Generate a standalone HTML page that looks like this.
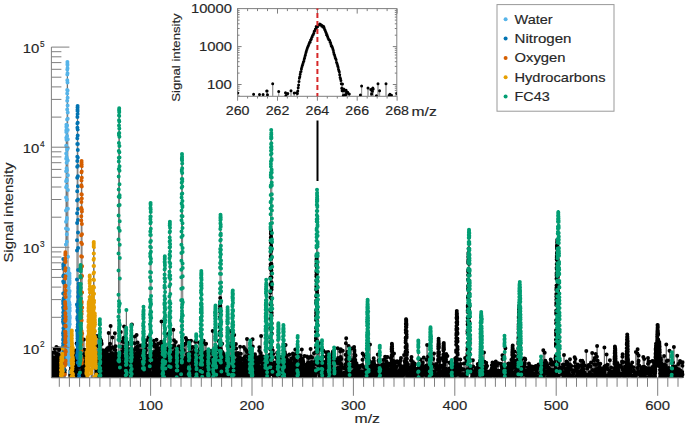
<!DOCTYPE html>
<html><head><meta charset="utf-8"><style>
html,body{margin:0;padding:0;background:#fff}
body{width:685px;height:429px;overflow:hidden}
svg{display:block}
text{font-family:"Liberation Sans",sans-serif;font-size:12.6px;fill:#262626;stroke:#262626;stroke-width:0.15px}
</style></head><body>
<svg width="685" height="429" viewBox="0 0 685 429">
<clipPath id="cm"><rect x="51.4" y="0" width="633.3" height="377.8"/></clipPath>
<g clip-path="url(#cm)">
<path d="M51.2 400 51.3 400 51.3 369.9 51.4 400 51.4 374.9 51.4 376.8 51.5 400 51.5 400 51.5 373.1 51.5 400 51.6 400 51.6 367.1 51.6 376.3 51.7 368.6 51.7 400 51.8 400 51.8 362.2 51.8 400 51.8 400 51.9 357.7 51.9 355.3 51.9 360.6 52 400 52 400 52 376.7 52.1 369.2 52.1 352.6 52.1 359.9 52.2 400 52.2 357.3 52.2 371.9 52.2 367.4 52.3 365.6 52.3 400 52.3 377.2 52.4 374 52.4 353.1 52.4 400 52.5 400 52.5 374.5 52.5 400 52.5 360.5 52.6 400 52.6 372.5 52.6 400 52.7 367.7 52.7 370.7 52.7 400 52.8 371 52.8 374 52.8 363.1 52.9 374.5 52.9 374 52.9 363.5 52.9 363.7 53 371.8 53 373.3 53 400 53.1 374.2 53.1 372.5 53.1 364.4 53.2 400 53.2 369.5 53.2 365.7 53.2 400 53.3 377 53.3 400 53.3 400 53.4 374 53.4 400 53.4 374.7 53.5 364.6 53.5 368.1 53.5 400 53.6 400 53.6 374 53.6 400 53.6 374.7 53.7 359.1 53.7 400 53.7 400 53.8 376.2 53.8 400 53.8 368.2 53.9 374.5 53.9 375.5 53.9 400 53.9 376.4 54 400 54 400 54 368.2 54.1 400 54.1 359.5 54.1 400 54.2 400 54.3 372.7 54.3 400 54.3 373.1 54.3 400 54.4 400 54.4 372.8 54.5 365.3 54.5 400 54.5 400 54.6 349 54.6 400 54.6 361.1 54.6 352.5 54.7 400 54.7 370.6 54.7 365.2 54.8 361.4 54.8 366.8 54.8 363.9 54.9 357.7 54.9 400 55 400 55 375.3 55 372.3 55.1 365.2 55.1 374.1 55.1 400 55.2 364.9 55.2 371.8 55.2 400 55.3 374.3 55.3 376.2 55.3 400 55.3 400 55.4 377.5 55.4 400 55.4 368.4 55.5 373.8 55.5 400 55.5 358.1 55.6 377.2 55.6 400 55.6 400 55.7 368.6 55.7 400 55.7 362.8 55.7 400 55.8 377.5 55.8 374.8 55.8 364.4 55.9 400 55.9 362.9 55.9 400 56 400 56 376.5 56 376 56.1 400 56.1 400 56.1 369.4 56.2 371.4 56.2 369.8 56.2 374.6 56.3 400 56.3 370.4 56.3 375.8 56.4 354.4 56.4 347 56.4 369.9 56.4 400 56.5 368.9 56.5 377.3 56.5 400 56.6 367.1 56.6 366.1 56.6 400 56.7 400 56.7 368.3 56.7 358.1 56.8 368.7 56.8 369.2 56.8 367.2 56.9 375.9 56.9 400 56.9 357.6 57 375.4 57 400 57 353.6 57.1 347.7 57.1 371.3 57.1 400 57.2 400 57.2 369.2 57.3 369.3 57.3 400 57.4 400 57.4 374.4 57.5 400 57.5 372.4 57.5 372.1 57.6 400 57.6 400 57.7 376.6 57.7 367.4 57.7 372.6 57.8 400 57.8 400 57.8 376.1 57.8 400 57.9 364.4 57.9 372.5 57.9 366.7 58 358.2 58 371.3 58 371.4 58.1 400 58.1 373.5 58.1 400 58.1 400 58.2 360.5 58.2 358.6 58.2 400 58.3 368.4 58.3 358.4 58.3 373.6 58.4 400 58.4 400 58.4 367.4 58.5 369 58.5 360.8 58.5 362.1 58.5 400 58.6 400 58.6 374.5 58.6 367.6 58.7 354.8 58.7 400 58.8 400 58.8 370.5 58.8 400 58.9 370.8 58.9 400 58.9 376.1 59 348.5 59 400 59 400 59.1 358.3 59.1 350.1 59.1 400 59.2 376 59.2 374.6 59.2 368.1 59.2 400 59.3 356.1 59.3 371.7 59.3 371.7 59.4 400 59.4 367.7 59.4 400 59.5 400 59.5 368.4 59.5 366.3 59.5 400 59.6 374.9 59.6 400 59.6 369.6 59.7 400 59.7 373 59.7 400 59.8 400 59.8 375.6 59.8 400 59.8 400 59.9 365.5 59.9 376.3 59.9 372.3 60 372.3 60 400 60 348.5 60.1 400 60.2 400 60.2 362.7 60.2 400 60.3 363.7 60.3 400 60.4 400 60.4 370.8 60.5 400 60.5 368.8 60.5 376.2 60.5 367.6 60.6 400 60.6 400 60.6 371.4 60.7 358.7 60.7 374.8 60.7 371.2 60.8 363 60.8 400 60.8 376.4 60.9 369.3 60.9 370 60.9 400 60.9 375.6 61 370 61 362.7 61 400 61.1 366.2 61.1 400 61.1 373.5 61.2 370.8 61.2 367 61.2 364.3 61.2 363.1 61.3 360.6 61.3 358.1 61.3 358.8 61.4 360.1 61.4 360.5 61.4 357.1 61.5 370.5 61.5 368.5 61.5 375 61.6 375.2 61.6 371 61.6 367.6 61.6 400 61.7 377 61.7 372.5 61.7 400 61.8 400 61.8 373.7 61.9 400 61.9 400 61.9 372.6 61.9 400 62 372.3 62 400 62 370.3 62.1 400 62.1 400 62.2 373.1 62.2 370.1 62.2 360.2 62.3 358.2 62.3 356 62.3 353.8 62.3 357.3 62.4 357.3 62.4 357.2 62.4 360.3 62.5 366.5 62.5 356.7 62.5 374.1 62.6 368.3 62.6 400 62.6 371.7 62.6 400 62.7 348.4 62.7 400 62.7 400 62.8 370.9 62.8 400 62.8 400 62.9 369 62.9 353.5 62.9 355.1 63 358.2 63 346.1 63 333.3 63 321.7 63.1 316.1 63.1 307.6 63.1 300.9 63.2 293.6 63.2 281.4 63.2 276.3 63.3 266.1 63.3 264.8 63.3 264.3 63.3 258.9 63.4 264.3 63.4 266.7 63.4 268.7 63.5 275.6 63.5 282.4 63.5 293.6 63.6 298.4 63.6 307.6 63.6 316.8 63.7 323.9 63.7 336.3 63.7 345.8 63.7 358.5 63.8 370.2 63.8 400 63.8 365.8 63.9 400 63.9 400 63.9 369.5 64 400 64 348.2 64 400 64.1 400 64.2 361.4 64.2 400 64.2 364.6 64.3 362.7 64.3 373.9 64.3 400 64.4 400 64.4 358.9 64.4 343.2 64.5 364.2 64.5 400 64.6 400 64.7 372.5 64.7 362 64.7 357.2 64.7 400 64.8 400 64.8 370.2 64.8 374.4 64.9 362.4 64.9 400 64.9 365.6 65 354.5 65 342.3 65 331.4 65.1 320.4 65.1 308.1 65.1 302 65.1 293.9 65.2 287.1 65.2 278.6 65.2 270.6 65.3 262 65.3 258.6 65.3 255 65.4 253.5 65.4 252.2 65.4 252.3 65.4 260 65.5 262 65.5 268.2 65.5 276.3 65.6 285.7 65.6 290.8 65.6 297 65.7 308.6 65.7 316.7 65.7 326.6 65.8 336.3 65.8 351.8 65.8 331.9 65.8 302.1 65.9 274.6 65.9 261.2 65.9 244.4 66 228.6 66 221.7 66 210.6 66.1 197.4 66.1 187.3 66.1 181.2 66.1 171.2 66.2 158.8 66.2 153.5 66.2 145.7 66.3 137.7 66.3 132 66.3 130.2 66.4 127.1 66.4 124.7 66.4 126.7 66.5 130.8 66.5 132 66.5 139.7 66.5 146.8 66.6 157.1 66.6 162.7 66.6 168.3 66.7 179.5 66.7 185.9 66.7 199.9 66.8 208.8 66.8 219.3 66.8 234.2 66.8 241.8 66.9 218 66.9 199.6 66.9 180.6 67 170.2 67 158.4 67 149.7 67.1 136 67.1 125.5 67.1 119.6 67.2 109.5 67.2 100.8 67.2 93.5 67.2 89.9 67.3 80.2 67.3 74.6 67.3 69.6 67.4 64.2 67.4 63.9 67.4 62 67.5 64.9 67.5 68.3 67.5 73.2 67.5 82.6 67.6 90.5 67.6 97.8 67.6 105.6 67.7 112.6 67.7 118.8 67.7 129.9 67.8 139.2 67.8 148.3 67.8 160.6 67.9 175.2 67.9 190 67.9 208.7 67.9 229.2 68 256.7 68 285.1 68 307.3 68.1 320.4 68.1 317.3 68.1 312.5 68.2 302.9 68.2 299.9 68.2 292.5 68.2 286 68.3 279.1 68.3 276.5 68.3 271.6 68.4 272.5 68.4 268.6 68.4 269.9 68.5 272.2 68.5 271.9 68.5 275 68.6 279.8 68.6 283.2 68.6 287.8 68.6 300.1 68.7 304 68.7 308.8 68.7 315 68.8 320.8 68.8 327.1 68.8 328.3 68.9 340.5 68.9 336.9 68.9 357 68.9 357.3 69 349.8 69 340.8 69 330.4 69.1 327.1 69.1 319.2 69.1 314.8 69.2 308.1 69.2 302.4 69.2 297.1 69.3 292.9 69.3 284 69.3 281.5 69.3 278.1 69.4 277.3 69.4 274.2 69.4 273.8 69.5 273.6 69.5 276 69.5 278.6 69.6 281 69.6 282.9 69.6 291 69.6 296.3 69.7 304.7 69.7 308 69.7 315.9 69.8 317.4 69.8 324.3 69.8 332 69.9 340.6 69.9 349.4 69.9 355.4 70 365.2 70 372.2 70 371.9 70 400 70.1 375 70.1 347.8 70.1 400 70.2 400 70.3 363.5 70.3 400 70.3 373.9 70.3 400 70.4 374 70.4 376.6 70.4 370.9 70.5 400 70.6 400 70.6 375.5 70.6 400 70.7 365.7 70.7 400 70.7 361.1 70.7 400 70.8 355 70.8 400 70.8 374.2 70.9 363.5 70.9 373.8 70.9 400 71 400 71 374.8 71 364.9 71 400 71.1 367.6 71.1 400 71.1 364.4 71.2 376.8 71.2 376.3 71.2 372.8 71.3 374.6 71.3 363.6 71.3 400 71.4 400 71.4 372.6 71.4 400 71.4 376.7 71.5 370.4 71.5 360.9 71.5 354.2 71.6 352.2 71.6 348.6 71.6 339.4 71.7 335.8 71.7 333.8 71.7 336.2 71.7 331.8 71.8 331.3 71.8 330.6 71.8 331.7 71.9 335.3 71.9 338.6 71.9 343 72 351 72 355.9 72 360 72.1 366.4 72.1 368 72.1 400 72.1 345.2 72.2 400 72.2 366.8 72.2 400 72.3 400 72.3 374.4 72.3 360.5 72.4 350.9 72.4 400 72.4 365.3 72.4 369.4 72.5 373.2 72.5 374.6 72.5 400 72.6 373.5 72.6 367.6 72.6 362.5 72.7 356.7 72.7 353.5 72.7 351.9 72.8 349.9 72.8 347.7 72.8 348.6 72.8 349.3 72.9 353 72.9 358.1 72.9 362.4 73 359.9 73 374.3 73 377 73.1 362.5 73.1 359.8 73.1 364.2 73.1 400 73.2 400 73.3 376.9 73.3 400 73.3 355 73.4 370.7 73.4 400 73.4 374.1 73.5 400 73.5 400 73.6 376.1 73.6 371 73.6 400 73.7 369 73.7 368.9 73.7 368.5 73.8 400 73.8 351.2 73.8 364.7 73.8 400 73.9 371.1 73.9 400 74 400 74 369.4 74 375.9 74.1 373.5 74.1 369.1 74.1 375.1 74.2 359.9 74.2 400 74.3 400 74.3 366.3 74.3 400 74.4 370.4 74.4 376.4 74.4 400 74.5 359.6 74.5 362.9 74.5 356.3 74.5 400 74.6 376.9 74.6 369.2 74.6 400 74.7 376.8 74.7 400 74.7 373.6 74.8 400 74.8 356.6 74.8 400 74.9 400 74.9 374.6 74.9 400 75 364.2 75 365.8 75 369.8 75.1 368.4 75.1 400 75.2 400 75.2 368.9 75.2 366.5 75.3 376.9 75.3 355 75.3 375.6 75.4 400 75.4 375.4 75.4 373.5 75.5 372.5 75.5 400 75.5 400 75.6 376.6 75.6 350.5 75.6 369.7 75.7 376.7 75.7 400 75.8 400 75.8 366 75.8 363.5 75.9 400 75.9 400 75.9 375.8 76 375.7 76 400 76 400 76.1 364.5 76.1 375.5 76.1 375.8 76.2 359.7 76.2 400 76.2 400 76.3 353 76.3 376.8 76.3 400 76.4 400 76.4 376.2 76.4 373.9 76.5 400 76.5 400 76.5 366.8 76.6 375.8 76.6 400 76.6 343.5 76.6 400 76.7 400 76.7 367 76.7 372 76.8 363.5 76.8 369 76.8 369.7 76.9 370.8 76.9 355.5 76.9 330.4 76.9 304.5 77 279.4 77 250.4 77 240.3 77.1 223 77.1 213.3 77.1 200.4 77.2 191.2 77.2 177.8 77.2 166.7 77.3 161.1 77.3 156.8 77.3 144 77.3 138.3 77.4 127.7 77.4 123.6 77.4 116.9 77.5 111 77.5 109.2 77.5 107.4 77.6 106 77.6 107.8 77.6 111.1 77.6 113.9 77.7 122.7 77.7 129.5 77.7 135.6 77.8 144 77.8 150 77.8 157.6 77.9 166.1 77.9 176.3 77.9 186.3 78 199.6 78 209 78 220.1 78 232.4 78.1 248 78.1 269.9 78.1 296.7 78.2 323.5 78.2 337.5 78.2 332 78.3 325.5 78.3 320.1 78.3 312.7 78.3 306.9 78.4 301.4 78.4 296.5 78.4 292.2 78.5 291.3 78.5 288.4 78.5 287.3 78.6 283.7 78.6 286.6 78.6 288.5 78.7 292.1 78.7 293.7 78.7 298.6 78.7 301.2 78.8 310.7 78.8 311.9 78.8 320.4 78.9 322.1 78.9 330 78.9 333.5 79 342.6 79 349.9 79 355.3 79 365.2 79.1 374.5 79.1 376.6 79.1 400 79.3 400 79.3 356.1 79.4 400 79.4 371.5 79.4 371.2 79.4 377.4 79.5 373.3 79.5 367 79.5 400 79.6 400 79.6 373.9 79.7 400 79.7 400 79.7 362.3 79.7 365 79.8 358.3 79.8 374.8 79.8 353.8 79.9 400 79.9 361.6 79.9 400 80 400 80 372.4 80 363.7 80.1 358.2 80.1 347.7 80.1 340.9 80.1 333 80.2 324.9 80.2 318.2 80.2 312.7 80.3 306 80.3 302 80.3 292.3 80.4 290.2 80.4 284.5 80.4 277.3 80.4 276.1 80.5 269.2 80.5 267.2 80.5 267.9 80.6 265 80.6 265.5 80.6 265.5 80.7 269.2 80.7 270.2 80.7 271.3 80.8 277.6 80.8 284.1 80.8 287.8 80.8 294 80.9 298.6 80.9 304.8 80.9 313.7 81 317.8 81 323.6 81 328.2 81.1 309 81.1 293 81.1 277.7 81.1 268.4 81.2 256.3 81.2 242.7 81.2 235.3 81.3 220.6 81.3 216.3 81.3 208.1 81.4 201.9 81.4 194.2 81.4 185.3 81.5 180.4 81.5 172.2 81.5 165.8 81.5 163.1 81.6 162.2 81.6 161 81.6 162.3 81.7 164.6 81.7 166.2 81.7 171.4 81.8 177.8 81.8 186.4 81.8 194.5 81.8 198.4 81.9 209.7 81.9 211.6 81.9 224.1 82 234.2 82 243.9 82 256.8 82.1 266.2 82.1 276 82.1 292.4 82.2 307.4 82.2 333.5 82.2 359.9 82.2 375.8 82.3 400 82.3 370 82.3 358.7 82.4 400 82.4 362.8 82.4 366.7 82.5 370 82.5 400 82.6 400 82.6 369.4 82.6 369.4 82.7 365.3 82.7 370.8 82.7 400 82.8 369.2 82.8 375.6 82.8 400 82.9 400 82.9 373 82.9 400 82.9 364.1 83 400 83 375.8 83 400 83.1 367 83.1 373 83.1 400 83.2 400 83.2 375.2 83.3 370.8 83.3 370.6 83.3 373.8 83.4 400 83.4 372.4 83.4 365.3 83.5 375.2 83.5 364.9 83.5 400 83.6 369.3 83.6 400 83.6 400 83.6 357.8 83.7 400 83.7 400 83.7 361.9 83.8 400 83.8 400 83.9 361.6 83.9 400 83.9 400 83.9 339.5 84 365.6 84 400 84 400 84.1 374.5 84.1 400 84.1 354 84.2 400 84.2 372 84.2 368.4 84.3 359 84.3 366.7 84.3 400 84.3 371.1 84.4 363 84.4 400 84.4 361.2 84.5 349.7 84.5 400 84.5 360.6 84.6 400 84.6 400 84.6 367.9 84.6 400 84.7 400 84.7 363.7 84.8 375.3 84.8 357.8 84.8 370.1 84.9 358.8 84.9 400 84.9 400 85 374.9 85 400 85 400 85 355.7 85.1 376.1 85.1 400 85.1 367.5 85.2 400 85.2 400 85.2 363.3 85.3 400 85.3 364.8 85.3 400 85.5 400 85.5 377.3 85.5 400 85.6 374.5 85.6 376.8 85.6 372.5 85.7 400 85.7 400 85.7 368.4 85.7 400 85.8 361.8 85.8 360.4 85.8 400 85.9 400 85.9 373.4 86 367.6 86 400 86 363.5 86 400 86.1 400 86.1 374.6 86.1 400 86.2 370.2 86.2 400 86.2 400 86.3 373 86.3 400 86.4 400 86.4 368.4 86.4 400 86.4 400 86.5 374.1 86.5 371 86.5 363.4 86.6 359.4 86.6 357.7 86.6 352.3 86.7 354.3 86.7 354.4 86.7 353.2 86.7 353.6 86.8 359.7 86.8 361.2 86.8 369.1 86.9 368 86.9 400 86.9 400 87 359.1 87 370.5 87 361.4 87.1 364.3 87.1 365.3 87.1 370.5 87.1 371.1 87.2 400 87.2 377.5 87.2 400 87.3 359.5 87.3 367.3 87.3 400 87.4 364.7 87.4 400 87.4 376.6 87.4 372.1 87.5 363.7 87.5 358.4 87.5 350.1 87.6 345.9 87.6 344.1 87.6 340 87.7 338.9 87.7 336.9 87.7 337.8 87.8 339.5 87.8 341.6 87.8 341.4 87.8 348.4 87.9 355.9 87.9 365.2 87.9 371.1 88 375 88 400 88 368.6 88.1 400 88.2 400 88.2 367.6 88.3 365.6 88.3 357.9 88.3 351.5 88.4 348 88.4 341.2 88.4 336 88.5 331.1 88.5 326.2 88.5 319.8 88.5 316.2 88.6 308.1 88.6 308.6 88.6 307.2 88.7 303.7 88.7 302 88.7 304.4 88.8 305.8 88.8 304.2 88.8 308.3 88.8 311.5 88.9 317.1 88.9 326 88.9 327.9 89 333.9 89 336.5 89 343.3 89.1 348.4 89.1 355.6 89.1 358.6 89.2 365.8 89.2 359.2 89.2 351.1 89.2 344.9 89.3 337.2 89.3 329.9 89.3 324.7 89.4 321.3 89.4 318.2 89.4 311.4 89.5 306.2 89.5 299.9 89.5 297 89.5 289.2 89.6 281.7 89.6 280.6 89.6 283.3 89.7 276.3 89.7 277 89.7 275.6 89.8 276.4 89.8 281.8 89.8 279.9 89.8 281.4 89.9 286.3 89.9 292.4 89.9 297.6 90 302.4 90 309 90 314.3 90.1 319.7 90.1 326.4 90.1 331.1 90.2 334.5 90.2 342.5 90.2 351.9 90.2 360.7 90.3 363 90.3 359.9 90.3 352.8 90.4 347.3 90.4 343 90.4 335.6 90.5 331.1 90.5 326.5 90.5 318.7 90.5 317.3 90.6 309.4 90.6 309.6 90.6 305.9 90.7 303.4 90.7 301.4 90.7 301 90.8 302.8 90.8 301.9 90.8 301.7 90.9 307.3 90.9 312.5 90.9 312.5 90.9 319.7 91 326.4 91 332.8 91 335.5 91.1 343.4 91.1 348 91.1 352.5 91.2 358.1 91.2 365.8 91.2 373.3 91.2 400 91.3 400 91.4 372.7 91.4 369.6 91.4 364.4 91.5 356.2 91.5 352 91.5 331.8 91.6 339.9 91.6 337.3 91.6 331.4 91.6 329.7 91.7 329.3 91.7 326.9 91.7 324.9 91.8 324.2 91.8 330.5 91.8 330.8 91.9 331 91.9 334.4 91.9 338 91.9 346.2 92 350 92 353.7 92 358.4 92.1 366.3 92.1 351.6 92.1 364.5 92.2 357.1 92.2 400 92.2 349.5 92.3 368.3 92.3 360.9 92.3 350.4 92.3 345.9 92.4 343 92.4 334.2 92.4 329.2 92.5 322.4 92.5 318.9 92.5 312.6 92.6 307 92.6 304 92.6 298.8 92.6 297 92.7 291.1 92.7 292.8 92.7 287.1 92.8 287.6 92.8 289.6 92.8 294.8 92.9 295.9 92.9 298.1 92.9 300.7 93 305.1 93 312.8 93 317.5 93 322.5 93.1 330.3 93.1 333.2 93.1 337.6 93.2 344 93.2 350.1 93.2 356.2 93.3 361.8 93.3 354 93.3 340.7 93.3 327.6 93.4 320.2 93.4 309.9 93.4 301.5 93.5 293.2 93.5 286.5 93.5 279.4 93.6 273.4 93.6 266.1 93.6 259.8 93.7 253.4 93.7 246.8 93.7 245.1 93.7 242.4 93.8 241.9 93.8 243.5 93.8 245 93.9 247.3 93.9 253.4 93.9 258.7 94 266.1 94 272.5 94 280 94 287.6 94.1 293.8 94.1 300.8 94.1 307.3 94.2 321.9 94.2 332.1 94.2 338.8 94.3 352.8 94.3 361.6 94.3 377 94.4 348.9 94.4 366.5 94.4 354.8 94.4 356.2 94.5 353.4 94.5 347.8 94.5 338.2 94.6 337.7 94.6 330.6 94.6 326 94.7 321.3 94.7 322 94.7 317.7 94.7 317.6 94.8 315.1 94.8 313.5 94.8 316.5 94.9 315.8 94.9 319.9 94.9 324.5 95 324.5 95 331.3 95 337.7 95.1 339.8 95.1 348 95.1 351.3 95.1 359.4 95.2 361.6 95.2 361.6 95.2 358.7 95.3 400 95.3 400 95.4 353.4 95.4 400 95.4 354.4 95.4 400 95.6 400 95.6 377.5 95.6 339 95.7 361.6 95.7 360.9 95.7 355.2 95.8 357 95.8 354 95.8 352.6 95.8 355.9 95.9 358.6 95.9 359 95.9 363.5 96 367 96 366.1 96 365.2 96.1 368.1 96.1 375.1 96.1 400 96.2 400 96.2 374.4 96.2 400 96.3 367.2 96.3 400 96.3 400 96.4 374 96.4 400 96.5 400 96.6 369.8 96.6 400 96.6 400 96.7 371.8 96.7 400 96.7 376.8 96.8 372.8 96.8 374.4 96.8 400 96.8 366.1 96.9 358.7 96.9 345.9 96.9 360 97 400 97 371.1 97 377.1 97.1 400 97.1 336.1 97.1 377.5 97.2 400 97.2 400 97.2 353.5 97.3 400 97.3 372 97.3 373.9 97.4 361.1 97.4 400 97.4 400 97.5 359.7 97.5 374.6 97.5 400 97.6 400 97.6 361.2 97.6 400 97.7 400 97.7 361.8 97.7 375.9 97.8 376.5 97.8 370.6 97.8 369.8 97.9 367.4 97.9 400 97.9 374.3 97.9 400 98 400 98 374.8 98 400 98.1 363.4 98.1 400 98.3 400 98.3 367.7 98.4 400 98.4 400 98.5 376.1 98.5 400 98.5 365.1 98.6 400 98.6 362.2 98.6 367.6 98.6 400 98.7 336.6 98.7 375.4 98.7 336.4 98.8 400 98.8 376.4 98.8 370.9 98.9 400 98.9 400 99 373.1 99 400 99.1 400 99.1 361.7 99.2 358.8 99.2 400 99.2 400 99.3 369.1 99.3 373.2 99.3 400 99.3 354.2 99.4 400 99.4 371.3 99.4 375.7 99.5 369.9 99.5 367.3 99.5 364 99.6 356.7 99.6 351.4 99.6 343.9 99.6 340.7 99.7 336.3 99.7 329.3 99.7 324.5 99.8 324.3 99.8 321.1 99.8 323.6 99.9 319.3 99.9 323.2 99.9 323.1 100 324.5 100 328.8 100 331.8 100 337 100.1 341.9 100.1 344.6 100.1 348.7 100.2 356 100.2 361.9 100.2 368 100.3 361.9 100.3 375.1 100.3 400 100.4 400 100.4 375.7 100.5 371.1 100.5 339.6 100.5 366.6 100.6 367.5 100.6 400 100.6 400 100.7 362.7 100.7 364.4 100.7 400 100.7 400 100.8 372.2 100.8 400 100.9 400 101 365.7 101 400 101 363.2 101 400 101.1 371.1 101.1 357.4 101.1 400 101.2 340.8 101.2 400 101.4 400 101.4 367.5 101.5 367.4 101.5 343.1 101.5 362 101.6 360.5 101.6 400 101.6 368.1 101.7 367.5 101.7 400 101.7 344.1 101.7 359.4 101.8 400 101.8 400 101.8 376.5 101.9 370.8 101.9 372.8 101.9 400 102 400 102 377.3 102 400 102.1 350.8 102.1 400 102.1 365.1 102.1 374.6 102.2 368.8 102.2 356.9 102.2 400 102.3 400 102.4 371.1 102.4 350.6 102.4 400 102.4 400 102.5 358 102.5 400 102.6 400 102.6 360.5 102.6 400 102.7 365.5 102.7 376.8 102.7 370.7 102.8 365.1 102.8 362 102.8 400 102.9 400 102.9 368.4 102.9 350.2 103 400 103 400 103 361.4 103.1 372.7 103.1 400 103.2 400 103.2 361.8 103.2 357.5 103.3 400 103.3 400 103.4 372.6 103.4 370.1 103.4 354.2 103.5 400 103.5 400 103.5 372.2 103.5 400 103.6 374.9 103.6 365.8 103.6 400 103.7 374.3 103.7 368.3 103.7 365.6 103.8 369.4 103.8 400 103.8 352.8 103.8 400 103.9 352.7 103.9 373.7 103.9 400 104 372.3 104 367 104 400 104.1 400 104.2 371.4 104.2 400 104.2 400 104.3 376.3 104.3 368.1 104.3 400 104.4 400 104.4 362.3 104.5 400 104.5 400 104.6 363.4 104.6 400 104.7 400 104.7 363.2 104.7 400 104.8 374 104.8 400 104.8 400 104.8 375.1 104.9 400 104.9 400 104.9 367.1 105 400 105 352.6 105 365.7 105.1 355.7 105.1 400 105.1 368.2 105.2 400 105.2 373.7 105.2 400 105.2 365.3 105.3 400 105.3 400 105.4 355.5 105.4 358.1 105.4 400 105.6 400 105.6 356.1 105.6 377.5 105.7 400 105.7 376.9 105.7 361 105.8 400 105.8 360.5 105.8 364.9 105.9 376.3 105.9 400 106 400 106 351.5 106.1 372.2 106.1 400 106.1 400 106.2 366.9 106.2 372.4 106.2 400 106.4 400 106.4 353 106.4 349.6 106.5 400 106.5 354 106.5 400 106.6 373 106.6 400 106.6 400 106.6 371.4 106.7 400 106.7 400 106.8 368.7 106.8 371.7 106.8 400 106.9 400 106.9 350.9 107 400 107 400 107.1 377.2 107.1 400 107.1 369.7 107.2 400 107.2 400 107.3 369.4 107.3 348.3 107.3 360.7 107.3 400 107.4 377.4 107.4 349.6 107.4 370.8 107.5 400 107.6 400 107.6 367.4 107.7 371.8 107.7 400 107.7 372.6 107.8 400 107.8 363.6 107.8 400 107.9 365 107.9 376.7 107.9 359.2 108 400 108 400 108 373 108.1 369.5 108.1 400 108.2 400 108.3 365.6 108.3 400 108.3 367.7 108.3 400 108.4 374.5 108.4 400 108.5 400 108.5 377.1 108.5 400 108.7 400 108.7 333.1 108.7 370 108.8 400 108.8 354.7 108.8 375.9 108.9 357.5 108.9 347.3 108.9 365.1 109 371.8 109 400 109 372.9 109 375.5 109.1 400 109.2 400 109.2 359.7 109.3 356 109.3 400 109.3 362.2 109.4 400 109.4 365.7 109.4 372.5 109.4 400 109.5 362.2 109.5 400 109.5 400 109.6 376.1 109.6 400 109.6 374.9 109.7 371.6 109.7 349.6 109.7 400 109.7 371.5 109.8 400 109.8 347.3 109.8 370.4 109.9 373.2 109.9 400 109.9 400 110 374.6 110 400 110 400 110.1 350 110.1 368.6 110.1 400 110.1 343.8 110.2 400 110.2 400 110.2 358.3 110.3 376 110.3 359.1 110.3 354.4 110.4 374.5 110.4 374 110.4 400 110.4 376.9 110.5 366.4 110.5 363.7 110.5 400 110.6 359.8 110.6 400 110.6 325.9 110.7 400 110.7 365.6 110.7 367.3 110.8 400 110.8 400 110.8 369.1 110.8 376.6 110.9 367 110.9 400 110.9 360.5 111 361.7 111 400 111.1 400 111.1 358.6 111.1 367 111.1 368.2 111.2 362.6 111.2 400 111.2 366.7 111.3 355.2 111.3 400 111.4 400 111.4 376.8 111.4 362.1 111.5 400 111.6 400 111.6 368 111.6 400 111.7 356.5 111.7 400 111.7 353 111.8 372.7 111.8 353.2 111.8 376.1 111.8 358.6 111.9 400 111.9 358.3 111.9 373.8 112 400 112.2 400 112.2 359.5 112.2 361.8 112.2 400 112.3 368.9 112.3 400 112.3 364.2 112.4 358.6 112.4 400 112.4 400 112.5 337.6 112.5 347.3 112.5 400 112.5 400 112.6 365.9 112.6 400 112.8 400 112.9 347.8 112.9 363.3 112.9 400 112.9 359.1 113 400 113 400 113.1 376.3 113.1 365.6 113.1 400 113.2 376.1 113.2 400 113.2 374.9 113.2 361.2 113.3 373.2 113.3 374.1 113.3 377.2 113.4 369.3 113.4 400 113.4 400 113.5 356.8 113.5 357.7 113.5 372.4 113.6 400 113.6 373.2 113.6 400 113.6 365.2 113.7 372.5 113.7 376.5 113.7 400 113.8 359.9 113.8 400 113.8 400 113.9 359.7 113.9 376.4 113.9 400 113.9 400 114 354.1 114 372 114 371.5 114.1 400 114.3 400 114.3 358.5 114.4 376.3 114.4 400 114.4 377.3 114.5 400 114.5 400 114.6 375.5 114.6 400 114.6 400 114.6 349.7 114.7 400 114.7 400 114.7 373.5 114.8 369.9 114.8 368.6 114.8 400 114.9 400 114.9 333.3 114.9 369.6 115 400 115 373.6 115 359.5 115 400 115.1 400 115.2 373.2 115.2 364.7 115.2 400 115.3 400 115.3 374 115.3 400 115.3 365.4 115.4 360.6 115.4 374.9 115.4 349.9 115.5 369.6 115.5 346.2 115.5 400 115.6 362.8 115.6 400 115.7 400 115.7 370.4 115.7 400 115.7 366.8 115.8 400 115.8 400 115.8 368.9 115.9 376.2 115.9 400 115.9 370.1 116 400 116 365 116 368.6 116 400 116.1 400 116.1 375.7 116.2 371.6 116.2 400 116.2 357.3 116.3 353.4 116.3 400 116.6 400 116.6 359.5 116.6 375 116.7 400 116.7 369.6 116.7 400 116.7 357.9 116.8 371.5 116.8 366.6 116.8 373.1 116.9 367.7 116.9 369.8 116.9 400 117 356.7 117 372.4 117 400 117.1 400 117.1 376.3 117.1 363 117.1 400 117.2 361.7 117.2 373.3 117.2 400 117.3 400 117.3 374.5 117.3 400 117.4 400 117.4 364.6 117.4 376.4 117.4 374.4 117.5 400 117.5 371.8 117.5 363.7 117.6 366.5 117.6 400 117.6 400 117.7 376.6 117.7 400 117.7 400 117.8 372.5 117.8 400 117.8 365.9 117.8 400 117.9 374.2 117.9 371.2 117.9 400 118 400 118.1 369.1 118.1 366 118.1 367.1 118.1 400 118.2 400 118.2 373.9 118.2 369.3 118.3 400 118.3 375.7 118.3 400 118.4 360.6 118.4 339.8 118.4 316.8 118.5 294.7 118.5 270.4 118.5 253.4 118.5 239.5 118.6 228 118.6 215.6 118.6 205.4 118.7 196.7 118.7 189.6 118.7 176.6 118.8 169.1 118.8 161.6 118.8 157.8 118.8 151.1 118.9 143.1 118.9 135.1 118.9 133.5 119 125.4 119 120.2 119 115.6 119.1 110.5 119.1 109.2 119.1 110.3 119.2 108.3 119.2 111.3 119.2 112.2 119.2 116.1 119.3 121.4 119.3 128.6 119.3 133 119.4 136.7 119.4 146 119.4 152.2 119.5 157.6 119.5 166.3 119.5 170.8 119.5 184.3 119.6 195.2 119.6 197.3 119.6 205 119.7 221.3 119.7 230.7 119.7 244.8 119.8 258 119.8 278.4 119.8 303.4 119.8 324.9 119.9 346.4 119.9 367.4 119.9 375.2 120 374 120 359.2 120 400 120.1 400 120.1 369.5 120.1 400 120.2 400 120.2 357.8 120.2 400 120.3 400 120.3 372.5 120.3 400 120.4 375.2 120.4 400 120.4 365.3 120.5 400 120.5 368.1 120.5 400 120.5 400 120.6 357.9 120.6 357.9 120.6 400 120.7 365 120.7 369.7 120.7 364.4 120.8 400 120.8 364.9 120.8 331.9 120.9 400 120.9 400 121 362.9 121 363.4 121 400 121.1 400 121.1 368.1 121.1 400 121.2 356.6 121.2 400 121.3 400 121.3 366.4 121.3 400 121.4 362.4 121.4 400 121.5 400 121.5 373.4 121.6 400 121.6 353.2 121.6 365 121.6 376.7 121.7 400 121.7 400 121.8 371 121.8 372.9 121.8 400 121.9 356.6 121.9 400 121.9 346.8 121.9 365 122 400 122 369.2 122 374.9 122.1 375.1 122.1 400 122.1 376.1 122.2 357.3 122.2 371.4 122.2 351.5 122.3 374.8 122.3 400 122.3 400 122.3 355.5 122.4 341.6 122.4 400 122.4 377.3 122.5 400 122.5 400 122.5 375.7 122.6 357.3 122.6 400 122.8 400 122.8 372.3 122.8 377.5 122.9 377.1 122.9 400 123 400 123 361.2 123 400 123 371.7 123.1 364 123.1 400 123.1 369.7 123.2 369.5 123.2 400 123.3 400 123.3 371.9 123.3 400 123.3 400 123.4 364.7 123.4 400 123.4 400 123.5 338.3 123.5 375 123.5 400 123.6 364.4 123.6 400 123.6 348.8 123.7 400 123.7 400 123.7 372.1 123.7 400 123.8 341.9 123.8 400 123.8 337.8 123.9 400 124 400 124 362 124 400 124 400 124.1 357.8 124.1 326.6 124.1 372.5 124.2 400 124.2 365.6 124.2 370.9 124.3 371.3 124.3 400 124.3 365.9 124.4 400 124.4 400 124.4 347 124.4 400 124.5 366.9 124.5 400 124.5 364.9 124.6 372.5 124.6 400 124.6 365.8 124.7 367.1 124.7 400 124.7 376 124.7 367.4 124.8 400 124.8 400 124.8 377.2 124.9 371.3 124.9 400 124.9 376.2 125 400 125.1 400 125.1 351.2 125.1 377.4 125.1 400 125.2 400 125.2 376.6 125.2 400 125.3 400 125.3 351.3 125.4 357.8 125.4 365.6 125.4 375.7 125.4 362.7 125.5 400 125.5 359.4 125.5 361.5 125.6 400 125.6 363.8 125.6 400 125.7 400 125.7 375.2 125.8 400 125.8 346.9 125.8 352 125.8 370.8 125.9 365.1 125.9 361.6 125.9 356.5 126 354.6 126 349.6 126 340.9 126.1 340.2 126.1 338.4 126.1 339.5 126.1 332.1 126.2 330.2 126.2 328.3 126.2 327.7 126.3 329.7 126.3 333.4 126.3 333.5 126.4 310 126.4 338.6 126.4 341.4 126.5 348 126.5 344 126.5 356 126.5 361.4 126.6 349.6 126.6 364.6 126.6 374.6 126.7 400 126.7 372.6 126.7 350.8 126.8 358.6 126.8 360.4 126.8 355.9 126.8 400 126.9 357.9 126.9 344.5 126.9 400 127 400 127.1 375.8 127.1 375.7 127.1 357.1 127.2 400 127.3 400 127.3 373.7 127.4 372 127.4 355.7 127.4 400 127.5 400 127.6 342.8 127.6 400 127.6 344.9 127.7 400 127.7 354.4 127.7 400 127.8 400 127.8 350.2 127.8 400 127.9 400 127.9 368 127.9 400 127.9 374.1 128 400 128 400 128.1 348.9 128.1 400 128.1 400 128.2 373.7 128.2 350.4 128.2 359.6 128.2 353.4 128.3 376.7 128.3 400 128.3 400 128.4 366.7 128.4 400 128.5 400 128.5 354.3 128.6 400 128.6 356.6 128.6 362.8 128.6 400 128.7 400 128.7 372 128.8 400 128.9 400 128.9 366 128.9 377.4 128.9 400 129 373.3 129 353.9 129 360.9 129.1 349.5 129.1 400 129.1 365.4 129.2 400 129.2 370.8 129.2 400 129.3 400 129.3 365.7 129.3 400 129.4 400 129.5 362.6 129.5 400 129.5 375.5 129.6 368.6 129.6 400 129.6 376.2 129.6 375.1 129.7 400 129.8 400 129.8 374.6 129.8 373.6 129.9 400 129.9 363.7 129.9 359.8 130 400 130 377.4 130 400 130 400 130.1 377 130.1 375.8 130.1 400 130.2 374 130.2 400 130.2 400 130.3 351.7 130.3 400 130.3 400 130.3 372.5 130.4 372.3 130.4 400 130.4 400 130.5 349.1 130.5 361.9 130.5 400 130.6 370.5 130.6 400 130.6 364.8 130.7 374.4 130.7 361.2 130.7 400 130.7 400 130.8 357.8 130.8 343.7 130.8 376.3 130.9 370.2 130.9 372.6 130.9 365.7 131 361.8 131 353.9 131 353.6 131 350 131.1 344 131.1 338 131.1 335.6 131.2 331.2 131.2 331.2 131.2 330.4 131.3 327.5 131.3 324.9 131.3 326.2 131.4 326.3 131.4 330.2 131.4 332.9 131.4 332.9 131.5 335.4 131.5 341 131.5 344.5 131.6 351.3 131.6 356.9 131.6 357.2 131.7 354.5 131.7 368.9 131.7 373.9 131.7 400 131.8 400 131.9 357.2 131.9 400 131.9 324.6 132 400 132 374.7 132 400 132.1 371.9 132.1 400 132.2 400 132.2 342.8 132.2 400 132.3 369.3 132.3 372.1 132.3 400 132.5 400 132.5 372.8 132.6 400 132.6 373.7 132.6 400 132.8 400 132.8 362.8 132.9 400 132.9 400 133 351.6 133 367.2 133 400 133.1 400 133.1 376.7 133.1 400 133.2 400 133.2 373.2 133.2 376.6 133.3 400 133.3 400 133.4 358.6 133.4 400 133.4 357.2 133.5 400 133.5 400 133.5 363.1 133.5 400 133.6 400 133.6 367.8 133.7 400 133.7 400 133.8 359.9 133.8 366.7 133.8 400 133.8 375.3 133.9 372.2 133.9 364.9 133.9 400 134 400 134.1 362.3 134.1 400 134.2 400 134.2 356.7 134.2 364.9 134.3 400 134.3 360.4 134.3 400 134.5 400 134.5 343.3 134.6 369.2 134.6 400 134.7 400 134.7 354.2 134.7 355.9 134.8 400 134.8 400 134.8 336.6 134.8 400 134.9 348.9 134.9 375.8 134.9 400 135 357 135 400 135 400 135.1 355.1 135.1 400 135.1 363.4 135.2 373.2 135.2 360 135.2 400 135.3 400 135.3 377.3 135.3 360.1 135.4 400 135.4 400 135.5 376.8 135.5 400 135.5 400 135.6 374.5 135.6 400 135.6 367.4 135.7 361 135.7 400 135.7 400 135.8 367.8 135.8 367.3 135.8 367.3 135.9 400 135.9 400 135.9 361.5 135.9 400 136 400 136 366.4 136 400 136.1 374.8 136.1 365.9 136.1 400 136.2 347.3 136.2 365.4 136.2 400 136.2 374.7 136.3 356.5 136.3 400 136.3 376.1 136.4 347.9 136.4 400 136.5 400 136.5 374.2 136.5 400 136.6 400 136.6 376.3 136.6 400 136.6 335 136.7 400 136.7 368.9 136.7 376.8 136.8 359.4 136.8 400 136.8 349.7 136.9 400 136.9 358.4 136.9 369.7 136.9 352.4 137 400 137 369.2 137 400 137.1 376.6 137.1 400 137.1 400 137.2 370.7 137.2 400 137.2 356.3 137.3 366.6 137.3 371.6 137.3 400 137.3 400 137.4 368.5 137.4 362.1 137.4 400 137.5 370.2 137.5 349.4 137.5 346.6 137.6 342.5 137.6 350.8 137.6 400 137.6 348.1 137.7 361.6 137.7 400 137.7 350.9 137.8 375.3 137.8 400 137.8 367 137.9 400 137.9 368.1 137.9 352.1 138 376.8 138 366.7 138 400 138 376.2 138.1 373.2 138.1 400 138.1 400 138.2 359.2 138.2 400 138.2 400 138.3 372.7 138.3 372.2 138.3 400 138.3 361.9 138.4 360 138.4 353.8 138.4 400 138.5 400 138.6 353.3 138.6 400 138.7 400 138.8 363.8 138.8 359.7 138.8 363.9 138.9 400 138.9 400 139 373.7 139 369.6 139 357 139 374.1 139.1 365.8 139.1 372.2 139.1 400 139.2 400 139.2 370.7 139.2 360.5 139.3 368.3 139.3 400 139.3 400 139.4 350.3 139.4 400 139.4 374.9 139.4 371.4 139.5 400 139.5 400 139.6 376.1 139.6 376.8 139.6 400 139.7 400 139.7 368 139.8 400 139.8 371.9 139.8 400 139.9 400 140 369.3 140 368.1 140 400 140.1 400 140.1 345.4 140.1 369.2 140.1 400 140.2 400 140.2 368.4 140.3 400 140.4 400 140.5 371.2 140.5 400 140.6 400 140.6 365.5 140.6 369.6 140.7 400 140.7 400 140.7 366.3 140.8 400 140.8 372.9 140.8 400 140.8 361 140.9 377.1 140.9 400 140.9 370.8 141 364.3 141 370.8 141 368.1 141.1 375 141.1 377.4 141.1 400 141.1 370.4 141.2 400 141.2 400 141.3 375.7 141.3 400 141.3 374.4 141.4 363.4 141.4 400 141.4 400 141.5 374.2 141.5 352.9 141.5 400 141.5 400 141.6 354.8 141.6 374.4 141.6 376 141.7 350.5 141.7 400 141.7 400 141.8 365.2 141.8 400 141.8 400 141.9 376.4 141.9 400 141.9 351.2 142 400 142 361 142 345.6 142.1 400 142.2 400 142.2 376 142.2 400 142.2 400 142.3 371.4 142.3 400 142.3 400 142.4 361.8 142.4 366.9 142.4 373.9 142.5 361.7 142.5 356.6 142.5 373.4 142.5 400 142.6 400 142.6 370.4 142.7 369.3 142.7 400 142.7 369.1 142.8 400 142.8 360.4 142.8 400 142.9 400 142.9 353.5 142.9 358.4 142.9 368.3 143 361.6 143 362.3 143 355.4 143.1 325.8 143.1 344.7 143.1 339.8 143.2 337.6 143.2 333.5 143.2 325.6 143.2 323.7 143.3 315 143.3 316.8 143.3 314.5 143.4 311.4 143.4 312.3 143.4 312.1 143.5 306.7 143.5 310.3 143.5 311.5 143.6 310 143.6 310.5 143.6 314 143.6 317.6 143.7 322.1 143.7 326.7 143.7 331.5 143.8 333.7 143.8 339.5 143.8 341.6 143.9 344.8 143.9 350.4 143.9 357.8 143.9 362.3 144 368.1 144 369.4 144 358.9 144.1 400 144.1 400 144.1 370.7 144.2 400 144.2 400 144.2 369.4 144.3 400 144.3 363 144.3 400 144.3 377 144.4 372.5 144.4 400 144.4 400 144.5 375.3 144.5 400 144.5 400 144.6 365.1 144.6 364.8 144.6 400 144.6 362.5 144.7 373 144.7 400 144.8 400 144.9 371.2 144.9 400 144.9 400 145 355.6 145 400 145 374.3 145 400 145.2 400 145.2 357.2 145.2 343.2 145.3 356.3 145.3 400 145.3 365.9 145.3 352 145.4 370.6 145.4 400 145.4 364 145.5 400 145.6 400 145.6 344.7 145.7 370.1 145.7 365.2 145.7 355.6 145.7 348.9 145.8 376.4 145.8 400 145.8 358.5 145.9 400 145.9 400 145.9 355.4 146 366 146 374.5 146 350.3 146 400 146.1 361.3 146.1 365.6 146.1 400 146.2 375 146.2 400 146.3 400 146.3 360.9 146.3 363.8 146.4 400 146.4 373.3 146.4 400 146.4 340.2 146.5 374.8 146.5 365.4 146.5 400 146.6 400 146.6 365.1 146.7 400 146.7 400 146.7 345.5 146.7 400 146.8 400 146.8 371 146.8 377.4 146.9 400 146.9 372.3 146.9 375.1 147 400 147 400 147 359.6 147.1 374.8 147.1 400 147.1 400 147.1 370.1 147.2 400 147.2 370.9 147.2 400 147.3 373.6 147.3 400 147.3 375.3 147.4 400 147.4 371.3 147.4 374.2 147.4 377 147.5 356.7 147.5 358.8 147.5 362.3 147.6 400 147.6 376.2 147.6 400 147.8 400 147.8 376.1 147.8 400 147.9 377.1 147.9 400 147.9 375.9 148 400 148 363.4 148 400 148.1 368.2 148.1 400 148.1 400 148.1 361.7 148.2 400 148.2 363 148.2 369.3 148.3 365.9 148.3 371.5 148.3 400 148.4 337.3 148.4 375.1 148.4 366.3 148.5 400 148.6 400 148.7 368.1 148.7 400 148.8 400 148.8 375.6 148.9 373.8 148.9 400 148.9 400 149 368.9 149 376.1 149 355.4 149.1 400 149.1 365.8 149.1 400 149.2 400 149.2 376.6 149.2 400 149.2 371.6 149.3 400 149.3 376.5 149.3 375.1 149.4 376.5 149.4 374.9 149.4 372.9 149.5 371.2 149.5 377.5 149.5 357.9 149.5 372.9 149.6 400 149.6 400 149.6 364.7 149.7 400 149.7 400 149.7 372.2 149.8 365.7 149.8 400 149.8 366.2 149.8 366.2 149.9 347.8 149.9 335.3 149.9 324.2 150 314.6 150 307.2 150 299.4 150.1 288.3 150.1 277.3 150.1 272.1 150.2 263.6 150.2 256.5 150.2 253.6 150.2 246.7 150.3 242.1 150.3 235.1 150.3 231.4 150.4 223.2 150.4 219.2 150.4 216.4 150.5 207.7 150.5 208.6 150.5 208.5 150.5 203.3 150.6 203 150.6 204.7 150.6 208.7 150.7 209.5 150.7 212 150.7 216.4 150.8 222.2 150.8 228.8 150.8 235 150.9 241.1 150.9 247.4 150.9 251.7 150.9 258.8 151 262.1 151 272.5 151 281.1 151.1 288.3 151.1 296 151.1 304 151.2 312.1 151.2 318 151.2 332.8 151.2 343.9 151.3 359.9 151.3 400 151.3 377.4 151.4 400 151.4 400 151.4 373.5 151.5 400 151.5 366.2 151.5 344.9 151.6 377.1 151.6 400 151.6 367 151.6 400 151.7 400 151.7 365.4 151.7 400 151.8 351.9 151.8 364.5 151.8 400 151.9 400 151.9 368 151.9 359.5 152 400 152 363.7 152 400 152.1 367.3 152.1 375.5 152.1 400 152.2 366.2 152.2 356.7 152.2 354.1 152.3 400 152.3 354.5 152.3 400 152.4 400 152.5 353.6 152.5 400 152.5 400 152.6 367.2 152.6 364.8 152.6 368.1 152.6 368.3 152.7 400 152.7 400 152.7 376.6 152.8 400 152.8 400 152.8 372.8 152.9 363.5 152.9 400 153.1 400 153.1 376.1 153.1 369.3 153.2 362.9 153.2 400 153.2 359.6 153.3 367.8 153.3 400 153.3 400 153.4 360.9 153.4 368.6 153.4 360.1 153.5 400 153.5 375.6 153.5 400 153.6 400 153.6 371.8 153.6 400 153.7 376.7 153.7 400 153.8 400 153.8 368.1 153.9 340.7 153.9 400 154 400 154 372.8 154 400 154.1 363.4 154.1 400 154.1 374.3 154.2 373.5 154.2 370.1 154.2 368.6 154.3 400 154.3 377.1 154.3 368.3 154.4 400 154.4 400 154.4 364.9 154.4 346.2 154.5 369.1 154.5 358.3 154.5 358.7 154.6 343.9 154.6 400 154.6 372.9 154.7 400 154.7 400 154.7 366.1 154.7 400 154.8 363.9 154.8 351.8 154.8 369.4 154.9 400 154.9 353.9 154.9 363.4 155 400 155 400 155.1 361.7 155.1 372.6 155.1 400 155.1 368.4 155.2 356 155.2 400 155.2 357.3 155.3 400 155.3 367.4 155.3 400 155.4 400 155.4 352.3 155.5 400 155.5 400 155.5 361.4 155.6 400 155.6 365.9 155.6 345.2 155.7 400 155.8 400 155.9 375.6 155.9 364.4 155.9 371.5 156 362.4 156 371.4 156 400 156.1 400 156.1 372.5 156.1 400 156.2 365 156.2 400 156.2 369 156.3 367.3 156.3 400 156.3 376.2 156.4 400 156.4 400 156.4 350.9 156.5 364.6 156.5 339.7 156.5 400 156.5 348.7 156.6 375.1 156.6 400 156.6 368.9 156.7 400 156.8 400 156.8 375.4 156.8 400 156.9 354.3 156.9 375.4 156.9 362.4 157 376.7 157 345.6 157 362.7 157.1 400 157.1 367.8 157.1 363.3 157.2 375.2 157.2 368.3 157.2 400 157.2 373.3 157.3 400 157.3 372.9 157.3 400 157.4 400 157.4 359.7 157.4 400 157.5 376 157.5 369.4 157.5 361.2 157.5 400 157.6 373.9 157.6 400 157.6 352.5 157.7 400 157.7 363.3 157.7 400 157.8 400 157.8 373.1 157.9 376 157.9 400 157.9 400 157.9 373.8 158 400 158 400 158.1 367.1 158.1 362.7 158.1 348.8 158.2 367.2 158.2 374.7 158.2 400 158.2 368.5 158.3 400 158.3 351.2 158.3 349.3 158.4 361.5 158.4 364.6 158.4 400 158.5 400 158.5 365.8 158.6 343.4 158.6 400 158.6 400 158.6 350.9 158.7 400 158.7 361.4 158.7 400 158.8 400 158.9 365.2 158.9 400 158.9 371.4 158.9 371.6 159 356.5 159 354.4 159 356.5 159.1 371.2 159.1 400 159.1 400 159.2 361.8 159.2 400 159.2 400 159.3 360.4 159.3 400 159.3 400 159.3 376.6 159.4 374.9 159.4 400 159.4 349.6 159.5 376.3 159.5 376.3 159.5 363.2 159.6 400 159.7 400 159.7 361.2 159.7 400 159.8 400 159.8 375.9 159.8 376.1 159.9 348.3 159.9 400 159.9 360.1 160 400 160 368.3 160 376.7 160 367.7 160.1 358 160.1 374.1 160.1 400 160.2 400 160.2 374.6 160.2 400 160.3 373.6 160.3 366 160.3 355.3 160.3 400 160.4 362.1 160.4 400 160.4 377.2 160.5 400 160.5 367.8 160.5 400 160.6 400 160.6 354.7 160.6 400 160.7 400 160.7 366.8 160.7 400 160.7 364.4 160.8 365.2 160.8 400 160.9 400 161 374.2 161 400 161.1 400 161.1 375.7 161.2 400 161.2 341.8 161.2 361.3 161.3 400 161.3 358.6 161.3 400 161.4 360 161.4 353.5 161.4 400 161.4 400 161.5 349.1 161.5 400 161.5 321.4 161.6 400 161.6 346.1 161.6 366.5 161.7 343.7 161.7 400 161.7 400 161.8 374.2 161.8 400 161.8 400 161.9 359.2 161.9 363.7 161.9 400 162 400 162 368.9 162.1 400 162.1 358.7 162.1 366.6 162.1 400 162.2 370.8 162.2 376.9 162.2 358.6 162.3 361.4 162.3 367.3 162.3 400 162.4 368.7 162.4 400 162.5 400 162.5 374 162.5 365 162.6 361.7 162.6 354.2 162.6 348.6 162.7 350.1 162.7 345.9 162.7 346.8 162.8 347 162.8 348.3 162.8 348.3 162.8 348.6 162.9 352.6 162.9 360.2 162.9 367.2 163 372.2 163 365.5 163 354.7 163.1 376.4 163.1 400 163.1 369 163.1 400 163.2 373.5 163.2 400 163.3 400 163.3 343.9 163.4 372 163.4 372.7 163.4 373.7 163.5 357.7 163.5 400 163.5 368.8 163.5 368.5 163.6 400 163.6 400 163.7 377 163.7 369.6 163.7 400 163.8 371.5 163.8 400 163.8 360.9 163.8 367.3 163.9 400 164 400 164 364.8 164.1 377.5 164.1 368.7 164.1 377.1 164.2 359.6 164.2 355.1 164.2 348.5 164.2 341.2 164.3 333.6 164.3 324.7 164.3 318.7 164.4 312.3 164.4 304.6 164.4 303.3 164.5 296 164.5 287.8 164.5 285.7 164.5 278.3 164.6 274.6 164.6 269.4 164.6 262.1 164.7 261.6 164.7 261.5 164.7 258.9 164.8 256.3 164.8 256.9 164.8 259 164.8 262.5 164.9 264.1 164.9 265.6 164.9 268.5 165 278.5 165 281.8 165 287.8 165.1 291.9 165.1 298.8 165.1 303.2 165.2 309.2 165.2 315.2 165.2 320.1 165.2 328.2 165.3 336.5 165.3 344.5 165.3 352.3 165.4 361.7 165.4 368.5 165.4 360.8 165.5 400 165.5 400 165.5 360.7 165.6 372 165.6 356.4 165.6 373.7 165.7 374 165.7 358.9 165.7 372.8 165.8 375.6 165.8 400 165.9 400 165.9 368.8 165.9 358.8 165.9 400 166 367.7 166 363.6 166 400 166.1 365.8 166.1 355.7 166.1 400 166.2 400 166.2 351.8 166.2 400 166.3 400 166.3 364.4 166.3 363 166.4 400 166.4 360.3 166.4 400 166.5 400 166.5 354.8 166.5 400 166.6 364.7 166.6 400 166.6 368.1 166.6 365.9 166.7 350.6 166.7 400 166.7 348.5 166.8 400 166.9 400 166.9 364.1 166.9 400 166.9 400 167 377.4 167 365.4 167 354.2 167.1 375 167.1 351.9 167.1 362.7 167.2 400 167.2 353.7 167.2 400 167.3 375.3 167.3 400 167.3 400 167.3 372.2 167.4 400 167.4 357.6 167.4 373.8 167.5 400 167.5 348.6 167.5 400 167.6 354 167.6 369.6 167.6 400 167.7 400 167.7 373.5 167.7 400 167.8 334 167.8 400 167.8 369.9 167.9 400 167.9 400 167.9 375.9 168 368.6 168 375.8 168 400 168.1 400 168.1 375.2 168.2 400 168.2 372.6 168.2 374.4 168.3 367.7 168.3 400 168.3 371 168.3 400 168.4 400 168.4 359.5 168.5 400 168.5 400 168.5 369.4 168.6 400 168.6 400 168.7 372.3 168.7 375.5 168.7 400 168.8 400 168.8 362.7 168.9 400 169 400 169 376.4 169.1 354.2 169.1 366.2 169.1 353.7 169.2 343.8 169.2 335.2 169.2 326.2 169.3 316.9 169.3 307.7 169.3 302.3 169.4 296.5 169.4 286.2 169.4 277.4 169.4 275.2 169.5 271.8 169.5 262.1 169.5 258.2 169.6 254.6 169.6 247.5 169.6 241.5 169.7 237.5 169.7 232.2 169.7 231.9 169.7 225.4 169.8 225.2 169.8 224 169.8 223.7 169.9 221.7 169.9 223.1 169.9 224.7 170 227.8 170 231.5 170 240.5 170.1 244.1 170.1 247.1 170.1 251.6 170.1 256.3 170.2 263.6 170.2 266.8 170.2 275.5 170.3 279.1 170.3 284.2 170.3 294.1 170.4 303.5 170.4 310.9 170.4 317.4 170.4 325.2 170.5 333.6 170.5 345.9 170.5 357.6 170.6 367 170.6 375.5 170.6 364.8 170.7 400 170.8 400 170.9 368.5 170.9 370.8 170.9 400 171 400 171.1 370.3 171.1 372.2 171.1 400 171.1 400 171.2 370.1 171.2 377.1 171.2 371.6 171.3 363.8 171.3 377.1 171.3 376.3 171.4 376.9 171.4 346.1 171.4 366.7 171.5 377.3 171.5 367.3 171.5 400 171.6 400 171.6 376.3 171.6 352.9 171.7 365 171.7 400 171.7 366.2 171.8 400 171.8 400 171.9 361.9 171.9 377.2 171.9 360.5 172 400 172 400 172 370.4 172.1 347.4 172.1 400 172.1 367.5 172.2 372.2 172.2 352.7 172.2 400 172.2 374.6 172.3 400 172.3 362 172.3 368 172.4 368.1 172.4 364.9 172.4 400 172.5 367.2 172.5 365.8 172.5 400 172.5 400 172.6 357.5 172.6 400 172.6 400 172.7 362.2 172.7 377.5 172.7 368.5 172.8 400 172.8 376.6 172.8 400 172.9 352.6 172.9 367.9 172.9 373.3 172.9 400 173 400 173 358.2 173 400 173.1 374.2 173.1 400 173.1 364.4 173.2 400 173.2 375.9 173.2 400 173.2 355.5 173.3 400 173.3 329.7 173.3 400 173.4 400 173.4 356.5 173.5 365.5 173.5 400 173.5 367.1 173.6 360 173.6 376.9 173.6 400 173.6 400 173.7 363.6 173.7 374 173.7 361.6 173.8 369.8 173.8 372.3 173.8 360.7 173.9 356.4 173.9 400 173.9 373.8 173.9 400 174 340.2 174 353.9 174 400 174.1 376 174.1 373.4 174.1 400 174.2 369.2 174.2 345.6 174.2 400 174.3 372.8 174.3 400 174.3 362.5 174.3 400 174.4 354.2 174.4 361.9 174.4 400 174.5 400 174.5 370.4 174.5 400 174.6 366.5 174.6 354.1 174.6 366.2 174.6 400 174.7 400 174.8 370.9 174.8 355.1 174.8 357.8 174.9 400 175.1 400 175.1 369.3 175.1 400 175.2 366.2 175.2 400 175.2 373 175.3 400 175.3 365.3 175.3 400 175.3 400 175.4 352.6 175.4 400 175.5 400 175.5 350.2 175.5 372.1 175.6 367.5 175.6 400 175.7 400 175.7 371.2 175.7 353.7 175.8 400 175.8 400 175.8 341.9 175.9 367.9 175.9 376.5 175.9 400 176 364 176 400 176 400 176 377.5 176.1 400 176.1 355.8 176.1 400 176.2 374.6 176.2 400 176.3 400 176.3 372.2 176.4 400 176.4 348.4 176.4 400 176.7 400 176.7 377.3 176.7 370.4 176.8 362.5 176.8 358.1 176.8 355.9 176.9 354.1 176.9 351.9 176.9 348.8 177 351.3 177 353.9 177 353.7 177.1 357.5 177.1 361.1 177.1 365.9 177.1 358.6 177.2 400 177.2 365.7 177.2 400 177.3 400 177.3 366.4 177.4 400 177.4 370.6 177.4 400 177.5 400 177.6 370.7 177.6 355.9 177.6 400 177.8 400 177.8 363 177.8 400 177.8 370.3 177.9 400 177.9 400 177.9 366.5 178 400 178 368.4 178 375.3 178.1 400 178.1 400 178.1 357.4 178.1 400 178.2 369.3 178.2 358.1 178.2 365.3 178.3 365.6 178.3 374.6 178.3 374.1 178.4 357.6 178.4 366.7 178.4 400 178.5 376.6 178.5 400 178.5 400 178.5 374.7 178.6 373.2 178.6 360.4 178.6 400 178.7 400 178.7 355.5 178.7 361.9 178.8 400 178.8 400 178.9 346.2 178.9 400 178.9 376.6 179 400 179 365 179 400 179.1 347.8 179.1 372.9 179.1 400 179.2 400 179.2 357.2 179.2 367.4 179.2 373.5 179.3 400 179.3 400 179.3 373 179.4 368.1 179.4 348.5 179.4 400 179.5 375.9 179.5 376.2 179.5 400 179.6 400 179.6 373.5 179.6 357.7 179.7 400 179.7 400 179.8 366.1 179.8 400 180 400 180 375.3 180.1 368.6 180.1 369.9 180.1 400 180.2 400 180.2 377.3 180.3 369.3 180.3 358.4 180.3 400 180.4 400 180.5 366.4 180.5 400 180.5 400 180.6 370.5 180.6 376.3 180.6 400 180.7 400 180.7 361 180.7 372.4 180.8 365.8 180.8 365.9 180.8 349.8 180.9 400 180.9 400 180.9 375.1 181 366 181 400 181 400 181.1 354.2 181.1 400 181.1 374.2 181.2 349.3 181.2 332.4 181.2 320.4 181.2 300.3 181.3 288.8 181.3 277.2 181.3 269.7 181.4 260.8 181.4 252.9 181.4 244.8 181.5 237.1 181.5 231.6 181.5 220.2 181.6 216 181.6 210.7 181.6 203.4 181.6 197.4 181.7 193.9 181.7 187.8 181.7 182.8 181.8 178.9 181.8 171.3 181.8 169.9 181.9 159.7 181.9 160.1 181.9 158.7 181.9 158 182 154.2 182 153.9 182 157.6 182.1 156.3 182.1 159.1 182.1 160.6 182.2 163.4 182.2 168.2 182.2 173.1 182.3 179.1 182.3 181.3 182.3 186.6 182.3 193.6 182.4 201.1 182.4 205.8 182.4 207.1 182.5 216.3 182.5 223.3 182.5 227.9 182.6 235.6 182.6 247.9 182.6 252.1 182.6 263.6 182.7 268 182.7 276.3 182.7 287.9 182.8 302.3 182.8 315.6 182.8 334.5 182.9 352.4 182.9 371.1 182.9 367.8 183 365.4 183 400 183.1 400 183.1 364.5 183.2 365.5 183.2 400 183.2 400 183.3 373.8 183.3 400 183.3 374.6 183.3 400 183.4 400 183.4 361.8 183.4 400 183.5 400 183.6 373.5 183.6 400 183.6 400 183.7 368.9 183.7 400 183.7 371.9 183.7 370.5 183.8 367.2 183.8 345.1 183.8 400 183.9 350.3 183.9 400 184 400 184.1 375.8 184.1 400 184.1 373.5 184.2 400 184.2 400 184.2 369.1 184.3 400 184.3 400 184.4 376.5 184.4 400 184.4 400 184.5 360.5 184.5 400 184.5 371.9 184.6 400 184.7 400 184.7 371.9 184.7 400 184.7 371 184.8 373.3 184.8 374.9 184.8 361.4 184.9 400 184.9 400 184.9 362.1 185 400 185.1 400 185.1 343.9 185.1 400 185.2 344 185.2 358.8 185.2 400 185.3 377.2 185.3 375.8 185.3 400 185.4 373.1 185.4 400 185.4 363.8 185.4 377.2 185.5 400 185.5 400 185.5 376.4 185.6 400 185.6 343.6 185.6 358.1 185.7 400 185.7 370.7 185.7 374.1 185.8 374.2 185.8 338 185.8 369.1 185.8 359.3 185.9 376.8 185.9 370.5 185.9 400 186 361.2 186 371.7 186 357.7 186.1 359.5 186.1 369 186.1 400 186.3 400 186.4 339.7 186.4 400 186.5 400 186.5 374.5 186.5 400 186.6 364.9 186.6 400 186.7 400 186.7 374.8 186.7 400 186.8 372.6 186.8 370.5 186.8 366.8 186.8 400 186.9 354.3 186.9 400 186.9 363 187 365.4 187 374.8 187 369.6 187.1 400 187.1 400 187.2 376.7 187.2 400 187.2 377.2 187.2 368.9 187.3 400 187.3 373.1 187.3 366.5 187.4 400 187.4 375.7 187.4 400 187.5 400 187.5 368.2 187.5 400 187.5 372.3 187.6 371.1 187.6 372.9 187.6 374.7 187.7 370.6 187.7 374.1 187.7 400 187.8 400 187.8 364.7 187.9 400 187.9 400 187.9 362.3 188 369.5 188 365.6 188 355 188.1 400 188.2 400 188.2 353.5 188.2 371.2 188.3 400 188.3 368.2 188.3 377 188.4 400 188.5 400 188.5 341.1 188.6 375.3 188.6 400 188.6 376.4 188.6 400 188.7 374.2 188.7 354.2 188.7 400 188.8 368.5 188.8 400 188.8 355.9 188.9 400 188.9 360.6 188.9 367.2 188.9 356.9 189 354 189 346.5 189 347 189.1 344.6 189.1 342.5 189.1 346.1 189.2 347.2 189.2 345.5 189.2 349.2 189.3 354.2 189.3 358.3 189.3 368.9 189.3 373 189.4 400 189.4 400 189.5 369.1 189.5 374.8 189.5 400 189.6 400 189.6 377.1 189.6 377.1 189.7 375.3 189.7 369.6 189.7 400 189.8 372.3 189.8 400 189.8 361 189.9 400 190 400 190 375.9 190 371.8 190.1 370.5 190.1 400 190.2 400 190.2 377.1 190.3 400 190.3 400 190.4 373.2 190.4 400 190.5 400 190.5 370 190.5 400 190.6 400 190.6 353.3 190.7 400 190.7 348.4 190.7 375.3 190.7 400 190.8 400 190.8 374.5 190.8 400 190.9 400 190.9 369.6 190.9 347.6 191 400 191 400 191 340.7 191 400 191.1 400 191.1 354.5 191.1 371.6 191.2 368.2 191.2 400 191.2 400 191.3 352.6 191.3 400 191.3 400 191.4 374.1 191.4 359.4 191.4 368.7 191.4 374.7 191.5 363.1 191.5 372.6 191.5 400 191.9 400 191.9 359.7 191.9 376.9 192 375 192 400 192.1 400 192.1 355.3 192.1 372 192.1 400 192.4 400 192.4 377.3 192.4 400 192.6 400 192.6 365 192.6 347.1 192.7 375.7 192.7 400 192.7 371.8 192.8 400 192.8 400 192.8 374.8 192.8 400 192.9 400 192.9 369.1 193 400 193 372.8 193 400 193.1 356.5 193.1 361 193.1 352.2 193.1 400 193.3 400 193.4 377.2 193.4 400 193.4 400 193.5 372.4 193.5 363.9 193.5 376.8 193.5 400 193.6 355.8 193.6 400 193.6 371 193.7 356.9 193.7 361.1 193.7 400 193.8 400 193.8 374.1 193.8 400 193.8 400 193.9 374 193.9 373.9 193.9 371.6 194 400 194 400 194 372.6 194.1 354.7 194.1 375.1 194.1 400 194.2 376.4 194.2 400 194.3 400 194.3 370.6 194.3 400 194.4 362.3 194.4 400 194.4 375.4 194.5 367.9 194.5 400 194.5 400 194.5 366.1 194.6 400 194.6 350.5 194.6 363.3 194.7 400 194.8 400 194.8 351.3 194.8 400 194.8 347 194.9 362.9 194.9 376.3 194.9 400 195 400 195 370.9 195.1 400 195.1 400 195.2 346.7 195.2 341.8 195.2 359.4 195.2 360.2 195.3 400 195.3 375.6 195.3 400 195.4 354.2 195.4 400 195.4 373.3 195.5 400 195.5 400 195.5 371.5 195.5 400 195.6 368 195.6 400 195.6 400 195.7 375.9 195.7 400 195.9 400 195.9 354.9 195.9 377.3 195.9 361.8 196 364.7 196 359.8 196 349.7 196.1 346 196.1 339.7 196.1 335.9 196.2 337.1 196.2 335.7 196.2 334.3 196.2 339.4 196.3 336.1 196.3 336.4 196.3 346.5 196.4 350.9 196.4 357.6 196.4 362.6 196.5 369.3 196.5 374.3 196.5 400 196.6 368.2 196.6 400 196.7 400 196.7 376.7 196.7 400 196.8 353.6 196.8 375.8 196.8 358.3 196.9 370.9 196.9 376.1 196.9 400 196.9 369.1 197 400 197 367.1 197 400 197.3 400 197.3 366.3 197.4 400 197.4 371.6 197.4 400 197.5 400 197.5 366.6 197.6 367.2 197.6 400 197.6 400 197.6 375.2 197.7 366.2 197.7 375.2 197.7 376 197.8 366.3 197.8 366.2 197.8 360.8 197.9 357.3 197.9 371.8 197.9 375.4 198 364 198 400 198.1 400 198.1 372.4 198.1 361.6 198.2 377.1 198.2 400 198.3 400 198.4 368 198.4 400 198.4 400 198.5 371.7 198.5 376.3 198.5 366.7 198.6 400 198.6 400 198.7 366.2 198.7 373.3 198.7 370.1 198.7 374.9 198.8 357.4 198.8 400 198.8 375.6 198.9 400 198.9 364 198.9 400 199 400 199 342.6 199 400 199 368.8 199.1 400 199.1 376.1 199.1 400 199.2 372.5 199.2 375.1 199.2 363.3 199.3 400 199.3 375.3 199.3 374.5 199.4 373.3 199.4 366 199.4 366.2 199.4 375.5 199.5 400 199.5 400 199.5 374.7 199.6 400 199.6 400 199.6 358.3 199.7 349.3 199.7 400 199.7 400 199.8 374.4 199.8 400 199.8 376.6 199.9 377.1 199.9 400 199.9 356.9 200 400 200 400 200.1 373.6 200.1 376.1 200.1 372.3 200.1 351.8 200.2 400 200.2 400 200.2 371.7 200.3 352.8 200.3 400 200.3 400 200.4 375 200.4 400 200.4 367.5 200.4 370.9 200.5 364.4 200.5 357.8 200.5 352.9 200.6 348.8 200.6 344.1 200.6 336.1 200.7 331.4 200.7 328.4 200.7 323.9 200.8 319.2 200.8 317.4 200.8 312.6 200.8 309 200.9 305 200.9 303.5 200.9 297.9 201 292.5 201 290.4 201 286.1 201.1 283 201.1 277.9 201.1 277.9 201.1 277.7 201.2 275.2 201.2 274.6 201.2 273.3 201.3 272.8 201.3 271.1 201.3 277.2 201.4 275.1 201.4 278 201.4 273.8 201.5 279.5 201.5 279.9 201.5 283.7 201.5 285.7 201.6 288.3 201.6 294.6 201.6 299.6 201.7 303.9 201.7 307.1 201.7 311 201.8 313.1 201.8 316.3 201.8 320.4 201.8 324.9 201.9 329.6 201.9 334.2 201.9 340 202 344.9 202 348.9 202 355.6 202.1 360.5 202.1 364.8 202.1 372 202.2 376.8 202.2 400 202.4 400 202.5 366.3 202.5 365 202.5 371.6 202.5 375.1 202.6 400 202.8 400 202.9 370.5 202.9 400 202.9 365.1 202.9 400 203.1 400 203.1 366.3 203.1 400 203.2 362.6 203.2 400 203.3 400 203.3 364 203.3 400 203.5 400 203.6 373.8 203.6 375.1 203.6 400 203.6 340.7 203.7 400 203.7 366.2 203.7 400 203.8 400 203.8 353.5 203.9 400 203.9 400 203.9 343.2 204 354 204 400 204.2 400 204.2 377.5 204.3 356.6 204.3 370.4 204.3 360.1 204.3 373 204.4 359.2 204.4 400 204.5 400 204.5 377.1 204.5 400 204.6 400 204.6 376 204.6 400 204.7 400 204.7 368.5 204.8 400 204.8 400 204.8 364.2 204.9 372.4 204.9 400 204.9 372.1 205 400 205 372.8 205 400 205 359.5 205.1 363 205.1 400 205.1 352.5 205.2 400 205.2 400 205.2 353.6 205.3 370.1 205.3 400 205.3 363.4 205.3 400 205.4 371.4 205.4 400 205.4 343.9 205.5 363.4 205.5 374.7 205.5 400 205.6 400 205.6 357.8 205.7 366.8 205.7 400 205.8 400 205.8 352.8 205.8 400 205.9 365.4 205.9 360.7 205.9 400 206 365.2 206 400 206 400 206 374.6 206.1 400 206.1 400 206.1 343.7 206.2 367.3 206.2 374.7 206.2 372.5 206.3 375.9 206.3 377.4 206.3 400 206.4 400 206.4 372.7 206.4 400 206.5 400 206.5 366.9 206.6 400 206.6 400 206.6 351.8 206.7 400 206.8 400 206.9 359.2 206.9 366.7 206.9 400 207 400 207 364.4 207.1 400 207.2 400 207.2 370.9 207.2 367.7 207.3 358.9 207.3 400 207.4 400 207.4 363.4 207.5 375.8 207.5 400 207.5 377.1 207.6 367.3 207.6 400 207.6 400 207.7 356.3 207.7 372.2 207.7 400 207.8 400 207.8 363.6 207.8 400 207.9 400 207.9 361.9 207.9 400 208 400 208 375.1 208 400 208.1 362.5 208.1 373.6 208.1 361.1 208.1 400 208.2 375.7 208.2 367.2 208.2 364.2 208.3 357.4 208.3 356.9 208.3 351.5 208.4 350.3 208.4 349.9 208.4 352.8 208.5 354.7 208.5 349.3 208.5 358 208.5 368.2 208.6 374.9 208.6 400 208.6 369.7 208.7 400 208.7 374.4 208.7 375.4 208.8 363.5 208.8 351.3 208.8 369.5 208.8 400 209 400 209.1 365.6 209.1 400 209.2 400 209.2 367.7 209.2 400 209.3 377.2 209.3 400 209.4 400 209.4 372 209.4 400 209.5 373.9 209.5 400 209.5 400 209.6 364.9 209.6 400 209.6 365.2 209.7 400 209.7 400 209.7 376.4 209.8 400 209.8 400 209.8 351 209.8 371.9 209.9 371 209.9 400 209.9 373.8 210 376.8 210 400 210 371.6 210.1 400 210.1 400 210.1 368.9 210.2 400 210.2 376.6 210.2 400 210.2 400 210.3 359.1 210.3 376.6 210.3 400 210.4 400 210.4 370 210.5 360 210.5 400 210.5 400 210.5 359.9 210.6 376.8 210.6 400 210.7 400 210.8 369.5 210.8 361.5 210.8 365.4 210.9 371.3 210.9 363.5 210.9 400 210.9 361 211 353.1 211 400 211.1 400 211.1 372 211.1 400 211.3 400 211.3 350.9 211.4 400 211.4 400 211.4 353.4 211.5 370.4 211.5 377.5 211.5 369.8 211.6 368.9 211.6 400 211.7 400 211.7 373 211.7 400 211.8 375.5 211.8 368.7 211.8 400 211.9 400 212 371.6 212 400 212.2 400 212.2 357.9 212.3 372.7 212.3 368.6 212.3 400 212.4 400 212.4 370.5 212.4 373 212.5 376.4 212.5 400 212.5 400 212.6 373.8 212.6 367.8 212.6 400 212.7 400 212.7 368.6 212.7 331.1 212.8 400 212.8 400 212.8 362 212.9 400 213 400 213 365.8 213.1 400 213.1 400 213.1 369.5 213.2 400 213.2 400 213.2 376.8 213.3 371.8 213.3 364.9 213.3 359.8 213.3 353.2 213.4 351.7 213.4 350 213.4 350.4 213.5 351.1 213.5 349.1 213.5 352.3 213.6 354.6 213.6 361.8 213.6 364.3 213.7 373.3 213.7 400 214 400 214.1 369.6 214.1 400 214.3 400 214.4 370.2 214.4 376.6 214.4 400 214.6 400 214.7 376.3 214.7 400 214.7 400 214.8 370.4 214.8 369 214.8 365 214.9 360.2 214.9 357.5 214.9 352.6 215 350.4 215 347.1 215 347.1 215.1 338.6 215.1 336.6 215.1 332.6 215.1 327.8 215.2 324.4 215.2 321.2 215.2 318.1 215.3 313.2 215.3 313.5 215.3 309 215.4 309.2 215.4 309.7 215.4 307.8 215.4 306.8 215.5 307 215.5 305.6 215.5 308 215.6 309 215.6 308.4 215.6 310.5 215.7 312.2 215.7 314 215.7 316.4 215.8 319.1 215.8 325.4 215.8 327.8 215.8 334.2 215.9 337.1 215.9 339.6 215.9 346 216 348.9 216 349.8 216 353.5 216.1 357.1 216.1 360.3 216.1 365.9 216.1 367.5 216.2 374.8 216.2 400 216.2 350.2 216.3 360.1 216.3 400 216.3 400 216.4 358 216.4 358.6 216.4 346.7 216.5 400 216.5 400 216.5 355.8 216.5 400 216.7 400 216.7 360.1 216.7 400 216.8 400 216.8 377.4 216.8 400 216.9 400 216.9 370.3 216.9 400 217 400 217 359.1 217 400 217.1 400 217.1 373 217.1 400 217.2 376.5 217.2 365.6 217.2 355 217.2 366.8 217.3 400 217.3 376 217.3 400 217.4 400 217.4 365.5 217.5 370.5 217.5 400 217.5 400 217.6 369.9 217.6 367.4 217.6 400 217.7 400 217.7 363.5 217.7 400 217.8 376.8 217.8 400 217.9 400 217.9 368.9 217.9 400 218 400 218 360.4 218.1 400 218.2 400 218.2 366.9 218.2 400 218.2 400 218.3 372.1 218.3 358.5 218.3 355.4 218.4 400 218.5 400 218.5 366.4 218.6 366.7 218.6 400 218.6 367.9 218.6 400 218.7 400 218.7 340.9 218.8 374.3 218.8 400 218.9 400 218.9 375.4 219 400 219 370.9 219 400 219.1 400 219.1 367.9 219.1 400 219.2 400 219.2 357.4 219.2 400 219.3 350.9 219.3 400 219.3 374.8 219.3 400 219.4 400 219.5 360.1 219.5 400 219.5 400 219.6 375.8 219.6 400 219.6 400 219.7 373 219.7 360.5 219.7 350.7 219.8 341.9 219.8 333.5 219.8 324.4 219.9 318.8 219.9 311 219.9 303.2 220 293.1 220 288.7 220 283 220 273.7 220.1 267.8 220.1 267.6 220.1 262.9 220.2 257 220.2 252.3 220.2 248.9 220.3 240.4 220.3 240.6 220.3 234.9 220.3 228.9 220.4 223.2 220.4 220.2 220.4 217.9 220.5 214.8 220.5 217.1 220.5 214.8 220.6 215.9 220.6 216 220.6 218.3 220.7 217.6 220.7 219.5 220.7 224.8 220.7 226.8 220.8 233.7 220.8 235.3 220.8 239.8 220.9 245.7 220.9 249.8 220.9 254.3 221 260.4 221 263.9 221 268.4 221 274.1 221.1 282.5 221.1 287 221.1 291.3 221.2 301 221.2 311.1 221.2 314.7 221.3 321.7 221.3 329.2 221.3 335.8 221.4 344.1 221.4 357.3 221.4 371.6 221.4 400 221.5 375.2 221.5 375.9 221.5 400 221.7 400 221.7 362 221.8 400 221.8 368.5 221.8 400 221.9 357.2 221.9 400 221.9 400 222 364.5 222 400 222 400 222.1 373.5 222.1 400 222.2 400 222.2 343.7 222.2 368.2 222.3 400 222.3 362.9 222.3 400 222.4 351.9 222.4 400 222.6 400 222.6 374.5 222.6 400 222.7 400 222.7 375.4 222.7 365.9 222.8 400 222.8 400 222.8 355.4 222.9 400 222.9 374.2 222.9 400 223 400 223 352.9 223 400 223.1 400 223.1 377.3 223.1 400 223.2 400 223.2 360.8 223.2 400 223.3 376.2 223.3 375.7 223.3 400 223.4 400 223.4 374.6 223.4 371.7 223.5 400 223.5 400 223.5 371.6 223.5 400 223.6 366 223.6 400 223.6 357.9 223.7 400 223.7 400 223.7 354.8 223.8 400 223.8 400 223.8 360.2 223.9 400 224 400 224 375.9 224.1 400 224.2 400 224.2 364.9 224.2 376.7 224.2 375 224.3 400 224.4 400 224.4 376 224.4 370.6 224.5 400 224.5 369.1 224.5 356.3 224.5 364.3 224.6 373.3 224.6 400 224.7 400 224.7 370.1 224.8 400 224.9 400 224.9 368.2 224.9 371.6 225 375.2 225 400 225.1 400 225.1 369.7 225.1 370.4 225.2 400 225.2 400 225.2 372 225.3 377.3 225.3 400 225.3 400 225.4 373.8 225.4 400 225.4 357.4 225.5 368.1 225.5 400 225.6 400 225.6 372.3 225.7 372.2 225.7 400 225.7 400 225.8 376.3 225.8 371.5 225.8 400 226 400 226 369.1 226.1 400 226.1 400 226.1 370.4 226.2 400 226.2 373.8 226.2 400 226.3 400 226.3 363.5 226.3 400 226.6 400 226.6 372.5 226.6 400 226.6 400 226.7 362 226.7 400 226.7 360.8 226.8 400 226.9 400 226.9 377.1 226.9 368.8 227 370.9 227 368.3 227 360.5 227.1 358.5 227.1 356.1 227.1 353.3 227.2 345.9 227.2 345.9 227.2 340.9 227.3 337.6 227.3 335.3 227.3 332.7 227.3 327.8 227.4 323.6 227.4 319.6 227.4 316.5 227.5 314.8 227.5 315.8 227.5 311.2 227.6 308.9 227.6 312.3 227.6 307.3 227.6 309.6 227.7 311.5 227.7 310 227.7 313.5 227.8 314.3 227.8 314.5 227.8 314.4 227.9 319.1 227.9 317.5 227.9 322.1 228 328.3 228 332.5 228 331.9 228 336.4 228.1 343.7 228.1 343.1 228.1 349.4 228.2 352.4 228.2 355.2 228.2 358.7 228.3 363 228.3 366.4 228.3 365.6 228.3 374.3 228.4 400 228.4 366.2 228.4 400 228.5 373.8 228.5 400 228.6 400 228.6 362.3 228.7 400 228.8 400 228.9 356.9 228.9 400 229 400 229 361.1 229 400 229.1 400 229.2 366.9 229.2 400 229.2 367.3 229.3 400 229.3 400 229.4 374.5 229.4 400 229.4 400 229.4 372.8 229.5 400 229.5 400 229.5 374 229.6 400 229.6 400 229.7 377.1 229.7 400 229.7 374.8 229.7 400 229.8 343.8 229.8 400 230 400 230 361.6 230 346 230.1 372.5 230.1 357.3 230.1 400 230.3 400 230.3 376.6 230.3 400 230.4 400 230.4 331 230.4 400 230.6 400 230.7 362.4 230.7 400 230.8 400 230.8 361.4 230.9 400 230.9 375 230.9 400 231 400 231 374 231.1 359.7 231.1 400 231.1 369.8 231.1 400 231.4 400 231.4 371.7 231.4 400 231.5 363.9 231.5 400 231.5 356.9 231.5 400 231.6 366.5 231.6 400 231.7 400 231.7 360.8 231.7 400 231.8 400 231.8 374.8 231.8 400 231.8 362.4 231.9 377.1 231.9 374.8 231.9 358 232 363.7 232 356.1 232 351.1 232.1 350.2 232.1 344.7 232.1 343.2 232.2 339.2 232.2 335.6 232.2 330.1 232.2 326.7 232.3 323.5 232.3 323.4 232.3 318 232.4 313.6 232.4 310.1 232.4 306.3 232.5 304.7 232.5 297.9 232.5 296.4 232.5 296.7 232.6 293.8 232.6 293.9 232.6 292.5 232.7 291.2 232.7 291.3 232.7 290.8 232.8 290.5 232.8 293.6 232.8 295 232.9 294.8 232.9 293.5 232.9 297.8 232.9 298.6 233 302.8 233 309.9 233 310.6 233.1 311 233.1 315.7 233.1 322 233.2 324.9 233.2 324.9 233.2 330.4 233.2 333 233.3 338.4 233.3 339.9 233.3 343.3 233.4 347.4 233.4 348.1 233.4 357.9 233.5 361.4 233.5 366.3 233.5 370.4 233.6 375.1 233.6 334.4 233.6 400 233.7 400 233.7 364.5 233.8 400 233.8 400 233.8 344.7 233.9 400 234 400 234 368.5 234 372.5 234.1 400 234.1 400 234.1 364.1 234.2 335 234.2 400 234.2 372.3 234.3 400 234.3 369.1 234.3 400 234.4 400 234.5 361.4 234.5 400 234.5 347.9 234.6 373.4 234.6 400 234.6 400 234.7 371.5 234.7 400 234.8 400 234.9 365.3 234.9 400 234.9 361.9 235 400 235.2 400 235.2 365.8 235.2 400 235.3 373.3 235.3 400 235.3 400 235.3 368.7 235.4 370.8 235.4 400 235.7 400 235.8 360.9 235.8 376.5 235.8 400 235.9 344 235.9 400 235.9 400 236 354.6 236 400 236 353.6 236 400 236.2 400 236.2 348.5 236.3 375.1 236.3 400 236.3 361.8 236.4 400 236.4 374.7 236.4 400 236.5 400 236.5 353.2 236.6 400 236.7 400 236.8 363.9 236.8 400 237.2 400 237.2 361.8 237.3 400 237.3 400 237.4 362.1 237.4 400 237.4 400 237.4 359.4 237.5 372.6 237.5 400 237.7 400 237.8 371.3 237.8 373.7 237.8 400 237.9 400 238 353 238 367.7 238 372.9 238.1 400 238.1 400 238.1 356.5 238.1 362.9 238.2 400 238.2 366.3 238.2 375.7 238.3 400 238.3 366.4 238.3 400 238.5 400 238.5 370 238.5 377.3 238.5 400 238.6 400 238.6 366.8 238.6 363.5 238.7 400 238.7 358.2 238.7 400 238.9 400 238.9 375.2 238.9 400 239 400 239 371 239.1 400 239.1 400 239.2 376.5 239.2 374 239.2 360.7 239.2 362.6 239.3 369.2 239.3 400 239.3 400 239.4 375.3 239.4 366.7 239.4 357.6 239.5 372.7 239.5 375.8 239.5 400 239.5 364.5 239.6 400 239.6 400 239.7 362.8 239.7 375.2 239.7 400 239.9 400 239.9 374 239.9 400 239.9 400 240 375.7 240 400 240.1 400 240.1 373.6 240.1 346.8 240.2 373.6 240.2 371.7 240.2 361.6 240.2 400 240.3 400 240.3 372 240.3 400 240.4 357.9 240.4 375 240.4 370.2 240.5 400 240.5 373.3 240.5 376 240.5 400 240.6 374.7 240.6 400 240.6 373 240.7 400 240.7 400 240.7 366.7 240.8 362.7 240.8 400 240.9 400 240.9 353.7 240.9 400 241.2 400 241.2 364.9 241.2 400 241.2 370.3 241.3 400 241.4 400 241.5 369.1 241.5 400 241.6 400 241.7 376.3 241.7 400 241.9 400 241.9 374.4 241.9 375.7 242 400 242 400 242 376.8 242.1 367.6 242.1 400 242.1 358.9 242.2 400 242.2 400 242.2 370.5 242.3 366.9 242.3 400 242.3 373.6 242.3 374.2 242.4 400 242.5 400 242.5 365.8 242.5 364.1 242.6 400 242.6 400 242.6 371.7 242.6 400 242.7 362.9 242.7 369.8 242.7 400 242.8 400 242.8 375.8 242.8 366.8 242.9 372.4 242.9 363.8 242.9 400 243.2 400 243.2 363.7 243.3 400 243.3 372 243.3 375.5 243.3 400 243.4 400 243.4 374.2 243.5 400 243.5 372.9 243.5 400 243.7 400 243.7 376.9 243.7 400 243.7 400 243.8 347.1 243.8 400 243.9 400 243.9 368.8 244 400 244.1 400 244.1 375.9 244.1 362.2 244.2 368.1 244.2 375.4 244.2 400 244.3 376.8 244.3 358.6 244.3 400 244.4 372.9 244.4 400 244.4 370.4 244.4 357.2 244.5 400 244.5 400 244.5 357.7 244.6 370.7 244.6 400 244.7 400 244.7 360.1 244.7 372.6 244.7 370 244.8 369.5 244.8 400 245 400 245 364.7 245 349 245.1 371.5 245.1 400 245.2 400 245.3 367.5 245.3 360.9 245.3 400 245.4 371.8 245.4 400 245.4 400 245.4 372.3 245.5 400 245.6 400 245.6 361.6 245.6 400 245.7 400 245.7 356.2 245.8 400 245.8 363.2 245.8 400 245.9 400 245.9 371.9 245.9 400 246.1 400 246.1 350.3 246.1 400 246.2 400 246.2 365.8 246.2 400 246.3 377.3 246.3 376.1 246.3 370.2 246.4 400 246.4 361.2 246.4 368.4 246.5 400 246.5 400 246.5 370.1 246.6 400 246.6 364.7 246.6 400 246.8 400 246.9 374.9 246.9 400 246.9 400 247 339.1 247 400 247 352.1 247.1 370 247.1 356.4 247.1 400 247.2 400 247.2 370.9 247.2 400 247.3 400 247.3 372.2 247.4 400 247.8 400 247.8 376.4 247.8 369.1 247.9 400 247.9 365.1 247.9 369.5 247.9 400 248 400 248.1 376.5 248.1 400 248.2 400 248.2 370.5 248.2 400 248.3 370.6 248.3 366.7 248.3 400 248.4 359.5 248.4 374.8 248.4 361.1 248.5 400 248.5 400 248.5 355.7 248.6 400 248.6 400 248.6 374.8 248.6 371.6 248.7 400 248.7 362.8 248.7 400 248.8 365.4 248.8 371 248.8 400 248.9 400 248.9 369.5 248.9 372.1 248.9 400 249 363.5 249 374.2 249 400 249.1 376.3 249.1 366.4 249.1 400 249.2 363.4 249.2 400 249.2 400 249.3 368.8 249.3 358.7 249.3 400 249.3 400 249.4 354.9 249.4 367.8 249.4 400 249.5 400 249.6 359.8 249.6 400 249.7 400 249.7 368.9 249.8 364 249.8 356.5 249.8 348.6 249.9 347.7 249.9 344.8 249.9 343 250 342.8 250 342.7 250 345.2 250 343.8 250.1 347.1 250.1 352.2 250.1 358.3 250.2 366.9 250.2 372.4 250.2 369.4 250.3 358.8 250.3 340.4 250.3 400 250.5 400 250.6 350.5 250.6 400 250.6 369.3 250.7 352.5 250.7 400 250.7 363.2 250.7 400 250.8 400 250.9 363.7 250.9 374.9 250.9 400 251 400 251 367.6 251 400 251 400 251.1 369.4 251.1 400 251.3 400 251.4 369.1 251.4 400 251.4 364.7 251.4 400 251.6 400 251.6 357.2 251.6 400 251.7 400 251.7 375.5 251.7 400 251.7 377.5 251.8 375.9 251.8 367.6 251.8 361.6 251.9 356.9 251.9 352.4 251.9 351.7 252 350 252 349.5 252 351.4 252.1 348.5 252.1 354.8 252.1 355.3 252.1 360.1 252.2 369.2 252.2 373 252.2 373.8 252.3 400 252.3 400 252.3 370.5 252.4 375.6 252.4 374.8 252.4 400 252.4 360.1 252.5 363.8 252.5 400 252.5 369.2 252.6 339.3 252.6 371.3 252.6 357.3 252.7 400 252.7 375.1 252.7 400 252.8 346.6 252.8 357.2 252.8 367.7 252.8 400 252.9 400 252.9 363 252.9 360.9 253 366.7 253 400 253.1 400 253.2 376.8 253.2 400 253.3 400 253.3 360 253.3 372.5 253.4 400 253.6 400 253.6 359.5 253.7 400 253.8 400 253.8 376.6 253.9 400 253.9 400 253.9 357.6 254 363.6 254 400 254 366.4 254.1 400 254.2 400 254.2 359.8 254.2 400 254.2 400 254.3 372.5 254.3 400 254.3 400 254.4 365.7 254.4 400 254.4 362.1 254.5 400 254.5 400 254.5 360 254.5 400 254.6 400 254.6 370.9 254.6 364.7 254.7 400 254.7 400 254.8 370.7 254.8 400 254.8 367.8 254.9 400 254.9 355.5 254.9 372.6 254.9 400 255 400 255 354.3 255 377.4 255.1 400 255.1 400 255.1 375 255.2 400 255.2 400 255.3 376.5 255.3 400 255.3 400 255.4 365.3 255.4 400 255.4 400 255.5 372.7 255.5 400 255.6 400 255.6 374.6 255.6 400 255.7 374.6 255.7 362.1 255.7 400 255.8 376.7 255.8 374.5 255.8 400 255.9 400 255.9 365.8 255.9 400 255.9 373.2 256 400 256 400 256.1 364.8 256.1 400 256.3 400 256.3 372.8 256.3 400 256.4 361.8 256.4 400 256.5 400 256.5 369 256.6 400 256.6 400 256.6 359.3 256.7 400 256.8 400 256.8 357.3 256.9 400 256.9 400 256.9 364.8 256.9 400 257 400 257.1 369.6 257.1 400 257.1 400 257.2 375 257.2 400 257.2 363.7 257.3 400 257.4 400 257.4 368 257.5 362.7 257.5 400 257.6 400 257.6 369.7 257.7 400 257.8 400 257.8 365.3 257.8 377.5 257.9 374.6 257.9 400 258.2 400 258.2 377.5 258.3 400 258.3 362.7 258.3 400 258.4 400 258.5 371.4 258.5 400 258.5 400 258.6 372 258.6 371.8 258.6 374.3 258.7 400 258.7 400 258.7 363.2 258.8 400 258.8 375.1 258.8 400 259 400 259 363.1 259 400 259 400 259.1 366.5 259.1 400 259.1 400 259.2 350.8 259.2 400 259.3 400 259.3 347.2 259.3 358.9 259.4 368.8 259.4 400 259.4 357.1 259.4 400 259.5 371.5 259.5 400 259.7 400 259.7 359.7 259.7 400 259.9 400 260 369.6 260 400 260.2 400 260.2 372.7 260.2 400 260.3 400 260.3 371.8 260.4 400 260.4 400 260.4 372.9 260.5 400 260.6 400 260.6 361.5 260.6 400 260.7 400 260.7 372.5 260.7 370.8 260.8 400 260.8 400 260.8 353 260.9 361.9 260.9 400 261 400 261 355.6 261.1 400 261.1 370.7 261.1 336 261.1 400 261.2 400 261.2 367.9 261.2 400 261.3 372.3 261.3 367.9 261.3 400 261.4 372.7 261.4 375.4 261.4 400 261.5 377 261.5 400 261.5 374.5 261.5 400 261.6 376.4 261.6 400 261.7 400 261.8 366.7 261.8 400 261.8 400 261.8 373.7 261.9 400 262 400 262 369.2 262.1 400 262.2 400 262.2 372.3 262.2 400 262.3 400 262.3 374.7 262.4 358.5 262.4 400 262.4 370.5 262.5 366.9 262.5 367.4 262.5 400 262.7 400 262.7 364.4 262.7 400 262.9 400 262.9 369.4 262.9 400 263 400 263.1 363.5 263.1 373.4 263.1 400 263.2 400 263.2 356.6 263.2 400 263.3 400 263.3 373.1 263.3 400 263.4 400 263.4 359.2 263.5 400 263.6 400 263.7 364.6 263.7 400 263.7 368.1 263.8 400 263.9 400 263.9 374.8 263.9 400 263.9 371.2 264 400 264 375.7 264 375.6 264.1 400 264.1 368.7 264.1 363.9 264.2 400 264.2 375 264.2 400 264.3 400 264.3 370.8 264.3 400 264.4 364.2 264.4 400 264.5 400 264.5 367.3 264.5 400 264.6 366.2 264.6 400 264.6 400 264.6 372.2 264.7 400 264.7 371.1 264.7 400 264.8 372.1 264.8 366.3 264.8 358.1 264.9 400 265 400 265 374.3 265 400 265.1 370.3 265.1 400 265.1 400 265.2 368.9 265.2 400 265.2 400 265.3 367.9 265.3 367.8 265.3 364.9 265.3 360.8 265.4 357 265.4 350 265.4 344.1 265.5 342.4 265.5 338 265.5 335.1 265.6 330.9 265.6 328.9 265.6 326.3 265.7 321.3 265.7 318 265.7 316.3 265.7 309.5 265.8 310.2 265.8 305.7 265.8 304.2 265.9 302.7 265.9 300.2 265.9 293.3 266 291.7 266 289.8 266 289.6 266 288.2 266.1 286.6 266.1 284.4 266.1 286.4 266.2 279.8 266.2 283.9 266.2 286.5 266.3 285.6 266.3 283.1 266.3 287 266.4 286.5 266.4 288.9 266.4 290.6 266.4 295.6 266.5 296.2 266.5 300.4 266.5 300.1 266.6 305.9 266.6 307.7 266.6 309.8 266.7 312.9 266.7 319.4 266.7 322.7 266.7 326 266.8 327.4 266.8 330.5 266.8 335 266.9 339.1 266.9 340.9 266.9 342.6 267 347.9 267 356.5 267 356.9 267.1 362.2 267.1 368.5 267.1 372.2 267.1 375.9 267.2 400 267.3 400 267.3 364.5 267.3 400 267.4 400 267.4 364.4 267.5 400 267.6 400 267.6 371.9 267.6 376.7 267.7 365.3 267.7 371.5 267.7 400 267.9 400 267.9 364.7 268 359.7 268 400 268 362.7 268.1 400 268.1 375.9 268.1 400 268.1 372.8 268.2 371.7 268.2 400 268.5 400 268.5 371.8 268.5 400 268.5 400 268.6 361.1 268.6 400 268.6 359.9 268.7 376 268.7 377.3 268.7 370.1 268.8 400 269.1 400 269.1 372.9 269.1 400 269.4 400 269.4 364.6 269.5 371.4 269.5 374.8 269.5 400 269.5 370.7 269.6 400 269.6 400 269.7 368.6 269.7 400 269.7 374.7 269.8 400 269.8 354.8 269.8 358.6 269.9 400 269.9 371.6 269.9 400 269.9 362.7 270 400 270.1 400 270.1 367.2 270.2 348.6 270.2 337.1 270.2 324.7 270.2 309.6 270.3 291.3 270.3 278.8 270.3 268.2 270.4 259.6 270.4 251.5 270.4 248 270.5 240.5 270.5 228.9 270.5 226.9 270.5 223.7 270.6 214.3 270.6 208.5 270.6 202.2 270.7 201.8 270.7 195.1 270.7 186.8 270.8 185.2 270.8 176.9 270.8 175.1 270.9 172.7 270.9 166.5 270.9 163.9 270.9 161.5 271 154.8 271 150.8 271 147.6 271.1 144 271.1 136.9 271.1 138.6 271.2 136.8 271.2 136.5 271.2 134.5 271.2 129.9 271.3 133 271.3 134.4 271.3 137.1 271.4 138.2 271.4 137.2 271.4 143.3 271.5 146.7 271.5 149.2 271.5 153.6 271.6 158.9 271.6 160.1 271.6 169.9 271.6 169.4 271.7 172.5 271.7 177.6 271.7 182.6 271.8 185.1 271.8 185.5 271.8 194.2 271.9 199 271.9 206.1 271.9 210.5 271.9 218.6 272 223 272 232.9 272 239.6 272.1 242 272.1 248.8 272.1 257.1 272.2 266.8 272.2 273.4 272.2 284.3 272.3 298.2 272.3 308.7 272.3 328.3 272.3 341.6 272.4 357.4 272.4 371.8 272.4 372.3 272.5 373.4 272.5 374 272.5 400 272.6 370.4 272.6 400 272.6 400 272.6 370.7 272.7 400 272.7 400 272.7 374.3 272.8 350.4 272.8 400 273.1 400 273.1 364.8 273.2 400 273.2 353.9 273.2 400 273.5 400 273.5 374.3 273.5 400 273.7 400 273.7 373.6 273.7 400 273.8 375.8 273.8 369.3 273.8 376.6 273.9 400 273.9 370.7 273.9 368.3 274 400 274.1 400 274.1 375.7 274.2 400 274.2 377.4 274.2 400 274.3 400 274.3 375.2 274.4 400 274.4 400 274.4 368.2 274.5 362.4 274.5 400 274.8 400 274.9 370.6 274.9 400 274.9 377.1 275 400 275.1 400 275.1 369.9 275.1 366.9 275.1 400 275.3 400 275.3 363.8 275.3 400 275.4 400 275.5 365.9 275.5 400 275.9 400 275.9 364.5 275.9 400 276 357.4 276 400 276 365 276.1 400 276.2 400 276.2 370.8 276.2 368.5 276.3 400 276.3 400 276.3 372.8 276.4 365.9 276.4 376.1 276.4 371.9 276.5 400 276.5 400 276.6 369.6 276.6 400 276.8 400 276.8 363.3 276.8 400 276.9 400 276.9 371.2 277 368.8 277 400 277.1 400 277.1 352.9 277.1 400 277.2 400 277.2 374.4 277.2 400 277.3 400 277.3 375.6 277.3 352.6 277.4 400 277.5 400 277.6 361.1 277.6 369 277.6 370.7 277.7 365.7 277.7 374.7 277.7 369.1 277.8 366.5 277.8 361.8 277.8 362 277.9 361.1 277.9 356.6 277.9 352.5 277.9 347.3 278 345.1 278 339.9 278 340.1 278.1 335.1 278.1 334.9 278.1 332.1 278.2 329.2 278.2 326.8 278.2 324.9 278.2 324.9 278.3 324.7 278.3 323.8 278.3 324.1 278.4 325.5 278.4 324.5 278.4 323.2 278.5 325.5 278.5 326.4 278.5 326.9 278.6 328.6 278.6 329.7 278.6 333 278.6 336.4 278.7 337.5 278.7 339 278.7 346.7 278.8 347.4 278.8 350.7 278.8 353.6 278.9 356.8 278.9 360.6 278.9 362.3 278.9 367 279 372.1 279 363.1 279 374.2 279.1 371 279.1 400 279.3 400 279.3 366.4 279.4 400 279.6 400 279.6 374.9 279.7 400 279.7 400 279.8 371.5 279.8 400 279.9 400 279.9 368.6 279.9 400 280 400 280 373.4 280.1 400 280.5 400 280.5 357.1 280.5 400 280.7 400 280.7 373 280.7 369.7 280.8 400 280.8 371.9 280.8 400 280.9 400 281 372.8 281 400 281 400 281 366.5 281.1 400 281.3 400 281.3 374.1 281.3 400 281.4 400 281.4 368.8 281.4 400 281.5 400 281.5 368.1 281.5 400 281.6 400 281.6 363.4 281.7 400 281.7 400 281.7 371.3 281.7 400 281.9 400 281.9 374.1 281.9 400 282 400 282 360.5 282 400 282.4 400 282.4 356.4 282.4 400 282.5 400 282.5 372.5 282.5 400 282.7 400 282.8 376.8 282.8 376.6 282.8 372.8 282.8 369.3 282.9 367.5 282.9 361.9 282.9 360.4 283 355.3 283 357.3 283 353.6 283.1 347.2 283.1 344 283.1 339.4 283.1 339.7 283.2 336 283.2 331.6 283.2 328.9 283.3 332.8 283.3 330.8 283.3 329.4 283.4 327.4 283.4 325.2 283.4 325 283.5 328.2 283.5 325.8 283.5 329.8 283.5 329.4 283.6 332.6 283.6 328.7 283.6 331.4 283.7 331.6 283.7 335.5 283.7 340.8 283.8 339.9 283.8 345.1 283.8 350.6 283.8 354.2 283.9 353 283.9 359.8 283.9 362.1 284 362 284 366.3 284 367.2 284.1 374.6 284.1 376.4 284.1 374.8 284.2 400 284.2 355.6 284.2 400 284.2 375.4 284.3 400 284.3 400 284.3 355.6 284.4 400 284.5 400 284.5 362.9 284.5 370.5 284.5 400 284.6 362.7 284.6 400 284.6 400 284.7 353.9 284.7 400 284.7 371.2 284.8 400 284.9 400 284.9 352.3 284.9 366.6 284.9 400 285.2 400 285.2 354.8 285.2 354.2 285.3 400 285.3 400 285.4 375.3 285.4 371.3 285.4 376 285.5 400 285.6 400 285.6 345.1 285.7 359.4 285.7 359.5 285.7 371 285.8 400 285.8 370.4 285.8 400 285.9 400 286 356.1 286 400 286 367.2 286.1 400 286.1 400 286.2 356.7 286.2 400 286.2 400 286.2 374.1 286.3 375.8 286.3 400 286.3 376.6 286.4 400 286.5 400 286.5 374.3 286.5 400 286.6 400 286.6 367.7 286.6 400 286.7 400 286.8 372.9 286.8 400 286.9 400 287 355.8 287 400 287 369.4 287.1 400 287.1 400 287.1 359.3 287.2 400 287.3 400 287.3 369.6 287.3 400 287.3 361.4 287.4 400 287.6 400 287.6 373.5 287.6 400 287.8 400 287.8 367.3 287.8 364.1 287.9 371.1 287.9 400 288 400 288 364.8 288 400 288.1 363.8 288.1 400 288.1 361.8 288.2 400 288.2 400 288.3 374.5 288.3 373.1 288.3 400 288.4 400 288.4 367.9 288.4 400 288.5 374.5 288.5 375.9 288.5 400 288.6 400 288.7 370.2 288.7 400 289 400 289.1 364.8 289.1 400 289.2 400 289.3 354.6 289.3 400 289.3 377.2 289.4 400 289.6 400 289.6 374.9 289.7 400 289.7 376.7 289.7 400 289.7 400 289.8 377.2 289.8 400 289.8 400 289.9 362.7 289.9 400 290.1 400 290.2 371.3 290.2 374.5 290.2 374.2 290.3 360.4 290.3 362.8 290.3 400 290.4 400 290.5 373.5 290.5 400 290.5 400 290.6 366.6 290.6 372.2 290.6 400 290.7 371.5 290.7 370 290.7 400 290.8 400 290.8 363.5 290.8 400 290.9 400 290.9 373.6 291 400 291.1 400 291.1 364.5 291.1 371.5 291.1 370.9 291.2 373.9 291.2 400 291.3 400 291.3 376.4 291.3 400 291.6 400 291.6 358.2 291.7 359.1 291.7 400 291.8 400 291.8 375.5 291.8 400 291.8 400 291.9 367.3 291.9 400 291.9 400 292 375.5 292 400 292 400 292.1 374.4 292.1 400 292.2 400 292.2 374.7 292.2 400 292.3 400 292.3 367.1 292.4 363.2 292.4 400 292.4 368.1 292.5 400 292.6 400 292.6 377.1 292.6 371.4 292.7 400 292.7 370.4 292.7 400 292.8 400 292.8 376.5 292.9 400 292.9 400 292.9 353.4 293 400 293 400 293 374.9 293.1 400 293.1 375.5 293.1 374.9 293.2 355.4 293.2 400 293.2 400 293.2 375.1 293.3 400 293.3 400 293.3 358.9 293.4 400 293.4 376.3 293.4 400 293.5 400 293.5 375.5 293.6 400 293.6 400 293.6 366.8 293.7 400 293.7 374.4 293.7 375.5 293.8 400 293.8 364.9 293.8 400 294 400 294 358.3 294 400 294.1 400 294.1 373.8 294.2 400 294.2 400 294.2 370.9 294.3 400 294.3 400 294.3 367.6 294.4 400 294.4 400 294.4 371.3 294.5 370.5 294.5 400 294.6 400 294.6 361.9 294.7 373 294.7 400 295.3 400 295.3 349.4 295.3 400 295.4 400 295.4 370.9 295.5 400 295.7 400 295.7 366.5 295.8 372.6 295.8 400 295.9 400 296 360.4 296 400 296 400 296 373.6 296.1 400 296.1 400 296.1 365 296.2 400 296.2 373.3 296.2 400 296.3 400 296.3 370.4 296.3 400 296.4 353.7 296.4 362.7 296.4 400 296.6 400 296.6 374.9 296.7 400 296.7 400 296.7 367.8 296.8 400 296.8 370.5 296.8 400 296.9 400 296.9 365.9 296.9 400 297 400 297 377.2 297 400 297.1 400 297.1 376.1 297.1 400 297.3 400 297.3 370.2 297.4 375.8 297.4 371.3 297.4 365 297.4 357.3 297.5 352.5 297.5 347.7 297.5 344.2 297.6 345.1 297.6 337.6 297.6 337.8 297.7 336.1 297.7 341.5 297.7 346.5 297.8 347.3 297.8 350.7 297.8 356.4 297.8 364.2 297.9 372.2 297.9 372.8 297.9 400 298 374.8 298 400 298.1 400 298.2 376.4 298.2 368 298.2 363.7 298.3 400 298.3 400 298.4 377.3 298.4 400 298.5 400 298.5 364.9 298.6 400 298.7 400 298.7 365.9 298.7 400 298.8 400 298.8 368 298.8 400 299.1 400 299.1 377.1 299.2 400 299.2 400 299.3 373.7 299.3 400 299.5 400 299.6 371.5 299.6 400 299.6 371.6 299.7 375.7 299.7 400 299.7 400 299.8 355.3 299.8 400 299.9 400 299.9 374.7 299.9 369.1 300 360.5 300 400 300.1 400 300.1 359.6 300.1 400 300.3 400 300.3 376.3 300.4 400 300.5 400 300.5 355.5 300.5 400 300.9 400 300.9 363.4 300.9 400 301 400 301.1 374.9 301.1 367.4 301.1 400 301.4 400 301.4 372 301.4 368.2 301.5 372.2 301.5 400 301.6 400 301.6 361 301.6 400 301.6 362 301.7 400 301.8 400 301.8 349.5 301.9 400 301.9 370.3 301.9 400 301.9 374.1 302 400 302 400 302.1 373 302.1 400 302.1 400 302.2 358.7 302.2 400 302.2 365.3 302.3 370.1 302.3 400 302.4 400 302.4 362.5 302.4 400 302.6 400 302.6 377.1 302.7 400 302.9 400 302.9 360.8 302.9 362.1 303 373.1 303 371.3 303 400 303.3 400 303.3 361.8 303.3 370.5 303.4 400 303.4 369.7 303.4 400 303.5 400 303.5 365.5 303.5 400 304 400 304 364.7 304.1 400 304.4 400 304.4 375.3 304.4 365 304.5 400 304.5 400 304.5 356.1 304.6 400 304.6 374.7 304.6 400 304.7 400 304.7 374.9 304.8 400 304.8 373 304.8 400 305 400 305.1 371 305.1 400 305.2 400 305.2 369.1 305.2 400 305.3 376.6 305.3 400 305.3 400 305.4 368.7 305.4 400 305.6 400 305.6 377.4 305.6 400 305.7 371.2 305.7 400 305.8 400 305.8 376.2 305.8 400 305.9 376.5 305.9 400 306.2 400 306.2 374.8 306.2 400 306.3 368.4 306.3 400 306.5 400 306.5 375.8 306.6 373.1 306.6 364.4 306.6 400 306.7 376.7 306.7 400 306.7 370.9 306.8 400 307 400 307 356.6 307.1 400 307.1 400 307.1 364.1 307.2 375.8 307.2 400 307.4 400 307.4 357.1 307.4 400 307.5 363.2 307.5 400 307.6 400 307.6 374.3 307.7 400 307.8 400 307.9 374.8 307.9 373.2 307.9 400 308.3 400 308.3 377.4 308.3 400 308.4 400 308.4 377.3 308.4 362.3 308.5 400 308.5 366 308.5 363 308.6 400 308.7 400 308.7 358 308.7 375 308.8 400 308.9 400 308.9 368.9 309 400 309.1 400 309.2 374.9 309.2 400 309.3 400 309.3 371.1 309.3 363.8 309.4 400 309.4 400 309.4 364.3 309.5 400 309.6 400 309.6 372.2 309.6 400 309.9 400 310 376.6 310 400 310 400 310.1 367.9 310.1 400 310.3 400 310.3 357.1 310.3 400 310.6 400 310.6 349.1 310.7 400 310.7 400 310.7 364.6 310.8 400 310.8 373.4 310.8 400 310.9 400 310.9 364.6 310.9 400 311 400 311 356.4 311 400 311 400 311.1 369.5 311.1 373.7 311.1 400 311.2 400 311.2 375.9 311.2 400 311.4 400 311.5 376.8 311.5 400 311.7 400 311.8 369.6 311.8 400 311.8 362 311.9 376.6 311.9 372.3 311.9 400 312.1 400 312.1 357.4 312.2 400 312.3 400 312.3 371.2 312.3 400 312.5 400 312.5 364.4 312.6 400 312.6 373.5 312.6 369.6 312.7 400 312.7 374.2 312.7 368 312.8 400 313 400 313 366.2 313 400 313.1 376 313.1 400 313.1 368.6 313.1 400 313.3 400 313.3 369 313.3 400 313.5 400 313.5 374.5 313.5 400 313.7 400 313.7 372.4 313.8 373.3 313.8 400 313.8 375.3 313.8 370.6 313.9 400 314 400 314 353.3 314.1 400 314.3 400 314.3 371.1 314.4 400 314.8 400 314.8 376.8 314.8 400 314.9 377 314.9 400 314.9 400 315 369 315 400 315 370.1 315.1 400 315.3 400 315.3 361.3 315.3 400 315.4 374.9 315.4 400 315.5 400 315.5 363.6 315.5 400 315.6 400 315.6 377.4 315.7 400 315.7 374.6 315.7 400 315.9 400 315.9 370.6 316 358.8 316 344.9 316 335.4 316.1 327.3 316.1 318.4 316.1 309.6 316.2 304.3 316.2 301.7 316.2 295.2 316.2 289.1 316.3 284 316.3 280.1 316.3 270.5 316.4 265.5 316.4 261.5 316.4 256.3 316.5 254.3 316.5 247.4 316.5 245.8 316.6 240.7 316.6 237.3 316.6 234.2 316.6 229.9 316.7 228.4 316.7 221.5 316.7 219.2 316.8 215.1 316.8 211.1 316.8 205.1 316.9 204.3 316.9 199.7 316.9 201.8 316.9 200 317 197.8 317 193.9 317 189.8 317.1 192.8 317.1 195.6 317.1 198.4 317.2 198.6 317.2 196.7 317.2 201.3 317.3 200.1 317.3 205.5 317.3 207.1 317.3 211 317.4 216.5 317.4 218.9 317.4 221.9 317.5 226.3 317.5 225 317.5 232 317.6 235.7 317.6 243.9 317.6 242.1 317.6 246.4 317.7 253.4 317.7 256 317.7 261.9 317.8 267.6 317.8 271.7 317.8 277.3 317.9 281.2 317.9 287.3 317.9 295.6 318 299.5 318 307 318 312.1 318 317.3 318.1 325.6 318.1 335.3 318.1 345.9 318.2 358.5 318.2 369 318.2 400 318.3 400 318.3 364.1 318.4 400 318.5 400 318.5 372.5 318.5 400 318.6 400 318.6 364.1 318.7 400 318.8 400 318.8 365.3 318.8 400 319 400 319 362.7 319 400 319.1 368.9 319.1 400 319.4 400 319.4 343.5 319.4 362 319.4 373 319.5 349.4 319.5 400 319.5 372.4 319.6 400 319.6 400 319.6 370.3 319.7 400 319.7 400 319.7 375.9 319.8 369.1 319.8 400 320.1 400 320.1 363.5 320.1 400 320.2 400 320.3 371.4 320.3 400 320.5 400 320.5 373.9 320.5 400 320.8 400 320.8 365.9 320.8 367.3 320.9 400 321 400 321 368.4 321.1 400 321.2 400 321.2 369.8 321.3 400 321.3 370.2 321.3 400 321.4 374.5 321.4 400 321.4 365.8 321.5 400 321.7 400 321.7 368.7 321.7 372.8 321.8 369 321.8 359.4 321.8 357.1 321.8 350.5 321.9 347.3 321.9 344.2 321.9 344.1 322 340.2 322 341.5 322 346.7 322.1 347.7 322.1 348.5 322.1 357 322.2 363 322.2 369.8 322.2 375.5 322.2 353.3 322.3 400 322.3 369.3 322.3 400 322.5 400 322.5 366.3 322.6 356.7 322.6 400 322.6 370.8 322.7 364.8 322.7 400 322.7 375.4 322.8 400 322.8 400 322.9 372.6 322.9 400 323.2 400 323.2 350.6 323.3 400 323.3 375 323.3 400 323.4 369.3 323.4 400 323.6 400 323.7 377.1 323.7 400 323.8 400 323.8 363.7 323.8 400 323.9 400 323.9 373.9 323.9 400 324.1 400 324.1 371 324.1 400 324.2 400 324.2 366.7 324.3 400 324.3 400 324.3 362.1 324.4 364.1 324.4 400 324.6 400 324.6 372.8 324.6 400 324.6 375.3 324.7 400 324.8 400 324.8 377.3 324.8 400 324.9 400 324.9 375.8 325 400 325 372.6 325 400 325.1 400 325.2 362.7 325.2 372.2 325.2 400 325.3 400 325.4 367.4 325.4 400 325.4 366.5 325.5 400 325.5 400 325.5 372.6 325.6 367.3 325.6 400 325.6 366.5 325.7 375.3 325.7 400 325.8 400 325.9 352.2 325.9 400 325.9 400 326 374.8 326 400 326 400 326 356.8 326.1 368.9 326.1 400 326.1 400 326.2 363.6 326.2 400 326.5 400 326.6 353 326.6 400 326.6 400 326.7 359.4 326.7 375.1 326.7 400 327.2 400 327.2 376 327.3 400 327.3 400 327.3 376.7 327.4 400 327.5 400 327.5 373.7 327.5 400 327.6 400 327.7 375.3 327.7 400 327.9 400 327.9 354.1 328 375.1 328 400 328.1 400 328.1 373.8 328.1 400 328.2 400 328.2 352 328.3 400 328.3 400 328.4 358 328.4 400 328.4 367.3 328.5 400 328.5 400 328.5 361 328.5 400 328.6 400 328.7 370.3 328.7 400 328.8 400 328.9 377.3 328.9 371.9 328.9 363.4 329 360.9 329 356.5 329 357.4 329.1 354.3 329.1 356.4 329.1 359.2 329.2 359.8 329.2 362.6 329.2 367 329.2 364.5 329.3 400 329.3 369 329.3 400 329.4 400 329.4 374.2 329.4 400 329.5 400 329.5 369.9 329.6 400 329.7 400 329.7 376.5 329.8 400 329.9 400 329.9 374.2 329.9 400 330 400 330.1 372.5 330.1 400 330.1 359.2 330.2 400 330.2 400 330.2 375.3 330.3 400 330.3 362.4 330.3 369.8 330.4 400 330.4 400 330.5 374.8 330.5 400 331 400 331 367.4 331 400 331.1 400 331.2 367.7 331.2 366.1 331.2 400 331.3 400 331.3 372.9 331.3 376.4 331.4 400 331.4 400 331.4 368.9 331.5 357 331.5 400 331.6 400 331.6 371.7 331.7 400 331.9 400 331.9 373 331.9 400 332 371.1 332 373.6 332 359.4 332.1 400 332.1 355.1 332.1 400 332.2 400 332.2 369.6 332.3 400 332.3 400 332.3 376.5 332.4 400 332.5 400 332.5 354.9 332.5 400 332.6 400 332.7 352.2 332.7 400 332.8 400 332.8 377.5 332.9 351.5 332.9 371.2 332.9 369.9 333 400 333 370.2 333 400 333.3 400 333.3 358.5 333.4 400 333.6 400 333.6 374.6 333.7 400 333.9 400 334 350.3 334 363.1 334 358.8 334 356.1 334.1 352 334.1 350.6 334.1 347.5 334.2 349.7 334.2 353.5 334.2 354.6 334.3 356.6 334.3 364.3 334.3 368.2 334.4 373.5 334.4 400 334.4 400 334.5 371 334.5 372.1 334.5 400 334.7 400 334.7 377 334.7 400 334.7 400 334.8 361.9 334.8 400 335.3 400 335.3 359.9 335.3 400 335.4 400 335.4 373.6 335.5 400 335.5 400 335.5 369.6 335.6 400 335.9 400 335.9 377 335.9 400 336 400 336.1 368.8 336.1 400 336.1 400 336.2 375.9 336.2 372.4 336.2 369.1 336.3 400 336.4 400 336.4 362.7 336.4 400 336.5 400 336.6 369.6 336.6 400 336.8 400 336.8 374.5 336.9 372.4 336.9 400 337 400 337.1 370.7 337.1 400 337.1 400 337.2 368.4 337.2 400 337.2 400 337.2 372.9 337.3 400 337.4 400 337.4 376.7 337.5 400 337.6 400 337.6 363.2 337.7 400 337.7 400 337.7 348.2 337.8 400 337.8 400 337.9 375 337.9 400 337.9 400 337.9 368.5 338 400 338 363.3 338 375.2 338.1 400 338.1 400 338.1 358 338.2 400 338.5 400 338.5 360.1 338.6 376.8 338.6 400 338.6 400 338.7 367.5 338.7 400 338.7 400 338.8 371.9 338.8 400 338.9 400 338.9 371.8 338.9 400 339 400 339.1 371.2 339.1 400 339.3 400 339.3 373.2 339.3 400 339.6 400 339.6 377 339.6 400 339.8 400 339.9 374.3 339.9 400 339.9 374.7 340 400 340 400 340 362.6 340.1 400 340.2 400 340.2 351.4 340.2 400 340.3 376.5 340.3 400 340.4 400 340.4 367.8 340.4 400 340.5 400 340.5 363.5 340.6 370.1 340.6 400 340.6 400 340.7 357.1 340.7 400 340.7 400 340.7 349.2 340.8 400 340.8 400 340.8 372.7 340.9 400 341 400 341 364.5 341 365.8 341 363.8 341.1 400 341.1 400 341.1 377.2 341.2 400 341.2 368.2 341.2 376.9 341.3 368.3 341.3 400 341.3 400 341.4 364.5 341.4 365.6 341.4 359.1 341.4 400 342 400 342 374.1 342 400 342.4 400 342.4 376.7 342.4 374 342.4 400 342.5 400 342.5 373.4 342.5 400 342.6 400 342.7 373.6 342.7 400 342.8 400 342.8 350.8 342.8 400 342.9 400 342.9 367.6 343 400 343.5 400 343.5 376.4 343.5 400 343.6 400 343.6 372.9 343.6 373.9 343.7 400 344.1 400 344.2 377 344.2 400 344.4 400 344.4 368.3 344.5 368.2 344.5 400 344.5 400 344.6 367.7 344.6 367 344.6 400 344.7 400 344.7 377.2 344.7 400 344.8 400 344.8 376.3 344.8 400 344.9 400 344.9 372.8 345 400 345.1 400 345.2 375.4 345.2 376.9 345.2 400 345.4 400 345.4 364.3 345.5 400 345.5 400 345.6 354.8 345.6 400 345.8 400 345.9 343.2 345.9 400 345.9 368.3 345.9 400 346 400 346.1 364.4 346.1 400 346.1 359.8 346.2 338.2 346.2 400 346.3 400 346.3 375.3 346.4 400 346.5 400 346.5 374.2 346.6 400 346.6 361.1 346.6 377.5 346.6 368.7 346.7 400 346.7 400 346.7 369.8 346.8 362.1 346.8 400 346.8 375 346.9 400 346.9 363.6 346.9 369.7 346.9 375.8 347 400 347.5 400 347.5 356.9 347.6 400 347.6 400 347.6 351.7 347.7 400 347.7 400 347.7 370.9 347.8 357.5 347.8 400 348 400 348 377.4 348 400 348.2 400 348.2 373.3 348.3 400 348.5 400 348.6 367.8 348.6 346 348.6 352 348.7 374.3 348.7 353.4 348.7 400 348.7 375.4 348.8 400 348.8 400 348.8 367.9 348.9 400 349.1 400 349.2 368.5 349.2 364.1 349.2 359 349.3 352.6 349.3 353.2 349.3 351.5 349.4 348.4 349.4 350.9 349.4 353.2 349.4 357 349.5 359.1 349.5 365 349.5 370.5 349.6 374.9 349.6 400 349.7 400 349.8 368.6 349.8 400 350.3 400 350.3 376.9 350.3 400 350.4 400 350.4 373.2 350.4 400 350.5 374.5 350.5 400 350.5 400 350.6 374.5 350.6 400 350.9 400 350.9 366.4 350.9 400 351.1 400 351.1 374 351.1 400 351.1 372.2 351.2 373.4 351.2 400 351.4 400 351.4 373 351.4 348.5 351.5 400 351.7 400 351.7 360.5 351.7 400 351.8 400 351.9 372.5 351.9 400 352 400 352 366.6 352 400 352.2 400 352.2 364.9 352.2 400 352.3 400 352.4 359.9 352.4 373.1 352.4 400 352.5 400 352.6 377 352.6 400 352.6 374.3 352.7 400 352.8 400 352.8 371.7 352.9 400 353.2 400 353.2 372.2 353.3 400 353.3 400 353.3 374.4 353.4 400 353.4 371.5 353.4 400 353.5 400 353.5 364 353.5 359.8 353.6 363.1 353.6 400 353.7 400 353.7 363.2 353.7 400 353.9 400 354 375.5 354 370.8 354 372.6 354.1 366.3 354.1 365.5 354.1 346.9 354.2 361.7 354.2 357.8 354.2 357.3 354.3 359.7 354.3 356.5 354.3 354 354.3 354.7 354.4 350.4 354.4 351.2 354.4 350.1 354.5 353.6 354.5 353.7 354.5 354.5 354.6 354.3 354.6 359 354.6 359 354.6 356.8 354.7 358.9 354.7 361.8 354.7 361.2 354.8 364.1 354.8 370.4 354.8 369.8 354.9 373.5 354.9 375.4 354.9 370.5 355 400 355 400 355 376.6 355.1 400 355.1 400 355.1 361.7 355.2 371.9 355.2 400 355.2 371.5 355.3 373.4 355.3 372.6 355.3 360.1 355.3 400 355.5 400 355.5 355.4 355.6 366.3 355.6 400 355.7 400 355.8 368.1 355.8 400 356.1 400 356.1 368.5 356.2 400 356.3 400 356.3 373.9 356.4 370.7 356.4 400 356.5 400 356.5 363.2 356.6 375.1 356.6 373.8 356.6 375.9 356.7 400 356.8 400 356.8 377.2 356.8 400 356.9 377.3 356.9 400 357.2 400 357.2 371.8 357.2 375.4 357.3 400 357.4 400 357.5 374.5 357.5 400 357.5 368.2 357.6 377.5 357.6 375 357.6 375 357.7 400 358.1 400 358.1 370.2 358.1 400 358.1 400 358.2 376.4 358.2 400 358.5 400 358.5 376.1 358.5 400 358.8 400 358.8 366.1 358.8 400 359.2 400 359.2 374.6 359.2 368.2 359.2 372.2 359.3 400 359.4 400 359.4 366.3 359.4 400 359.5 374.7 359.5 400 359.6 400 359.6 367.6 359.7 400 359.7 400 359.8 377 359.8 400 359.9 400 359.9 371.4 359.9 400 360.3 400 360.3 374.9 360.3 377 360.4 400 360.6 400 360.6 374.4 360.6 400 360.9 400 360.9 374.8 360.9 375 360.9 400 361.1 400 361.1 377.2 361.2 400 361.2 377.2 361.2 400 361.2 400 361.3 375.4 361.3 400 361.3 400 361.4 365.4 361.4 400 361.4 400 361.5 371.6 361.5 400 361.8 400 361.9 375.2 361.9 400 362 400 362.1 376.4 362.1 400 362.2 400 362.2 372.5 362.3 377.1 362.3 400 362.4 400 362.4 364.9 362.4 365 362.5 400 362.5 400 362.5 359.7 362.6 400 362.6 353.4 362.6 400 363.1 400 363.2 372.2 363.2 400 363.4 400 363.5 354.8 363.5 400 363.7 400 363.7 367.1 363.7 373.2 363.7 400 363.8 400 363.9 377.4 363.9 400 364 400 364 373.3 364.1 400 364.2 400 364.2 377.3 364.2 400 364.4 400 364.4 371.3 364.4 400 364.7 400 364.7 373.9 364.8 400 364.9 400 364.9 376 365 371.9 365 376.5 365 400 365.1 400 365.2 372.8 365.2 367.4 365.2 374.8 365.3 400 365.3 400 365.3 372.4 365.4 400 365.4 368.9 365.4 400 365.4 400 365.5 373.6 365.5 400 365.6 400 365.7 371.7 365.7 357 365.7 400 365.8 373.6 365.8 400 365.8 400 365.8 370.9 365.9 400 366.5 400 366.5 373.1 366.5 400 366.6 400 366.6 375.7 366.6 372.2 366.7 366.2 366.7 366.9 366.7 360.5 366.8 356.8 366.8 356.9 366.8 353.5 366.8 348.6 366.9 349.7 366.9 345.8 366.9 343.3 367 340.3 367 337 367 334.9 367.1 335.6 367.1 332.8 367.1 325.6 367.2 321.5 367.2 323.3 367.2 319.6 367.2 317.5 367.3 314.4 367.3 312.2 367.3 307.8 367.4 309.2 367.4 306.6 367.4 307.5 367.5 304.6 367.5 304.2 367.5 305.1 367.5 302.1 367.6 303.5 367.6 301.5 367.6 299.7 367.7 300.3 367.7 304.5 367.7 306.9 367.8 304.8 367.8 304.7 367.8 307.2 367.9 307 367.9 311.5 367.9 308.6 367.9 315.4 368 317.2 368 318.4 368 323.2 368.1 320.8 368.1 327.6 368.1 332 368.2 334.7 368.2 333.3 368.2 338.4 368.2 338.2 368.3 341.5 368.3 345 368.3 348.3 368.4 348.8 368.4 355 368.4 354.8 368.5 357.9 368.5 361.2 368.5 363.2 368.6 369.7 368.6 371.5 368.6 365.7 368.6 400 368.7 377.1 368.7 400 368.7 375.7 368.8 400 368.9 400 368.9 369.8 369 400 369.4 400 369.5 369 369.5 400 369.5 400 369.6 367.9 369.6 361.2 369.6 400 369.9 400 370 344.5 370 400 370 400 370 375.1 370.1 400 370.1 400 370.1 376.8 370.2 400 370.3 400 370.3 362.9 370.4 366.4 370.4 400 370.6 400 370.6 370.6 370.7 400 370.7 400 370.7 373.8 370.8 400 370.9 400 370.9 370 371 400 371.3 400 371.3 370.7 371.3 400 371.4 369 371.4 400 371.6 400 371.6 364.9 371.7 400 371.7 400 371.7 373.3 371.8 400 372.1 400 372.1 375.4 372.1 363.2 372.2 400 372.4 400 372.4 369 372.4 400 372.4 400 372.5 370.6 372.5 400 372.5 365.4 372.6 400 372.8 400 372.8 362.1 372.8 400 373.1 400 373.2 371.8 373.2 400 373.2 400 373.3 363.3 373.3 370.1 373.3 400 373.4 369.5 373.4 400 373.7 400 373.7 358.3 373.7 400 373.8 400 373.8 362.8 373.8 400 373.9 400 373.9 361.1 374 400 374 400 374.1 363.3 374.1 400 374.1 373.8 374.2 400 374.2 400 374.3 373.3 374.3 400 374.4 400 374.4 371.4 374.4 369.4 374.5 400 374.6 400 374.6 376.8 374.6 400 374.7 400 374.7 368.5 374.8 400 374.9 400 374.9 377.4 374.9 400 375 400 375 372.6 375.1 374.1 375.1 400 375.3 400 375.3 367.5 375.4 400 375.5 400 375.6 365.4 375.6 400 375.9 400 376 370.4 376 400 376 400 376.1 370.9 376.1 400 376.5 400 376.6 372.7 376.6 372.2 376.6 400 376.9 400 376.9 371 376.9 400 376.9 373.3 377 400 377.1 400 377.2 366 377.2 400 377.3 400 377.3 377.5 377.3 400 377.4 372.6 377.4 400 377.5 400 377.5 367.8 377.6 374.8 377.6 400 377.7 400 377.8 377.3 377.8 354.6 377.8 400 377.9 372.6 377.9 400 378 400 378 369.3 378 400 378.1 400 378.1 365.5 378.1 400 378.2 400 378.3 376.1 378.3 400 378.4 400 378.5 360.8 378.5 400 378.5 400 378.6 373.9 378.6 400 378.6 360.8 378.7 371.3 378.7 400 378.7 376.8 378.7 400 378.8 400 378.9 375.4 378.9 375.7 378.9 400 379 373.4 379 400 379 400 379 377.4 379.1 400 379.3 400 379.4 371.1 379.4 400 379.5 400 379.5 371.7 379.5 377.2 379.6 371.2 379.6 367.9 379.6 360.9 379.7 355.1 379.7 351.6 379.7 347.9 379.7 345.9 379.8 345.7 379.8 347.1 379.8 348.1 379.9 352.6 379.9 355.2 379.9 359.1 380 361.8 380 371.1 380 375.6 380.1 400 380.2 400 380.2 369.4 380.2 400 380.3 400 380.3 367.7 380.4 373.1 380.4 400 380.6 400 380.6 375.7 380.6 400 380.7 400 380.8 375.8 380.8 400 381 400 381.1 372.8 381.1 400 381.1 400 381.1 368.4 381.2 400 381.2 400 381.2 375.9 381.3 400 381.3 400 381.4 371.8 381.4 400 381.9 400 382 376.6 382 400 382 364.8 382.1 369.3 382.1 400 382.1 370.3 382.2 400 382.3 400 382.4 369.2 382.4 400 382.5 400 382.6 368.2 382.6 375 382.6 400 382.7 400 382.7 376.7 382.8 372.3 382.8 400 383 400 383 377.5 383 400 383.2 400 383.2 373.9 383.3 359.9 383.3 400 383.3 364.1 383.4 400 383.5 400 383.6 374.6 383.6 376 383.6 400 383.6 400 383.7 367.4 383.7 400 383.9 400 383.9 375.3 384 400 384 371.1 384 400 384.1 400 384.1 370.3 384.2 400 384.3 400 384.3 371.7 384.4 400 384.4 400 384.4 372.5 384.5 400 384.5 400 384.5 372.9 384.6 400 385 400 385 359.1 385 400 385.1 400 385.1 356.8 385.2 400 385.2 370.8 385.2 400 385.4 400 385.4 366.3 385.4 400 385.6 400 385.6 374.1 385.6 400 385.9 400 385.9 376.3 385.9 400 386.1 400 386.2 372.2 386.2 400 386.2 400 386.3 374.7 386.3 369.1 386.3 376.1 386.4 400 386.4 400 386.5 364.4 386.5 400 386.6 400 386.6 361.7 386.6 400 386.7 400 386.7 376 386.8 400 387 400 387 375.5 387.1 400 387.1 400 387.1 377.4 387.1 400 387.3 400 387.3 372.1 387.3 400 387.4 400 387.4 357 387.4 400 387.5 400 387.5 374.1 387.6 400 387.6 400 387.6 366 387.7 374.5 387.7 368.7 387.7 400 387.8 400 387.8 364 387.9 400 387.9 370.8 387.9 400 388.3 400 388.3 363.6 388.4 372.7 388.4 400 388.5 400 388.6 365.7 388.6 400 388.7 400 388.7 373.9 388.7 400 388.9 400 389 373.4 389 400 389 377.3 389.1 400 389.1 400 389.1 371.2 389.2 364.7 389.2 400 389.2 400 389.3 370.7 389.3 400 389.4 400 389.5 375.4 389.5 400 389.8 400 389.8 377.1 389.9 400 389.9 400 389.9 364.5 389.9 400 390.1 400 390.1 377.4 390.1 400 390.3 400 390.4 374.5 390.4 400 390.4 400 390.5 369.2 390.5 400 390.6 400 390.7 358 390.7 400 391.1 400 391.1 368.4 391.1 400 391.2 365.9 391.2 400 391.2 400 391.3 368.9 391.3 400 391.3 400 391.4 374.3 391.4 371.7 391.4 368 391.5 365.6 391.5 364.3 391.5 362.9 391.6 361.1 391.6 357.1 391.6 355.5 391.6 349.2 391.7 351.2 391.7 346.9 391.7 348.4 391.8 347.1 391.8 348.2 391.8 349 391.9 347.2 391.9 347.5 391.9 344.3 391.9 343.8 392 345.9 392 344.5 392 343.9 392.1 346 392.1 349 392.1 346.5 392.2 351 392.2 348.8 392.2 354.3 392.3 354.6 392.3 353.2 392.3 355.8 392.3 360.9 392.4 362.5 392.4 364.1 392.4 368.4 392.5 369.9 392.5 372.3 392.5 371.3 392.6 377.2 392.6 400 392.6 400 392.6 374.3 392.7 400 392.8 400 392.8 376.6 392.8 400 393 400 393 369.9 393 400 393 360.4 393.1 400 393.1 400 393.2 371.6 393.2 400 393.2 400 393.3 370.2 393.3 374.3 393.3 400 393.3 369.4 393.4 400 393.6 400 393.6 365.9 393.6 400 393.7 400 393.7 373.1 393.7 400 393.8 376.3 393.8 400 393.9 400 393.9 363.6 394 400 394 353.4 394 400 394 372.8 394.1 400 394.4 400 394.4 364.3 394.4 400 394.5 400 394.5 371.5 394.5 400 394.9 400 394.9 368.5 394.9 365.1 395 400 395 400 395 368.4 395.1 400 395.1 400 395.2 366.5 395.2 369.2 395.2 400 395.6 400 395.6 374.2 395.6 400 395.7 370.7 395.7 376.9 395.7 400 395.8 400 395.9 370.1 395.9 400 395.9 400 396 361.5 396 400 396.1 400 396.2 367.6 396.2 400 396.5 400 396.5 366.8 396.6 400 396.8 400 396.8 374.5 396.9 400 397.1 400 397.1 376.6 397.1 400 397.2 400 397.2 361.3 397.2 400 397.3 400 397.3 374 397.4 400 397.7 400 397.7 362.3 397.8 400 398.1 400 398.2 377.1 398.2 400 398.2 371.2 398.2 400 398.6 400 398.6 373.8 398.6 400 398.8 400 398.8 376.6 398.9 371.9 398.9 400 398.9 400 399 362.6 399 400 399.1 400 399.1 364.8 399.1 400 399.3 400 399.3 370.8 399.3 400 399.4 400 399.4 363.9 399.5 400 399.6 400 399.6 361.9 399.6 400 399.6 400 399.7 362.6 399.7 400 399.7 400 399.8 377.2 399.8 370.1 399.8 400 400 400 400 375.9 400.1 400 400.1 376.6 400.1 400 400.3 400 400.4 374.2 400.4 400 400.6 400 400.6 374.2 400.6 400 400.7 400 400.7 360.2 400.7 400 400.8 400 400.8 368 400.8 400 400.9 374.1 400.9 400 400.9 400 401 370.2 401 400 401 358 401 400 401.2 400 401.2 370.3 401.3 400 401.3 375.4 401.3 373.1 401.4 400 401.4 400 401.4 366.3 401.4 400 401.6 400 401.6 368.2 401.7 400 401.9 400 401.9 376.3 402 400 402 400 402 375.6 402.1 400 402.7 400 402.8 368.3 402.8 400 402.9 400 402.9 370.6 402.9 400 403 400 403 375.7 403.1 370.9 403.1 400 403.3 400 403.4 371.4 403.4 400 403.4 368.5 403.5 369.2 403.5 400 403.6 400 403.6 371.7 403.6 400 403.7 366.2 403.7 373.8 403.7 368.4 403.8 400 404 400 404.1 355 404.1 400 404.2 400 404.3 369 404.3 400 404.6 400 404.7 370.8 404.7 361.5 404.7 400 404.8 400 404.9 372.8 404.9 400 405.1 400 405.1 368.9 405.1 400 405.2 366 405.2 400 405.2 363.7 405.2 371.8 405.3 371.8 405.3 367.9 405.3 368.7 405.4 363.6 405.4 359.4 405.4 360.6 405.5 359.1 405.5 352.5 405.5 351.9 405.6 351.5 405.6 346.7 405.6 347.8 405.6 342.4 405.7 340.7 405.7 338.4 405.7 337.5 405.8 332.5 405.8 330.3 405.8 329.7 405.9 326.7 405.9 324.2 405.9 323.6 405.9 324 406 323.8 406 319.3 406 320.9 406.1 320.6 406.1 322.7 406.1 319.2 406.2 321.6 406.2 319.8 406.2 322.3 406.2 320.4 406.3 321.1 406.3 323.5 406.3 324.1 406.4 324.8 406.4 323.6 406.4 327.2 406.5 325.1 406.5 331.1 406.5 331.8 406.6 336.4 406.6 334.4 406.6 337.7 406.6 344.2 406.7 345.6 406.7 346.4 406.7 347.1 406.8 349.4 406.8 355 406.8 354.4 406.9 358.7 406.9 362.6 406.9 363.1 406.9 367.7 407 370.5 407 371.3 407 373.1 407.1 375.5 407.1 376.3 407.1 400 407.2 400 407.2 352.3 407.3 400 407.7 400 407.8 374.7 407.8 400 407.9 400 407.9 373.8 408 400 408 400 408 374.9 408 364.2 408.1 400 408.5 400 408.5 367.6 408.6 400 408.6 374.3 408.6 400 408.7 400 408.7 376.3 408.7 400 408.8 400 408.8 367 408.9 400 408.9 377.5 408.9 400 409.3 400 409.3 369.8 409.3 400 409.5 400 409.6 376.2 409.6 400 409.8 400 409.9 376.4 409.9 400 410.2 400 410.2 373.6 410.2 400 410.3 367.3 410.3 400 410.3 376.1 410.4 400 410.9 400 411 360.6 411 400 411.4 400 411.4 360 411.5 370.2 411.5 357 411.5 400 411.9 400 411.9 373.9 411.9 400 412 400 412 367.4 412 400 412.1 364.3 412.1 400 412.4 400 412.4 369.4 412.5 368.5 412.5 400 412.6 400 412.7 373.9 412.7 400 412.8 400 412.8 368.8 412.9 400 412.9 400 413 362.1 413 372.3 413 400 413.1 376.3 413.1 400 413.1 400 413.2 372.5 413.2 400 413.6 400 413.7 372.1 413.7 400 413.8 400 413.9 377 413.9 376.3 413.9 400 414.2 400 414.2 369.6 414.3 400 414.3 400 414.4 375.5 414.4 367.2 414.4 400 414.7 400 414.7 363.5 414.7 400 414.8 400 414.8 370.7 414.8 400 415 400 415 364.2 415.1 400 415.2 400 415.2 376.1 415.3 400 415.5 400 415.6 377.5 415.6 400 415.6 374.2 415.7 400 415.8 400 415.9 372.6 415.9 369.8 415.9 400 416.1 400 416.1 369.8 416.2 373 416.2 376.4 416.2 400 416.3 400 416.3 372.7 416.3 400 416.7 400 416.7 373 416.7 400 416.9 400 416.9 371.5 417 400 417.6 400 417.6 368.8 417.6 400 418.1 400 418.1 371.9 418.1 364.8 418.1 358.7 418.2 350.7 418.2 347 418.2 344.9 418.3 341.5 418.3 340.6 418.3 341.6 418.4 343.1 418.4 346.7 418.4 347.2 418.5 352.3 418.5 358 418.5 365.1 418.5 371.5 418.6 377.2 418.6 400 418.8 400 418.8 363.4 418.8 400 418.9 400 418.9 366.9 419 400 419.1 400 419.1 369.1 419.1 400 419.3 400 419.3 370.8 419.4 400 420.4 400 420.4 373.8 420.4 400 420.5 400 420.6 359.4 420.6 400 420.8 400 420.8 375.9 420.8 375.1 420.9 400 421 400 421.1 370.4 421.1 400 421.3 400 421.3 366.9 421.3 375.9 421.4 400 421.4 400 421.5 369.7 421.5 400 421.8 400 421.8 376.9 421.8 371.5 421.9 400 421.9 366 421.9 400 422.1 400 422.2 365.4 422.2 400 422.6 400 422.7 362.4 422.7 400 423.1 400 423.1 369.7 423.1 400 423.2 400 423.2 366.1 423.3 366.3 423.3 400 423.3 400 423.4 374.4 423.4 400 423.4 400 423.5 370.9 423.5 400 423.5 374.6 423.6 400 423.8 400 423.8 357.5 423.9 400 424.1 400 424.1 373.7 424.1 400 424.9 400 424.9 374.7 424.9 400 425 369.2 425 400 425.7 400 425.8 371.2 425.8 400 426.1 400 426.1 367.5 426.2 375.8 426.2 371.2 426.2 400 426.4 400 426.5 365.6 426.5 400 426.5 400 426.5 359.7 426.6 400 426.9 400 426.9 375.5 426.9 400 427 368.1 427 400 427.1 400 427.1 345.1 427.1 371.8 427.2 400 427.3 400 427.3 372.5 427.4 400 427.4 400 427.5 365.5 427.5 400 427.6 400 427.6 370.1 427.7 400 428.1 400 428.1 356.6 428.2 376.9 428.2 400 428.3 400 428.4 359.1 428.4 400 428.5 400 428.5 376.9 428.5 400 428.6 375.9 428.6 400 428.7 400 428.8 368.6 428.8 400 429.4 400 429.4 370.8 429.4 400 429.5 400 429.5 368.7 429.5 400 429.6 400 429.6 376.9 429.7 376.2 429.7 371.5 429.7 369.5 429.8 364.5 429.8 363 429.8 360.9 429.9 359.5 429.9 359.2 429.9 353.8 430 354.7 430 349.8 430 346.6 430 347.9 430.1 345 430.1 343.6 430.1 339.9 430.2 337.8 430.2 336.6 430.2 332.8 430.3 331.7 430.3 332.4 430.3 334.4 430.3 329 430.4 332.2 430.4 329.4 430.4 330.1 430.5 328 430.5 330.3 430.5 327.3 430.6 330.3 430.6 328.4 430.6 333.2 430.7 331.2 430.7 331.9 430.7 334.8 430.7 337.5 430.8 334.7 430.8 337.2 430.8 338.9 430.9 340.2 430.9 345.5 430.9 345.9 431 348.2 431 350.8 431 356.1 431 352.5 431.1 358.6 431.1 360.2 431.1 360.3 431.2 366.2 431.2 367 431.2 369 431.3 372.4 431.3 374.2 431.3 363.8 431.4 375.2 431.4 400 431.6 400 431.6 368.1 431.7 400 432.4 400 432.4 366.3 432.5 400 432.7 400 432.8 372.3 432.8 400 432.8 374.8 432.8 400 432.9 400 432.9 376.1 432.9 374.2 433 400 433 376.4 433 365.7 433.1 400 433.1 400 433.1 365 433.2 400 433.2 400 433.2 359.1 433.3 400 433.9 400 433.9 373.6 433.9 400 434 400 434 353.5 434 400 434.3 400 434.3 371.8 434.4 400 434.7 400 434.8 377.1 434.8 400 435.1 400 435.1 375.2 435.2 400 435.2 400 435.2 373.8 435.3 376.7 435.3 400 435.4 400 435.4 374.5 435.4 400 435.8 400 435.8 375.6 435.8 400 436 400 436 368.4 436 400 436.1 400 436.1 369.7 436.2 366.5 436.2 363.9 436.2 400 436.7 400 436.7 377 436.8 400 436.8 400 436.9 374.1 436.9 400 437.2 400 437.3 377.1 437.3 400 437.3 400 437.4 376.6 437.4 400 437.8 400 437.9 368.8 437.9 376.7 437.9 374.1 438 374.4 438 370 438 368.8 438 365.9 438.1 360 438.1 360.6 438.1 359.4 438.2 356 438.2 355.8 438.2 353.4 438.3 352.3 438.3 348.8 438.3 346.7 438.3 346.5 438.4 348 438.4 345.1 438.4 343.9 438.5 345.6 438.5 344.3 438.5 343.9 438.6 340.4 438.6 342.1 438.6 338.7 438.7 342.7 438.7 343 438.7 343.2 438.7 341.2 438.8 343.6 438.8 344.9 438.8 346.4 438.9 344.3 438.9 346.6 438.9 347.7 439 351.9 439 354.6 439 352.4 439 357.3 439.1 361.1 439.1 361.8 439.1 367.2 439.2 368.3 439.2 370 439.2 371.7 439.3 372.7 439.3 376.4 439.3 400 439.8 400 439.8 375.4 439.9 400 439.9 400 439.9 374.3 440 400 440 400 440.1 365.3 440.1 373.1 440.1 400 440.2 400 440.2 375.3 440.3 400 440.4 400 440.4 358.4 440.5 400 440.5 400 440.6 374.4 440.6 400 441.2 400 441.2 366 441.2 400 441.5 400 441.5 366.4 441.6 400 442.5 400 442.5 371.9 442.5 371.6 442.6 372.8 442.6 400 442.6 400 442.7 366.8 442.7 371.1 442.7 375.5 442.8 400 442.9 400 442.9 374.2 443 400 443 400 443 371.9 443.1 370.8 443.1 369.7 443.1 368.6 443.2 365.6 443.2 359.8 443.2 360.7 443.2 358.5 443.3 356.9 443.3 356.4 443.3 354.5 443.4 350.5 443.4 347.9 443.4 349.1 443.5 347.4 443.5 347.3 443.5 346 443.6 345.2 443.6 345.2 443.6 346.7 443.6 343.5 443.7 343.6 443.7 344.3 443.7 345.4 443.8 343.4 443.8 343 443.8 349.4 443.9 346.9 443.9 345.1 443.9 349.8 443.9 347.9 444 349.3 444 353.7 444 355.6 444.1 358.8 444.1 356 444.1 361 444.2 359.7 444.2 363.7 444.2 363.8 444.3 369.9 444.3 370.9 444.3 376.3 444.3 377.3 444.4 365.1 444.4 400 444.7 400 444.8 371.7 444.8 373.6 444.8 400 445 400 445 369.4 445 400 445.1 400 445.1 357.9 445.1 400 445.3 400 445.3 369 445.4 400 445.4 368.6 445.4 400 445.5 357.3 445.5 400 445.7 400 445.7 374.4 445.7 400 445.9 400 445.9 359.5 446 361.6 446 400 446.1 400 446.2 354 446.2 400 446.3 400 446.4 377 446.4 400 446.8 400 446.8 371.8 446.9 400 447 400 447 375.5 447.1 400 447.4 400 447.4 355.9 447.4 400 447.4 400 447.5 377.4 447.5 400 447.8 400 447.9 377.4 447.9 400 447.9 372.8 448 400 448.1 400 448.1 376.1 448.1 400 448.6 400 448.7 375.8 448.7 400 448.9 400 448.9 369 449 400 449.1 400 449.1 368.4 449.1 400 449.5 400 449.6 362.5 449.6 400 449.6 400 449.7 363 449.7 400 449.8 400 449.8 376 449.9 400 449.9 400 449.9 374.5 450 400 450.3 400 450.4 370.1 450.4 376.3 450.4 400 450.5 400 450.5 375.6 450.6 400 450.6 400 450.7 375.4 450.7 371 450.7 400 450.8 373.7 450.8 400 450.9 400 450.9 372.5 450.9 400 451 375.8 451 400 451.2 400 451.3 364.1 451.3 371.7 451.3 400 451.6 400 451.6 373.8 451.7 365.8 451.7 363.7 451.7 363 451.8 361 451.8 359.9 451.8 363.8 451.9 365.5 451.9 367.4 451.9 372.6 451.9 375.4 452 400 452.1 400 452.1 377.3 452.2 364.6 452.2 400 452.4 400 452.5 363.9 452.5 372.6 452.5 400 452.6 400 452.6 366.3 452.6 400 452.9 400 452.9 372.6 452.9 400 453.1 400 453.1 367.8 453.1 370.2 453.2 376.3 453.2 400 453.5 400 453.6 374.3 453.6 400 453.8 400 453.8 366.7 453.8 400 454.3 400 454.3 377.4 454.3 400 454.4 400 454.4 372.9 454.4 400 454.5 400 454.5 369.7 454.6 400 454.8 400 454.9 363.9 454.9 400 454.9 400 455 371.9 455 400 455 376.3 455.1 400 455.2 400 455.2 358.5 455.3 400 455.4 400 455.4 368.3 455.4 400 455.4 400 455.5 361 455.5 400 455.6 400 455.6 367.6 455.7 400 455.8 400 455.8 373.1 455.8 368 455.8 370.8 455.9 370.1 455.9 364.7 455.9 363.3 456 362.5 456 359.3 456 357.8 456.1 358.3 456.1 352 456.1 350.2 456.1 350.2 456.2 344.6 456.2 344.7 456.2 341.5 456.3 338.3 456.3 335.1 456.3 335.1 456.4 333.3 456.4 328.7 456.4 329.9 456.5 326.1 456.5 322.6 456.5 322.4 456.5 317.8 456.6 317.8 456.6 318.4 456.6 318.3 456.7 318.6 456.7 314.8 456.7 317 456.8 312.8 456.8 315 456.8 313.8 456.8 311 456.9 313.3 456.9 315.4 456.9 313.6 457 316.2 457 313.9 457 319.8 457.1 316.6 457.1 317.7 457.1 318.3 457.2 318.1 457.2 321.6 457.2 322.8 457.2 324.4 457.3 328.6 457.3 329.2 457.3 332.4 457.4 333.3 457.4 334.1 457.4 338.6 457.5 340.9 457.5 341.7 457.5 347 457.5 346.7 457.6 349.2 457.6 349.4 457.6 352.9 457.7 354.8 457.7 359 457.7 359.7 457.8 364.1 457.8 364.7 457.8 364.6 457.9 367.2 457.9 370.7 457.9 371.3 457.9 374.8 458 400 458.1 400 458.1 371.2 458.2 400 458.3 400 458.3 365.5 458.4 368.9 458.4 400 458.5 400 458.6 373.2 458.6 400 458.7 400 458.7 374.1 458.7 400 459.2 400 459.2 367.7 459.3 400 459.3 400 459.4 372.1 459.4 367.2 459.4 400 459.7 400 459.8 371.8 459.8 400 459.9 400 459.9 369.1 459.9 400 460 400 460.1 366.9 460.1 400 460.3 400 460.3 359.5 460.3 400 460.3 400 460.4 375.2 460.4 400 460.6 400 460.6 374.3 460.6 367.8 460.7 400 460.7 400 460.8 364.1 460.8 400 461 400 461.1 370 461.1 400 461.3 400 461.4 377.5 461.4 400 461.9 400 461.9 376.5 462 400 462.4 400 462.4 377.5 462.5 400 462.6 400 462.6 369.4 462.6 400 462.8 400 462.8 374.1 462.9 400 463.5 400 463.5 369.2 463.5 400 464 400 464 363.6 464.1 400 464.5 400 464.5 375.3 464.5 400 465.1 400 465.1 358.1 465.1 400 465.3 400 465.3 376.9 465.3 400 465.6 400 465.6 375.1 465.7 400 465.8 400 465.9 374.8 465.9 400 466.1 400 466.2 372.1 466.2 400 466.3 400 466.3 376.5 466.3 372.1 466.4 400 466.4 400 466.4 362.9 466.5 400 466.6 400 466.7 360.5 466.7 376.2 466.7 400 466.8 400 466.9 360 466.9 400 467 400 467.1 363.6 467.1 357.9 467.1 400 467.2 361.7 467.2 400 467.3 400 467.3 355.3 467.4 400 467.6 400 467.6 374.1 467.7 371.3 467.7 364.1 467.7 358 467.8 353.1 467.8 346.2 467.8 344.1 467.9 338.3 467.9 334.4 467.9 330.5 468 327.3 468 320.3 468 316.2 468 311.7 468.1 309.2 468.1 302.8 468.1 299.9 468.2 296 468.2 289.5 468.2 290.6 468.3 285.8 468.3 281.3 468.3 280.1 468.3 279.2 468.4 275.2 468.4 269.6 468.4 270.5 468.5 268.6 468.5 263 468.5 260.8 468.6 257.2 468.6 254.5 468.6 253.2 468.7 249.6 468.7 248.6 468.7 243.9 468.7 242 468.8 237.3 468.8 237.9 468.8 234.9 468.9 232.6 468.9 234.7 468.9 232 469 233.5 469 231.1 469 229.7 469 232 469.1 233.1 469.1 230.2 469.1 233.8 469.2 232.4 469.2 237.8 469.2 235.4 469.3 235.9 469.3 233.2 469.3 242.1 469.4 244 469.4 248.7 469.4 250.2 469.4 254.2 469.5 255.1 469.5 258.2 469.5 260.4 469.6 263.7 469.6 269.5 469.6 271.3 469.7 270.4 469.7 275.6 469.7 275.3 469.7 280.9 469.8 282.9 469.8 285.8 469.8 288.9 469.9 294.1 469.9 296.2 469.9 304 470 305.8 470 312.2 470 313.8 470.1 316.4 470.1 323.8 470.1 327.3 470.1 330.4 470.2 334.9 470.2 339.1 470.2 342.9 470.3 348.7 470.3 354.6 470.3 361 470.4 365.9 470.4 371.6 470.4 400 471 400 471 369.6 471.1 400 472 400 472 367 472.1 400 472.1 400 472.1 373.2 472.2 400 472.3 400 472.3 376.6 472.4 400 472.9 400 472.9 360.2 473 400 473.1 400 473.2 366.6 473.2 400 473.8 400 473.8 371.3 473.9 400 474.2 400 474.3 372.9 474.3 400 474.8 400 474.8 376.2 474.8 400 475.3 400 475.3 375.1 475.3 370.9 475.4 400 475.8 400 475.8 375.2 475.8 400 475.9 368.9 475.9 374.1 475.9 372.8 476 400 476.1 400 476.1 368.4 476.2 400 476.3 400 476.3 373.4 476.3 400 476.9 400 477 367.6 477 400 477.7 400 477.7 369.8 477.7 400 477.8 363.9 477.8 400 477.8 400 477.8 366.7 477.9 400 478.1 400 478.1 366.6 478.1 368.5 478.1 400 478.2 369.7 478.2 400 479.1 400 479.1 365.8 479.1 367.4 479.2 368.1 479.2 374.4 479.2 400 479.2 375.6 479.3 368 479.3 400 479.4 400 479.5 375.6 479.5 400 479.5 376 479.5 400 479.9 400 479.9 360.9 480 400 480 400 480 373.1 480.1 375.1 480.1 372.9 480.1 370.8 480.2 370.4 480.2 365.3 480.2 363.4 480.2 360.9 480.3 359.8 480.3 355.7 480.3 357.5 480.4 353.9 480.4 351.9 480.4 349.6 480.5 348.9 480.5 346.7 480.5 344 480.6 341.7 480.6 338.9 480.6 335.9 480.6 336.5 480.7 331.4 480.7 332.7 480.7 329.1 480.8 326.8 480.8 325.5 480.8 322.6 480.9 320.5 480.9 320.5 480.9 320.6 480.9 317.8 481 315.7 481 316.4 481 317.8 481.1 314.7 481.1 314.3 481.1 314.7 481.2 312.1 481.2 312 481.2 313.5 481.2 313.6 481.3 316.2 481.3 315.3 481.3 315.6 481.4 318.4 481.4 318.1 481.4 315.2 481.5 316.6 481.5 318.8 481.5 321.4 481.6 320.3 481.6 322.6 481.6 326.4 481.6 326.4 481.7 328.6 481.7 331.3 481.7 332.9 481.8 338.3 481.8 338.1 481.8 340.5 481.9 342.8 481.9 342.9 481.9 346.5 481.9 348.1 482 351.6 482 352.5 482 353.4 482.1 359.3 482.1 359.7 482.1 361.4 482.2 359 482.2 363.3 482.2 367.1 482.3 367.3 482.3 370.3 482.3 374.5 482.3 373.5 482.4 400 482.5 400 482.5 377.3 482.6 400 482.6 400 482.6 368.3 482.6 377.3 482.7 400 482.7 371 482.7 400 483 400 483 368.8 483.1 400 483.3 400 483.3 367.8 483.3 372.9 483.3 400 483.9 400 483.9 367.7 484 400 484 400 484 352.4 484.1 400 484.3 400 484.3 370 484.3 400 484.6 400 484.6 367.1 484.6 361.7 484.7 400 485 400 485 376.2 485 400 485.1 375.5 485.1 400 485.3 400 485.3 374.3 485.4 400 485.7 400 485.8 373.7 485.8 400 485.8 370.9 485.8 400 486.2 400 486.2 362.7 486.3 400 486.3 367.2 486.3 400 486.4 400 486.4 365.3 486.4 400 486.5 375.3 486.5 376.8 486.5 400 486.7 400 486.7 373.1 486.7 374.5 486.8 400 486.9 400 486.9 371.5 486.9 400 487.1 400 487.1 365.9 487.1 400 487.2 400 487.2 373.4 487.2 400 487.3 400 487.3 372.4 487.4 400 487.8 400 487.8 372.3 487.9 400 487.9 400 488 372.8 488 400 488.4 400 488.5 372 488.5 374.1 488.5 400 488.6 400 488.6 372.2 488.7 400 488.8 400 488.8 372.2 488.9 400 488.9 371.8 488.9 400 489.3 400 489.3 371.5 489.3 400 489.4 400 489.4 371.4 489.5 400 489.5 400 489.5 377.4 489.6 400 489.6 400 489.6 377.2 489.6 400 490 400 490 377.3 490 400 490.2 400 490.2 374.2 490.3 400 490.3 400 490.4 376.2 490.4 400 490.5 400 490.5 376 490.5 400 490.6 400 490.7 374.2 490.7 400 490.7 374.5 490.7 400 491.2 400 491.2 372.1 491.2 400 491.6 400 491.6 369 491.6 400 491.7 371.7 491.7 400 491.7 400 491.7 368.5 491.8 400 491.8 365.2 491.8 400 492 400 492.1 373.8 492.1 400 492.2 400 492.2 371.4 492.2 400 492.4 400 492.4 374.3 492.5 400 492.5 362.4 492.5 400 492.6 400 492.6 372.6 492.6 400 492.7 400 492.8 372.3 492.8 400 492.9 400 493 371.8 493 400 493.3 400 493.4 371.9 493.4 400 493.6 400 493.6 364.1 493.6 367.3 493.7 372.8 493.7 400 493.8 400 493.8 375.6 493.8 400 493.9 400 494 373.7 494 400 494.2 400 494.2 371.5 494.2 400 494.6 400 494.7 375.6 494.7 400 494.8 400 494.8 364.1 494.8 400 494.9 400 495 367.6 495 400 495.1 400 495.1 374.6 495.2 400 495.2 368.8 495.2 375.7 495.2 400 495.5 400 495.6 377.4 495.6 400 495.8 400 495.8 361.4 495.8 400 496.4 400 496.4 377 496.5 400 496.6 400 496.6 371.2 496.6 400 496.6 400 496.7 376 496.7 400 496.8 400 496.8 372.6 496.8 374.5 496.9 400 497.1 400 497.1 365.6 497.2 400 497.2 400 497.3 373.3 497.3 400 497.7 400 497.7 370.9 497.8 400 498 400 498 373.5 498 400 498.2 400 498.2 363.3 498.2 400 498.7 400 498.8 370.8 498.8 400 499.4 400 499.4 375.1 499.4 400 499.4 400 499.5 373.5 499.5 400 499.9 400 499.9 374.3 500 400 500.1 400 500.1 373.4 500.1 400 500.3 400 500.3 376.6 500.4 400 500.5 400 500.5 373 500.6 400 500.7 400 500.7 363.8 500.7 373.1 500.8 400 501.2 400 501.2 365.7 501.2 400 501.3 400 501.3 376.9 501.4 400 501.4 370.4 501.4 400 501.8 400 501.8 370.6 501.8 400 501.8 400 501.9 377.3 501.9 400 501.9 400 502 368.1 502 400 502.2 400 502.2 372.9 502.2 400 502.3 400 502.4 355.2 502.4 400 502.4 400 502.5 359.1 502.5 400 502.5 400 502.5 373.6 502.6 400 502.7 400 502.7 374.8 502.7 400 503.1 400 503.2 372.9 503.2 364.8 503.2 400 503.7 400 503.7 375.2 503.7 400 503.8 400 503.8 376.1 503.8 375.8 503.9 400 504.1 400 504.2 371.1 504.2 400 504.3 400 504.3 372.3 504.3 364.5 504.3 358.9 504.4 357.1 504.4 346 504.4 344.1 504.5 339.6 504.5 339.8 504.5 335.8 504.6 338.8 504.6 342.2 504.6 345.4 504.6 346.1 504.7 352.1 504.7 358.4 504.7 365.9 504.8 370.5 504.8 376.3 504.8 400 504.9 400 504.9 372.8 505 400 505.2 400 505.2 376.5 505.3 400 505.3 400 505.4 348.2 505.4 400 505.6 400 505.7 369.3 505.7 400 505.8 400 505.9 372.2 505.9 400 506 400 506 375.6 506 370.7 506.1 400 506.5 400 506.5 367.8 506.5 400 506.6 400 506.6 374.1 506.6 400 506.8 400 506.8 370.5 506.9 400 507.5 400 507.5 372.3 507.5 400 508.1 400 508.1 363.8 508.1 400 508.4 400 508.4 369.3 508.4 400 508.6 400 508.7 376.7 508.7 400 508.8 400 508.8 369.1 508.9 365.9 508.9 400 509.2 400 509.2 363.4 509.2 400 509.3 400 509.3 375.1 509.3 400 509.4 400 509.4 374.6 509.4 400 509.5 376.9 509.5 400 509.5 400 509.5 365.5 509.6 400 509.6 400 509.6 376.5 509.7 400 509.9 400 510 364.9 510 400 510 400 510.1 377.5 510.1 400 510.2 400 510.2 366.5 510.3 400 510.5 400 510.6 366.7 510.6 400 510.9 400 510.9 371.8 510.9 400 511 400 511 368.5 511 400 511.2 400 511.3 371.2 511.3 400 511.4 400 511.4 373.4 511.4 359.8 511.5 400 511.6 400 511.6 373.1 511.6 400 511.9 400 512 375.5 512 374.2 512 372.5 512.1 371.9 512.1 367 512.1 367 512.2 361.7 512.2 361.3 512.2 358.8 512.3 355.2 512.3 353.9 512.3 352.3 512.3 355.1 512.4 351.4 512.4 354.1 512.4 354.5 512.5 349.6 512.5 350.4 512.5 351.7 512.6 348.1 512.6 350.7 512.6 349.3 512.6 346.9 512.7 345.6 512.7 348.5 512.7 349.2 512.8 348.8 512.8 351.3 512.8 353.6 512.9 351.9 512.9 353.2 512.9 353 513 356.9 513 356.9 513 357.4 513 360 513.1 359.5 513.1 363.6 513.1 364.7 513.2 367.4 513.2 367.9 513.2 374.4 513.3 373.1 513.3 377 513.3 376.2 513.3 400 513.5 400 513.6 376.9 513.6 400 514.2 400 514.2 373.6 514.3 400 514.6 400 514.6 351.5 514.7 400 514.7 356.1 514.7 400 514.7 375.3 514.8 376.7 514.8 400 514.8 400 514.9 376.8 514.9 400 515.2 400 515.2 364.4 515.2 371.5 515.3 400 515.3 400 515.3 377.5 515.4 376.5 515.4 400 515.5 400 515.5 371.7 515.6 400 515.7 400 515.7 372.1 515.8 400 515.8 360.8 515.8 400 515.9 400 515.9 368.2 515.9 400 516.1 400 516.1 365.5 516.1 400 516.2 400 516.3 375 516.3 400 516.3 375.8 516.4 400 516.4 369.6 516.4 365.7 516.5 400 516.5 360.7 516.5 400 516.6 400 516.6 375.5 516.6 400 516.8 400 516.8 362.7 516.8 400 517.4 400 517.5 373.5 517.5 400 517.9 400 517.9 370.9 517.9 400 517.9 400 518 373.5 518 400 518.1 400 518.2 377.5 518.2 400 518.2 400 518.3 374.3 518.3 355.5 518.3 366.4 518.4 364.4 518.4 362.4 518.4 356.5 518.5 356.6 518.5 350.4 518.5 348 518.6 347.2 518.6 343.3 518.6 339.7 518.6 342.9 518.7 334.9 518.7 335.3 518.7 332.4 518.8 332.1 518.8 329.3 518.8 325.6 518.9 328.7 518.9 324.7 518.9 321.9 518.9 319.7 519 319.2 519 313.4 519 315 519.1 311.1 519.1 307.9 519.1 306.4 519.2 304.6 519.2 302.3 519.2 302.5 519.3 299.9 519.3 296.9 519.3 293.7 519.3 291.4 519.4 291.1 519.4 290 519.4 288.6 519.5 290 519.5 287.3 519.5 285.3 519.6 287.2 519.6 286.8 519.6 284.6 519.6 284 519.7 284.5 519.7 284.2 519.7 284.1 519.8 282.1 519.8 285.1 519.8 286 519.9 284.4 519.9 287.7 519.9 288 520 287.5 520 287.8 520 290 520 287.2 520.1 290.9 520.1 292.1 520.1 292.9 520.2 295.4 520.2 295.7 520.2 299.3 520.3 298.2 520.3 301.5 520.3 307.5 520.3 307 520.4 308.4 520.4 315.2 520.4 311.2 520.5 314.5 520.5 317.5 520.5 319.6 520.6 322.7 520.6 325.3 520.6 324.5 520.7 331.3 520.7 327.4 520.7 333.6 520.7 331.8 520.8 336.3 520.8 338.8 520.8 340.6 520.9 342.6 520.9 343.3 520.9 347.7 521 349.9 521 354 521 353.4 521 357.3 521.1 362.8 521.1 363.3 521.1 364.3 521.2 369.1 521.2 374.6 521.2 374.7 521.3 400 521.3 400 521.3 359.6 521.4 400 521.5 400 521.6 374.6 521.6 400 521.6 372.6 521.7 375.5 521.7 400 522.2 400 522.2 369.9 522.3 400 522.5 400 522.5 363.2 522.5 400 522.7 400 522.8 368.5 522.8 367.4 522.8 400 523.2 400 523.2 374.4 523.2 400 523.3 400 523.3 370.4 523.3 400 524.1 400 524.1 358.5 524.1 400 524.2 400 524.2 365.5 524.2 400 524.5 400 524.5 366.3 524.5 400 524.7 400 524.8 364.5 524.8 400 524.8 370.9 524.9 363.1 524.9 400 525.1 400 525.1 358.8 525.1 400 525.3 400 525.3 359.5 525.4 400 525.6 400 525.6 370.3 525.6 400 526 400 526 371.5 526.1 400 526.1 375.6 526.1 400 526.3 400 526.3 374.7 526.4 400 526.6 400 526.6 376.4 526.6 400 527 400 527 372.6 527 400 528 400 528 367.5 528 400 528.3 400 528.3 372.9 528.3 400 528.5 400 528.5 374.8 528.5 376.6 528.6 400 528.6 400 528.7 370.4 528.7 400 528.9 400 528.9 363.5 528.9 363.7 529 400 529.1 400 529.1 364.7 529.2 400 529.2 400 529.2 376.2 529.3 400 529.4 400 529.4 373.7 529.4 400 529.7 400 529.7 373.2 529.8 400 529.8 371.6 529.8 400 529.9 400 530 366.1 530 400 530.6 400 530.6 367.8 530.6 400 531 400 531 370 531 400 531.1 400 531.1 371.6 531.1 400 531.2 400 531.2 373.7 531.2 400 531.4 400 531.4 377.3 531.5 400 531.5 400 531.5 366.4 531.5 400 531.6 400 531.6 366.5 531.6 400 531.7 400 531.7 374.4 531.8 400 532.4 400 532.5 373.2 532.5 400 532.6 400 532.6 368.2 532.7 400 532.7 376.7 532.7 400 533 400 533 366.8 533.1 373.9 533.1 400 533.3 400 533.3 369.3 533.4 400 533.5 400 533.6 369.5 533.6 400 533.6 400 533.6 368.6 533.7 400 533.7 376 533.7 400 534.6 400 534.6 375.9 534.6 400 535.2 400 535.2 368.6 535.2 400 535.3 373.3 535.3 400 535.6 400 535.6 377.4 535.7 400 535.7 400 535.7 366 535.7 400 536.1 400 536.1 368.2 536.1 400 536.2 375 536.2 369 536.2 400 536.4 400 536.5 369.9 536.5 366.7 536.5 372.6 536.6 400 536.8 400 536.8 370 536.8 400 536.9 377 536.9 400 537.3 400 537.3 376.2 537.3 400 537.9 400 537.9 377.2 537.9 400 538.1 400 538.2 367.9 538.2 400 538.5 400 538.5 364.4 538.5 400 538.6 400 538.6 377.1 538.7 400 538.9 400 538.9 366 538.9 400 539.2 400 539.2 365.9 539.3 400 539.7 400 539.7 376.2 539.8 400 539.9 400 539.9 372.9 539.9 400 540 400 540.1 366.2 540.1 400 540.5 400 540.5 372.8 540.5 400 540.7 400 540.7 376.3 540.8 400 540.9 400 540.9 369.7 540.9 368.6 540.9 361.9 541 362.3 541 360.6 541 356.4 541.1 359.9 541.1 361.1 541.1 363.3 541.2 367.4 541.2 372.2 541.2 377.5 541.2 400 541.3 400 541.3 364.1 541.3 400 541.5 400 541.6 369.4 541.6 400 541.9 400 542 374.1 542 400 542.5 400 542.5 375.8 542.6 400 542.7 400 542.7 375.8 542.7 400 543.1 400 543.1 376.4 543.1 400 543.2 400 543.3 371.5 543.3 400 543.3 350.3 543.3 373.3 543.4 400 543.5 400 543.5 365.1 543.5 400 543.6 375.5 543.6 400 543.6 363.6 543.7 400 543.7 400 543.7 368.4 543.7 400 544 400 544 377.5 544 400 544.6 400 544.6 372.3 544.7 352.8 544.7 400 544.9 400 544.9 367.5 545 373.9 545 400 545.1 400 545.1 367.3 545.2 363.7 545.2 400 545.4 400 545.4 360.7 545.4 400 545.8 400 545.8 364.8 545.8 372.4 545.8 400 546.1 400 546.1 371.4 546.1 400 546.6 400 546.7 371.1 546.7 400 546.7 400 546.8 363.1 546.8 400 547.3 400 547.4 372.3 547.4 400 547.5 400 547.6 377.4 547.6 400 547.7 400 547.7 365.3 547.8 400 548 400 548 373.9 548.1 400 548.3 400 548.3 375 548.3 400 548.4 400 548.4 369 548.4 400 548.6 400 548.6 371.2 548.6 400 548.9 400 548.9 367.8 549 400 549.7 400 549.8 375.8 549.8 400 550 400 550 371.6 550.1 400 550.4 400 550.4 369.6 550.5 376.8 550.5 400 550.6 400 550.7 371.4 550.7 400 550.7 400 550.7 359.4 550.8 369.8 550.8 400 550.8 363.3 550.9 400 551 400 551 360.5 551 400 551.6 400 551.7 373.2 551.7 400 551.7 376 551.7 364.4 551.8 400 552.3 400 552.4 364.6 552.4 400 552.7 400 552.7 373.8 552.8 400 552.8 377.4 552.8 364 552.8 400 552.9 400 552.9 370.1 552.9 373.9 553 376.7 553 400 553.3 400 553.4 376.4 553.4 400 553.8 400 553.8 370.5 553.8 400 554.1 400 554.1 362.2 554.2 400 554.2 373.1 554.2 400 554.7 400 554.7 372 554.8 400 555 400 555 373.6 555 400 555.3 400 555.3 375 555.4 400 555.4 372.6 555.4 358 555.5 400 555.5 371.5 555.5 400 555.6 400 555.6 377.5 555.6 366.4 555.6 376.1 555.7 400 555.8 400 555.9 369.4 555.9 400 556 400 556 369.6 556 400 556.1 400 556.1 375.6 556.2 377.1 556.2 400 556.4 400 556.4 372.7 556.5 376.8 556.5 400 556.5 373.9 556.6 400 556.6 400 556.6 371 556.7 364.5 556.7 358.4 556.7 353.9 556.8 347.1 556.8 341.2 556.8 337.7 556.9 331.6 556.9 328 556.9 324.8 556.9 321.1 557 318.3 557 315.5 557 311 557.1 305.9 557.1 300.6 557.1 300.7 557.2 296.3 557.2 291.1 557.2 290.1 557.3 281.8 557.3 280.4 557.3 275.9 557.3 273.5 557.4 270.8 557.4 267.9 557.4 266.4 557.5 263.2 557.5 263.2 557.5 258.3 557.6 255.6 557.6 254.3 557.6 252.2 557.6 249.1 557.7 248.4 557.7 242.5 557.7 238.9 557.8 239.8 557.8 233.7 557.8 233.3 557.9 231.6 557.9 228.6 557.9 226.7 558 221.3 558 219.1 558 221.8 558 221.6 558.1 215.7 558.1 215.3 558.1 215.9 558.2 216.1 558.2 212.2 558.2 213.2 558.3 212.3 558.3 212.9 558.3 214.8 558.3 216 558.4 216.5 558.4 216.2 558.4 217.1 558.5 218.5 558.5 218.6 558.5 220.3 558.6 221 558.6 221.9 558.6 225.8 558.7 228 558.7 227 558.7 233.1 558.7 236.9 558.8 236.4 558.8 239.8 558.8 243 558.9 247.9 558.9 248.3 558.9 251.3 559 253.5 559 253.2 559 255.8 559 255.8 559.1 261.9 559.1 263.9 559.1 268 559.2 269.7 559.2 273.6 559.2 274.2 559.3 280.9 559.3 282.8 559.3 286.9 559.4 287.5 559.4 293.4 559.4 297.2 559.4 300.5 559.5 303.7 559.5 308.1 559.5 312.7 559.6 315.8 559.6 319.2 559.6 325.5 559.7 329.7 559.7 332.1 559.7 337.3 559.7 341.3 559.8 346 559.8 348.4 559.8 358.7 559.9 360.4 559.9 371.4 559.9 400 560 400 560 367.2 560.1 400 561.5 400 561.5 368.1 561.5 400 561.6 370.9 561.6 400 562 400 562.1 374 562.1 400 562.6 400 562.7 367.9 562.7 400 562.8 400 562.9 364.4 562.9 374.7 562.9 400 562.9 372.2 563 400 563.1 400 563.1 372 563.1 400 563.8 400 563.8 376.8 563.9 400 563.9 400 564 355 564 400 564.3 400 564.3 372.9 564.4 400 564.5 400 564.5 376.4 564.6 400 564.6 374.6 564.6 400 564.7 400 564.7 364.7 564.8 400 565.2 400 565.2 368.5 565.2 400 565.7 400 565.7 376.3 565.7 400 565.8 400 565.8 376.2 565.8 400 566 400 566.1 371.3 566.1 400 566.3 400 566.3 363.7 566.4 400 566.5 400 566.5 361.4 566.5 400 566.7 400 566.7 374 566.7 400 566.8 400 566.9 368.5 566.9 400 567 400 567 377.3 567.1 400 567.1 362.7 567.1 400 567.3 400 567.3 362.5 567.3 400 567.4 400 567.4 374.3 567.4 400 567.8 400 567.8 365 567.8 400 567.9 400 568 372.6 568 400 568.2 400 568.3 367.6 568.3 400 568.3 369.8 568.4 400 568.5 400 568.5 372.4 568.5 400 568.6 400 568.6 376.7 568.6 400 568.7 373.4 568.7 400 568.9 400 568.9 370.2 569 400 569 373.6 569 370.6 569.1 400 569.1 376.9 569.1 400 569.2 376.4 569.2 400 569.3 400 569.3 375.7 569.3 400 569.9 400 570 359.2 570 364.4 570 400 570.5 400 570.6 367.8 570.6 400 571.2 400 571.2 369.5 571.3 400 571.4 400 571.4 366.1 571.5 400 571.7 400 571.7 377.1 571.7 400 571.8 375.7 571.8 400 572.7 400 572.8 376.2 572.8 400 572.9 400 572.9 372.6 573 400 573.5 400 573.5 371 573.5 400 573.6 370.3 573.6 400 573.7 400 573.7 373.3 573.8 400 574.6 400 574.6 357.3 574.7 400 574.8 400 574.8 362.2 574.9 400 574.9 400 574.9 370.6 575 400 575 366.3 575 400 575.1 400 575.1 369.9 575.2 400 575.4 400 575.4 359.1 575.4 400 576.2 400 576.2 376.3 576.2 400 576.3 400 576.3 370.9 576.3 400 576.4 369.6 576.4 400 576.9 400 576.9 366.2 576.9 400 577 370 577 400 577.1 400 577.1 371 577.2 400 577.5 400 577.5 375 577.5 400 577.7 400 577.7 372.8 577.8 400 577.8 372.9 577.8 400 577.9 400 577.9 364.6 577.9 376.2 578 400 578.2 400 578.2 372.7 578.2 400 578.2 367.7 578.3 400 578.4 400 578.4 374.4 578.5 375.3 578.5 400 579.3 400 579.3 374 579.3 400 579.3 400 579.4 375.6 579.4 400 579.5 400 579.5 372.8 579.5 400 580.3 400 580.3 372.2 580.3 400 580.4 400 580.4 375.5 580.4 400 580.5 400 580.6 360.8 580.6 400 580.7 400 580.7 376.7 580.7 371 580.7 400 580.8 400 580.9 365.7 580.9 400 581 400 581 375.5 581 400 581.2 400 581.3 365.5 581.3 400 581.5 400 581.5 365.2 581.5 400 581.7 400 581.7 371.1 581.8 400 581.9 400 581.9 376.3 581.9 400 582.1 400 582.1 376.1 582.1 400 582.1 369.2 582.2 400 582.3 400 582.3 360.7 582.4 400 582.7 400 582.7 371.2 582.7 400 582.8 371.6 582.8 365.1 582.8 367.6 582.8 400 582.9 400 582.9 373.8 582.9 400 583.1 400 583.2 362.2 583.2 400 583.2 369.5 583.3 400 583.3 400 583.4 377 583.4 400 583.4 400 583.5 369.6 583.5 400 583.5 400 583.6 376.4 583.6 400 583.9 400 584 375.3 584 400 584.6 400 584.7 365.5 584.7 372.7 584.7 400 584.8 365.6 584.8 400 584.9 400 585 377.4 585 400 585.7 400 585.7 377.2 585.7 400 586.3 400 586.3 351 586.4 375 586.4 400 586.5 400 586.6 374.8 586.6 400 587.2 400 587.2 375.9 587.3 400 587.3 400 587.3 368.5 587.3 400 587.9 400 587.9 374.8 587.9 400 588 400 588 375.6 588.1 400 588.1 400 588.1 375.5 588.2 400 588.2 375 588.2 400 588.3 400 588.3 375.4 588.4 400 588.4 366.5 588.4 400 588.7 400 588.7 364.9 588.7 400 589.2 400 589.2 376.8 589.3 400 589.4 400 589.5 374.9 589.5 400 589.8 400 589.8 372.2 589.9 400 590.4 400 590.4 366.5 590.5 400 591 400 591 362.6 591 400 591.3 400 591.3 376.1 591.3 400 591.7 400 591.8 377 591.8 400 592.1 400 592.1 374.2 592.2 400 592.2 400 592.2 353.1 592.2 400 592.3 374.6 592.3 400 592.5 400 592.5 370.1 592.6 400 593.9 400 593.9 377.4 593.9 400 593.9 400 594 360.4 594 400 594.2 400 594.2 364.6 594.2 400 594.3 400 594.4 371.1 594.4 400 594.5 400 594.5 376.5 594.5 400 594.7 400 594.7 358 594.7 400 594.8 400 594.8 370.1 594.8 400 595.4 400 595.4 377.3 595.5 400 595.6 400 595.6 364.4 595.6 400 595.7 354.1 595.7 400 595.8 400 595.8 375.4 595.8 400 595.9 400 595.9 373.4 595.9 400 596 364.9 596 400 596.1 400 596.1 368.9 596.1 400 596.8 400 596.9 356.8 596.9 400 596.9 374.7 597 400 597.1 400 597.1 346 597.1 400 597.4 400 597.4 370 597.4 374.6 597.5 400 597.5 371.1 597.5 400 597.6 400 597.7 360.8 597.7 400 597.9 400 597.9 368.8 597.9 400 598.6 400 598.6 364 598.6 400 599.1 400 599.2 367.5 599.2 400 599.2 400 599.3 376.8 599.3 400 599.4 400 599.4 377.4 599.5 400 599.7 400 599.7 369.9 599.7 367.1 599.8 400 599.8 400 599.9 373.6 599.9 400 599.9 371.9 599.9 400 600.2 400 600.2 368.2 600.3 400 600.3 363.8 600.3 400 600.9 400 600.9 370.1 601 400 601.4 400 601.4 375 601.5 371.8 601.5 400 601.6 400 601.6 370.8 601.6 400 601.7 400 601.7 374.9 601.7 400 602 400 602.1 371.3 602.1 400 602.4 400 602.5 371.4 602.5 400 602.6 400 602.7 376.1 602.7 400 602.9 400 603 368.3 603 400 603.6 400 603.7 376.2 603.7 400 603.7 377.4 603.7 375.2 603.8 400 603.9 400 603.9 373.7 603.9 400 604.2 400 604.2 367.8 604.2 400 604.3 400 604.3 371.9 604.3 400 604.4 366.6 604.4 400 604.4 347.6 604.4 400 604.5 400 604.5 373.7 604.6 368.7 604.6 400 605.4 400 605.4 377 605.5 400 606 400 606.1 375.4 606.1 400 606.1 365.4 606.1 375.7 606.2 400 606.6 400 606.6 354.5 606.7 400 606.8 400 606.8 376.7 606.9 400 607 400 607 368 607 400 607.1 400 607.1 367.2 607.2 400 607.2 400 607.2 368.9 607.3 400 607.4 400 607.5 364.8 607.5 400 607.6 400 607.6 375.8 607.6 400 608.4 400 608.4 377.1 608.5 400 609.1 400 609.1 373.3 609.1 400 609.6 400 609.6 370.3 609.7 400 609.8 400 609.9 360.3 609.9 400 610.3 400 610.3 376.9 610.4 400 611 400 611.1 367.5 611.1 400 611.2 400 611.2 372.3 611.2 400 611.4 400 611.4 372.8 611.5 400 611.7 400 611.7 372 611.7 400 612 400 612 376.5 612 400 612.1 400 612.1 372.9 612.1 400 612.2 400 612.2 375.6 612.2 400 612.6 400 612.6 372.1 612.6 400 612.9 400 613 376.8 613 400 613 371.3 613.1 400 613.6 400 613.6 376.7 613.6 400 613.7 400 613.7 370.7 613.7 400 613.8 400 613.8 376 613.8 400 614.1 400 614.2 377.2 614.2 400 614.3 400 614.3 376.2 614.3 374.6 614.4 373.2 614.4 370.2 614.4 370 614.5 368 614.5 364.1 614.5 363.4 614.5 361.7 614.6 359.2 614.6 356.9 614.6 358.2 614.7 356.4 614.7 353.4 614.7 356.3 614.8 353.7 614.8 352.4 614.8 350.9 614.9 353.5 614.9 352.3 614.9 350.4 614.9 346.6 615 347.4 615 348.3 615 348.7 615.1 348.4 615.1 347.3 615.1 350.8 615.2 350 615.2 348.7 615.2 351.2 615.2 351.7 615.3 350.4 615.3 349 615.3 352.3 615.4 355.5 615.4 355.1 615.4 353 615.5 356.4 615.5 357 615.5 356.2 615.6 358.8 615.6 360.6 615.6 363.9 615.6 365 615.7 366.8 615.7 368.3 615.7 370.6 615.8 371.9 615.8 372.6 615.8 374.6 615.9 377.5 615.9 368.9 615.9 400 616 400 616 369.2 616.1 400 616.2 400 616.2 372.3 616.2 400 616.3 400 616.3 367.5 616.3 400 616.4 373.2 616.4 400 617.3 400 617.3 369.6 617.3 400 617.4 400 617.4 363 617.4 400 617.6 400 617.7 364.6 617.7 400 617.8 400 617.8 370.4 617.9 400 617.9 400 617.9 376.5 618 365.1 618 400 618.2 400 618.2 369.9 618.3 400 618.3 400 618.4 372.9 618.4 400 618.4 374.3 618.5 400 618.7 400 618.7 372.6 618.7 400 618.9 400 619 366.7 619 376.9 619 400 619.8 400 619.8 366.7 619.9 400 620.4 400 620.5 365.5 620.5 400 620.6 400 620.6 374.4 620.7 400 620.7 400 620.8 375.1 620.8 400 621.3 400 621.3 367 621.4 400 621.7 400 621.7 373.7 621.8 400 622 400 622 361.6 622 400 622.1 362.4 622.1 400 622.4 400 622.4 356.8 622.5 375.4 622.5 400 622.5 400 622.6 354.3 622.6 400 622.8 400 622.8 369.8 622.9 400 623.3 400 623.4 362 623.4 400 623.5 400 623.6 371.9 623.6 400 623.7 400 623.7 375.1 623.8 400 624.1 400 624.1 373.6 624.1 400 624.2 400 624.2 376.2 624.3 400 624.3 400 624.3 372.9 624.3 400 624.7 400 624.7 376.2 624.7 400 624.8 400 624.8 375.2 624.9 400 624.9 400 624.9 366.9 625 372.9 625 400 625.2 400 625.2 366.6 625.2 400 625.3 400 625.3 375 625.3 400 625.8 400 625.8 374.7 625.8 400 626.2 400 626.2 377.4 626.2 400 626.3 376.1 626.3 377.1 626.3 373.5 626.4 373 626.4 369.9 626.4 368.5 626.4 364.7 626.5 364.7 626.5 362.3 626.5 359 626.6 356.4 626.6 357.2 626.6 355.2 626.7 353.5 626.7 353.4 626.7 351.2 626.7 348.2 626.8 344.7 626.8 344.5 626.8 343.9 626.9 343.6 626.9 343.3 626.9 342.5 627 339.7 627 344.1 627 339.4 627.1 339.9 627.1 339.2 627.1 340.3 627.1 337.1 627.2 337.7 627.2 334.6 627.2 336.6 627.3 334.8 627.3 338.3 627.3 336.6 627.4 338.7 627.4 338.4 627.4 337.1 627.4 340.9 627.5 340.6 627.5 340.2 627.5 343.7 627.6 343.6 627.6 344 627.6 341.1 627.7 341.4 627.7 346.4 627.7 346 627.8 351.5 627.8 349.2 627.8 354.7 627.8 355.4 627.9 355.4 627.9 358.2 627.9 361.3 628 361.9 628 361.7 628 366 628.1 365.9 628.1 359.9 628.1 368.9 628.1 367.9 628.2 374.6 628.2 363.2 628.2 375.9 628.3 400 628.5 400 628.5 371.8 628.6 400 629.1 400 629.2 370.6 629.2 400 629.7 400 629.8 374.7 629.8 400 630 400 630.1 371.7 630.1 400 630.2 400 630.2 369.7 630.2 400 630.6 400 630.6 372.6 630.6 400 630.7 400 630.7 367.1 630.8 400 630.8 400 630.9 365 630.9 400 631.1 400 631.1 375.4 631.1 400 632.1 400 632.2 362.6 632.2 400 632.5 400 632.6 376.3 632.6 400 633 400 633 376.2 633 400 633.3 400 633.3 375.8 633.4 400 633.4 400 633.4 367.3 633.5 400 633.7 400 633.8 370.5 633.8 400 633.9 400 633.9 376 634 400 634 400 634 371.7 634 400 634.7 400 634.7 372.2 634.8 400 634.8 373.1 634.8 400 634.9 400 635 377 635 400 635.1 400 635.2 372.6 635.2 400 635.5 400 635.6 376.3 635.6 400 635.9 400 635.9 352.1 635.9 400 636.8 400 636.8 372.3 636.8 400 637.3 400 637.3 368.1 637.4 400 637.4 400 637.4 353.6 637.5 400 637.6 400 637.6 349.3 637.7 400 638.2 400 638.2 374.1 638.2 371.5 638.2 400 638.3 400 638.3 364 638.3 371.2 638.4 400 638.5 400 638.5 361.5 638.6 400 638.6 400 638.6 355.5 638.6 360.7 638.7 400 638.8 400 638.9 371.6 638.9 400 639.1 400 639.2 365.4 639.2 400 639.3 400 639.4 372.9 639.4 400 640.6 400 640.6 375 640.6 400 640.8 400 640.8 377 640.8 400 641.2 400 641.2 368.8 641.3 368.6 641.3 374.1 641.3 400 641.4 372.5 641.4 400 641.4 400 641.4 375.6 641.5 400 641.9 400 641.9 375.1 642 400 642.6 400 642.6 366.9 642.6 400 642.7 400 642.7 375 642.8 400 642.9 400 642.9 367.8 643 400 643.2 400 643.2 371.8 643.2 400 643.3 400 643.3 357.1 643.3 400 643.6 400 643.6 370.6 643.6 400 643.7 400 643.7 375.2 643.7 400 643.9 400 643.9 367 643.9 400 644.1 400 644.2 366.7 644.2 400 644.2 358.9 644.2 400 644.5 400 644.5 375.1 644.5 400 644.6 400 644.6 370.1 644.6 400 644.7 376.7 644.7 400 644.8 400 644.8 371.3 644.9 400 644.9 372.8 644.9 400 645.1 400 645.2 371 645.2 400 645.2 373.5 645.2 400 645.5 400 645.5 377.3 645.5 400 645.6 400 645.6 369.7 645.6 367.8 645.7 368 645.7 400 645.9 400 645.9 368.2 645.9 400 646.7 400 646.7 377.2 646.7 400 646.9 400 646.9 371.8 646.9 400 647.9 400 648 358.1 648 400 648 400 648 363.8 648.1 400 648.2 400 648.2 373.2 648.2 370.6 648.3 400 648.5 400 648.5 361.2 648.5 400 648.7 400 648.7 377.1 648.7 400 648.8 400 648.8 372.6 648.8 368.3 648.9 400 649.2 400 649.3 374.6 649.3 400 649.5 400 649.5 371.1 649.5 400 649.7 400 649.7 361.8 649.8 400 650.5 400 650.5 370.9 650.6 400 650.6 375 650.6 400 650.7 400 650.7 369 650.8 369.7 650.8 400 650.9 400 651 375.7 651 400 651.4 400 651.4 372.9 651.4 400 651.5 400 651.5 372.9 651.5 400 652.1 400 652.2 372.9 652.2 400 652.3 400 652.3 367 652.3 400 652.4 400 652.4 360.9 652.5 400 652.9 400 652.9 369 652.9 400 653 400 653 372 653.1 400 653.7 400 653.8 377.2 653.8 400 653.9 400 653.9 372.3 653.9 372.9 653.9 371.8 654 369.3 654 369.8 654 367.1 654.1 366.6 654.1 367.8 654.1 367.7 654.2 369.4 654.2 363.6 654.2 365 654.3 364.8 654.3 365.5 654.3 365.2 654.3 362.2 654.4 363.6 654.4 361.1 654.4 361.4 654.5 363 654.5 362.8 654.5 363.2 654.6 364.4 654.6 362.9 654.6 365 654.6 367.6 654.7 363.4 654.7 368.5 654.7 366.8 654.8 366.3 654.8 367.3 654.8 370.3 654.9 371.5 654.9 375.9 654.9 374.4 655 375.9 655 376.5 655 369.9 655 400 655.2 400 655.2 373.2 655.3 371.8 655.3 369.4 655.3 370.9 655.3 366.7 655.4 369.5 655.4 366.1 655.4 360.9 655.5 362.2 655.5 357.6 655.5 357.3 655.6 356.2 655.6 354.1 655.6 353.3 655.7 353.5 655.7 354 655.7 348.7 655.7 349.7 655.8 349.6 655.8 350.5 655.8 349.8 655.9 351.3 655.9 349.1 655.9 347.5 656 346.6 656 343.7 656 345.4 656 346.5 656.1 347 656.1 346.7 656.1 349.3 656.2 347.3 656.2 348.1 656.2 348.5 656.3 349.8 656.3 349.6 656.3 348.5 656.4 352.7 656.4 350.6 656.4 352.4 656.4 352.8 656.5 353.9 656.5 354.1 656.5 356.9 656.6 358.7 656.6 359.4 656.6 363.2 656.7 363.7 656.7 363.8 656.7 364.1 656.7 363.2 656.8 362.3 656.8 361.2 656.8 358.1 656.9 354.7 656.9 355.7 656.9 353.2 657 347 657 348.7 657 347.6 657.1 346.2 657.1 341.1 657.1 343.4 657.1 341.1 657.2 336.2 657.2 339.1 657.2 337 657.3 334.3 657.3 334.7 657.3 336.4 657.4 333.6 657.4 334.6 657.4 331.3 657.4 332.6 657.5 331.8 657.5 325 657.5 330.2 657.6 329.3 657.6 328.4 657.6 327.7 657.7 327.6 657.7 326.5 657.7 324.9 657.8 326.3 657.8 330.5 657.8 327.5 657.8 332.1 657.9 331.3 657.9 331 657.9 333.7 658 334.6 658 334.3 658 334.8 658.1 333.9 658.1 333.3 658.1 334.7 658.1 334.5 658.2 339.5 658.2 340 658.2 342.2 658.3 341.9 658.3 345.5 658.3 346.5 658.4 347.8 658.4 350.3 658.4 350 658.5 355.5 658.5 354.8 658.5 356.9 658.5 357.6 658.6 361.1 658.6 364.3 658.6 365.9 658.7 360.6 658.7 360.4 658.7 359.5 658.8 359.1 658.8 354.5 658.8 353.2 658.8 351.1 658.9 352.1 658.9 349.7 658.9 350.9 659 348.6 659 349.2 659 348 659.1 347 659.1 346 659.1 345.5 659.2 346.6 659.2 342.1 659.2 345.3 659.2 343.3 659.3 342.9 659.3 341.9 659.3 345 659.4 343.9 659.4 346 659.4 346 659.5 345.9 659.5 346.1 659.5 347.8 659.5 346.8 659.6 346.4 659.6 350.6 659.6 350.9 659.7 352.5 659.7 349.7 659.7 352 659.8 352.3 659.8 355.7 659.8 355.2 659.9 356.3 659.9 360.3 659.9 361 659.9 365.4 660 362.4 660 366.1 660 369.7 660.1 373.2 660.1 370.4 660.1 373.8 660.2 374 660.2 376.3 660.2 400 660.2 377.4 660.3 400 660.3 375.7 660.3 376.6 660.4 372.7 660.4 372.3 660.4 369.1 660.5 370.9 660.5 367 660.5 371.2 660.6 367.3 660.6 368 660.6 365.9 660.6 367.8 660.7 366.1 660.7 364.3 660.7 360.6 660.8 361.1 660.8 361.8 660.8 361.6 660.9 358.4 660.9 362.9 660.9 359.8 660.9 363.4 661 360.4 661 362.2 661 359.4 661.1 365.5 661.1 362.6 661.1 365.5 661.2 365.7 661.2 366.2 661.2 364.2 661.3 363 661.3 366.6 661.3 367.5 661.3 367.1 661.4 370.9 661.4 372.6 661.4 373.6 661.5 372.8 661.5 374.1 661.5 375.9 661.6 375.1 661.6 400 661.6 369.5 661.6 400 661.9 400 662 374.3 662 400 662.2 400 662.2 376.2 662.3 400 662.7 400 662.7 371 662.7 370.9 662.8 365.5 662.8 400 663.1 400 663.1 377.4 663.1 400 663.2 400 663.3 370.3 663.3 400 663.5 400 663.5 365.2 663.6 400 663.6 400 663.6 373 663.7 400 663.7 400 663.7 369.8 663.7 400 664 400 664.1 367.7 664.1 356.1 664.1 400 664.2 400 664.2 376.4 664.3 400 664.4 400 664.4 369.2 664.5 400 664.7 400 664.8 364.6 664.8 400 665.1 400 665.1 376 665.1 400 665.2 400 665.3 374.2 665.3 400 665.3 400 665.4 376.8 665.4 400 665.5 400 665.5 367.6 665.6 400 665.8 400 665.8 370.7 665.8 400 665.8 365.5 665.9 400 666 400 666.1 373.6 666.1 400 666.2 400 666.3 344.5 666.3 400 666.5 400 666.5 375.9 666.6 400 666.6 400 666.7 360.9 666.7 400 666.9 400 667 374.8 667 400 667.1 400 667.1 374.9 667.1 400 667.2 400 667.2 373.8 667.2 400 667.4 400 667.4 371.7 667.5 400 667.6 400 667.7 370 667.7 400 667.8 400 667.8 376.6 667.9 360.6 667.9 400 668.3 400 668.4 371.3 668.4 400 668.5 400 668.5 372.6 668.5 400 668.6 400 668.6 367.9 668.6 400 668.8 400 668.8 370.9 668.9 400 669.2 400 669.3 369.5 669.3 371.3 669.3 400 669.4 400 669.5 350.7 669.5 400 669.8 400 669.8 375.9 669.8 400 670.1 400 670.2 377.3 670.2 400 670.3 400 670.3 369.6 670.3 400 670.4 400 670.4 376.1 670.4 400 670.5 400 670.5 374.9 670.6 400 670.8 400 670.8 372.5 670.9 400 671 400 671 376.3 671 400 671.4 400 671.4 372.7 671.4 400 671.4 400 671.5 376.7 671.5 400 671.7 400 671.7 374.7 671.7 368.2 671.7 363.3 671.8 357.3 671.8 357.2 671.8 355.8 671.9 352.3 671.9 355 671.9 356.5 672 360 672 361 672 368.5 672.1 368.5 672.1 400 672.4 400 672.5 376.4 672.5 400 672.8 400 672.8 366.6 672.8 369.4 672.8 400 673 400 673 362.5 673 400 673.5 400 673.5 372.9 673.5 400 673.6 400 673.6 370.1 673.6 400 673.8 400 673.9 347.1 673.9 400 674.2 400 674.2 372.2 674.2 400 674.5 400 674.5 367.2 674.5 400 674.6 400 674.7 377.2 674.7 400 674.8 400 674.8 373.8 674.8 400 675.3 400 675.3 374.7 675.4 400 675.5 400 675.6 368 675.6 400 675.6 370.2 675.6 400 675.7 400 675.7 366.6 675.8 400 675.8 400 675.8 369.8 675.9 400 675.9 400 675.9 372.9 676 400 676.1 400 676.1 371.8 676.1 400 676.2 371.1 676.2 400 676.3 400 676.4 368.6 676.4 400 676.5 400 676.5 375.7 676.6 400 676.8 400 676.8 371.9 676.9 400 677.2 400 677.2 355.8 677.2 400 677.3 372.5 677.3 400 677.7 400 677.7 376.4 677.8 400 678 400 678 373.2 678.1 400 678.3 400 678.3 373 678.3 400 678.4 400 678.4 363.9 678.5 400 678.5 369.3 678.5 400 678.8 400 678.8 372.8 678.9 400 679.6 400 679.6 371.1 679.6 374.1 679.7 400 679.7 371.1 679.7 400 679.9 400 679.9 362.4 680 360.9 680 373.4 680 400 680.2 400 680.2 370.3 680.3 400 680.4 400 680.4 374.1 680.4 400 680.5 400 680.6 370.8 680.6 400 680.7 400 680.7 377.4 680.8 400 680.8 400 680.8 371.4 680.8 400 680.9 400 681 376 681 400 681.7 400 681.7 377 681.8 400 681.9 400 681.9 373.8 681.9 400 682.2 400 682.2 371.9 682.2 400 682.4 400 682.5 365.8 682.5 400 682.5 400 682.6 374.4 682.6 400 682.7 400 682.7 362.3 682.7 400 683 400" stroke="#707070" stroke-width="1" fill="none" stroke-linejoin="bevel"/>
<path d="M51.3 369.9h0M51.4 374.9h0M51.4 376.8h0M51.5 373.1h0M51.6 367.1h0M51.6 376.3h0M51.7 368.6h0M51.8 362.2h0M51.9 357.7h0M51.9 355.3h0M51.9 360.6h0M52 376.7h0M52.1 369.2h0M52.1 352.6h0M52.1 359.9h0M52.2 357.3h0M52.2 371.9h0M52.2 367.4h0M52.3 365.6h0M52.3 377.2h0M52.4 374h0M52.4 353.1h0M52.5 374.5h0M52.5 360.5h0M52.6 372.5h0M52.7 367.7h0M52.7 370.7h0M52.8 371h0M52.8 374h0M52.8 363.1h0M52.9 374.5h0M52.9 374h0M52.9 363.5h0M52.9 363.7h0M53 371.8h0M53 373.3h0M53.1 374.2h0M53.1 372.5h0M53.1 364.4h0M53.2 369.5h0M53.2 365.7h0M53.3 377h0M53.4 374h0M53.4 374.7h0M53.5 364.6h0M53.5 368.1h0M53.6 374h0M53.6 374.7h0M53.7 359.1h0M53.8 376.2h0M53.8 368.2h0M53.9 374.5h0M53.9 375.5h0M53.9 376.4h0M54 368.2h0M54.1 359.5h0M54.3 372.7h0M54.3 373.1h0M54.4 372.8h0M54.5 365.3h0M54.6 349h0M54.6 361.1h0M54.6 352.5h0M54.7 370.6h0M54.7 365.2h0M54.8 361.4h0M54.8 366.8h0M54.8 363.9h0M54.9 357.7h0M55 375.3h0M55 372.3h0M55.1 365.2h0M55.1 374.1h0M55.2 364.9h0M55.2 371.8h0M55.3 374.3h0M55.3 376.2h0M55.4 377.5h0M55.4 368.4h0M55.5 373.8h0M55.5 358.1h0M55.6 377.2h0M55.7 368.6h0M55.7 362.8h0M55.8 377.5h0M55.8 374.8h0M55.8 364.4h0M55.9 362.9h0M56 376.5h0M56 376h0M56.1 369.4h0M56.2 371.4h0M56.2 369.8h0M56.2 374.6h0M56.3 370.4h0M56.3 375.8h0M56.4 354.4h0M56.4 347h0M56.4 369.9h0M56.5 368.9h0M56.5 377.3h0M56.6 367.1h0M56.6 366.1h0M56.7 368.3h0M56.7 358.1h0M56.8 368.7h0M56.8 369.2h0M56.8 367.2h0M56.9 375.9h0M56.9 357.6h0M57 375.4h0M57 353.6h0M57.1 347.7h0M57.1 371.3h0M57.2 369.2h0M57.3 369.3h0M57.4 374.4h0M57.5 372.4h0M57.5 372.1h0M57.7 376.6h0M57.7 367.4h0M57.7 372.6h0M57.8 376.1h0M57.9 364.4h0M57.9 372.5h0M57.9 366.7h0M58 358.2h0M58 371.3h0M58 371.4h0M58.1 373.5h0M58.2 360.5h0M58.2 358.6h0M58.3 368.4h0M58.3 358.4h0M58.3 373.6h0M58.4 367.4h0M58.5 369h0M58.5 360.8h0M58.5 362.1h0M58.6 374.5h0M58.6 367.6h0M58.7 354.8h0M58.8 370.5h0M58.9 370.8h0M58.9 376.1h0M59 348.5h0M59.1 358.3h0M59.1 350.1h0M59.2 376h0M59.2 374.6h0M59.2 368.1h0M59.3 356.1h0M59.3 371.7h0M59.3 371.7h0M59.4 367.7h0M59.5 368.4h0M59.5 366.3h0M59.6 374.9h0M59.6 369.6h0M59.7 373h0M59.8 375.6h0M59.9 365.5h0M59.9 376.3h0M59.9 372.3h0M60 372.3h0M60 348.5h0M60.2 362.7h0M60.3 363.7h0M60.4 370.8h0M60.5 368.8h0M60.5 376.2h0M60.5 367.6h0M60.6 371.4h0M60.7 358.7h0M60.7 374.8h0M60.7 371.2h0M60.8 363h0M60.8 376.4h0M60.9 369.3h0M64 348.2h0M64.2 361.4h0M64.2 364.6h0M64.3 362.7h0M64.3 373.9h0M64.4 358.9h0M64.4 343.2h0M64.5 364.2h0M64.7 372.5h0M64.7 362h0M64.7 357.2h0M64.8 370.2h0M70.1 375h0M70.1 347.8h0M70.3 363.5h0M70.3 373.9h0M70.4 374h0M70.4 376.6h0M70.4 370.9h0M70.6 375.5h0M70.7 365.7h0M70.7 361.1h0M70.8 355h0M70.8 374.2h0M70.9 363.5h0M70.9 373.8h0M71 374.8h0M71 364.9h0M71.1 367.6h0M71.1 364.4h0M71.2 376.8h0M71.2 376.3h0M71.2 372.8h0M71.3 374.6h0M71.3 363.6h0M72.3 374.4h0M72.3 360.5h0M73.3 355h0M73.4 370.7h0M73.4 374.1h0M73.6 376.1h0M73.6 371h0M73.7 369h0M73.7 368.9h0M73.7 368.5h0M73.8 351.2h0M73.8 364.7h0M73.9 371.1h0M74 369.4h0M74 375.9h0M74.1 373.5h0M74.1 369.1h0M74.1 375.1h0M74.2 359.9h0M74.3 366.3h0M74.4 370.4h0M74.4 376.4h0M74.5 359.6h0M74.5 362.9h0M74.5 356.3h0M74.6 376.9h0M74.6 369.2h0M74.7 376.8h0M74.7 373.6h0M74.8 356.6h0M74.9 374.6h0M75 364.2h0M75 365.8h0M75 369.8h0M75.1 368.4h0M75.2 368.9h0M75.2 366.5h0M75.3 376.9h0M75.3 355h0M75.3 375.6h0M75.4 375.4h0M75.4 373.5h0M75.5 372.5h0M75.6 376.6h0M75.6 350.5h0M75.6 369.7h0M75.7 376.7h0M75.8 366h0M75.8 363.5h0M75.9 375.8h0M76 375.7h0M76.1 364.5h0M76.1 375.5h0M76.1 375.8h0M76.2 359.7h0M76.3 353h0M76.3 376.8h0M76.4 376.2h0M76.4 373.9h0M76.5 366.8h0M76.6 375.8h0M76.6 343.5h0M76.7 367h0M76.7 372h0M76.8 363.5h0M76.8 369h0M76.8 369.7h0M76.9 370.8h0M79.3 356.1h0M79.4 371.5h0M79.4 371.2h0M79.4 377.4h0M79.5 373.3h0M79.5 367h0M79.6 373.9h0M79.7 362.3h0M79.7 365h0M79.8 358.3h0M79.8 374.8h0M79.8 353.8h0M79.9 361.6h0M82.2 375.8h0M82.3 370h0M82.3 358.7h0M82.4 362.8h0M82.4 366.7h0M82.5 370h0M82.6 369.4h0M82.6 369.4h0M82.7 365.3h0M82.7 370.8h0M82.8 369.2h0M82.8 375.6h0M82.9 373h0M82.9 364.1h0M83 375.8h0M83.1 367h0M83.1 373h0M83.2 375.2h0M83.3 370.8h0M83.3 370.6h0M83.3 373.8h0M83.4 372.4h0M83.4 365.3h0M83.5 375.2h0M83.5 364.9h0M83.6 369.3h0M83.6 357.8h0M83.7 361.9h0M83.9 361.6h0M83.9 339.5h0M84 365.6h0M84.1 374.5h0M84.1 354h0M84.2 372h0M84.2 368.4h0M84.3 359h0M84.3 366.7h0M84.3 371.1h0M84.4 363h0M84.4 361.2h0M84.5 349.7h0M84.5 360.6h0M84.6 367.9h0M84.7 363.7h0M84.8 375.3h0M84.8 357.8h0M84.8 370.1h0M84.9 358.8h0M85 374.9h0M85 355.7h0M85.1 376.1h0M85.1 367.5h0M85.2 363.3h0M85.3 364.8h0M85.5 377.3h0M85.6 374.5h0M85.6 376.8h0M85.6 372.5h0M85.7 368.4h0M85.8 361.8h0M85.8 360.4h0M85.9 373.4h0M86 367.6h0M86 363.5h0M86.1 374.6h0M86.2 370.2h0M87.2 377.5h0M96.4 374h0M96.6 369.8h0M96.7 371.8h0M96.7 376.8h0M96.8 372.8h0M96.8 374.4h0M96.8 366.1h0M96.9 358.7h0M96.9 345.9h0M96.9 360h0M97 371.1h0M97 377.1h0M97.1 336.1h0M97.1 377.5h0M97.2 353.5h0M97.3 372h0M97.3 373.9h0M97.4 361.1h0M97.5 359.7h0M97.5 374.6h0M97.6 361.2h0M97.7 361.8h0M97.7 375.9h0M97.8 376.5h0M97.8 370.6h0M97.8 369.8h0M97.9 367.4h0M97.9 374.3h0M98 374.8h0M98.1 363.4h0M98.3 367.7h0M98.5 376.1h0M98.5 365.1h0M98.6 362.2h0M98.6 367.6h0M98.7 336.6h0M98.7 375.4h0M98.7 336.4h0M98.8 376.4h0M98.8 370.9h0M99 373.1h0M99.1 361.7h0M99.2 358.8h0M99.3 369.1h0M99.3 373.2h0M100.5 339.6h0M100.5 366.6h0M100.6 367.5h0M100.7 362.7h0M100.7 364.4h0M100.8 372.2h0M101 365.7h0M101 363.2h0M101.1 371.1h0M101.1 357.4h0M101.2 340.8h0M101.4 367.5h0M101.5 367.4h0M101.5 343.1h0M101.5 362h0M101.6 360.5h0M101.6 368.1h0M101.7 367.5h0M101.7 344.1h0M101.7 359.4h0M101.8 376.5h0M101.9 370.8h0M101.9 372.8h0M102 377.3h0M102.1 350.8h0M102.1 365.1h0M102.1 374.6h0M102.2 368.8h0M102.2 356.9h0M102.4 371.1h0M102.4 350.6h0M102.5 358h0M102.6 360.5h0M102.7 365.5h0M102.7 376.8h0M102.7 370.7h0M102.8 365.1h0M102.8 362h0M102.9 368.4h0M102.9 350.2h0M103 361.4h0M103.1 372.7h0M103.2 361.8h0M103.2 357.5h0M103.4 372.6h0M103.4 370.1h0M103.4 354.2h0M103.5 372.2h0M103.6 374.9h0M103.6 365.8h0M103.7 374.3h0M103.7 368.3h0M103.7 365.6h0M103.8 369.4h0M103.8 352.8h0M103.9 352.7h0M103.9 373.7h0M104 372.3h0M104 367h0M104.2 371.4h0M104.3 376.3h0M104.3 368.1h0M104.4 362.3h0M104.6 363.4h0M104.7 363.2h0M104.8 374h0M104.8 375.1h0M104.9 367.1h0M105 352.6h0M105 365.7h0M105.1 355.7h0M105.1 368.2h0M105.2 373.7h0M105.2 365.3h0M105.4 355.5h0M105.4 358.1h0M105.6 356.1h0M105.6 377.5h0M105.7 376.9h0M105.7 361h0M105.8 360.5h0M105.8 364.9h0M105.9 376.3h0M106 351.5h0M106.1 372.2h0M106.2 366.9h0M106.2 372.4h0M106.4 353h0M106.4 349.6h0M106.5 354h0M106.6 373h0M106.6 371.4h0M106.8 368.7h0M106.8 371.7h0M106.9 350.9h0M107.1 377.2h0M107.1 369.7h0M107.3 369.4h0M107.3 348.3h0M107.3 360.7h0M107.4 377.4h0M107.4 349.6h0M107.4 370.8h0M107.6 367.4h0M107.7 371.8h0M107.7 372.6h0M107.8 363.6h0M107.9 365h0M107.9 376.7h0M107.9 359.2h0M108 373h0M108.1 369.5h0M108.3 365.6h0M108.3 367.7h0M108.4 374.5h0M108.5 377.1h0M108.7 333.1h0M108.7 370h0M108.8 354.7h0M108.8 375.9h0M108.9 357.5h0M108.9 347.3h0M108.9 365.1h0M109 371.8h0M109 372.9h0M109 375.5h0M109.2 359.7h0M109.3 356h0M109.3 362.2h0M109.4 365.7h0M109.4 372.5h0M109.5 362.2h0M109.6 376.1h0M109.6 374.9h0M109.7 371.6h0M109.7 349.6h0M109.7 371.5h0M109.8 347.3h0M109.8 370.4h0M109.9 373.2h0M110 374.6h0M110.1 350h0M110.1 368.6h0M110.1 343.8h0M110.2 358.3h0M110.3 376h0M110.3 359.1h0M110.3 354.4h0M110.4 374.5h0M110.4 374h0M110.4 376.9h0M110.5 366.4h0M110.5 363.7h0M110.6 359.8h0M110.6 325.9h0M110.7 365.6h0M110.7 367.3h0M110.8 369.1h0M110.8 376.6h0M110.9 367h0M110.9 360.5h0M111 361.7h0M111.1 358.6h0M111.1 367h0M111.1 368.2h0M111.2 362.6h0M111.2 366.7h0M111.3 355.2h0M111.4 376.8h0M111.4 362.1h0M111.6 368h0M111.7 356.5h0M111.7 353h0M111.8 372.7h0M111.8 353.2h0M111.8 376.1h0M111.8 358.6h0M111.9 358.3h0M111.9 373.8h0M112.2 359.5h0M112.2 361.8h0M112.3 368.9h0M112.3 364.2h0M112.4 358.6h0M112.5 337.6h0M112.5 347.3h0M112.6 365.9h0M112.9 347.8h0M112.9 363.3h0M112.9 359.1h0M113.1 376.3h0M113.1 365.6h0M113.2 376.1h0M113.2 374.9h0M113.2 361.2h0M113.3 373.2h0M113.3 374.1h0M113.3 377.2h0M113.4 369.3h0M113.5 356.8h0M113.5 357.7h0M113.5 372.4h0M113.6 373.2h0M113.6 365.2h0M113.7 372.5h0M113.7 376.5h0M113.8 359.9h0M113.9 359.7h0M113.9 376.4h0M114 354.1h0M114 372h0M114 371.5h0M114.3 358.5h0M114.4 376.3h0M114.4 377.3h0M114.6 375.5h0M114.6 349.7h0M114.7 373.5h0M114.8 369.9h0M114.8 368.6h0M114.9 333.3h0M114.9 369.6h0M115 373.6h0M115 359.5h0M115.2 373.2h0M115.2 364.7h0M115.3 374h0M115.3 365.4h0M115.4 360.6h0M115.4 374.9h0M115.4 349.9h0M115.5 369.6h0M115.5 346.2h0M115.6 362.8h0M115.7 370.4h0M115.7 366.8h0M115.8 368.9h0M115.9 376.2h0M115.9 370.1h0M116 365h0M116 368.6h0M116.1 375.7h0M116.2 371.6h0M116.2 357.3h0M116.3 353.4h0M116.6 359.5h0M116.6 375h0M116.7 369.6h0M116.7 357.9h0M116.8 371.5h0M116.8 366.6h0M116.8 373.1h0M116.9 367.7h0M116.9 369.8h0M117 356.7h0M117 372.4h0M117.1 376.3h0M117.1 363h0M117.2 361.7h0M117.2 373.3h0M117.3 374.5h0M117.4 364.6h0M117.4 376.4h0M117.4 374.4h0M117.5 371.8h0M117.5 363.7h0M117.6 366.5h0M117.7 376.6h0M117.8 372.5h0M117.8 365.9h0M117.9 374.2h0M117.9 371.2h0M118.1 369.1h0M118.1 366h0M118.1 367.1h0M118.2 373.9h0M118.2 369.3h0M118.3 375.7h0M119.9 375.2h0M120 374h0M120 359.2h0M120.1 369.5h0M120.2 357.8h0M120.3 372.5h0M120.4 375.2h0M120.4 365.3h0M120.5 368.1h0M120.6 357.9h0M120.6 357.9h0M120.7 365h0M120.7 369.7h0M120.7 364.4h0M120.8 364.9h0M120.8 331.9h0M121 362.9h0M121 363.4h0M121.1 368.1h0M121.2 356.6h0M121.3 366.4h0M121.4 362.4h0M121.5 373.4h0M121.6 353.2h0M121.6 365h0M121.6 376.7h0M121.8 371h0M121.8 372.9h0M121.9 356.6h0M121.9 346.8h0M121.9 365h0M122 369.2h0M122 374.9h0M122.1 375.1h0M122.1 376.1h0M122.2 357.3h0M122.2 371.4h0M122.2 351.5h0M122.3 374.8h0M122.3 355.5h0M122.4 341.6h0M122.4 377.3h0M122.5 375.7h0M122.6 357.3h0M122.8 372.3h0M122.8 377.5h0M122.9 377.1h0M123 361.2h0M123 371.7h0M123.1 364h0M123.1 369.7h0M123.2 369.5h0M123.3 371.9h0M123.4 364.7h0M123.5 338.3h0M123.5 375h0M123.6 364.4h0M123.6 348.8h0M123.7 372.1h0M123.8 341.9h0M123.8 337.8h0M124 362h0M124.1 357.8h0M124.1 326.6h0M124.1 372.5h0M124.2 365.6h0M124.2 370.9h0M124.3 371.3h0M124.3 365.9h0M124.4 347h0M124.5 366.9h0M124.5 364.9h0M124.6 372.5h0M124.6 365.8h0M124.7 367.1h0M124.7 376h0M124.7 367.4h0M124.8 377.2h0M124.9 371.3h0M124.9 376.2h0M125.1 351.2h0M125.1 377.4h0M125.2 376.6h0M125.3 351.3h0M125.4 357.8h0M125.4 365.6h0M125.4 375.7h0M125.4 362.7h0M125.5 359.4h0M125.5 361.5h0M125.6 363.8h0M126.9 357.9h0M126.9 344.5h0M127.1 375.8h0M127.1 375.7h0M127.1 357.1h0M127.3 373.7h0M127.4 372h0M127.4 355.7h0M127.6 342.8h0M127.6 344.9h0M127.7 354.4h0M127.8 350.2h0M127.9 368h0M127.9 374.1h0M128.1 348.9h0M128.2 373.7h0M128.2 350.4h0M128.2 359.6h0M128.2 353.4h0M128.3 376.7h0M128.4 366.7h0M128.5 354.3h0M128.6 356.6h0M128.6 362.8h0M128.7 372h0M128.9 366h0M128.9 377.4h0M129 373.3h0M129 353.9h0M129 360.9h0M129.1 349.5h0M129.1 365.4h0M129.2 370.8h0M129.3 365.7h0M129.5 362.6h0M129.5 375.5h0M129.6 368.6h0M129.6 376.2h0M129.6 375.1h0M129.8 374.6h0M129.8 373.6h0M129.9 363.7h0M129.9 359.8h0M130 377.4h0M130.1 377h0M130.1 375.8h0M130.2 374h0M130.3 351.7h0M130.3 372.5h0M130.4 372.3h0M130.5 349.1h0M130.5 361.9h0M130.6 370.5h0M130.6 364.8h0M130.7 374.4h0M130.7 361.2h0M131.9 324.6h0M132 374.7h0M132.1 371.9h0M132.2 342.8h0M132.3 369.3h0M132.3 372.1h0M132.5 372.8h0M132.6 373.7h0M132.8 362.8h0M133 351.6h0M133 367.2h0M133.1 376.7h0M133.2 373.2h0M133.2 376.6h0M133.4 358.6h0M133.4 357.2h0M133.5 363.1h0M133.6 367.8h0M133.8 359.9h0M133.8 366.7h0M133.8 375.3h0M133.9 372.2h0M133.9 364.9h0M134.1 362.3h0M134.2 356.7h0M134.2 364.9h0M134.3 360.4h0M134.5 343.3h0M134.6 369.2h0M134.7 354.2h0M134.7 355.9h0M134.8 336.6h0M134.9 348.9h0M134.9 375.8h0M135 357h0M135.1 355.1h0M135.1 363.4h0M135.2 373.2h0M135.2 360h0M135.3 377.3h0M135.3 360.1h0M135.5 376.8h0M135.6 374.5h0M135.6 367.4h0M135.7 361h0M135.8 367.8h0M135.8 367.3h0M135.8 367.3h0M135.9 361.5h0M136 366.4h0M136.1 374.8h0M136.1 365.9h0M136.2 347.3h0M136.2 365.4h0M136.2 374.7h0M136.3 356.5h0M136.3 376.1h0M136.4 347.9h0M136.5 374.2h0M136.6 376.3h0M136.6 335h0M136.7 368.9h0M136.7 376.8h0M136.8 359.4h0M136.8 349.7h0M136.9 358.4h0M136.9 369.7h0M136.9 352.4h0M137 369.2h0M137.1 376.6h0M137.2 370.7h0M137.2 356.3h0M137.3 366.6h0M137.3 371.6h0M137.4 368.5h0M137.4 362.1h0M137.5 370.2h0M137.5 349.4h0M137.5 346.6h0M137.6 342.5h0M137.6 350.8h0M137.6 348.1h0M137.7 361.6h0M137.7 350.9h0M137.8 375.3h0M137.8 367h0M137.9 368.1h0M137.9 352.1h0M138 376.8h0M138 366.7h0M138 376.2h0M138.1 373.2h0M138.2 359.2h0M138.3 372.7h0M138.3 372.2h0M138.3 361.9h0M138.4 360h0M138.4 353.8h0M138.6 353.3h0M138.8 363.8h0M138.8 359.7h0M138.8 363.9h0M139 373.7h0M139 369.6h0M139 357h0M139 374.1h0M139.1 365.8h0M139.1 372.2h0M139.2 370.7h0M139.2 360.5h0M139.3 368.3h0M139.4 350.3h0M139.4 374.9h0M139.4 371.4h0M139.6 376.1h0M139.6 376.8h0M139.7 368h0M139.8 371.9h0M140 369.3h0M140 368.1h0M140.1 345.4h0M140.1 369.2h0M140.2 368.4h0M140.5 371.2h0M140.6 365.5h0M140.6 369.6h0M140.7 366.3h0M140.8 372.9h0M140.8 361h0M140.9 377.1h0M140.9 370.8h0M141 364.3h0M141 370.8h0M141 368.1h0M141.1 375h0M141.1 377.4h0M141.1 370.4h0M141.3 375.7h0M141.3 374.4h0M141.4 363.4h0M141.5 374.2h0M141.5 352.9h0M141.6 354.8h0M141.6 374.4h0M141.6 376h0M141.7 350.5h0M141.8 365.2h0M141.9 376.4h0M141.9 351.2h0M142 361h0M142 345.6h0M142.2 376h0M142.3 371.4h0M142.4 361.8h0M142.4 366.9h0M142.4 373.9h0M142.5 361.7h0M142.5 356.6h0M142.5 373.4h0M142.6 370.4h0M142.7 369.3h0M142.7 369.1h0M142.8 360.4h0M142.9 353.5h0M142.9 358.4h0M144.1 370.7h0M144.2 369.4h0M144.3 363h0M144.3 377h0M144.4 372.5h0M144.5 375.3h0M144.6 365.1h0M144.6 364.8h0M144.6 362.5h0M144.7 373h0M144.9 371.2h0M145 355.6h0M145 374.3h0M145.2 357.2h0M145.2 343.2h0M145.3 356.3h0M145.3 365.9h0M145.3 352h0M145.4 370.6h0M145.4 364h0M145.6 344.7h0M145.7 370.1h0M145.7 365.2h0M145.7 355.6h0M145.7 348.9h0M145.8 376.4h0M145.8 358.5h0M145.9 355.4h0M146 366h0M146 374.5h0M146 350.3h0M146.1 361.3h0M146.1 365.6h0M146.2 375h0M146.3 360.9h0M146.3 363.8h0M146.4 373.3h0M146.4 340.2h0M146.5 374.8h0M146.5 365.4h0M146.6 365.1h0M146.7 345.5h0M146.8 371h0M146.8 377.4h0M146.9 372.3h0M146.9 375.1h0M147 359.6h0M147.1 374.8h0M147.1 370.1h0M147.2 370.9h0M147.3 373.6h0M147.3 375.3h0M147.4 371.3h0M147.4 374.2h0M147.4 377h0M147.5 356.7h0M147.5 358.8h0M147.5 362.3h0M147.6 376.2h0M147.8 376.1h0M147.9 377.1h0M147.9 375.9h0M148 363.4h0M148.1 368.2h0M148.1 361.7h0M148.2 363h0M148.2 369.3h0M148.3 365.9h0M148.3 371.5h0M148.4 337.3h0M148.4 375.1h0M148.4 366.3h0M148.7 368.1h0M148.8 375.6h0M148.9 373.8h0M149 368.9h0M149 376.1h0M149 355.4h0M149.1 365.8h0M149.2 376.6h0M149.2 371.6h0M149.3 376.5h0M149.3 375.1h0M149.4 376.5h0M149.4 374.9h0M149.4 372.9h0M149.5 371.2h0M149.5 377.5h0M149.5 357.9h0M149.5 372.9h0M149.6 364.7h0M149.7 372.2h0M149.8 365.7h0M149.8 366.2h0M151.3 377.4h0M151.4 373.5h0M151.5 366.2h0M151.5 344.9h0M151.6 377.1h0M151.6 367h0M151.7 365.4h0M151.8 351.9h0M151.8 364.5h0M151.9 368h0M151.9 359.5h0M152 363.7h0M152.1 367.3h0M152.1 375.5h0M152.2 366.2h0M152.2 356.7h0M152.2 354.1h0M152.3 354.5h0M152.5 353.6h0M152.6 367.2h0M152.6 364.8h0M152.6 368.1h0M152.6 368.3h0M152.7 376.6h0M152.8 372.8h0M152.9 363.5h0M153.1 376.1h0M153.1 369.3h0M153.2 362.9h0M153.2 359.6h0M153.3 367.8h0M153.4 360.9h0M153.4 368.6h0M153.4 360.1h0M153.5 375.6h0M153.6 371.8h0M153.7 376.7h0M153.8 368.1h0M153.9 340.7h0M154 372.8h0M154.1 363.4h0M154.1 374.3h0M154.2 373.5h0M154.2 370.1h0M154.2 368.6h0M154.3 377.1h0M154.3 368.3h0M154.4 364.9h0M154.4 346.2h0M154.5 369.1h0M154.5 358.3h0M154.5 358.7h0M154.6 343.9h0M154.6 372.9h0M154.7 366.1h0M154.8 363.9h0M154.8 351.8h0M154.8 369.4h0M154.9 353.9h0M154.9 363.4h0M155.1 361.7h0M155.1 372.6h0M155.1 368.4h0M155.2 356h0M155.2 357.3h0M155.3 367.4h0M155.4 352.3h0M155.5 361.4h0M155.6 365.9h0M155.6 345.2h0M155.9 375.6h0M155.9 364.4h0M155.9 371.5h0M156 362.4h0M156 371.4h0M156.1 372.5h0M156.2 365h0M156.2 369h0M156.3 367.3h0M156.3 376.2h0M156.4 350.9h0M156.5 364.6h0M156.5 339.7h0M156.5 348.7h0M156.6 375.1h0M156.6 368.9h0M156.8 375.4h0M156.9 354.3h0M156.9 375.4h0M156.9 362.4h0M157 376.7h0M157 345.6h0M157 362.7h0M157.1 367.8h0M157.1 363.3h0M157.2 375.2h0M157.2 368.3h0M157.2 373.3h0M157.3 372.9h0M157.4 359.7h0M157.5 376h0M157.5 369.4h0M157.5 361.2h0M157.6 373.9h0M157.6 352.5h0M157.7 363.3h0M157.8 373.1h0M157.9 376h0M157.9 373.8h0M158.1 367.1h0M158.1 362.7h0M158.1 348.8h0M158.2 367.2h0M158.2 374.7h0M158.2 368.5h0M158.3 351.2h0M158.3 349.3h0M158.4 361.5h0M158.4 364.6h0M158.5 365.8h0M158.6 343.4h0M158.6 350.9h0M158.7 361.4h0M158.9 365.2h0M158.9 371.4h0M158.9 371.6h0M159 356.5h0M159 354.4h0M159 356.5h0M159.1 371.2h0M159.2 361.8h0M159.3 360.4h0M159.3 376.6h0M159.4 374.9h0M159.4 349.6h0M159.5 376.3h0M159.5 376.3h0M159.5 363.2h0M159.7 361.2h0M159.8 375.9h0M159.8 376.1h0M159.9 348.3h0M159.9 360.1h0M160 368.3h0M160 376.7h0M160 367.7h0M160.1 358h0M160.1 374.1h0M160.2 374.6h0M160.3 373.6h0M160.3 366h0M160.3 355.3h0M160.4 362.1h0M160.4 377.2h0M160.5 367.8h0M160.6 354.7h0M160.7 366.8h0M160.7 364.4h0M160.8 365.2h0M161 374.2h0M161.1 375.7h0M161.2 341.8h0M161.2 361.3h0M161.3 358.6h0M161.4 360h0M161.4 353.5h0M161.5 349.1h0M161.5 321.4h0M161.6 346.1h0M161.6 366.5h0M161.7 343.7h0M161.8 374.2h0M161.9 359.2h0M161.9 363.7h0M162 368.9h0M162.1 358.7h0M162.1 366.6h0M162.2 370.8h0M162.2 376.9h0M162.2 358.6h0M162.3 361.4h0M163.3 343.9h0M163.4 372h0M163.4 372.7h0M163.4 373.7h0M163.5 357.7h0M163.5 368.8h0M163.5 368.5h0M163.7 377h0M163.7 369.6h0M163.8 371.5h0M163.8 360.9h0M163.8 367.3h0M164 364.8h0M164.1 377.5h0M164.1 368.7h0M164.2 359.6h0M165.4 360.8h0M165.5 360.7h0M165.6 372h0M165.6 356.4h0M165.6 373.7h0M165.7 374h0M165.7 358.9h0M165.7 372.8h0M165.8 375.6h0M165.9 368.8h0M165.9 358.8h0M166 367.7h0M166 363.6h0M166.1 365.8h0M166.1 355.7h0M166.2 351.8h0M166.3 364.4h0M166.3 363h0M166.4 360.3h0M166.5 354.8h0M166.6 364.7h0M166.6 368.1h0M166.6 365.9h0M166.7 350.6h0M166.7 348.5h0M166.9 364.1h0M167 377.4h0M167 365.4h0M167 354.2h0M167.1 375h0M167.1 351.9h0M167.1 362.7h0M167.2 353.7h0M167.3 375.3h0M167.3 372.2h0M167.4 357.6h0M167.4 373.8h0M167.5 348.6h0M167.6 354h0M167.6 369.6h0M167.7 373.5h0M167.8 334h0M167.8 369.9h0M167.9 375.9h0M168 368.6h0M168 375.8h0M168.1 375.2h0M168.2 372.6h0M168.2 374.4h0M168.3 367.7h0M168.3 371h0M168.4 359.5h0M168.5 369.4h0M168.7 372.3h0M168.7 375.5h0M168.8 362.7h0M169 376.4h0M169.1 354.2h0M170.6 375.5h0M170.6 364.8h0M170.9 368.5h0M170.9 370.8h0M171.1 370.3h0M171.1 372.2h0M171.2 370.1h0M171.2 377.1h0M171.2 371.6h0M171.3 363.8h0M171.3 377.1h0M171.3 376.3h0M171.4 376.9h0M171.4 346.1h0M171.4 366.7h0M171.5 377.3h0M171.5 367.3h0M171.6 376.3h0M171.6 352.9h0M171.7 365h0M171.7 366.2h0M171.9 361.9h0M171.9 377.2h0M171.9 360.5h0M172 370.4h0M172.1 347.4h0M172.1 367.5h0M172.2 372.2h0M172.2 352.7h0M172.2 374.6h0M172.3 362h0M172.3 368h0M172.4 368.1h0M172.4 364.9h0M172.5 367.2h0M172.5 365.8h0M172.6 357.5h0M172.7 362.2h0M172.7 377.5h0M172.7 368.5h0M172.8 376.6h0M172.9 352.6h0M172.9 367.9h0M172.9 373.3h0M173 358.2h0M173.1 374.2h0M173.1 364.4h0M173.2 375.9h0M173.2 355.5h0M173.3 329.7h0M173.4 356.5h0M173.5 365.5h0M173.5 367.1h0M173.6 360h0M173.6 376.9h0M173.7 363.6h0M173.7 374h0M173.7 361.6h0M173.8 369.8h0M173.8 372.3h0M173.8 360.7h0M173.9 356.4h0M173.9 373.8h0M174 340.2h0M174 353.9h0M174.1 376h0M174.1 373.4h0M174.2 369.2h0M174.2 345.6h0M174.3 372.8h0M174.3 362.5h0M174.4 354.2h0M174.4 361.9h0M174.5 370.4h0M174.6 366.5h0M174.6 354.1h0M174.6 366.2h0M174.8 370.9h0M174.8 355.1h0M174.8 357.8h0M175.1 369.3h0M175.2 366.2h0M175.2 373h0M175.3 365.3h0M175.4 352.6h0M175.5 350.2h0M175.5 372.1h0M175.6 367.5h0M175.7 371.2h0M175.7 353.7h0M175.8 341.9h0M175.9 367.9h0M175.9 376.5h0M176 364h0M176 377.5h0M176.1 355.8h0M176.2 374.6h0M176.3 372.2h0M176.4 348.4h0M177.6 370.7h0M177.6 355.9h0M177.8 363h0M177.8 370.3h0M177.9 366.5h0M178 368.4h0M178 375.3h0M178.1 357.4h0M178.2 369.3h0M178.2 358.1h0M178.2 365.3h0M178.3 365.6h0M178.3 374.6h0M178.3 374.1h0M178.4 357.6h0M178.4 366.7h0M178.5 376.6h0M178.5 374.7h0M178.6 373.2h0M178.6 360.4h0M178.7 355.5h0M178.7 361.9h0M178.9 346.2h0M178.9 376.6h0M179 365h0M179.1 347.8h0M179.1 372.9h0M179.2 357.2h0M179.2 367.4h0M179.2 373.5h0M179.3 373h0M179.4 368.1h0M179.4 348.5h0M179.5 375.9h0M179.5 376.2h0M179.6 373.5h0M179.6 357.7h0M179.8 366.1h0M180 375.3h0M180.1 368.6h0M180.1 369.9h0M180.2 377.3h0M180.3 369.3h0M180.3 358.4h0M180.5 366.4h0M180.6 370.5h0M180.6 376.3h0M180.7 361h0M180.7 372.4h0M180.8 365.8h0M180.8 365.9h0M180.8 349.8h0M180.9 375.1h0M181 366h0M181.1 354.2h0M181.2 349.3h0M182.9 371.1h0M182.9 367.8h0M183 365.4h0M183.1 364.5h0M183.2 365.5h0M183.3 373.8h0M183.3 374.6h0M183.4 361.8h0M183.6 373.5h0M183.7 368.9h0M183.7 371.9h0M183.7 370.5h0M183.8 367.2h0M183.8 345.1h0M183.9 350.3h0M184.1 375.8h0M184.1 373.5h0M184.2 369.1h0M184.4 376.5h0M184.5 360.5h0M184.5 371.9h0M184.7 371.9h0M184.7 371h0M184.8 373.3h0M184.8 374.9h0M184.8 361.4h0M184.9 362.1h0M185.1 343.9h0M185.2 344h0M185.2 358.8h0M185.3 377.2h0M185.3 375.8h0M185.4 373.1h0M185.4 363.8h0M185.4 377.2h0M185.5 376.4h0M185.6 343.6h0M185.6 358.1h0M185.7 370.7h0M185.7 374.1h0M185.8 374.2h0M185.8 338h0M185.8 369.1h0M185.8 359.3h0M185.9 376.8h0M185.9 370.5h0M186 361.2h0M186 371.7h0M186 357.7h0M186.1 359.5h0M186.1 369h0M186.4 339.7h0M186.5 374.5h0M186.6 364.9h0M186.7 374.8h0M186.8 372.6h0M186.8 370.5h0M186.8 366.8h0M186.9 354.3h0M186.9 363h0M187 365.4h0M187 374.8h0M187 369.6h0M187.2 376.7h0M187.2 377.2h0M187.2 368.9h0M187.3 373.1h0M187.3 366.5h0M187.4 375.7h0M187.5 368.2h0M187.5 372.3h0M187.6 371.1h0M187.6 372.9h0M187.6 374.7h0M187.7 370.6h0M187.7 374.1h0M187.8 364.7h0M187.9 362.3h0M188 369.5h0M188 365.6h0M188 355h0M188.2 353.5h0M188.2 371.2h0M188.3 368.2h0M188.3 377h0M188.5 341.1h0M188.6 375.3h0M188.6 376.4h0M189.6 377.1h0M189.7 375.3h0M189.7 369.6h0M189.8 372.3h0M189.8 361h0M190 375.9h0M190 371.8h0M190.1 370.5h0M190.2 377.1h0M190.4 373.2h0M190.5 370h0M190.6 353.3h0M190.7 348.4h0M190.7 375.3h0M190.8 374.5h0M190.9 369.6h0M190.9 347.6h0M191 340.7h0M191.1 354.5h0M191.1 371.6h0M191.2 368.2h0M191.3 352.6h0M191.4 374.1h0M191.4 359.4h0M191.4 368.7h0M191.4 374.7h0M191.5 363.1h0M191.5 372.6h0M191.9 359.7h0M191.9 376.9h0M192 375h0M192.1 355.3h0M192.1 372h0M192.4 377.3h0M192.6 365h0M192.6 347.1h0M192.7 375.7h0M192.7 371.8h0M192.8 374.8h0M192.9 369.1h0M193 372.8h0M193.1 356.5h0M193.1 361h0M193.1 352.2h0M193.4 377.2h0M193.5 372.4h0M193.5 363.9h0M193.5 376.8h0M193.6 355.8h0M193.6 371h0M193.7 356.9h0M193.7 361.1h0M193.8 374.1h0M193.9 374h0M193.9 373.9h0M193.9 371.6h0M194 372.6h0M194.1 354.7h0M194.1 375.1h0M194.2 376.4h0M194.3 370.6h0M194.4 362.3h0M194.4 375.4h0M194.5 367.9h0M194.5 366.1h0M194.6 350.5h0M194.6 363.3h0M194.8 351.3h0M194.8 347h0M194.9 362.9h0M194.9 376.3h0M195 370.9h0M195.2 346.7h0M195.2 341.8h0M195.2 359.4h0M195.2 360.2h0M195.3 375.6h0M195.4 354.2h0M195.4 373.3h0M195.5 371.5h0M195.6 368h0M195.7 375.9h0M196.8 353.6h0M196.8 375.8h0M196.8 358.3h0M196.9 370.9h0M196.9 376.1h0M196.9 369.1h0M197 367.1h0M197.3 366.3h0M197.4 371.6h0M197.5 366.6h0M197.6 367.2h0M197.6 375.2h0M197.7 366.2h0M197.7 375.2h0M197.7 376h0M197.8 366.3h0M197.8 366.2h0M197.8 360.8h0M197.9 357.3h0M197.9 371.8h0M197.9 375.4h0M198 364h0M198.1 372.4h0M198.1 361.6h0M198.2 377.1h0M198.4 368h0M198.5 371.7h0M198.5 376.3h0M198.5 366.7h0M198.7 366.2h0M198.7 373.3h0M198.7 370.1h0M198.7 374.9h0M198.8 357.4h0M198.8 375.6h0M198.9 364h0M199 342.6h0M199 368.8h0M199.1 376.1h0M199.2 372.5h0M199.2 375.1h0M199.2 363.3h0M199.3 375.3h0M199.3 374.5h0M199.4 373.3h0M199.4 366h0M199.4 366.2h0M199.4 375.5h0M199.5 374.7h0M199.6 358.3h0M199.7 349.3h0M199.8 374.4h0M199.8 376.6h0M199.9 377.1h0M199.9 356.9h0M200.1 373.6h0M200.1 376.1h0M200.1 372.3h0M200.1 351.8h0M200.2 371.7h0M200.3 352.8h0M200.4 375h0M200.4 367.5h0M202.5 366.3h0M202.5 365h0M202.5 371.6h0M202.5 375.1h0M202.9 370.5h0M202.9 365.1h0M203.1 366.3h0M203.2 362.6h0M203.3 364h0M203.6 373.8h0M203.6 375.1h0M203.6 340.7h0M203.7 366.2h0M203.8 353.5h0M203.9 343.2h0M204 354h0M204.2 377.5h0M204.3 356.6h0M204.3 370.4h0M204.3 360.1h0M204.3 373h0M204.4 359.2h0M204.5 377.1h0M204.6 376h0M204.7 368.5h0M204.8 364.2h0M204.9 372.4h0M204.9 372.1h0M205 372.8h0M205 359.5h0M205.1 363h0M205.1 352.5h0M205.2 353.6h0M205.3 370.1h0M205.3 363.4h0M205.4 371.4h0M205.4 343.9h0M205.5 363.4h0M205.5 374.7h0M205.6 357.8h0M205.7 366.8h0M205.8 352.8h0M205.9 365.4h0M205.9 360.7h0M206 365.2h0M206 374.6h0M206.1 343.7h0M206.2 367.3h0M206.2 374.7h0M206.2 372.5h0M206.3 375.9h0M206.3 377.4h0M206.4 372.7h0M206.5 366.9h0M206.6 351.8h0M206.9 359.2h0M206.9 366.7h0M207 364.4h0M207.2 370.9h0M207.2 367.7h0M207.3 358.9h0M207.4 363.4h0M207.5 375.8h0M207.5 377.1h0M207.6 367.3h0M207.7 356.3h0M207.7 372.2h0M207.8 363.6h0M207.9 361.9h0M209.1 365.6h0M209.2 367.7h0M209.3 377.2h0M209.4 372h0M209.5 373.9h0M209.6 364.9h0M209.6 365.2h0M209.7 376.4h0M209.8 351h0M209.8 371.9h0M209.9 371h0M209.9 373.8h0M210 376.8h0M210 371.6h0M210.1 368.9h0M210.2 376.6h0M210.3 359.1h0M210.3 376.6h0M210.4 370h0M210.5 360h0M210.5 359.9h0M210.6 376.8h0M210.8 369.5h0M210.8 361.5h0M210.8 365.4h0M210.9 371.3h0M210.9 363.5h0M210.9 361h0M211 353.1h0M211.1 372h0M211.3 350.9h0M211.4 353.4h0M211.5 370.4h0M211.5 377.5h0M211.5 369.8h0M211.6 368.9h0M211.7 373h0M211.8 375.5h0M211.8 368.7h0M212 371.6h0M212.2 357.9h0M212.3 372.7h0M212.3 368.6h0M212.4 370.5h0M212.4 373h0M212.5 376.4h0M212.6 373.8h0M212.6 367.8h0M212.7 368.6h0M212.7 331.1h0M212.8 362h0M214.1 369.6h0M214.4 370.2h0M214.4 376.6h0M214.7 376.3h0M214.8 370.4h0M214.8 369h0M216.2 350.2h0M216.3 360.1h0M216.4 358h0M216.4 358.6h0M216.4 346.7h0M216.5 355.8h0M216.7 360.1h0M216.8 377.4h0M216.9 370.3h0M217 359.1h0M217.1 373h0M217.2 376.5h0M217.2 365.6h0M217.2 355h0M217.2 366.8h0M217.3 376h0M217.4 365.5h0M217.5 370.5h0M217.6 369.9h0M217.6 367.4h0M217.7 363.5h0M217.8 376.8h0M217.9 368.9h0M218 360.4h0M218.2 366.9h0M218.3 372.1h0M218.3 358.5h0M218.3 355.4h0M218.5 366.4h0M218.6 366.7h0M218.6 367.9h0M218.7 340.9h0M218.8 374.3h0M218.9 375.4h0M219 370.9h0M219.1 367.9h0M219.2 357.4h0M219.3 350.9h0M219.3 374.8h0M219.5 360.1h0M219.6 375.8h0M219.7 373h0M221.5 375.2h0M221.5 375.9h0M221.7 362h0M221.8 368.5h0M221.9 357.2h0M222 364.5h0M222.1 373.5h0M222.2 343.7h0M222.2 368.2h0M222.3 362.9h0M222.4 351.9h0M222.6 374.5h0M222.7 375.4h0M222.7 365.9h0M222.8 355.4h0M222.9 374.2h0M223 352.9h0M223.1 377.3h0M223.2 360.8h0M223.3 376.2h0M223.3 375.7h0M223.4 374.6h0M223.4 371.7h0M223.5 371.6h0M223.6 366h0M223.6 357.9h0M223.7 354.8h0M223.8 360.2h0M224 375.9h0M224.2 364.9h0M224.2 376.7h0M224.2 375h0M224.4 376h0M224.4 370.6h0M224.5 369.1h0M224.5 356.3h0M224.5 364.3h0M224.6 373.3h0M224.7 370.1h0M224.9 368.2h0M224.9 371.6h0M225 375.2h0M225.1 369.7h0M225.1 370.4h0M225.2 372h0M225.3 377.3h0M225.4 373.8h0M225.4 357.4h0M225.5 368.1h0M225.6 372.3h0M225.7 372.2h0M225.8 376.3h0M225.8 371.5h0M226 369.1h0M226.1 370.4h0M226.2 373.8h0M226.3 363.5h0M226.6 372.5h0M226.7 362h0M226.7 360.8h0M226.9 377.1h0M226.9 368.8h0M228.4 366.2h0M228.5 373.8h0M228.6 362.3h0M228.9 356.9h0M229 361.1h0M229.2 366.9h0M229.2 367.3h0M229.4 374.5h0M229.4 372.8h0M229.5 374h0M229.7 377.1h0M229.7 374.8h0M229.8 343.8h0M230 361.6h0M230 346h0M230.1 372.5h0M230.1 357.3h0M230.3 376.6h0M230.4 331h0M230.7 362.4h0M230.8 361.4h0M230.9 375h0M231 374h0M231.1 359.7h0M231.1 369.8h0M231.4 371.7h0M231.5 363.9h0M231.5 356.9h0M231.6 366.5h0M231.7 360.8h0M231.8 374.8h0M231.8 362.4h0M231.9 358h0M233.6 334.4h0M233.7 364.5h0M233.8 344.7h0M234 368.5h0M234 372.5h0M234.1 364.1h0M234.2 335h0M234.2 372.3h0M234.3 369.1h0M234.5 361.4h0M234.5 347.9h0M234.6 373.4h0M234.7 371.5h0M234.9 365.3h0M234.9 361.9h0M235.2 365.8h0M235.3 373.3h0M235.3 368.7h0M235.4 370.8h0M235.8 360.9h0M235.8 376.5h0M235.9 344h0M236 354.6h0M236 353.6h0M236.2 348.5h0M236.3 375.1h0M236.3 361.8h0M236.4 374.7h0M236.5 353.2h0M236.8 363.9h0M237.2 361.8h0M237.4 362.1h0M237.4 359.4h0M237.5 372.6h0M237.8 371.3h0M237.8 373.7h0M238 353h0M238 367.7h0M238 372.9h0M238.1 356.5h0M238.1 362.9h0M238.2 366.3h0M238.2 375.7h0M238.3 366.4h0M238.5 370h0M238.5 377.3h0M238.6 366.8h0M238.6 363.5h0M238.7 358.2h0M238.9 375.2h0M239 371h0M239.2 376.5h0M239.2 374h0M239.2 360.7h0M239.2 362.6h0M239.3 369.2h0M239.4 375.3h0M239.4 366.7h0M239.4 357.6h0M239.5 372.7h0M239.5 375.8h0M239.5 364.5h0M239.7 362.8h0M239.7 375.2h0M239.9 374h0M240 375.7h0M240.1 373.6h0M240.1 346.8h0M240.2 373.6h0M240.2 371.7h0M240.2 361.6h0M240.3 372h0M240.4 357.9h0M240.4 375h0M240.4 370.2h0M240.5 373.3h0M240.5 376h0M240.6 374.7h0M240.6 373h0M240.7 366.7h0M240.8 362.7h0M240.9 353.7h0M241.2 364.9h0M241.2 370.3h0M241.5 369.1h0M241.7 376.3h0M241.9 374.4h0M241.9 375.7h0M242 376.8h0M242.1 367.6h0M242.1 358.9h0M242.2 370.5h0M242.3 366.9h0M242.3 373.6h0M242.3 374.2h0M242.5 365.8h0M242.5 364.1h0M242.6 371.7h0M242.7 362.9h0M242.7 369.8h0M242.8 375.8h0M242.8 366.8h0M242.9 372.4h0M242.9 363.8h0M243.2 363.7h0M243.3 372h0M243.3 375.5h0M243.4 374.2h0M243.5 372.9h0M243.7 376.9h0M243.8 347.1h0M243.9 368.8h0M244.1 375.9h0M244.1 362.2h0M244.2 368.1h0M244.2 375.4h0M244.3 376.8h0M244.3 358.6h0M244.4 372.9h0M244.4 370.4h0M244.4 357.2h0M244.5 357.7h0M244.6 370.7h0M244.7 360.1h0M244.7 372.6h0M244.7 370h0M244.8 369.5h0M245 364.7h0M245 349h0M245.1 371.5h0M245.3 367.5h0M245.3 360.9h0M245.4 371.8h0M245.4 372.3h0M245.6 361.6h0M245.7 356.2h0M245.8 363.2h0M245.9 371.9h0M246.1 350.3h0M246.2 365.8h0M246.3 377.3h0M246.3 376.1h0M246.3 370.2h0M246.4 361.2h0M246.4 368.4h0M246.5 370.1h0M246.6 364.7h0M246.9 374.9h0M247 339.1h0M247 352.1h0M247.1 370h0M247.1 356.4h0M247.2 370.9h0M247.3 372.2h0M247.8 376.4h0M247.8 369.1h0M247.9 365.1h0M247.9 369.5h0M248.1 376.5h0M248.2 370.5h0M248.3 370.6h0M248.3 366.7h0M248.4 359.5h0M248.4 374.8h0M248.4 361.1h0M248.5 355.7h0M248.6 374.8h0M248.6 371.6h0M248.7 362.8h0M248.8 365.4h0M248.8 371h0M248.9 369.5h0M248.9 372.1h0M249 363.5h0M249 374.2h0M249.1 376.3h0M249.1 366.4h0M249.2 363.4h0M249.3 368.8h0M249.3 358.7h0M249.4 354.9h0M249.4 367.8h0M250.6 350.5h0M250.6 369.3h0M250.7 352.5h0M250.7 363.2h0M250.9 363.7h0M250.9 374.9h0M251 367.6h0M251.1 369.4h0M251.4 369.1h0M251.4 364.7h0M252.5 369.2h0M252.6 339.3h0M252.6 371.3h0M252.6 357.3h0M252.7 375.1h0M252.8 346.6h0M252.8 357.2h0M252.8 367.7h0M252.9 363h0M252.9 360.9h0M253 366.7h0M253.2 376.8h0M253.3 360h0M253.3 372.5h0M253.6 359.5h0M253.8 376.6h0M253.9 357.6h0M254 363.6h0M254 366.4h0M254.2 359.8h0M254.3 372.5h0M254.4 365.7h0M254.4 362.1h0M254.5 360h0M254.6 370.9h0M254.6 364.7h0M254.8 370.7h0M254.8 367.8h0M254.9 355.5h0M254.9 372.6h0M255 354.3h0M255 377.4h0M255.1 375h0M255.3 376.5h0M255.4 365.3h0M255.5 372.7h0M255.6 374.6h0M255.7 374.6h0M255.7 362.1h0M255.8 376.7h0M255.8 374.5h0M255.9 365.8h0M255.9 373.2h0M256.1 364.8h0M256.3 372.8h0M256.4 361.8h0M256.5 369h0M256.6 359.3h0M256.8 357.3h0M256.9 364.8h0M257.1 369.6h0M257.2 375h0M257.2 363.7h0M257.4 368h0M257.5 362.7h0M257.6 369.7h0M257.8 365.3h0M257.8 377.5h0M257.9 374.6h0M258.2 377.5h0M258.3 362.7h0M258.5 371.4h0M258.6 372h0M258.6 371.8h0M258.6 374.3h0M258.7 363.2h0M258.8 375.1h0M259 363.1h0M259.1 366.5h0M259.2 350.8h0M259.3 347.2h0M259.3 358.9h0M259.4 368.8h0M259.4 357.1h0M259.5 371.5h0M259.7 359.7h0M260 369.6h0M260.2 372.7h0M260.3 371.8h0M260.4 372.9h0M260.6 361.5h0M260.7 372.5h0M260.7 370.8h0M260.8 353h0M260.9 361.9h0M261 355.6h0M261.1 370.7h0M261.1 336h0M261.2 367.9h0M261.3 372.3h0M261.3 367.9h0M261.4 372.7h0M261.4 375.4h0M261.5 377h0M261.5 374.5h0M261.6 376.4h0M261.8 366.7h0M261.8 373.7h0M262 369.2h0M262.2 372.3h0M262.3 374.7h0M262.4 358.5h0M262.4 370.5h0M262.5 366.9h0M262.5 367.4h0M262.7 364.4h0M262.9 369.4h0M263.1 363.5h0M263.1 373.4h0M263.2 356.6h0M263.3 373.1h0M263.4 359.2h0M263.7 364.6h0M263.7 368.1h0M263.9 374.8h0M263.9 371.2h0M264 375.7h0M264 375.6h0M264.1 368.7h0M264.1 363.9h0M264.2 375h0M264.3 370.8h0M264.4 364.2h0M264.5 367.3h0M264.6 366.2h0M264.6 372.2h0M264.7 371.1h0M264.8 372.1h0M264.8 366.3h0M264.8 358.1h0M265 374.3h0M265.1 370.3h0M265.2 368.9h0M265.3 367.9h0M267.3 364.5h0M267.4 364.4h0M267.6 371.9h0M267.6 376.7h0M267.7 365.3h0M267.7 371.5h0M267.9 364.7h0M268 359.7h0M268 362.7h0M268.1 375.9h0M268.1 372.8h0M268.2 371.7h0M268.5 371.8h0M268.6 361.1h0M268.6 359.9h0M268.7 376h0M268.7 377.3h0M268.7 370.1h0M269.1 372.9h0M269.4 364.6h0M269.5 371.4h0M269.5 374.8h0M269.5 370.7h0M269.7 368.6h0M269.7 374.7h0M269.8 354.8h0M269.8 358.6h0M269.9 371.6h0M269.9 362.7h0M272.4 372.3h0M272.5 373.4h0M272.5 374h0M272.6 370.4h0M272.6 370.7h0M272.7 374.3h0M272.8 350.4h0M273.1 364.8h0M273.2 353.9h0M273.5 374.3h0M273.7 373.6h0M273.8 375.8h0M273.8 369.3h0M273.8 376.6h0M273.9 370.7h0M273.9 368.3h0M274.1 375.7h0M274.2 377.4h0M274.3 375.2h0M274.4 368.2h0M274.5 362.4h0M274.9 370.6h0M274.9 377.1h0M275.1 369.9h0M275.1 366.9h0M275.3 363.8h0M275.5 365.9h0M275.9 364.5h0M276 357.4h0M276 365h0M276.2 370.8h0M276.2 368.5h0M276.3 372.8h0M276.4 365.9h0M276.4 376.1h0M276.4 371.9h0M276.6 369.6h0M276.8 363.3h0M276.9 371.2h0M277 368.8h0M277.1 352.9h0M277.2 374.4h0M277.3 375.6h0M277.3 352.6h0M277.6 361.1h0M277.6 369h0M277.6 370.7h0M277.7 365.7h0M279 363.1h0M279.1 371h0M279.3 366.4h0M279.6 374.9h0M279.8 371.5h0M279.9 368.6h0M280 373.4h0M280.5 357.1h0M280.7 373h0M280.7 369.7h0M280.8 371.9h0M281 372.8h0M281 366.5h0M281.3 374.1h0M281.4 368.8h0M281.5 368.1h0M281.6 363.4h0M281.7 371.3h0M281.9 374.1h0M282 360.5h0M282.4 356.4h0M282.5 372.5h0M282.8 376.8h0M284.1 374.8h0M284.2 355.6h0M284.2 375.4h0M284.3 355.6h0M284.5 362.9h0M284.5 370.5h0M284.6 362.7h0M284.7 353.9h0M284.7 371.2h0M284.9 352.3h0M284.9 366.6h0M285.2 354.8h0M285.2 354.2h0M285.4 375.3h0M285.4 371.3h0M285.4 376h0M285.6 345.1h0M285.7 359.4h0M285.7 359.5h0M285.7 371h0M285.8 370.4h0M286 356.1h0M286 367.2h0M286.2 356.7h0M286.2 374.1h0M286.3 375.8h0M286.3 376.6h0M286.5 374.3h0M286.6 367.7h0M286.8 372.9h0M287 355.8h0M287 369.4h0M287.1 359.3h0M287.3 369.6h0M287.3 361.4h0M287.6 373.5h0M287.8 367.3h0M287.8 364.1h0M287.9 371.1h0M288 364.8h0M288.1 363.8h0M288.1 361.8h0M288.3 374.5h0M288.3 373.1h0M288.4 367.9h0M288.5 374.5h0M288.5 375.9h0M288.7 370.2h0M289.1 364.8h0M289.3 354.6h0M289.3 377.2h0M289.6 374.9h0M289.7 376.7h0M289.8 377.2h0M289.9 362.7h0M290.2 371.3h0M290.2 374.5h0M290.2 374.2h0M290.3 360.4h0M290.3 362.8h0M290.5 373.5h0M290.6 366.6h0M290.6 372.2h0M290.7 371.5h0M290.7 370h0M290.8 363.5h0M290.9 373.6h0M291.1 364.5h0M291.1 371.5h0M291.1 370.9h0M291.2 373.9h0M291.3 376.4h0M291.6 358.2h0M291.7 359.1h0M291.8 375.5h0M291.9 367.3h0M292 375.5h0M292.1 374.4h0M292.2 374.7h0M292.3 367.1h0M292.4 363.2h0M292.4 368.1h0M292.6 377.1h0M292.6 371.4h0M292.7 370.4h0M292.8 376.5h0M292.9 353.4h0M293 374.9h0M293.1 375.5h0M293.1 374.9h0M293.2 355.4h0M293.2 375.1h0M293.3 358.9h0M293.4 376.3h0M293.5 375.5h0M293.6 366.8h0M293.7 374.4h0M293.7 375.5h0M293.8 364.9h0M294 358.3h0M294.1 373.8h0M294.2 370.9h0M294.3 367.6h0M294.4 371.3h0M294.5 370.5h0M294.6 361.9h0M294.7 373h0M295.3 349.4h0M295.4 370.9h0M295.7 366.5h0M295.8 372.6h0M296 360.4h0M296 373.6h0M296.1 365h0M296.2 373.3h0M296.3 370.4h0M296.4 353.7h0M296.4 362.7h0M296.6 374.9h0M296.7 367.8h0M296.8 370.5h0M296.9 365.9h0M297 377.2h0M297.1 376.1h0M298.2 376.4h0M298.2 368h0M298.2 363.7h0M298.4 377.3h0M298.5 364.9h0M298.7 365.9h0M298.8 368h0M299.1 377.1h0M299.3 373.7h0M299.6 371.5h0M299.6 371.6h0M299.7 375.7h0M299.8 355.3h0M299.9 374.7h0M299.9 369.1h0M300 360.5h0M300.1 359.6h0M300.3 376.3h0M300.5 355.5h0M300.9 363.4h0M301.1 374.9h0M301.1 367.4h0M301.4 372h0M301.4 368.2h0M301.5 372.2h0M301.6 361h0M301.6 362h0M301.8 349.5h0M301.9 370.3h0M301.9 374.1h0M302.1 373h0M302.2 358.7h0M302.2 365.3h0M302.3 370.1h0M302.4 362.5h0M302.6 377.1h0M302.9 360.8h0M302.9 362.1h0M303 373.1h0M303 371.3h0M303.3 361.8h0M303.3 370.5h0M303.4 369.7h0M303.5 365.5h0M304 364.7h0M304.4 375.3h0M304.4 365h0M304.5 356.1h0M304.6 374.7h0M304.7 374.9h0M304.8 373h0M305.1 371h0M305.2 369.1h0M305.3 376.6h0M305.4 368.7h0M305.6 377.4h0M305.7 371.2h0M305.8 376.2h0M305.9 376.5h0M306.2 374.8h0M306.3 368.4h0M306.5 375.8h0M306.6 373.1h0M306.6 364.4h0M306.7 376.7h0M306.7 370.9h0M307 356.6h0M307.1 364.1h0M307.2 375.8h0M307.4 357.1h0M307.5 363.2h0M307.6 374.3h0M307.9 374.8h0M307.9 373.2h0M308.3 377.4h0M308.4 377.3h0M308.4 362.3h0M308.5 366h0M308.5 363h0M308.7 358h0M308.7 375h0M308.9 368.9h0M309.2 374.9h0M309.3 371.1h0M309.3 363.8h0M309.4 364.3h0M309.6 372.2h0M310 376.6h0M310.1 367.9h0M310.3 357.1h0M310.6 349.1h0M310.7 364.6h0M310.8 373.4h0M310.9 364.6h0M311 356.4h0M311.1 369.5h0M311.1 373.7h0M311.2 375.9h0M311.5 376.8h0M311.8 369.6h0M311.8 362h0M311.9 376.6h0M311.9 372.3h0M312.1 357.4h0M312.3 371.2h0M312.5 364.4h0M312.6 373.5h0M312.6 369.6h0M312.7 374.2h0M312.7 368h0M313 366.2h0M313.1 376h0M313.1 368.6h0M313.3 369h0M313.5 374.5h0M313.7 372.4h0M313.8 373.3h0M313.8 375.3h0M313.8 370.6h0M314 353.3h0M314.3 371.1h0M314.8 376.8h0M314.9 377h0M315 369h0M315 370.1h0M315.3 361.3h0M315.4 374.9h0M315.5 363.6h0M315.6 377.4h0M315.7 374.6h0M318.3 364.1h0M318.5 372.5h0M318.6 364.1h0M318.8 365.3h0M319 362.7h0M319.1 368.9h0M319.4 343.5h0M319.4 362h0M319.4 373h0M319.5 349.4h0M319.5 372.4h0M319.6 370.3h0M319.7 375.9h0M319.8 369.1h0M320.1 363.5h0M320.3 371.4h0M320.5 373.9h0M320.8 365.9h0M320.8 367.3h0M321 368.4h0M321.2 369.8h0M321.3 370.2h0M321.4 374.5h0M321.4 365.8h0M322.5 366.3h0M322.6 356.7h0M322.6 370.8h0M322.7 364.8h0M322.7 375.4h0M322.9 372.6h0M323.2 350.6h0M323.3 375h0M323.4 369.3h0M323.7 377.1h0M323.8 363.7h0M323.9 373.9h0M324.1 371h0M324.2 366.7h0M324.3 362.1h0M324.4 364.1h0M324.6 372.8h0M324.6 375.3h0M324.8 377.3h0M324.9 375.8h0M325 372.6h0M325.2 362.7h0M325.2 372.2h0M325.4 367.4h0M325.4 366.5h0M325.5 372.6h0M325.6 367.3h0M325.6 366.5h0M325.7 375.3h0M325.9 352.2h0M326 374.8h0M326 356.8h0M326.1 368.9h0M326.2 363.6h0M326.6 353h0M326.7 359.4h0M326.7 375.1h0M327.2 376h0M327.3 376.7h0M327.5 373.7h0M327.7 375.3h0M327.9 354.1h0M328 375.1h0M328.1 373.8h0M328.2 352h0M328.4 358h0M328.4 367.3h0M328.5 361h0M329.7 376.5h0M329.9 374.2h0M330.1 372.5h0M330.1 359.2h0M330.2 375.3h0M330.3 362.4h0M330.3 369.8h0M330.5 374.8h0M331 367.4h0M331.2 367.7h0M331.2 366.1h0M331.3 372.9h0M331.3 376.4h0M331.4 368.9h0M331.5 357h0M331.6 371.7h0M331.9 373h0M332 371.1h0M332 373.6h0M332 359.4h0M332.1 355.1h0M332.2 369.6h0M332.3 376.5h0M332.5 354.9h0M332.7 352.2h0M332.8 377.5h0M332.9 351.5h0M332.9 371.2h0M332.9 369.9h0M333 370.2h0M333.3 358.5h0M333.6 374.6h0M334.7 377h0M334.8 361.9h0M335.3 359.9h0M335.4 373.6h0M335.5 369.6h0M335.9 377h0M336.1 368.8h0M336.2 375.9h0M336.2 372.4h0M336.2 369.1h0M336.4 362.7h0M336.6 369.6h0M336.8 374.5h0M336.9 372.4h0M337.1 370.7h0M337.2 368.4h0M337.2 372.9h0M337.4 376.7h0M337.6 363.2h0M337.7 348.2h0M337.9 375h0M337.9 368.5h0M338 363.3h0M338 375.2h0M338.1 358h0M338.5 360.1h0M338.6 376.8h0M338.7 367.5h0M338.8 371.9h0M338.9 371.8h0M339.1 371.2h0M339.3 373.2h0M339.6 377h0M339.9 374.3h0M339.9 374.7h0M340 362.6h0M340.2 351.4h0M340.3 376.5h0M340.4 367.8h0M340.5 363.5h0M340.6 370.1h0M340.7 357.1h0M340.7 349.2h0M340.8 372.7h0M341 364.5h0M341 365.8h0M341 363.8h0M341.1 377.2h0M341.2 368.2h0M341.2 376.9h0M341.3 368.3h0M341.4 364.5h0M341.4 365.6h0M341.4 359.1h0M342 374.1h0M342.4 376.7h0M342.4 374h0M342.5 373.4h0M342.7 373.6h0M342.8 350.8h0M342.9 367.6h0M343.5 376.4h0M343.6 372.9h0M343.6 373.9h0M344.2 377h0M344.4 368.3h0M344.5 368.2h0M344.6 367.7h0M344.6 367h0M344.7 377.2h0M344.8 376.3h0M344.9 372.8h0M345.2 375.4h0M345.2 376.9h0M345.4 364.3h0M345.6 354.8h0M345.9 343.2h0M345.9 368.3h0M346.1 364.4h0M346.1 359.8h0M346.2 338.2h0M346.3 375.3h0M346.5 374.2h0M346.6 361.1h0M346.6 377.5h0M346.6 368.7h0M346.7 369.8h0M346.8 362.1h0M346.8 375h0M346.9 363.6h0M346.9 369.7h0M346.9 375.8h0M347.5 356.9h0M347.6 351.7h0M347.7 370.9h0M347.8 357.5h0M348 377.4h0M348.2 373.3h0M348.6 367.8h0M348.6 346h0M348.6 352h0M348.7 374.3h0M348.7 353.4h0M348.7 375.4h0M348.8 367.9h0M350.3 376.9h0M350.4 373.2h0M350.5 374.5h0M350.6 374.5h0M350.9 366.4h0M351.1 374h0M351.1 372.2h0M351.2 373.4h0M351.4 373h0M351.4 348.5h0M351.7 360.5h0M351.9 372.5h0M352 366.6h0M352.2 364.9h0M352.4 359.9h0M352.4 373.1h0M352.6 377h0M352.6 374.3h0M352.8 371.7h0M353.2 372.2h0M353.3 374.4h0M353.4 371.5h0M353.5 364h0M353.5 359.8h0M353.6 363.1h0M353.7 363.2h0M354 375.5h0M354 370.8h0M354 372.6h0M354.1 366.3h0M354.1 365.5h0M354.1 346.9h0M354.2 361.7h0M354.2 357.8h0M354.2 357.3h0M354.3 359.7h0M354.3 356.5h0M354.3 354h0M354.3 354.7h0M354.4 350.4h0M354.4 351.2h0M354.4 350.1h0M354.5 353.6h0M354.5 353.7h0M354.5 354.5h0M354.6 354.3h0M354.6 359h0M354.6 359h0M354.6 356.8h0M354.7 358.9h0M354.7 361.8h0M354.7 361.2h0M354.8 364.1h0M354.8 370.4h0M354.8 369.8h0M354.9 373.5h0M354.9 375.4h0M354.9 370.5h0M355 376.6h0M355.1 361.7h0M355.2 371.9h0M355.2 371.5h0M355.3 373.4h0M355.3 372.6h0M355.3 360.1h0M355.5 355.4h0M355.6 366.3h0M355.8 368.1h0M356.1 368.5h0M356.3 373.9h0M356.4 370.7h0M356.5 363.2h0M356.6 375.1h0M356.6 373.8h0M356.6 375.9h0M356.8 377.2h0M356.9 377.3h0M357.2 371.8h0M357.2 375.4h0M357.5 374.5h0M357.5 368.2h0M357.6 377.5h0M357.6 375h0M357.6 375h0M358.1 370.2h0M358.2 376.4h0M358.5 376.1h0M358.8 366.1h0M359.2 374.6h0M359.2 368.2h0M359.2 372.2h0M359.4 366.3h0M359.5 374.7h0M359.6 367.6h0M359.8 377h0M359.9 371.4h0M360.3 374.9h0M360.3 377h0M360.6 374.4h0M360.9 374.8h0M360.9 375h0M361.1 377.2h0M361.2 377.2h0M361.3 375.4h0M361.4 365.4h0M361.5 371.6h0M361.9 375.2h0M362.1 376.4h0M362.2 372.5h0M362.3 377.1h0M362.4 364.9h0M362.4 365h0M362.5 359.7h0M362.6 353.4h0M363.2 372.2h0M363.5 354.8h0M363.7 367.1h0M363.7 373.2h0M363.9 377.4h0M364 373.3h0M364.2 377.3h0M364.4 371.3h0M364.7 373.9h0M364.9 376h0M365 371.9h0M365 376.5h0M365.2 372.8h0M365.2 367.4h0M365.2 374.8h0M365.3 372.4h0M365.4 368.9h0M365.5 373.6h0M365.7 371.7h0M365.7 357h0M365.8 373.6h0M365.8 370.9h0M366.5 373.1h0M368.6 365.7h0M368.7 377.1h0M368.7 375.7h0M368.9 369.8h0M369.5 369h0M369.6 367.9h0M369.6 361.2h0M370 344.5h0M370 375.1h0M370.1 376.8h0M370.3 362.9h0M370.4 366.4h0M370.6 370.6h0M370.7 373.8h0M370.9 370h0M371.3 370.7h0M371.4 369h0M371.6 364.9h0M371.7 373.3h0M372.1 375.4h0M372.1 363.2h0M372.4 369h0M372.5 370.6h0M372.5 365.4h0M372.8 362.1h0M373.2 371.8h0M373.3 363.3h0M373.3 370.1h0M373.4 369.5h0M373.7 358.3h0M373.8 362.8h0M373.9 361.1h0M374.1 363.3h0M374.1 373.8h0M374.3 373.3h0M374.4 371.4h0M374.4 369.4h0M374.6 376.8h0M374.7 368.5h0M374.9 377.4h0M375 372.6h0M375.1 374.1h0M375.3 367.5h0M375.6 365.4h0M376 370.4h0M376.1 370.9h0M376.6 372.7h0M376.6 372.2h0M376.9 371h0M376.9 373.3h0M377.2 366h0M377.3 377.5h0M377.4 372.6h0M377.5 367.8h0M377.6 374.8h0M377.8 377.3h0M377.8 354.6h0M377.9 372.6h0M378 369.3h0M378.1 365.5h0M378.3 376.1h0M378.5 360.8h0M378.6 373.9h0M378.6 360.8h0M378.7 371.3h0M378.7 376.8h0M378.9 375.4h0M378.9 375.7h0M379 373.4h0M379 377.4h0M380.3 367.7h0M380.4 373.1h0M380.6 375.7h0M380.8 375.8h0M381.1 372.8h0M381.1 368.4h0M381.2 375.9h0M381.4 371.8h0M382 376.6h0M382 364.8h0M382.1 369.3h0M382.1 370.3h0M382.4 369.2h0M382.6 368.2h0M382.6 375h0M382.7 376.7h0M382.8 372.3h0M383 377.5h0M383.2 373.9h0M383.3 359.9h0M383.3 364.1h0M383.6 374.6h0M383.6 376h0M383.7 367.4h0M383.9 375.3h0M384 371.1h0M384.1 370.3h0M384.3 371.7h0M384.4 372.5h0M384.5 372.9h0M385 359.1h0M385.1 356.8h0M385.2 370.8h0M385.4 366.3h0M385.6 374.1h0M385.9 376.3h0M386.2 372.2h0M386.3 374.7h0M386.3 369.1h0M386.3 376.1h0M386.5 364.4h0M386.6 361.7h0M386.7 376h0M387 375.5h0M387.1 377.4h0M387.3 372.1h0M387.4 357h0M387.5 374.1h0M387.6 366h0M387.7 374.5h0M387.7 368.7h0M387.8 364h0M387.9 370.8h0M388.3 363.6h0M388.4 372.7h0M388.6 365.7h0M388.7 373.9h0M389 373.4h0M389 377.3h0M389.1 371.2h0M389.2 364.7h0M389.3 370.7h0M389.5 375.4h0M389.8 377.1h0M389.9 364.5h0M390.1 377.4h0M390.4 374.5h0M390.5 369.2h0M390.7 358h0M391.1 368.4h0M391.2 365.9h0M391.3 368.9h0M391.4 374.3h0M391.4 371.7h0M391.4 368h0M391.5 365.6h0M391.5 364.3h0M391.5 362.9h0M391.6 361.1h0M391.6 357.1h0M391.6 355.5h0M391.6 349.2h0M391.7 351.2h0M391.7 346.9h0M391.7 348.4h0M391.8 347.1h0M391.8 348.2h0M391.8 349h0M391.9 347.2h0M391.9 347.5h0M391.9 344.3h0M391.9 343.8h0M392 345.9h0M392 344.5h0M392 343.9h0M392.1 346h0M392.1 349h0M392.1 346.5h0M392.2 351h0M392.2 348.8h0M392.2 354.3h0M392.3 354.6h0M392.3 353.2h0M392.3 355.8h0M392.3 360.9h0M392.4 362.5h0M392.4 364.1h0M392.4 368.4h0M392.5 369.9h0M392.5 372.3h0M392.5 371.3h0M392.6 377.2h0M392.6 374.3h0M392.8 376.6h0M393 369.9h0M393 360.4h0M393.2 371.6h0M393.3 370.2h0M393.3 374.3h0M393.3 369.4h0M393.6 365.9h0M393.7 373.1h0M393.8 376.3h0M393.9 363.6h0M394 353.4h0M394 372.8h0M394.4 364.3h0M394.5 371.5h0M394.9 368.5h0M394.9 365.1h0M395 368.4h0M395.2 366.5h0M395.2 369.2h0M395.6 374.2h0M395.7 370.7h0M395.7 376.9h0M395.9 370.1h0M396 361.5h0M396.2 367.6h0M396.5 366.8h0M396.8 374.5h0M397.1 376.6h0M397.2 361.3h0M397.3 374h0M397.7 362.3h0M398.2 377.1h0M398.2 371.2h0M398.6 373.8h0M398.8 376.6h0M398.9 371.9h0M399 362.6h0M399.1 364.8h0M399.3 370.8h0M399.4 363.9h0M399.6 361.9h0M399.7 362.6h0M399.8 377.2h0M399.8 370.1h0M400 375.9h0M400.1 376.6h0M400.4 374.2h0M400.6 374.2h0M400.7 360.2h0M400.8 368h0M400.9 374.1h0M401 370.2h0M401 358h0M401.2 370.3h0M401.3 375.4h0M401.3 373.1h0M401.4 366.3h0M401.6 368.2h0M401.9 376.3h0M402 375.6h0M402.8 368.3h0M402.9 370.6h0M403 375.7h0M403.1 370.9h0M403.4 371.4h0M403.4 368.5h0M403.5 369.2h0M403.6 371.7h0M403.7 366.2h0M403.7 373.8h0M403.7 368.4h0M404.1 355h0M404.3 369h0M404.7 370.8h0M404.7 361.5h0M404.9 372.8h0M405.1 368.9h0M405.2 366h0M405.2 363.7h0M405.2 371.8h0M405.3 371.8h0M405.3 367.9h0M405.3 368.7h0M405.4 363.6h0M405.4 359.4h0M405.4 360.6h0M405.5 359.1h0M405.5 352.5h0M405.5 351.9h0M405.6 351.5h0M405.6 346.7h0M405.6 347.8h0M405.6 342.4h0M405.7 340.7h0M405.7 338.4h0M405.7 337.5h0M405.8 332.5h0M405.8 330.3h0M405.8 329.7h0M405.9 326.7h0M405.9 324.2h0M405.9 323.6h0M405.9 324h0M406 323.8h0M406 319.3h0M406 320.9h0M406.1 320.6h0M406.1 322.7h0M406.1 319.2h0M406.2 321.6h0M406.2 319.8h0M406.2 322.3h0M406.2 320.4h0M406.3 321.1h0M406.3 323.5h0M406.3 324.1h0M406.4 324.8h0M406.4 323.6h0M406.4 327.2h0M406.5 325.1h0M406.5 331.1h0M406.5 331.8h0M406.6 336.4h0M406.6 334.4h0M406.6 337.7h0M406.6 344.2h0M406.7 345.6h0M406.7 346.4h0M406.7 347.1h0M406.8 349.4h0M406.8 355h0M406.8 354.4h0M406.9 358.7h0M406.9 362.6h0M406.9 363.1h0M406.9 367.7h0M407 370.5h0M407 371.3h0M407 373.1h0M407.1 375.5h0M407.1 376.3h0M407.2 352.3h0M407.8 374.7h0M407.9 373.8h0M408 374.9h0M408 364.2h0M408.5 367.6h0M408.6 374.3h0M408.7 376.3h0M408.8 367h0M408.9 377.5h0M409.3 369.8h0M409.6 376.2h0M409.9 376.4h0M410.2 373.6h0M410.3 367.3h0M410.3 376.1h0M411 360.6h0M411.4 360h0M411.5 370.2h0M411.5 357h0M411.9 373.9h0M412 367.4h0M412.1 364.3h0M412.4 369.4h0M412.5 368.5h0M412.7 373.9h0M412.8 368.8h0M413 362.1h0M413 372.3h0M413.1 376.3h0M413.2 372.5h0M413.7 372.1h0M413.9 377h0M413.9 376.3h0M414.2 369.6h0M414.4 375.5h0M414.4 367.2h0M414.7 363.5h0M414.8 370.7h0M415 364.2h0M415.2 376.1h0M415.6 377.5h0M415.6 374.2h0M415.9 372.6h0M415.9 369.8h0M416.1 369.8h0M416.2 373h0M416.2 376.4h0M416.3 372.7h0M416.7 373h0M416.9 371.5h0M417.6 368.8h0M418.9 366.9h0M419.1 369.1h0M419.3 370.8h0M420.4 373.8h0M420.6 359.4h0M420.8 375.9h0M420.8 375.1h0M421.1 370.4h0M421.3 366.9h0M421.3 375.9h0M421.5 369.7h0M421.8 376.9h0M421.8 371.5h0M421.9 366h0M422.2 365.4h0M422.7 362.4h0M423.1 369.7h0M423.2 366.1h0M423.3 366.3h0M423.4 374.4h0M423.5 370.9h0M423.5 374.6h0M423.8 357.5h0M424.1 373.7h0M424.9 374.7h0M425 369.2h0M425.8 371.2h0M426.1 367.5h0M426.2 375.8h0M426.2 371.2h0M426.5 365.6h0M426.5 359.7h0M426.9 375.5h0M427 368.1h0M427.1 345.1h0M427.1 371.8h0M427.3 372.5h0M427.5 365.5h0M427.6 370.1h0M428.1 356.6h0M428.2 376.9h0M428.4 359.1h0M428.5 376.9h0M428.6 375.9h0M428.8 368.6h0M429.4 370.8h0M429.5 368.7h0M429.7 369.5h0M431.3 363.8h0M431.4 375.2h0M431.6 368.1h0M432.4 366.3h0M432.8 372.3h0M432.8 374.8h0M432.9 376.1h0M432.9 374.2h0M433 376.4h0M433 365.7h0M433.1 365h0M433.2 359.1h0M433.9 373.6h0M434 353.5h0M434.3 371.8h0M434.8 377.1h0M435.1 375.2h0M435.2 373.8h0M435.3 376.7h0M435.4 374.5h0M435.8 375.6h0M436 368.4h0M436.1 369.7h0M436.2 366.5h0M436.2 363.9h0M436.7 377h0M436.9 374.1h0M437.3 377.1h0M437.4 376.6h0M437.9 368.8h0M437.9 376.7h0M437.9 374.1h0M438 374.4h0M438 370h0M438 368.8h0M438 365.9h0M438.1 360h0M438.1 360.6h0M438.1 359.4h0M438.2 356h0M438.2 355.8h0M438.2 353.4h0M438.3 352.3h0M438.3 348.8h0M438.3 346.7h0M438.3 346.5h0M438.4 348h0M438.4 345.1h0M438.4 343.9h0M438.5 345.6h0M438.5 344.3h0M438.5 343.9h0M438.6 340.4h0M438.6 342.1h0M438.6 338.7h0M438.7 342.7h0M438.7 343h0M438.7 343.2h0M438.7 341.2h0M438.8 343.6h0M438.8 344.9h0M438.8 346.4h0M438.9 344.3h0M438.9 346.6h0M438.9 347.7h0M439 351.9h0M439 354.6h0M439 352.4h0M439 357.3h0M439.1 361.1h0M439.1 361.8h0M439.1 367.2h0M439.2 368.3h0M439.2 370h0M439.2 371.7h0M439.3 372.7h0M439.3 376.4h0M439.8 375.4h0M439.9 374.3h0M440.1 365.3h0M440.1 373.1h0M440.2 375.3h0M440.4 358.4h0M440.6 374.4h0M441.2 366h0M441.5 366.4h0M442.5 371.9h0M442.5 371.6h0M442.6 372.8h0M442.7 366.8h0M442.7 371.1h0M442.7 375.5h0M442.9 374.2h0M443 371.9h0M443.1 370.8h0M443.1 369.7h0M443.1 368.6h0M443.2 365.6h0M443.2 359.8h0M443.2 360.7h0M443.2 358.5h0M443.3 356.9h0M443.3 356.4h0M443.3 354.5h0M443.4 350.5h0M443.4 347.9h0M443.4 349.1h0M443.5 347.4h0M443.5 347.3h0M443.5 346h0M443.6 345.2h0M443.6 345.2h0M443.6 346.7h0M443.6 343.5h0M443.7 343.6h0M443.7 344.3h0M443.7 345.4h0M443.8 343.4h0M443.8 343h0M443.8 349.4h0M443.9 346.9h0M443.9 345.1h0M443.9 349.8h0M443.9 347.9h0M444 349.3h0M444 353.7h0M444 355.6h0M444.1 358.8h0M444.1 356h0M444.1 361h0M444.2 359.7h0M444.2 363.7h0M444.2 363.8h0M444.3 369.9h0M444.3 370.9h0M444.3 376.3h0M444.3 377.3h0M444.4 365.1h0M444.8 371.7h0M444.8 373.6h0M445 369.4h0M445.1 357.9h0M445.3 369h0M445.4 368.6h0M445.5 357.3h0M445.7 374.4h0M445.9 359.5h0M446 361.6h0M446.2 354h0M446.4 377h0M446.8 371.8h0M447 375.5h0M447.4 355.9h0M447.5 377.4h0M447.9 377.4h0M447.9 372.8h0M448.1 376.1h0M448.7 375.8h0M448.9 369h0M449.1 368.4h0M449.6 362.5h0M449.7 363h0M449.8 376h0M449.9 374.5h0M450.4 370.1h0M450.4 376.3h0M450.5 375.6h0M450.7 375.4h0M450.7 371h0M450.8 373.7h0M450.9 372.5h0M451 375.8h0M451.3 364.1h0M451.3 371.7h0M452.5 363.9h0M452.5 372.6h0M452.6 366.3h0M452.9 372.6h0M453.1 367.8h0M453.1 370.2h0M453.2 376.3h0M453.6 374.3h0M453.8 366.7h0M454.3 377.4h0M454.4 372.9h0M454.5 369.7h0M454.9 363.9h0M455 371.9h0M455 376.3h0M455.2 358.5h0M455.4 368.3h0M455.5 361h0M455.6 367.6h0M455.8 373.1h0M455.8 368h0M455.8 370.8h0M455.9 370.1h0M455.9 364.7h0M455.9 363.3h0M456 362.5h0M456 359.3h0M456 357.8h0M456.1 358.3h0M456.1 352h0M456.1 350.2h0M456.1 350.2h0M456.2 344.6h0M456.2 344.7h0M456.2 341.5h0M456.3 338.3h0M456.3 335.1h0M456.3 335.1h0M456.4 333.3h0M456.4 328.7h0M456.4 329.9h0M456.5 326.1h0M456.5 322.6h0M456.5 322.4h0M456.5 317.8h0M456.6 317.8h0M456.6 318.4h0M456.6 318.3h0M456.7 318.6h0M456.7 314.8h0M456.7 317h0M456.8 312.8h0M456.8 315h0M456.8 313.8h0M456.8 311h0M456.9 313.3h0M456.9 315.4h0M456.9 313.6h0M457 316.2h0M457 313.9h0M457 319.8h0M457.1 316.6h0M457.1 317.7h0M457.1 318.3h0M457.2 318.1h0M457.2 321.6h0M457.2 322.8h0M457.2 324.4h0M457.3 328.6h0M457.3 329.2h0M457.3 332.4h0M457.4 333.3h0M457.4 334.1h0M457.4 338.6h0M457.5 340.9h0M457.5 341.7h0M457.5 347h0M457.5 346.7h0M457.6 349.2h0M457.6 349.4h0M457.6 352.9h0M457.7 354.8h0M457.7 359h0M457.7 359.7h0M457.8 364.1h0M457.8 364.7h0M457.8 364.6h0M457.9 367.2h0M457.9 370.7h0M457.9 371.3h0M457.9 374.8h0M458.1 371.2h0M458.3 365.5h0M458.4 368.9h0M458.6 373.2h0M458.7 374.1h0M459.2 367.7h0M459.4 372.1h0M459.4 367.2h0M459.8 371.8h0M459.9 369.1h0M460.1 366.9h0M460.3 359.5h0M460.4 375.2h0M460.6 374.3h0M460.6 367.8h0M460.8 364.1h0M461.1 370h0M461.4 377.5h0M461.9 376.5h0M462.4 377.5h0M462.6 369.4h0M462.8 374.1h0M463.5 369.2h0M464 363.6h0M464.5 375.3h0M465.1 358.1h0M465.3 376.9h0M465.6 375.1h0M465.9 374.8h0M466.2 372.1h0M466.3 376.5h0M466.3 372.1h0M466.4 362.9h0M466.7 360.5h0M466.7 376.2h0M466.9 360h0M467.1 363.6h0M467.1 357.9h0M467.2 361.7h0M467.3 355.3h0M471 369.6h0M472 367h0M472.1 373.2h0M472.3 376.6h0M472.9 360.2h0M473.2 366.6h0M473.8 371.3h0M474.3 372.9h0M474.8 376.2h0M475.3 375.1h0M475.3 370.9h0M475.8 375.2h0M475.9 368.9h0M475.9 374.1h0M475.9 372.8h0M476.1 368.4h0M476.3 373.4h0M477 367.6h0M477.7 369.8h0M477.8 363.9h0M477.8 366.7h0M478.1 366.6h0M478.1 368.5h0M478.2 369.7h0M479.1 365.8h0M479.1 367.4h0M479.2 368.1h0M479.2 374.4h0M479.2 375.6h0M479.3 368h0M479.5 375.6h0M479.5 376h0M479.9 360.9h0M480 373.1h0M482.3 367.3h0M482.5 377.3h0M482.6 368.3h0M482.6 377.3h0M482.7 371h0M483 368.8h0M483.3 367.8h0M483.3 372.9h0M483.9 367.7h0M484 352.4h0M484.3 370h0M484.6 367.1h0M484.6 361.7h0M485 376.2h0M485.1 375.5h0M485.3 374.3h0M485.8 373.7h0M485.8 370.9h0M486.2 362.7h0M486.3 367.2h0M486.4 365.3h0M486.5 375.3h0M486.5 376.8h0M486.7 373.1h0M486.7 374.5h0M486.9 371.5h0M487.1 365.9h0M487.2 373.4h0M487.3 372.4h0M487.8 372.3h0M488 372.8h0M488.5 372h0M488.5 374.1h0M488.6 372.2h0M488.8 372.2h0M488.9 371.8h0M489.3 371.5h0M489.4 371.4h0M489.5 377.4h0M489.6 377.2h0M490 377.3h0M490.2 374.2h0M490.4 376.2h0M490.5 376h0M490.7 374.2h0M490.7 374.5h0M491.2 372.1h0M491.6 369h0M491.7 371.7h0M491.7 368.5h0M491.8 365.2h0M492.1 373.8h0M492.2 371.4h0M492.4 374.3h0M492.5 362.4h0M492.6 372.6h0M492.8 372.3h0M493 371.8h0M493.4 371.9h0M493.6 364.1h0M493.6 367.3h0M493.7 372.8h0M493.8 375.6h0M494 373.7h0M494.2 371.5h0M494.7 375.6h0M494.8 364.1h0M495 367.6h0M495.1 374.6h0M495.2 368.8h0M495.2 375.7h0M495.6 377.4h0M495.8 361.4h0M496.4 377h0M496.6 371.2h0M496.7 376h0M496.8 372.6h0M496.8 374.5h0M497.1 365.6h0M497.3 373.3h0M497.7 370.9h0M498 373.5h0M498.2 363.3h0M498.8 370.8h0M499.4 375.1h0M499.5 373.5h0M499.9 374.3h0M500.1 373.4h0M500.3 376.6h0M500.5 373h0M500.7 363.8h0M500.7 373.1h0M501.2 365.7h0M501.3 376.9h0M501.4 370.4h0M501.8 370.6h0M501.9 377.3h0M502 368.1h0M502.2 372.9h0M502.4 355.2h0M502.5 359.1h0M502.5 373.6h0M502.7 374.8h0M503.2 372.9h0M503.2 364.8h0M503.7 375.2h0M503.8 376.1h0M503.8 375.8h0M505.2 376.5h0M505.4 348.2h0M505.7 369.3h0M505.9 372.2h0M506 375.6h0M506 370.7h0M506.5 367.8h0M506.6 374.1h0M506.8 370.5h0M507.5 372.3h0M508.1 363.8h0M508.4 369.3h0M508.7 376.7h0M508.8 369.1h0M508.9 365.9h0M509.2 363.4h0M509.3 375.1h0M509.4 374.6h0M509.5 376.9h0M509.5 365.5h0M509.6 376.5h0M510 364.9h0M510.1 377.5h0M510.2 366.5h0M510.6 366.7h0M510.9 371.8h0M511 368.5h0M511.3 371.2h0M511.4 373.4h0M511.4 359.8h0M511.6 373.1h0M512 375.5h0M512 374.2h0M512 372.5h0M512.1 371.9h0M512.1 367h0M512.1 367h0M512.2 361.7h0M512.2 361.3h0M512.2 358.8h0M512.3 355.2h0M512.3 353.9h0M512.3 352.3h0M512.3 355.1h0M512.4 351.4h0M512.4 354.1h0M512.4 354.5h0M512.5 349.6h0M512.5 350.4h0M512.5 351.7h0M512.6 348.1h0M512.6 350.7h0M512.6 349.3h0M512.6 346.9h0M512.7 345.6h0M512.7 348.5h0M512.7 349.2h0M512.8 348.8h0M512.8 351.3h0M512.8 353.6h0M512.9 351.9h0M512.9 353.2h0M512.9 353h0M513 356.9h0M513 356.9h0M513 357.4h0M513 360h0M513.1 359.5h0M513.1 363.6h0M513.1 364.7h0M513.2 367.4h0M513.2 367.9h0M513.2 374.4h0M513.3 373.1h0M513.3 377h0M513.3 376.2h0M513.6 376.9h0M514.2 373.6h0M514.6 351.5h0M514.7 356.1h0M514.7 375.3h0M514.8 376.7h0M514.9 376.8h0M515.2 364.4h0M515.2 371.5h0M515.3 377.5h0M515.4 376.5h0M515.5 371.7h0M515.7 372.1h0M515.8 360.8h0M515.9 368.2h0M516.1 365.5h0M516.3 375h0M516.3 375.8h0M516.4 369.6h0M516.4 365.7h0M516.5 360.7h0M516.6 375.5h0M516.8 362.7h0M517.5 373.5h0M517.9 370.9h0M518 373.5h0M518.2 377.5h0M518.3 355.5h0M521.3 359.6h0M521.6 374.6h0M521.6 372.6h0M521.7 375.5h0M522.2 369.9h0M522.5 363.2h0M522.8 368.5h0M522.8 367.4h0M523.2 374.4h0M523.3 370.4h0M524.1 358.5h0M524.2 365.5h0M524.5 366.3h0M524.8 364.5h0M524.8 370.9h0M524.9 363.1h0M525.1 358.8h0M525.3 359.5h0M525.6 370.3h0M526 371.5h0M526.1 375.6h0M526.3 374.7h0M526.6 376.4h0M527 372.6h0M528 367.5h0M528.3 372.9h0M528.5 374.8h0M528.5 376.6h0M528.7 370.4h0M528.9 363.5h0M528.9 363.7h0M529.1 364.7h0M529.2 376.2h0M529.4 373.7h0M529.7 373.2h0M529.8 371.6h0M530 366.1h0M530.6 367.8h0M531 370h0M531.1 371.6h0M531.2 373.7h0M531.4 377.3h0M531.5 366.4h0M531.6 366.5h0M531.7 374.4h0M532.5 373.2h0M532.6 368.2h0M532.7 376.7h0M533 366.8h0M533.1 373.9h0M533.3 369.3h0M533.6 369.5h0M533.6 368.6h0M533.7 376h0M534.6 375.9h0M535.2 368.6h0M535.3 373.3h0M535.6 377.4h0M535.7 366h0M536.1 368.2h0M536.2 375h0M536.2 369h0M536.5 369.9h0M536.5 366.7h0M536.5 372.6h0M536.8 370h0M536.9 377h0M537.3 376.2h0M537.9 377.2h0M538.2 367.9h0M538.5 364.4h0M538.6 377.1h0M538.9 366h0M539.2 365.9h0M539.7 376.2h0M539.9 372.9h0M540.1 366.2h0M540.5 372.8h0M541.6 369.4h0M542 374.1h0M542.5 375.8h0M542.7 375.8h0M543.1 376.4h0M543.3 371.5h0M543.3 350.3h0M543.3 373.3h0M543.5 365.1h0M543.6 375.5h0M543.6 363.6h0M543.7 368.4h0M544 377.5h0M544.6 372.3h0M544.7 352.8h0M544.9 367.5h0M545 373.9h0M545.1 367.3h0M545.2 363.7h0M545.4 360.7h0M545.8 364.8h0M545.8 372.4h0M546.1 371.4h0M546.7 371.1h0M546.8 363.1h0M547.4 372.3h0M547.6 377.4h0M547.7 365.3h0M548 373.9h0M548.3 375h0M548.4 369h0M548.6 371.2h0M548.9 367.8h0M549.8 375.8h0M550 371.6h0M550.4 369.6h0M550.5 376.8h0M550.7 371.4h0M550.7 359.4h0M550.8 369.8h0M550.8 363.3h0M551 360.5h0M551.7 373.2h0M551.7 376h0M551.7 364.4h0M552.4 364.6h0M552.7 373.8h0M552.8 377.4h0M552.8 364h0M552.9 370.1h0M552.9 373.9h0M553 376.7h0M553.4 376.4h0M553.8 370.5h0M554.1 362.2h0M554.2 373.1h0M554.7 372h0M555 373.6h0M555.3 375h0M555.4 372.6h0M555.4 358h0M555.5 371.5h0M555.6 377.5h0M555.6 366.4h0M555.6 376.1h0M555.9 369.4h0M556 369.6h0M556.1 375.6h0M556.2 377.1h0M556.4 372.7h0M556.5 376.8h0M556.5 373.9h0M560 367.2h0M561.5 368.1h0M561.6 370.9h0M562.1 374h0M562.7 367.9h0M562.9 364.4h0M562.9 374.7h0M562.9 372.2h0M563.1 372h0M563.8 376.8h0M564 355h0M564.3 372.9h0M564.5 376.4h0M564.6 374.6h0M564.7 364.7h0M565.2 368.5h0M565.7 376.3h0M565.8 376.2h0M566.1 371.3h0M566.3 363.7h0M566.5 361.4h0M566.7 374h0M566.9 368.5h0M567 377.3h0M567.1 362.7h0M567.3 362.5h0M567.4 374.3h0M567.8 365h0M568 372.6h0M568.3 367.6h0M568.3 369.8h0M568.5 372.4h0M568.6 376.7h0M568.7 373.4h0M568.9 370.2h0M569 373.6h0M569 370.6h0M569.1 376.9h0M569.2 376.4h0M569.3 375.7h0M570 359.2h0M570 364.4h0M570.6 367.8h0M571.2 369.5h0M571.4 366.1h0M571.7 377.1h0M571.8 375.7h0M572.8 376.2h0M572.9 372.6h0M573.5 371h0M573.6 370.3h0M573.7 373.3h0M574.6 357.3h0M574.8 362.2h0M574.9 370.6h0M575 366.3h0M575.1 369.9h0M575.4 359.1h0M576.2 376.3h0M576.3 370.9h0M576.4 369.6h0M576.9 366.2h0M577 370h0M577.1 371h0M577.5 375h0M577.7 372.8h0M577.8 372.9h0M577.9 364.6h0M577.9 376.2h0M578.2 372.7h0M578.2 367.7h0M578.4 374.4h0M578.5 375.3h0M579.3 374h0M579.4 375.6h0M579.5 372.8h0M580.3 372.2h0M580.4 375.5h0M580.6 360.8h0M580.7 376.7h0M580.7 371h0M580.9 365.7h0M581 375.5h0M581.3 365.5h0M581.5 365.2h0M581.7 371.1h0M581.9 376.3h0M582.1 376.1h0M582.1 369.2h0M582.3 360.7h0M582.7 371.2h0M582.8 371.6h0M582.8 365.1h0M582.8 367.6h0M582.9 373.8h0M583.2 362.2h0M583.2 369.5h0M583.4 377h0M583.5 369.6h0M583.6 376.4h0M584 375.3h0M584.7 365.5h0M584.7 372.7h0M584.8 365.6h0M585 377.4h0M585.7 377.2h0M586.3 351h0M586.4 375h0M586.6 374.8h0M587.2 375.9h0M587.3 368.5h0M587.9 374.8h0M588 375.6h0M588.1 375.5h0M588.2 375h0M588.3 375.4h0M588.4 366.5h0M588.7 364.9h0M589.2 376.8h0M589.5 374.9h0M589.8 372.2h0M590.4 366.5h0M591 362.6h0M591.3 376.1h0M591.8 377h0M592.1 374.2h0M592.2 353.1h0M592.3 374.6h0M592.5 370.1h0M593.9 377.4h0M594 360.4h0M594.2 364.6h0M594.4 371.1h0M594.5 376.5h0M594.7 358h0M594.8 370.1h0M595.4 377.3h0M595.6 364.4h0M595.7 354.1h0M595.8 375.4h0M595.9 373.4h0M596 364.9h0M596.1 368.9h0M596.9 356.8h0M596.9 374.7h0M597.1 346h0M597.4 370h0M597.4 374.6h0M597.5 371.1h0M597.7 360.8h0M597.9 368.8h0M598.6 364h0M599.2 367.5h0M599.3 376.8h0M599.4 377.4h0M599.7 369.9h0M599.7 367.1h0M599.9 373.6h0M599.9 371.9h0M600.2 368.2h0M600.3 363.8h0M600.9 370.1h0M601.4 375h0M601.5 371.8h0M601.6 370.8h0M601.7 374.9h0M602.1 371.3h0M602.5 371.4h0M602.7 376.1h0M603 368.3h0M603.7 376.2h0M603.7 377.4h0M603.7 375.2h0M603.9 373.7h0M604.2 367.8h0M604.3 371.9h0M604.4 366.6h0M604.4 347.6h0M604.5 373.7h0M604.6 368.7h0M605.4 377h0M606.1 375.4h0M606.1 365.4h0M606.1 375.7h0M606.6 354.5h0M606.8 376.7h0M607 368h0M607.1 367.2h0M607.2 368.9h0M607.5 364.8h0M607.6 375.8h0M608.4 377.1h0M609.1 373.3h0M609.6 370.3h0M609.9 360.3h0M610.3 376.9h0M611.1 367.5h0M611.2 372.3h0M611.4 372.8h0M611.7 372h0M612 376.5h0M612.1 372.9h0M612.2 375.6h0M612.6 372.1h0M613 376.8h0M613 371.3h0M613.6 376.7h0M613.7 370.7h0M613.8 376h0M614.2 377.2h0M614.3 376.2h0M614.3 374.6h0M614.4 373.2h0M614.4 370.2h0M614.4 370h0M614.5 368h0M614.5 364.1h0M614.5 363.4h0M614.5 361.7h0M614.6 359.2h0M614.6 356.9h0M614.6 358.2h0M614.7 356.4h0M614.7 353.4h0M614.7 356.3h0M614.8 353.7h0M614.8 352.4h0M614.8 350.9h0M614.9 353.5h0M614.9 352.3h0M614.9 350.4h0M614.9 346.6h0M615 347.4h0M615 348.3h0M615 348.7h0M615.1 348.4h0M615.1 347.3h0M615.1 350.8h0M615.2 350h0M615.2 348.7h0M615.2 351.2h0M615.2 351.7h0M615.3 350.4h0M615.3 349h0M615.3 352.3h0M615.4 355.5h0M615.4 355.1h0M615.4 353h0M615.5 356.4h0M615.5 357h0M615.5 356.2h0M615.6 358.8h0M615.6 360.6h0M615.6 363.9h0M615.6 365h0M615.7 366.8h0M615.7 368.3h0M615.7 370.6h0M615.8 371.9h0M615.8 372.6h0M615.8 374.6h0M615.9 377.5h0M615.9 368.9h0M616 369.2h0M616.2 372.3h0M616.3 367.5h0M616.4 373.2h0M617.3 369.6h0M617.4 363h0M617.7 364.6h0M617.8 370.4h0M617.9 376.5h0M618 365.1h0M618.2 369.9h0M618.4 372.9h0M618.4 374.3h0M618.7 372.6h0M619 366.7h0M619 376.9h0M619.8 366.7h0M620.5 365.5h0M620.6 374.4h0M620.8 375.1h0M621.3 367h0M621.7 373.7h0M622 361.6h0M622.1 362.4h0M622.4 356.8h0M622.5 375.4h0M622.6 354.3h0M622.8 369.8h0M623.4 362h0M623.6 371.9h0M623.7 375.1h0M624.1 373.6h0M624.2 376.2h0M624.3 372.9h0M624.7 376.2h0M624.8 375.2h0M624.9 366.9h0M625 372.9h0M625.2 366.6h0M625.3 375h0M625.8 374.7h0M626.2 377.4h0M626.3 376.1h0M626.3 377.1h0M626.3 373.5h0M626.4 373h0M626.4 369.9h0M626.4 368.5h0M626.4 364.7h0M626.5 364.7h0M626.5 362.3h0M626.5 359h0M626.6 356.4h0M626.6 357.2h0M626.6 355.2h0M626.7 353.5h0M626.7 353.4h0M626.7 351.2h0M626.7 348.2h0M626.8 344.7h0M626.8 344.5h0M626.8 343.9h0M626.9 343.6h0M626.9 343.3h0M626.9 342.5h0M627 339.7h0M627 344.1h0M627 339.4h0M627.1 339.9h0M627.1 339.2h0M627.1 340.3h0M627.1 337.1h0M627.2 337.7h0M627.2 334.6h0M627.2 336.6h0M627.3 334.8h0M627.3 338.3h0M627.3 336.6h0M627.4 338.7h0M627.4 338.4h0M627.4 337.1h0M627.4 340.9h0M627.5 340.6h0M627.5 340.2h0M627.5 343.7h0M627.6 343.6h0M627.6 344h0M627.6 341.1h0M627.7 341.4h0M627.7 346.4h0M627.7 346h0M627.8 351.5h0M627.8 349.2h0M627.8 354.7h0M627.8 355.4h0M627.9 355.4h0M627.9 358.2h0M627.9 361.3h0M628 361.9h0M628 361.7h0M628 366h0M628.1 365.9h0M628.1 359.9h0M628.1 368.9h0M628.1 367.9h0M628.2 374.6h0M628.2 363.2h0M628.2 375.9h0M628.5 371.8h0M629.2 370.6h0M629.8 374.7h0M630.1 371.7h0M630.2 369.7h0M630.6 372.6h0M630.7 367.1h0M630.9 365h0M631.1 375.4h0M632.2 362.6h0M632.6 376.3h0M633 376.2h0M633.3 375.8h0M633.4 367.3h0M633.8 370.5h0M633.9 376h0M634 371.7h0M634.7 372.2h0M634.8 373.1h0M635 377h0M635.2 372.6h0M635.6 376.3h0M635.9 352.1h0M636.8 372.3h0M637.3 368.1h0M637.4 353.6h0M637.6 349.3h0M638.2 374.1h0M638.2 371.5h0M638.3 364h0M638.3 371.2h0M638.5 361.5h0M638.6 355.5h0M638.6 360.7h0M638.9 371.6h0M639.2 365.4h0M639.4 372.9h0M640.6 375h0M640.8 377h0M641.2 368.8h0M641.3 368.6h0M641.3 374.1h0M641.4 372.5h0M641.4 375.6h0M641.9 375.1h0M642.6 366.9h0M642.7 375h0M642.9 367.8h0M643.2 371.8h0M643.3 357.1h0M643.6 370.6h0M643.7 375.2h0M643.9 367h0M644.2 366.7h0M644.2 358.9h0M644.5 375.1h0M644.6 370.1h0M644.7 376.7h0M644.8 371.3h0M644.9 372.8h0M645.2 371h0M645.2 373.5h0M645.5 377.3h0M645.6 369.7h0M645.6 367.8h0M645.7 368h0M645.9 368.2h0M646.7 377.2h0M646.9 371.8h0M648 358.1h0M648 363.8h0M648.2 373.2h0M648.2 370.6h0M648.5 361.2h0M648.7 377.1h0M648.8 372.6h0M648.8 368.3h0M649.3 374.6h0M649.5 371.1h0M649.7 361.8h0M650.5 370.9h0M650.6 375h0M650.7 369h0M650.8 369.7h0M651 375.7h0M651.4 372.9h0M651.5 372.9h0M652.2 372.9h0M652.3 367h0M652.4 360.9h0M652.9 369h0M653 372h0M653.8 377.2h0M653.9 372.3h0M653.9 372.9h0M653.9 371.8h0M654 369.3h0M654 369.8h0M654 367.1h0M654.1 366.6h0M654.1 367.8h0M654.1 367.7h0M654.2 369.4h0M654.2 363.6h0M654.2 365h0M654.3 364.8h0M654.3 365.5h0M654.3 365.2h0M654.3 362.2h0M654.4 363.6h0M654.4 361.1h0M654.4 361.4h0M654.5 363h0M654.5 362.8h0M654.5 363.2h0M654.6 364.4h0M654.6 362.9h0M654.6 365h0M654.6 367.6h0M654.7 363.4h0M654.7 368.5h0M654.7 366.8h0M654.8 366.3h0M654.8 367.3h0M654.8 370.3h0M654.9 371.5h0M654.9 375.9h0M654.9 374.4h0M655 375.9h0M655 376.5h0M655 369.9h0M655.2 373.2h0M655.3 371.8h0M655.3 369.4h0M655.3 370.9h0M655.3 366.7h0M655.4 369.5h0M655.4 366.1h0M655.4 360.9h0M655.5 362.2h0M655.5 357.6h0M655.5 357.3h0M655.6 356.2h0M655.6 354.1h0M655.6 353.3h0M655.7 353.5h0M655.7 354h0M655.7 348.7h0M655.7 349.7h0M655.8 349.6h0M655.8 350.5h0M655.8 349.8h0M655.9 351.3h0M655.9 349.1h0M655.9 347.5h0M656 346.6h0M656 343.7h0M656 345.4h0M656 346.5h0M656.1 347h0M656.1 346.7h0M656.1 349.3h0M656.2 347.3h0M656.2 348.1h0M656.2 348.5h0M656.3 349.8h0M656.3 349.6h0M656.3 348.5h0M656.4 352.7h0M656.4 350.6h0M656.4 352.4h0M656.4 352.8h0M656.5 353.9h0M656.5 354.1h0M656.5 356.9h0M656.6 358.7h0M656.6 359.4h0M656.6 363.2h0M656.7 363.7h0M656.7 363.8h0M656.7 364.1h0M656.7 363.2h0M656.8 362.3h0M656.8 361.2h0M656.8 358.1h0M656.9 354.7h0M656.9 355.7h0M656.9 353.2h0M657 347h0M657 348.7h0M657 347.6h0M657.1 346.2h0M657.1 341.1h0M657.1 343.4h0M657.1 341.1h0M657.2 336.2h0M657.2 339.1h0M657.2 337h0M657.3 334.3h0M657.3 334.7h0M657.3 336.4h0M657.4 333.6h0M657.4 334.6h0M657.4 331.3h0M657.4 332.6h0M657.5 331.8h0M657.5 325h0M657.5 330.2h0M657.6 329.3h0M657.6 328.4h0M657.6 327.7h0M657.7 327.6h0M657.7 326.5h0M657.7 324.9h0M657.8 326.3h0M657.8 330.5h0M657.8 327.5h0M657.8 332.1h0M657.9 331.3h0M657.9 331h0M657.9 333.7h0M658 334.6h0M658 334.3h0M658 334.8h0M658.1 333.9h0M658.1 333.3h0M658.1 334.7h0M658.1 334.5h0M658.2 339.5h0M658.2 340h0M658.2 342.2h0M658.3 341.9h0M658.3 345.5h0M658.3 346.5h0M658.4 347.8h0M658.4 350.3h0M658.4 350h0M658.5 355.5h0M658.5 354.8h0M658.5 356.9h0M658.5 357.6h0M658.6 361.1h0M658.6 364.3h0M658.6 365.9h0M658.7 360.6h0M658.7 360.4h0M658.7 359.5h0M658.8 359.1h0M658.8 354.5h0M658.8 353.2h0M658.8 351.1h0M658.9 352.1h0M658.9 349.7h0M658.9 350.9h0M659 348.6h0M659 349.2h0M659 348h0M659.1 347h0M659.1 346h0M659.1 345.5h0M659.2 346.6h0M659.2 342.1h0M659.2 345.3h0M659.2 343.3h0M659.3 342.9h0M659.3 341.9h0M659.3 345h0M659.4 343.9h0M659.4 346h0M659.4 346h0M659.5 345.9h0M659.5 346.1h0M659.5 347.8h0M659.5 346.8h0M659.6 346.4h0M659.6 350.6h0M659.6 350.9h0M659.7 352.5h0M659.7 349.7h0M659.7 352h0M659.8 352.3h0M659.8 355.7h0M659.8 355.2h0M659.9 356.3h0M659.9 360.3h0M659.9 361h0M659.9 365.4h0M660 362.4h0M660 366.1h0M660 369.7h0M660.1 373.2h0M660.1 370.4h0M660.1 373.8h0M660.2 374h0M660.2 376.3h0M660.2 377.4h0M660.3 375.7h0M660.3 376.6h0M660.4 372.7h0M660.4 372.3h0M660.4 369.1h0M660.5 370.9h0M660.5 367h0M660.5 371.2h0M660.6 367.3h0M660.6 368h0M660.6 365.9h0M660.6 367.8h0M660.7 366.1h0M660.7 364.3h0M660.7 360.6h0M660.8 361.1h0M660.8 361.8h0M660.8 361.6h0M660.9 358.4h0M660.9 362.9h0M660.9 359.8h0M660.9 363.4h0M661 360.4h0M661 362.2h0M661 359.4h0M661.1 365.5h0M661.1 362.6h0M661.1 365.5h0M661.2 365.7h0M661.2 366.2h0M661.2 364.2h0M661.3 363h0M661.3 366.6h0M661.3 367.5h0M661.3 367.1h0M661.4 370.9h0M661.4 372.6h0M661.4 373.6h0M661.5 372.8h0M661.5 374.1h0M661.5 375.9h0M661.6 375.1h0M661.6 369.5h0M662 374.3h0M662.2 376.2h0M662.7 371h0M662.7 370.9h0M662.8 365.5h0M663.1 377.4h0M663.3 370.3h0M663.5 365.2h0M663.6 373h0M663.7 369.8h0M664.1 367.7h0M664.1 356.1h0M664.2 376.4h0M664.4 369.2h0M664.8 364.6h0M665.1 376h0M665.3 374.2h0M665.4 376.8h0M665.5 367.6h0M665.8 370.7h0M665.8 365.5h0M666.1 373.6h0M666.3 344.5h0M666.5 375.9h0M666.7 360.9h0M667 374.8h0M667.1 374.9h0M667.2 373.8h0M667.4 371.7h0M667.7 370h0M667.8 376.6h0M667.9 360.6h0M668.4 371.3h0M668.5 372.6h0M668.6 367.9h0M668.8 370.9h0M669.3 369.5h0M669.3 371.3h0M669.5 350.7h0M669.8 375.9h0M670.2 377.3h0M670.3 369.6h0M670.4 376.1h0M670.5 374.9h0M670.8 372.5h0M671 376.3h0M671.4 372.7h0M672.5 376.4h0M672.8 366.6h0M672.8 369.4h0M673 362.5h0M673.5 372.9h0M673.6 370.1h0M673.9 347.1h0M674.2 372.2h0M674.5 367.2h0M674.7 377.2h0M674.8 373.8h0M675.3 374.7h0M675.6 368h0M675.6 370.2h0M675.7 366.6h0M675.8 369.8h0M675.9 372.9h0M676.1 371.8h0M676.2 371.1h0M676.4 368.6h0M676.5 375.7h0M676.8 371.9h0M677.2 355.8h0M677.3 372.5h0M677.7 376.4h0M678 373.2h0M678.3 373h0M678.4 363.9h0M678.5 369.3h0M678.8 372.8h0M679.6 371.1h0M679.6 374.1h0M679.7 371.1h0M679.9 362.4h0M680 360.9h0M680 373.4h0M680.2 370.3h0M680.4 374.1h0M680.6 370.8h0M680.7 377.4h0M680.8 371.4h0M681 376h0M681.7 377h0M681.9 373.8h0M682.2 371.9h0M682.5 365.8h0M682.6 374.4h0M682.7 362.3h0M270.1 374.2h0M270.1 361.9h0M270.1 355.3h0M270.2 349.2h0M270.2 342.1h0M270.2 337.4h0M270.2 328.5h0M270.3 324.8h0M270.3 318.7h0M270.3 310.8h0M270.4 304.3h0M270.4 297.4h0M270.4 292.7h0M270.5 284.7h0M270.5 284.3h0M270.5 278.2h0M270.5 277.5h0M270.6 269.2h0M270.6 266.7h0M270.6 264.2h0M270.7 259.2h0M270.7 256.1h0M270.7 252h0M270.8 248.5h0M270.8 242.5h0M270.8 237.6h0M270.9 237.3h0M270.9 233.2h0M270.9 234.1h0M270.9 234h0M271 229.9h0M271 230.5h0M271 231.8h0M271.1 233.4h0M271.1 231.8h0M271.1 234.5h0M271.2 237.2h0M271.2 237.5h0M271.2 243h0M271.2 246.2h0M271.3 250.9h0M271.3 257h0M271.3 258.2h0M271.4 264.7h0M271.4 263.7h0M271.4 270.5h0M271.5 273.6h0M271.5 277.5h0M271.5 282.3h0M271.6 287h0M271.6 289.6h0M271.6 299h0M271.6 304.9h0M271.7 312.8h0M271.7 315.5h0M271.7 323.2h0M271.8 328.3h0M271.8 333.4h0M271.8 340.9h0M271.9 347.5h0M271.9 358.8h0M271.9 364.1h0M271.9 373.9h0M219.5 372.6h0M219.5 370.5h0M219.5 362.9h0M219.6 358.5h0M219.6 353.5h0M219.6 352h0M219.6 348.8h0M219.7 346h0M219.7 340.6h0M219.7 335.1h0M219.8 333h0M219.8 331.8h0M219.8 327h0M219.9 324.3h0M219.9 317.3h0M219.9 317.3h0M220 311.9h0M220 308.8h0M220 306.6h0M220 302.1h0M220.1 304.6h0M220.1 304.7h0M220.1 301.9h0M220.2 303.3h0M220.2 298.1h0M220.2 303h0M220.3 302.1h0M220.3 305.8h0M220.3 303.1h0M220.3 306.1h0M220.4 307.4h0M220.4 308.8h0M220.4 312.1h0M220.5 314.4h0M220.5 319.2h0M220.5 324.3h0M220.6 323.8h0M220.6 332.7h0M220.6 335.4h0M220.7 334.9h0M220.7 342.6h0M220.7 343h0M220.7 348.9h0M220.8 350.3h0M220.8 356.5h0M220.8 359.3h0M220.9 364.3h0M220.9 367.7h0M220.9 374.4h0M467.3 373.4h0M467.3 369.2h0M467.3 363.5h0M467.4 359.3h0M467.4 353.7h0M467.4 350.1h0M467.5 347.8h0M467.5 342.9h0M467.5 333.6h0M467.5 331.5h0M467.6 330.2h0M467.6 324.6h0M467.6 321.3h0M467.7 317.7h0M467.7 312h0M467.7 310.3h0M467.8 306.9h0M467.8 305.6h0M467.8 305.9h0M467.9 297.4h0M467.9 296.5h0M467.9 289h0M467.9 288.9h0M468 285.9h0M468 285.9h0M468 279.5h0M468.1 279.8h0M468.1 274.9h0M468.1 271.6h0M468.2 270.3h0M468.2 269.9h0M468.2 263.1h0M468.2 261.7h0M468.3 260h0M468.3 260.3h0M468.3 256.8h0M468.4 257.5h0M468.4 256.2h0M468.4 253h0M468.5 254.2h0M468.5 253h0M468.5 254.3h0M468.6 248.6h0M468.6 255.1h0M468.6 255.9h0M468.6 256.5h0M468.7 255.3h0M468.7 255.6h0M468.7 259.2h0M468.8 259.4h0M468.8 263h0M468.8 263.7h0M468.9 263.8h0M468.9 273.7h0M468.9 271.2h0M468.9 273.1h0M469 280.4h0M469 281.1h0M469 284.7h0M469.1 283.8h0M469.1 289.2h0M469.1 294.5h0M469.2 293.2h0M469.2 295.7h0M469.2 303.7h0M469.3 306.6h0M469.3 306.8h0M469.3 310.6h0M469.3 310.4h0M469.4 317.2h0M469.4 322.4h0M469.4 322h0M469.5 330.4h0M469.5 336.2h0M469.5 337.5h0M469.6 340.9h0M469.6 345h0M469.6 349.5h0M469.6 353.3h0M469.7 359.5h0M469.7 366.1h0M469.7 368.5h0M469.8 371.8h0M517.9 375.7h0M517.9 370.9h0M517.9 371.2h0M518 368.7h0M518 366.5h0M518 364.3h0M518.1 363.3h0M518.1 360.1h0M518.1 358.7h0M518.2 357.8h0M518.2 353.1h0M518.2 353.3h0M518.2 352.7h0M518.3 348.4h0M518.3 343.8h0M518.3 348.7h0M518.4 341.7h0M518.4 342.7h0M518.4 338.3h0M518.5 337.2h0M518.5 332.9h0M518.5 332.6h0M518.6 329.3h0M518.6 328h0M518.6 326.2h0M518.6 324.2h0M518.7 321.1h0M518.7 320.9h0M518.7 318.1h0M518.8 316.2h0M518.8 316.4h0M518.8 316.7h0M518.9 314.2h0M518.9 311.9h0M518.9 313.4h0M518.9 313h0M519 311.6h0M519 309.3h0M519 309.4h0M519.1 309.9h0M519.1 310.1h0M519.1 307.9h0M519.2 305.8h0M519.2 308.9h0M519.2 310.5h0M519.3 310.5h0M519.3 311.4h0M519.3 311.5h0M519.3 312.3h0M519.4 312.1h0M519.4 316.5h0M519.4 314.4h0M519.5 314.8h0M519.5 314.6h0M519.5 318.9h0M519.6 319.9h0M519.6 323.9h0M519.6 323.8h0M519.6 325.6h0M519.7 328h0M519.7 328.7h0M519.7 334h0M519.8 333.3h0M519.8 339.1h0M519.8 338.1h0M519.9 342.8h0M519.9 342.9h0M519.9 346.1h0M520 344.6h0M520 347.3h0M520 350.6h0M520 354.7h0M520.1 353.8h0M520.1 355.7h0M520.1 360.6h0M520.2 360h0M520.2 364.1h0M520.2 366.5h0M520.3 366.6h0M520.3 369.2h0M520.3 374.1h0M520.3 375.5h0M315.7 374.8h0M315.7 372.8h0M315.8 363.9h0M315.8 359.7h0M315.8 351.9h0M315.9 347.5h0M315.9 340.6h0M315.9 338.2h0M315.9 331.7h0M316 327.9h0M316 320h0M316 315.9h0M316.1 313.1h0M316.1 310.6h0M316.1 302.9h0M316.2 300.4h0M316.2 296.3h0M316.2 296.3h0M316.2 289.8h0M316.3 286.6h0M316.3 280.8h0M316.3 276.2h0M316.4 274.8h0M316.4 271.9h0M316.4 266h0M316.5 264.3h0M316.5 263.7h0M316.5 259.5h0M316.6 260.2h0M316.6 259.2h0M316.6 259.8h0M316.6 255.8h0M316.7 258.1h0M316.7 258.4h0M316.7 259.6h0M316.8 262.1h0M316.8 261.4h0M316.8 264.9h0M316.9 267.4h0M316.9 271.1h0M316.9 274h0M316.9 280.1h0M317 281.8h0M317 286.3h0M317 290.7h0M317.1 293h0M317.1 294.5h0M317.1 302.7h0M317.2 304.1h0M317.2 306.5h0M317.2 309.4h0M317.3 313.9h0M317.3 321.1h0M317.3 324h0M317.3 330.2h0M317.4 335.1h0M317.4 341h0M317.4 346.3h0M317.5 352.8h0M317.5 357.4h0M317.5 365h0M317.6 369.3h0M555.7 373.7h0M555.7 368h0M555.7 365.3h0M555.8 359.4h0M555.8 356.2h0M555.8 355.7h0M555.9 345.9h0M555.9 344.5h0M555.9 343.2h0M555.9 339.7h0M556 335h0M556 332.9h0M556 330.2h0M556.1 323.5h0M556.1 320.2h0M556.1 313.1h0M556.2 313.9h0M556.2 310.5h0M556.2 304.9h0M556.2 302.9h0M556.3 299.7h0M556.3 296.6h0M556.3 294h0M556.4 290.1h0M556.4 288.9h0M556.4 289.5h0M556.5 287.4h0M556.5 285.4h0M556.5 278.7h0M556.6 275.8h0M556.6 274h0M556.6 272.9h0M556.6 267.8h0M556.7 268.9h0M556.7 264.1h0M556.7 259.5h0M556.8 258.1h0M556.8 257.2h0M556.8 255.9h0M556.9 253.6h0M556.9 252.8h0M556.9 248.5h0M556.9 246.8h0M557 247.3h0M557 245.2h0M557 245.7h0M557.1 245h0M557.1 244.7h0M557.1 242.5h0M557.2 240h0M557.2 241.7h0M557.2 246.5h0M557.3 245.2h0M557.3 247.6h0M557.3 247.8h0M557.3 247.1h0M557.4 249h0M557.4 250.4h0M557.4 250.6h0M557.5 253.5h0M557.5 255h0M557.5 259.8h0M557.6 259.4h0M557.6 261.8h0M557.6 265.7h0M557.6 267.2h0M557.7 269.2h0M557.7 271.5h0M557.7 276.8h0M557.8 274.5h0M557.8 281.6h0M557.8 282.3h0M557.9 282.7h0M557.9 284.9h0M557.9 291.6h0M558 291.2h0M558 294.4h0M558 296.8h0M558 300.5h0M558.1 300.2h0M558.1 302h0M558.1 307.3h0M558.2 311.1h0M558.2 318.1h0M558.2 319.9h0M558.3 322.7h0M558.3 325.9h0M558.3 330.7h0M558.3 334.1h0M558.4 335.4h0M558.4 339.2h0M558.4 345.1h0M558.5 348.4h0M558.5 353.6h0M558.5 355.7h0M558.6 361.3h0M558.6 363.9h0M558.6 369.1h0M558.7 375.7h0" stroke="#000" stroke-width="4.0" stroke-linecap="round" fill="none"/>
<path d="M65.8 331.9h0M65.8 302.1h0M65.9 274.6h0M65.9 261.2h0M65.9 244.4h0M66 228.6h0M66 221.7h0M66 210.6h0M66.1 197.4h0M66.1 187.3h0M66.1 181.2h0M66.1 171.2h0M66.2 158.8h0M66.2 153.5h0M66.2 145.7h0M66.3 137.7h0M66.3 132h0M66.3 130.2h0M66.4 127.1h0M66.4 124.7h0M66.4 126.7h0M66.5 130.8h0M66.5 132h0M66.5 139.7h0M66.5 146.8h0M66.6 157.1h0M66.6 162.7h0M66.6 168.3h0M66.7 179.5h0M66.7 185.9h0M66.7 199.9h0M66.8 208.8h0M66.8 219.3h0M66.8 234.2h0M66.8 241.8h0M66.9 218h0M66.9 199.6h0M66.9 180.6h0M67 170.2h0M67 158.4h0M67 149.7h0M67.1 136h0M67.1 125.5h0M67.1 119.6h0M67.2 109.5h0M67.2 100.8h0M67.2 93.5h0M67.2 89.9h0M67.3 80.2h0M67.3 74.6h0M67.3 69.6h0M67.4 64.2h0M67.4 63.9h0M67.4 62h0M67.5 64.9h0M67.5 68.3h0M67.5 73.2h0M67.5 82.6h0M67.6 90.5h0M67.6 97.8h0M67.6 105.6h0M67.7 112.6h0M67.7 118.8h0M67.7 129.9h0M67.8 139.2h0M67.8 148.3h0M67.8 160.6h0M67.9 175.2h0M67.9 190h0M67.9 208.7h0M67.9 229.2h0M68 256.7h0M68 285.1h0M68 307.3h0M68.1 320.4h0M68.1 317.3h0M68.1 312.5h0M68.2 302.9h0M68.2 299.9h0M68.2 292.5h0M68.2 286h0M68.3 279.1h0M68.3 276.5h0M68.3 271.6h0M68.4 272.5h0M68.4 268.6h0M68.4 269.9h0M68.5 272.2h0M68.5 271.9h0M68.5 275h0M68.6 279.8h0M68.6 283.2h0M68.6 287.8h0M68.6 300.1h0M68.7 304h0M68.7 308.8h0M68.7 315h0M68.8 320.8h0M68.8 327.1h0M68.8 328.3h0M68.9 340.5h0M68.9 336.9h0M68.9 357h0M68.9 357.3h0M69 349.8h0M69 340.8h0M69 330.4h0M69.1 327.1h0M69.1 319.2h0M69.1 314.8h0M69.2 308.1h0M69.2 302.4h0M69.2 297.1h0M69.3 292.9h0M69.3 284h0M69.3 281.5h0M69.3 278.1h0M69.4 277.3h0M69.4 274.2h0M69.4 273.8h0M69.5 273.6h0M69.5 276h0M69.5 278.6h0M69.6 281h0M69.6 282.9h0M69.6 291h0M69.6 296.3h0M69.7 304.7h0M69.7 308h0M69.7 315.9h0M69.8 317.4h0M69.8 324.3h0M69.8 332h0M69.9 340.6h0M69.9 349.4h0M69.9 355.4h0M70 365.2h0M70 372.2h0M70 371.9h0M66.3 363.1h0M66.5 348.2h0M66.3 308.6h0M66.5 353.6h0M66.3 319.7h0M66.6 348.1h0M66.4 359.9h0M66.5 351.7h0M66.4 320.4h0M66.3 331.8h0M66.4 328.7h0M66.2 334.9h0M66.2 346.5h0M66.4 332.7h0M66.4 304.6h0M66.5 351.2h0M66.2 316.9h0M66.4 348h0M66.4 351.7h0M66.4 343.3h0M66.5 358.2h0M66.4 303.8h0M66.4 340.6h0M66.4 352.8h0M66.4 364.2h0M66.3 360.3h0M66.4 350.3h0M66.5 337.2h0M66.3 325.3h0M66.6 300.9h0M66.5 306.7h0M66.6 348.5h0M66.3 324.7h0M66.4 304.7h0M66.3 357.6h0M66.2 309.1h0M67.4 333.2h0M67.5 348.1h0M67.3 306.6h0M67.5 302.9h0M67.4 359.6h0M67.2 330.3h0M67.5 352.3h0M67.5 338.1h0M67.4 316.3h0M67.4 318.1h0M67.6 351.9h0M67.3 342.7h0M67.6 336.7h0M67.4 339.2h0M67.3 320.2h0M67.3 313.3h0M67.2 342.5h0M67.3 335.7h0M67.3 359.8h0M67.2 340.5h0M67.4 303.1h0M67.4 331.8h0M67.2 328.2h0M67.3 325.1h0M67.6 327.6h0M67.2 312.3h0M67.3 347.4h0M67.6 343.7h0M67.2 306.9h0M67.4 331.9h0M67.5 302.2h0M67.2 355.2h0M67.2 313.6h0M67.6 333.6h0M67.5 333.6h0M67.3 307.3h0M68.2 327.2h0M68.4 346h0M68.3 316.8h0M68.3 300.1h0M68.6 325.7h0M68.4 358.8h0M68.6 312h0M68.1 321.1h0M68.7 332.6h0M68.7 321.9h0M68.5 347.3h0M68.2 344.6h0M68.5 330.9h0M68.2 359.8h0M68.3 326.2h0M68.1 352.4h0M68.2 347.8h0M68.2 306.1h0M68.2 326.2h0M68.6 348.4h0M68.3 319.1h0M68.6 299.9h0M68.1 306.2h0M68.2 312.6h0M68.2 342.7h0M68.7 326.5h0M68.6 326.4h0M68.1 358.5h0M68.7 319.5h0M68.3 330.5h0M68.3 330.5h0M68.5 316.6h0M68.2 359.2h0M68.7 350.4h0M68.3 300.4h0M68.5 344.8h0M69.3 322.2h0M69.2 326.6h0M69.3 303.1h0M69.5 351.9h0M69.2 356.1h0M69.3 341.4h0M69.3 343.2h0M69.2 334.9h0M69.6 353.1h0M69.7 318.6h0M69.7 311.1h0M69.4 363.8h0M69.2 305.4h0M69.3 358.3h0M69.4 344.4h0M69.4 332.8h0M69.6 336.8h0M69.6 350.3h0M69.7 317.1h0M69.4 310h0M69.3 349.5h0M69.7 353.5h0M69.7 330.7h0M69.2 354.6h0M69.3 303.5h0M69.5 309.2h0M69.6 310.3h0M69.7 337.6h0M69.2 313.4h0M69.3 338.9h0M69.4 334.6h0M69.5 357.3h0M69.6 361.8h0M69.5 320.9h0M69.4 351.7h0M69.3 302.5h0" stroke="#56B4E9" stroke-width="4.0" stroke-linecap="round" fill="none"/>
<path d="M62.9 369h0M62.9 353.5h0M62.9 355.1h0M63 358.2h0M63 346.1h0M63 333.3h0M63 321.7h0M63.1 316.1h0M63.1 307.6h0M63.1 300.9h0M63.2 293.6h0M63.2 281.4h0M63.2 276.3h0M63.3 266.1h0M63.3 264.8h0M63.3 264.3h0M63.3 258.9h0M63.4 264.3h0M63.4 266.7h0M63.4 268.7h0M63.5 275.6h0M63.5 282.4h0M63.5 293.6h0M63.6 298.4h0M63.6 307.6h0M63.6 316.8h0M63.7 323.9h0M63.7 336.3h0M63.7 345.8h0M63.7 358.5h0M63.8 370.2h0M63.8 365.8h0M63.9 369.5h0M76.9 355.5h0M76.9 330.4h0M76.9 304.5h0M77 279.4h0M77 250.4h0M77 240.3h0M77.1 223h0M77.1 213.3h0M77.1 200.4h0M77.2 191.2h0M77.2 177.8h0M77.2 166.7h0M77.3 161.1h0M77.3 156.8h0M77.3 144h0M77.3 138.3h0M77.4 127.7h0M77.4 123.6h0M77.4 116.9h0M77.5 111h0M77.5 109.2h0M77.5 107.4h0M77.6 106h0M77.6 107.8h0M77.6 111.1h0M77.6 113.9h0M77.7 122.7h0M77.7 129.5h0M77.7 135.6h0M77.8 144h0M77.8 150h0M77.8 157.6h0M77.9 166.1h0M77.9 176.3h0M77.9 186.3h0M78 199.6h0M78 209h0M78 220.1h0M78 232.4h0M78.1 248h0M78.1 269.9h0M78.1 296.7h0M78.2 323.5h0M78.2 337.5h0M78.2 332h0M78.3 325.5h0M78.3 320.1h0M78.3 312.7h0M78.3 306.9h0M78.4 301.4h0M78.4 296.5h0M78.4 292.2h0M78.5 291.3h0M78.5 288.4h0M78.5 287.3h0M78.6 283.7h0M78.6 286.6h0M78.6 288.5h0M78.7 292.1h0M78.7 293.7h0M78.7 298.6h0M78.7 301.2h0M78.8 310.7h0M78.8 311.9h0M78.8 320.4h0M78.9 322.1h0M78.9 330h0M78.9 333.5h0M79 342.6h0M79 349.9h0M79 355.3h0M79 365.2h0M79.1 374.5h0M79.1 376.6h0M63.5 312.1h0M63.5 343.7h0M63.4 354.5h0M63.3 319.1h0M63.2 335.2h0M63.3 312.6h0M63.3 349h0M63.1 343.5h0M63.2 312.6h0M63.6 331.4h0M63.4 331.5h0M63.2 348.9h0M63.3 363.2h0M63.6 303.9h0M63.5 358.6h0M63.5 309.6h0M63.3 340.4h0M63.3 302.8h0M63.4 338.4h0M63.2 303.7h0M63.4 328.3h0M63.2 348.7h0M63.5 316.3h0M63.2 320.7h0M63.4 320h0M63.5 334.2h0M63.2 349.8h0M63.5 322.8h0M63.5 357.3h0M63.1 319.5h0M63.4 323.2h0M63.1 339.9h0M63.4 312.6h0M63.3 351.6h0M63.2 339h0M63.3 312.7h0M77.8 320.2h0M77.6 326.9h0M77.7 348.5h0M77.6 318.3h0M77.3 318.4h0M77.6 336.9h0M77.6 334.5h0M77.4 353h0M77.5 310.3h0M77.8 341.2h0M77.3 345.3h0M77.3 304.2h0M77.4 344.5h0M77.6 351.4h0M77.7 339.5h0M77.4 330.9h0M77.7 324.5h0M77.4 338.5h0M77.6 320h0M77.7 362.7h0M77.4 304.4h0M77.5 334.4h0M77.7 335.2h0M77.5 335.3h0M77.7 346.4h0M77.5 311.6h0M77.8 334.9h0M77.5 358h0M77.7 341.6h0M77.4 332.9h0M77.5 341h0M77.4 357.6h0M77.5 306.8h0M77.5 354.4h0M77.4 317.1h0M77.5 336.8h0M78.6 310.6h0M78.7 328.9h0M78.3 304.2h0M78.6 311.2h0M78.5 357.7h0M78.5 348.9h0M78.3 309.4h0M78.3 362.1h0M78.6 355.8h0M78.5 304.8h0M78.5 311.9h0M78.3 347.7h0M78.5 342.3h0M78.7 361.7h0M78.8 356h0M78.7 363.4h0M78.3 326.3h0M78.5 324.8h0M78.6 354.9h0M78.8 310.4h0M78.6 332.7h0M78.7 325.5h0M78.7 321.4h0M78.3 350.9h0M78.9 312.3h0M78.6 337.7h0M78.6 332h0M78.4 356h0M78.8 347.7h0M78.9 334.8h0M78.5 317.4h0M78.6 334.6h0M78.3 328h0M78.7 315.3h0M78.6 338.2h0M78.4 363.1h0" stroke="#0173B2" stroke-width="4.0" stroke-linecap="round" fill="none"/>
<path d="M64.8 374.4h0M64.9 362.4h0M64.9 365.6h0M65 354.5h0M65 342.3h0M65 331.4h0M65.1 320.4h0M65.1 308.1h0M65.1 302h0M65.1 293.9h0M65.2 287.1h0M65.2 278.6h0M65.2 270.6h0M65.3 262h0M65.3 258.6h0M65.3 255h0M65.4 253.5h0M65.4 252.2h0M65.4 252.3h0M65.4 260h0M65.5 262h0M65.5 268.2h0M65.5 276.3h0M65.6 285.7h0M65.6 290.8h0M65.6 297h0M65.7 308.6h0M65.7 316.7h0M65.7 326.6h0M65.8 336.3h0M65.8 351.8h0M81.1 309h0M81.1 293h0M81.1 277.7h0M81.1 268.4h0M81.2 256.3h0M81.2 242.7h0M81.2 235.3h0M81.3 220.6h0M81.3 216.3h0M81.3 208.1h0M81.4 201.9h0M81.4 194.2h0M81.4 185.3h0M81.5 180.4h0M81.5 172.2h0M81.5 165.8h0M81.5 163.1h0M81.6 162.2h0M81.6 161h0M81.6 162.3h0M81.7 164.6h0M81.7 166.2h0M81.7 171.4h0M81.8 177.8h0M81.8 186.4h0M81.8 194.5h0M81.8 198.4h0M81.9 209.7h0M81.9 211.6h0M81.9 224.1h0M82 234.2h0M82 243.9h0M82 256.8h0M82.1 266.2h0M82.1 276h0M82.1 292.4h0M82.2 307.4h0M82.2 333.5h0M82.2 359.9h0M65.3 308.4h0M65.5 346.2h0M65.4 335.3h0M65.6 360.5h0M65.6 364h0M65.5 351.6h0M65.5 342.1h0M65.2 304.3h0M65.5 306.8h0M65.5 333.2h0M65.3 334.8h0M65.4 321.1h0M65.4 308.8h0M65.6 342.4h0M65.3 313h0M65.3 338.4h0M65.2 325.8h0M65.3 316.6h0M65.4 331.8h0M65.6 319.6h0M65.6 319.2h0M65.3 363.8h0M65.6 361.6h0M65.2 354.5h0M65.5 350.4h0M65.2 351.1h0M65.3 361h0M65.2 350.2h0M65.5 325.4h0M65.5 307h0M65.2 341.6h0M65.4 340.5h0M65.3 337.3h0M65.4 320.3h0M65.4 313.5h0M65.2 303.4h0M81.8 335h0M81.6 344.4h0M81.4 302.6h0M81.4 345h0M81.4 333.1h0M81.7 333.4h0M81.8 361.3h0M81.4 357.3h0M81.8 363.6h0M81.4 312.9h0M81.8 339.7h0M81.7 320.2h0M81.6 335.4h0M81.6 332.2h0M81.5 308.4h0M81.8 338.7h0M81.5 357.6h0M81.5 321h0M81.7 362.3h0M81.6 330.9h0M81.6 340.4h0M81.6 336.6h0M81.4 317.2h0M81.4 310h0M81.8 302.1h0M81.7 313.9h0M81.7 311.3h0M81.6 303.7h0M81.5 339.3h0M81.4 342h0M81.6 362.4h0M81.4 334.9h0M81.4 360.5h0M81.5 350.4h0M81.6 337.5h0M81.8 337.6h0" stroke="#D55E00" stroke-width="4.0" stroke-linecap="round" fill="none"/>
<path d="M60.9 370h0M60.9 375.6h0M61 370h0M61 362.7h0M61.1 366.2h0M61.1 373.5h0M61.2 370.8h0M61.2 367h0M61.2 364.3h0M61.2 363.1h0M61.3 360.6h0M61.3 358.1h0M61.3 358.8h0M61.4 360.1h0M61.4 360.5h0M61.4 357.1h0M61.5 370.5h0M61.5 368.5h0M61.5 375h0M61.6 375.2h0M61.6 371h0M61.6 367.6h0M61.7 377h0M61.7 372.5h0M61.8 373.7h0M61.9 372.6h0M62 372.3h0M62 370.3h0M62.2 373.1h0M62.2 370.1h0M62.2 360.2h0M62.3 358.2h0M62.3 356h0M62.3 353.8h0M62.3 357.3h0M62.4 357.3h0M62.4 357.2h0M62.4 360.3h0M62.5 366.5h0M62.5 356.7h0M62.5 374.1h0M62.6 368.3h0M62.6 371.7h0M62.7 348.4h0M62.8 370.9h0M71.4 372.6h0M71.4 376.7h0M71.5 370.4h0M71.5 360.9h0M71.5 354.2h0M71.6 352.2h0M71.6 348.6h0M71.6 339.4h0M71.7 335.8h0M71.7 333.8h0M71.7 336.2h0M71.7 331.8h0M71.8 331.3h0M71.8 330.6h0M71.8 331.7h0M71.9 335.3h0M71.9 338.6h0M71.9 343h0M72 351h0M72 355.9h0M72 360h0M72.1 366.4h0M72.1 368h0M72.1 345.2h0M72.2 366.8h0M72.4 350.9h0M72.4 365.3h0M72.4 369.4h0M72.5 373.2h0M72.5 374.6h0M72.6 373.5h0M72.6 367.6h0M72.6 362.5h0M72.7 356.7h0M72.7 353.5h0M72.7 351.9h0M72.8 349.9h0M72.8 347.7h0M72.8 348.6h0M72.8 349.3h0M72.9 353h0M72.9 358.1h0M72.9 362.4h0M73 359.9h0M73 374.3h0M73 377h0M73.1 362.5h0M73.1 359.8h0M73.1 364.2h0M73.3 376.9h0M86.3 373h0M86.4 368.4h0M86.5 374.1h0M86.5 371h0M86.5 363.4h0M86.6 359.4h0M86.6 357.7h0M86.6 352.3h0M86.7 354.3h0M86.7 354.4h0M86.7 353.2h0M86.7 353.6h0M86.8 359.7h0M86.8 361.2h0M86.8 369.1h0M86.9 368h0M87 359.1h0M87 370.5h0M87 361.4h0M87.1 364.3h0M87.1 365.3h0M87.1 370.5h0M87.1 371.1h0M87.3 359.5h0M87.3 367.3h0M87.4 364.7h0M87.4 376.6h0M87.4 372.1h0M87.5 363.7h0M87.5 358.4h0M87.5 350.1h0M87.6 345.9h0M87.6 344.1h0M87.6 340h0M87.7 338.9h0M87.7 336.9h0M87.7 337.8h0M87.8 339.5h0M87.8 341.6h0M87.8 341.4h0M87.8 348.4h0M87.9 355.9h0M87.9 365.2h0M87.9 371.1h0M88 375h0M88 368.6h0M88.2 367.6h0M88.3 365.6h0M88.3 357.9h0M88.3 351.5h0M88.4 348h0M88.4 341.2h0M88.4 336h0M88.5 331.1h0M88.5 326.2h0M88.5 319.8h0M88.5 316.2h0M88.6 308.1h0M88.6 308.6h0M88.6 307.2h0M88.7 303.7h0M88.7 302h0M88.7 304.4h0M88.8 305.8h0M88.8 304.2h0M88.8 308.3h0M88.8 311.5h0M88.9 317.1h0M88.9 326h0M88.9 327.9h0M89 333.9h0M89 336.5h0M89 343.3h0M89.1 348.4h0M89.1 355.6h0M89.1 358.6h0M89.2 365.8h0M89.2 359.2h0M89.2 351.1h0M89.2 344.9h0M89.3 337.2h0M89.3 329.9h0M89.3 324.7h0M89.4 321.3h0M89.4 318.2h0M89.4 311.4h0M89.5 306.2h0M89.5 299.9h0M89.5 297h0M89.5 289.2h0M89.6 281.7h0M89.6 280.6h0M89.6 283.3h0M89.7 276.3h0M89.7 277h0M89.7 275.6h0M89.8 276.4h0M89.8 281.8h0M89.8 279.9h0M89.8 281.4h0M89.9 286.3h0M89.9 292.4h0M89.9 297.6h0M90 302.4h0M90 309h0M90 314.3h0M90.1 319.7h0M90.1 326.4h0M90.1 331.1h0M90.2 334.5h0M90.2 342.5h0M90.2 351.9h0M90.2 360.7h0M90.3 363h0M90.3 359.9h0M90.3 352.8h0M90.4 347.3h0M90.4 343h0M90.4 335.6h0M90.5 331.1h0M90.5 326.5h0M90.5 318.7h0M90.5 317.3h0M90.6 309.4h0M90.6 309.6h0M90.6 305.9h0M90.7 303.4h0M90.7 301.4h0M90.7 301h0M90.8 302.8h0M90.8 301.9h0M90.8 301.7h0M90.9 307.3h0M90.9 312.5h0M90.9 312.5h0M90.9 319.7h0M91 326.4h0M91 332.8h0M91 335.5h0M91.1 343.4h0M91.1 348h0M91.1 352.5h0M91.2 358.1h0M91.2 365.8h0M91.2 373.3h0M91.4 372.7h0M91.4 369.6h0M91.4 364.4h0M91.5 356.2h0M91.5 352h0M91.5 331.8h0M91.6 339.9h0M91.6 337.3h0M91.6 331.4h0M91.6 329.7h0M91.7 329.3h0M91.7 326.9h0M91.7 324.9h0M91.8 324.2h0M91.8 330.5h0M91.8 330.8h0M91.9 331h0M91.9 334.4h0M91.9 338h0M91.9 346.2h0M92 350h0M92 353.7h0M92 358.4h0M92.1 366.3h0M92.1 351.6h0M92.1 364.5h0M92.2 357.1h0M92.2 349.5h0M92.3 368.3h0M92.3 360.9h0M92.3 350.4h0M92.3 345.9h0M92.4 343h0M92.4 334.2h0M92.4 329.2h0M92.5 322.4h0M92.5 318.9h0M92.5 312.6h0M92.6 307h0M92.6 304h0M92.6 298.8h0M92.6 297h0M92.7 291.1h0M92.7 292.8h0M92.7 287.1h0M92.8 287.6h0M92.8 289.6h0M92.8 294.8h0M92.9 295.9h0M92.9 298.1h0M92.9 300.7h0M93 305.1h0M93 312.8h0M93 317.5h0M93 322.5h0M93.1 330.3h0M93.1 333.2h0M93.1 337.6h0M93.2 344h0M93.2 350.1h0M93.2 356.2h0M93.3 361.8h0M93.3 354h0M93.3 340.7h0M93.3 327.6h0M93.4 320.2h0M93.4 309.9h0M93.4 301.5h0M93.5 293.2h0M93.5 286.5h0M93.5 279.4h0M93.6 273.4h0M93.6 266.1h0M93.6 259.8h0M93.7 253.4h0M93.7 246.8h0M93.7 245.1h0M93.7 242.4h0M93.8 241.9h0M93.8 243.5h0M93.8 245h0M93.9 247.3h0M93.9 253.4h0M93.9 258.7h0M94 266.1h0M94 272.5h0M94 280h0M94 287.6h0M94.1 293.8h0M94.1 300.8h0M94.1 307.3h0M94.2 321.9h0M94.2 332.1h0M94.2 338.8h0M94.3 352.8h0M94.3 361.6h0M94.3 377h0M94.4 348.9h0M94.4 366.5h0M94.4 354.8h0M94.4 356.2h0M94.5 353.4h0M94.5 347.8h0M94.5 338.2h0M94.6 337.7h0M94.6 330.6h0M94.6 326h0M94.7 321.3h0M94.7 322h0M94.7 317.7h0M94.7 317.6h0M94.8 315.1h0M94.8 313.5h0M94.8 316.5h0M94.9 315.8h0M94.9 319.9h0M94.9 324.5h0M95 324.5h0M95 331.3h0M95 337.7h0M95.1 339.8h0M95.1 348h0M95.1 351.3h0M95.1 359.4h0M95.2 361.6h0M95.2 361.6h0M95.2 358.7h0M95.4 353.4h0M95.4 354.4h0M95.6 377.5h0M95.6 339h0M95.7 361.6h0M95.7 360.9h0M95.7 355.2h0M95.8 357h0M95.8 354h0M95.8 352.6h0M95.8 355.9h0M95.9 358.6h0M95.9 359h0M95.9 363.5h0M96 367h0M96 366.1h0M96 365.2h0M96.1 368.1h0M96.1 375.1h0M96.2 374.4h0M96.3 367.2h0M71.8 359.5h0M71.8 341.1h0M72 343h0M71.6 347.7h0M71.5 349.3h0M71.6 350h0M71.7 361.4h0M71.6 348.6h0M71.6 337.1h0M71.9 344.2h0M71.7 351.4h0M71.7 352.1h0M71.6 340.4h0M71.8 364h0M72.1 358.7h0M88.9 330.3h0M88.7 324.9h0M88.8 363.3h0M88.4 327.4h0M88.8 314.6h0M88.9 356.8h0M88.4 321.5h0M88.6 321.4h0M88.8 359.6h0M88.5 330.7h0M88.9 347.2h0M89 344h0M88.9 310h0M88.8 333.1h0M88.9 338.2h0M89 320.7h0M89 342.9h0M88.6 357.1h0M88.8 310.8h0M88.4 355.4h0M89 315.1h0M88.4 311h0M88.6 338.6h0M88.7 357.6h0M88.5 339.1h0M88.7 334.6h0M88.6 321.3h0M88.8 309.8h0M88.7 350.8h0M88.9 362.3h0M90 338.3h0M89.4 360.7h0M90 330h0M90 343.5h0M90 350.4h0M89.7 321.3h0M89.5 316.8h0M89.8 347.4h0M89.7 321.2h0M89.9 349.6h0M89.5 307h0M89.7 338.5h0M90 333.6h0M89.8 353.3h0M90 334.2h0M89.9 346.3h0M89.5 313.6h0M89.8 355.4h0M89.5 329.7h0M89.4 338.1h0M89.8 305.3h0M89.4 321.9h0M89.4 327.8h0M89.6 354.7h0M89.5 357.5h0M89.8 325.1h0M89.6 304.8h0M89.6 358.9h0M89.8 336.9h0M89.7 340.3h0M89.9 362.7h0M89.9 323.9h0M90 334.3h0M89.5 333h0M89.4 310.6h0M89.9 324h0M90.6 352.2h0M91 319.1h0M91 331.6h0M90.9 331.5h0M90.5 330h0M90.8 317.7h0M90.4 319.3h0M90.6 348.9h0M90.7 343.3h0M90.7 306.8h0M90.9 316h0M90.8 333.1h0M90.8 345.8h0M90.7 312.4h0M90.9 347.9h0M90.5 337.6h0M91 330.1h0M90.9 320.1h0M91 323.5h0M91 324.7h0M90.9 352.3h0M90.6 344.7h0M91 321.1h0M90.9 331h0M90.7 311.7h0M90.5 360.1h0M91 307.6h0M90.6 335.8h0M90.5 347.2h0M90.8 358.4h0M91 360.2h0M90.6 307.2h0M91.9 348.8h0M92.1 363.8h0M92 349.9h0M91.7 335.9h0M91.6 362.2h0M91.8 347h0M91.6 333h0M91.5 332.6h0M91.8 363.6h0M91.8 354.1h0M92.1 357.8h0M91.9 332h0M91.4 338h0M91.5 355.4h0M91.8 351.5h0M91.9 342h0M92.1 363.3h0M91.8 358.7h0M92.9 315.8h0M92.6 348.9h0M92.6 355.5h0M93 333.7h0M92.9 305.8h0M93 347.4h0M92.9 315h0M92.8 318.8h0M92.6 340.5h0M92.9 319h0M92.8 304.8h0M92.9 350.5h0M92.9 347.4h0M92.9 339h0M92.5 351.4h0M92.5 338.3h0M93 316.9h0M92.9 308.9h0M93 321.3h0M92.5 329.2h0M92.8 304.7h0M92.4 352.1h0M92.5 319.2h0M92.5 339.7h0M92.6 303.8h0M92.6 351.6h0M92.5 347.7h0M92.9 356.8h0M92.8 334.8h0M92.9 319.7h0M93.1 345.3h0M92.6 306.3h0M92.6 312.5h0M92.6 346.7h0M93 325.2h0M92.9 321.8h0M93.6 306.5h0M93.8 307.9h0M93.8 361.3h0M94 302.4h0M93.7 314.5h0M93.6 309.1h0M93.8 333.3h0M94 312.9h0M93.6 305.4h0M93.6 306.3h0M93.6 346.3h0M94 353.1h0M93.9 322.3h0M93.6 335.5h0M93.9 308.7h0M93.7 335h0M93.5 353.9h0M93.6 340h0M93.7 302.1h0M93.5 319.1h0M93.6 353.3h0M93.6 352h0M93.6 339.2h0M93.6 303.5h0M93.7 330.8h0M93.9 346.8h0M93.9 350.5h0M93.8 348.2h0M93.6 329.6h0M94 350.4h0M93.6 357.3h0M93.5 311.1h0M93.9 321.9h0M93.8 325.7h0M93.9 347.7h0M93.7 337.1h0M95 342.4h0M94.6 338.5h0M94.7 348.4h0M94.5 349.6h0M94.7 324.3h0M94.5 357.2h0M95 322.4h0M95.1 340h0M94.5 343.9h0M94.7 343.5h0M95.1 363.5h0M94.5 349.9h0M95 343.9h0M94.5 362.1h0M94.8 363.6h0M95 363.9h0M95 337h0M95 363.8h0M94.7 322.3h0M94.8 336.6h0M94.5 332.6h0M95.1 362.3h0M94.9 341.8h0M94.7 355.1h0" stroke="#E69F00" stroke-width="4.0" stroke-linecap="round" fill="none"/>
<path d="M80 372.4h0M80 363.7h0M80.1 358.2h0M80.1 347.7h0M80.1 340.9h0M80.1 333h0M80.2 324.9h0M80.2 318.2h0M80.2 312.7h0M80.3 306h0M80.3 302h0M80.3 292.3h0M80.4 290.2h0M80.4 284.5h0M80.4 277.3h0M80.4 276.1h0M80.5 269.2h0M80.5 267.2h0M80.5 267.9h0M80.6 265h0M80.6 265.5h0M80.6 265.5h0M80.7 269.2h0M80.7 270.2h0M80.7 271.3h0M80.8 277.6h0M80.8 284.1h0M80.8 287.8h0M80.8 294h0M80.9 298.6h0M80.9 304.8h0M80.9 313.7h0M81 317.8h0M81 323.6h0M81 328.2h0M99.3 354.2h0M99.4 371.3h0M99.4 375.7h0M99.5 369.9h0M99.5 367.3h0M99.5 364h0M99.6 356.7h0M99.6 351.4h0M99.6 343.9h0M99.6 340.7h0M99.7 336.3h0M99.7 329.3h0M99.7 324.5h0M99.8 324.3h0M99.8 321.1h0M99.8 323.6h0M99.9 319.3h0M99.9 323.2h0M99.9 323.1h0M100 324.5h0M100 328.8h0M100 331.8h0M100 337h0M100.1 341.9h0M100.1 344.6h0M100.1 348.7h0M100.2 356h0M100.2 361.9h0M100.2 368h0M100.3 361.9h0M100.3 375.1h0M100.4 375.7h0M100.5 371.1h0M118.4 360.6h0M118.4 339.8h0M118.4 316.8h0M118.5 294.7h0M118.5 270.4h0M118.5 253.4h0M118.5 239.5h0M118.6 228h0M118.6 215.6h0M118.6 205.4h0M118.7 196.7h0M118.7 189.6h0M118.7 176.6h0M118.8 169.1h0M118.8 161.6h0M118.8 157.8h0M118.8 151.1h0M118.9 143.1h0M118.9 135.1h0M118.9 133.5h0M119 125.4h0M119 120.2h0M119 115.6h0M119.1 110.5h0M119.1 109.2h0M119.1 110.3h0M119.2 108.3h0M119.2 111.3h0M119.2 112.2h0M119.2 116.1h0M119.3 121.4h0M119.3 128.6h0M119.3 133h0M119.4 136.7h0M119.4 146h0M119.4 152.2h0M119.5 157.6h0M119.5 166.3h0M119.5 170.8h0M119.5 184.3h0M119.6 195.2h0M119.6 197.3h0M119.6 205h0M119.7 221.3h0M119.7 230.7h0M119.7 244.8h0M119.8 258h0M119.8 278.4h0M119.8 303.4h0M119.8 324.9h0M119.9 346.4h0M119.9 367.4h0M125.7 375.2h0M125.8 346.9h0M125.8 352h0M125.8 370.8h0M125.9 365.1h0M125.9 361.6h0M125.9 356.5h0M126 354.6h0M126 349.6h0M126 340.9h0M126.1 340.2h0M126.1 338.4h0M126.1 339.5h0M126.1 332.1h0M126.2 330.2h0M126.2 328.3h0M126.2 327.7h0M126.3 329.7h0M126.3 333.4h0M126.3 333.5h0M126.4 310h0M126.4 338.6h0M126.4 341.4h0M126.5 348h0M126.5 344h0M126.5 356h0M126.5 361.4h0M126.6 349.6h0M126.6 364.6h0M126.6 374.6h0M126.7 372.6h0M126.7 350.8h0M126.8 358.6h0M126.8 360.4h0M126.8 355.9h0M130.8 357.8h0M130.8 343.7h0M130.8 376.3h0M130.9 370.2h0M130.9 372.6h0M130.9 365.7h0M131 361.8h0M131 353.9h0M131 353.6h0M131 350h0M131.1 344h0M131.1 338h0M131.1 335.6h0M131.2 331.2h0M131.2 331.2h0M131.2 330.4h0M131.3 327.5h0M131.3 324.9h0M131.3 326.2h0M131.4 326.3h0M131.4 330.2h0M131.4 332.9h0M131.4 332.9h0M131.5 335.4h0M131.5 341h0M131.5 344.5h0M131.6 351.3h0M131.6 356.9h0M131.6 357.2h0M131.7 354.5h0M131.7 368.9h0M131.7 373.9h0M131.9 357.2h0M142.9 368.3h0M143 361.6h0M143 362.3h0M143 355.4h0M143.1 325.8h0M143.1 344.7h0M143.1 339.8h0M143.2 337.6h0M143.2 333.5h0M143.2 325.6h0M143.2 323.7h0M143.3 315h0M143.3 316.8h0M143.3 314.5h0M143.4 311.4h0M143.4 312.3h0M143.4 312.1h0M143.5 306.7h0M143.5 310.3h0M143.5 311.5h0M143.6 310h0M143.6 310.5h0M143.6 314h0M143.6 317.6h0M143.7 322.1h0M143.7 326.7h0M143.7 331.5h0M143.8 333.7h0M143.8 339.5h0M143.8 341.6h0M143.9 344.8h0M143.9 350.4h0M143.9 357.8h0M143.9 362.3h0M144 368.1h0M144 369.4h0M144 358.9h0M149.8 366.2h0M149.9 347.8h0M149.9 335.3h0M149.9 324.2h0M150 314.6h0M150 307.2h0M150 299.4h0M150.1 288.3h0M150.1 277.3h0M150.1 272.1h0M150.2 263.6h0M150.2 256.5h0M150.2 253.6h0M150.2 246.7h0M150.3 242.1h0M150.3 235.1h0M150.3 231.4h0M150.4 223.2h0M150.4 219.2h0M150.4 216.4h0M150.5 207.7h0M150.5 208.6h0M150.5 208.5h0M150.5 203.3h0M150.6 203h0M150.6 204.7h0M150.6 208.7h0M150.7 209.5h0M150.7 212h0M150.7 216.4h0M150.8 222.2h0M150.8 228.8h0M150.8 235h0M150.9 241.1h0M150.9 247.4h0M150.9 251.7h0M150.9 258.8h0M151 262.1h0M151 272.5h0M151 281.1h0M151.1 288.3h0M151.1 296h0M151.1 304h0M151.2 312.1h0M151.2 318h0M151.2 332.8h0M151.2 343.9h0M151.3 359.9h0M162.3 367.3h0M162.4 368.7h0M162.5 374h0M162.5 365h0M162.6 361.7h0M162.6 354.2h0M162.6 348.6h0M162.7 350.1h0M162.7 345.9h0M162.7 346.8h0M162.8 347h0M162.8 348.3h0M162.8 348.3h0M162.8 348.6h0M162.9 352.6h0M162.9 360.2h0M162.9 367.2h0M163 372.2h0M163 365.5h0M163 354.7h0M163.1 376.4h0M163.1 369h0M163.2 373.5h0M164.1 377.1h0M164.2 355.1h0M164.2 348.5h0M164.2 341.2h0M164.3 333.6h0M164.3 324.7h0M164.3 318.7h0M164.4 312.3h0M164.4 304.6h0M164.4 303.3h0M164.5 296h0M164.5 287.8h0M164.5 285.7h0M164.5 278.3h0M164.6 274.6h0M164.6 269.4h0M164.6 262.1h0M164.7 261.6h0M164.7 261.5h0M164.7 258.9h0M164.8 256.3h0M164.8 256.9h0M164.8 259h0M164.8 262.5h0M164.9 264.1h0M164.9 265.6h0M164.9 268.5h0M165 278.5h0M165 281.8h0M165 287.8h0M165.1 291.9h0M165.1 298.8h0M165.1 303.2h0M165.2 309.2h0M165.2 315.2h0M165.2 320.1h0M165.2 328.2h0M165.3 336.5h0M165.3 344.5h0M165.3 352.3h0M165.4 361.7h0M165.4 368.5h0M169.1 366.2h0M169.1 353.7h0M169.2 343.8h0M169.2 335.2h0M169.2 326.2h0M169.3 316.9h0M169.3 307.7h0M169.3 302.3h0M169.4 296.5h0M169.4 286.2h0M169.4 277.4h0M169.4 275.2h0M169.5 271.8h0M169.5 262.1h0M169.5 258.2h0M169.6 254.6h0M169.6 247.5h0M169.6 241.5h0M169.7 237.5h0M169.7 232.2h0M169.7 231.9h0M169.7 225.4h0M169.8 225.2h0M169.8 224h0M169.8 223.7h0M169.9 221.7h0M169.9 223.1h0M169.9 224.7h0M170 227.8h0M170 231.5h0M170 240.5h0M170.1 244.1h0M170.1 247.1h0M170.1 251.6h0M170.1 256.3h0M170.2 263.6h0M170.2 266.8h0M170.2 275.5h0M170.3 279.1h0M170.3 284.2h0M170.3 294.1h0M170.4 303.5h0M170.4 310.9h0M170.4 317.4h0M170.4 325.2h0M170.5 333.6h0M170.5 345.9h0M170.5 357.6h0M170.6 367h0M176.7 377.3h0M176.7 370.4h0M176.8 362.5h0M176.8 358.1h0M176.8 355.9h0M176.9 354.1h0M176.9 351.9h0M176.9 348.8h0M177 351.3h0M177 353.9h0M177 353.7h0M177.1 357.5h0M177.1 361.1h0M177.1 365.9h0M177.1 358.6h0M177.2 365.7h0M177.3 366.4h0M177.4 370.6h0M181.1 374.2h0M181.2 332.4h0M181.2 320.4h0M181.2 300.3h0M181.3 288.8h0M181.3 277.2h0M181.3 269.7h0M181.4 260.8h0M181.4 252.9h0M181.4 244.8h0M181.5 237.1h0M181.5 231.6h0M181.5 220.2h0M181.6 216h0M181.6 210.7h0M181.6 203.4h0M181.6 197.4h0M181.7 193.9h0M181.7 187.8h0M181.7 182.8h0M181.8 178.9h0M181.8 171.3h0M181.8 169.9h0M181.9 159.7h0M181.9 160.1h0M181.9 158.7h0M181.9 158h0M182 154.2h0M182 153.9h0M182 157.6h0M182.1 156.3h0M182.1 159.1h0M182.1 160.6h0M182.2 163.4h0M182.2 168.2h0M182.2 173.1h0M182.3 179.1h0M182.3 181.3h0M182.3 186.6h0M182.3 193.6h0M182.4 201.1h0M182.4 205.8h0M182.4 207.1h0M182.5 216.3h0M182.5 223.3h0M182.5 227.9h0M182.6 235.6h0M182.6 247.9h0M182.6 252.1h0M182.6 263.6h0M182.7 268h0M182.7 276.3h0M182.7 287.9h0M182.8 302.3h0M182.8 315.6h0M182.8 334.5h0M182.9 352.4h0M188.7 374.2h0M188.7 354.2h0M188.8 368.5h0M188.8 355.9h0M188.9 360.6h0M188.9 367.2h0M188.9 356.9h0M189 354h0M189 346.5h0M189 347h0M189.1 344.6h0M189.1 342.5h0M189.1 346.1h0M189.2 347.2h0M189.2 345.5h0M189.2 349.2h0M189.3 354.2h0M189.3 358.3h0M189.3 368.9h0M189.3 373h0M189.5 369.1h0M189.5 374.8h0M189.6 377.1h0M195.9 354.9h0M195.9 377.3h0M195.9 361.8h0M196 364.7h0M196 359.8h0M196 349.7h0M196.1 346h0M196.1 339.7h0M196.1 335.9h0M196.2 337.1h0M196.2 335.7h0M196.2 334.3h0M196.2 339.4h0M196.3 336.1h0M196.3 336.4h0M196.3 346.5h0M196.4 350.9h0M196.4 357.6h0M196.4 362.6h0M196.5 369.3h0M196.5 374.3h0M196.6 368.2h0M196.7 376.7h0M200.4 370.9h0M200.5 364.4h0M200.5 357.8h0M200.5 352.9h0M200.6 348.8h0M200.6 344.1h0M200.6 336.1h0M200.7 331.4h0M200.7 328.4h0M200.7 323.9h0M200.8 319.2h0M200.8 317.4h0M200.8 312.6h0M200.8 309h0M200.9 305h0M200.9 303.5h0M200.9 297.9h0M201 292.5h0M201 290.4h0M201 286.1h0M201.1 283h0M201.1 277.9h0M201.1 277.9h0M201.1 277.7h0M201.2 275.2h0M201.2 274.6h0M201.2 273.3h0M201.3 272.8h0M201.3 271.1h0M201.3 277.2h0M201.4 275.1h0M201.4 278h0M201.4 273.8h0M201.5 279.5h0M201.5 279.9h0M201.5 283.7h0M201.5 285.7h0M201.6 288.3h0M201.6 294.6h0M201.6 299.6h0M201.7 303.9h0M201.7 307.1h0M201.7 311h0M201.8 313.1h0M201.8 316.3h0M201.8 320.4h0M201.8 324.9h0M201.9 329.6h0M201.9 334.2h0M201.9 340h0M202 344.9h0M202 348.9h0M202 355.6h0M202.1 360.5h0M202.1 364.8h0M202.1 372h0M202.2 376.8h0M208 375.1h0M208.1 362.5h0M208.1 373.6h0M208.1 361.1h0M208.2 375.7h0M208.2 367.2h0M208.2 364.2h0M208.3 357.4h0M208.3 356.9h0M208.3 351.5h0M208.4 350.3h0M208.4 349.9h0M208.4 352.8h0M208.5 354.7h0M208.5 349.3h0M208.5 358h0M208.5 368.2h0M208.6 374.9h0M208.6 369.7h0M208.7 374.4h0M208.7 375.4h0M208.8 363.5h0M208.8 351.3h0M208.8 369.5h0M213 365.8h0M213.1 369.5h0M213.2 376.8h0M213.3 371.8h0M213.3 364.9h0M213.3 359.8h0M213.3 353.2h0M213.4 351.7h0M213.4 350h0M213.4 350.4h0M213.5 351.1h0M213.5 349.1h0M213.5 352.3h0M213.6 354.6h0M213.6 361.8h0M213.6 364.3h0M213.7 373.3h0M214.8 365h0M214.9 360.2h0M214.9 357.5h0M214.9 352.6h0M215 350.4h0M215 347.1h0M215 347.1h0M215.1 338.6h0M215.1 336.6h0M215.1 332.6h0M215.1 327.8h0M215.2 324.4h0M215.2 321.2h0M215.2 318.1h0M215.3 313.2h0M215.3 313.5h0M215.3 309h0M215.4 309.2h0M215.4 309.7h0M215.4 307.8h0M215.4 306.8h0M215.5 307h0M215.5 305.6h0M215.5 308h0M215.6 309h0M215.6 308.4h0M215.6 310.5h0M215.7 312.2h0M215.7 314h0M215.7 316.4h0M215.8 319.1h0M215.8 325.4h0M215.8 327.8h0M215.8 334.2h0M215.9 337.1h0M215.9 339.6h0M215.9 346h0M216 348.9h0M216 349.8h0M216 353.5h0M216.1 357.1h0M216.1 360.3h0M216.1 365.9h0M216.1 367.5h0M216.2 374.8h0M219.7 360.5h0M219.7 350.7h0M219.8 341.9h0M219.8 333.5h0M219.8 324.4h0M219.9 318.8h0M219.9 311h0M219.9 303.2h0M220 293.1h0M220 288.7h0M220 283h0M220 273.7h0M220.1 267.8h0M220.1 267.6h0M220.1 262.9h0M220.2 257h0M220.2 252.3h0M220.2 248.9h0M220.3 240.4h0M220.3 240.6h0M220.3 234.9h0M220.3 228.9h0M220.4 223.2h0M220.4 220.2h0M220.4 217.9h0M220.5 214.8h0M220.5 217.1h0M220.5 214.8h0M220.6 215.9h0M220.6 216h0M220.6 218.3h0M220.7 217.6h0M220.7 219.5h0M220.7 224.8h0M220.7 226.8h0M220.8 233.7h0M220.8 235.3h0M220.8 239.8h0M220.9 245.7h0M220.9 249.8h0M220.9 254.3h0M221 260.4h0M221 263.9h0M221 268.4h0M221 274.1h0M221.1 282.5h0M221.1 287h0M221.1 291.3h0M221.2 301h0M221.2 311.1h0M221.2 314.7h0M221.3 321.7h0M221.3 329.2h0M221.3 335.8h0M221.4 344.1h0M221.4 357.3h0M221.4 371.6h0M227 370.9h0M227 368.3h0M227 360.5h0M227.1 358.5h0M227.1 356.1h0M227.1 353.3h0M227.2 345.9h0M227.2 345.9h0M227.2 340.9h0M227.3 337.6h0M227.3 335.3h0M227.3 332.7h0M227.3 327.8h0M227.4 323.6h0M227.4 319.6h0M227.4 316.5h0M227.5 314.8h0M227.5 315.8h0M227.5 311.2h0M227.6 308.9h0M227.6 312.3h0M227.6 307.3h0M227.6 309.6h0M227.7 311.5h0M227.7 310h0M227.7 313.5h0M227.8 314.3h0M227.8 314.5h0M227.8 314.4h0M227.9 319.1h0M227.9 317.5h0M227.9 322.1h0M228 328.3h0M228 332.5h0M228 331.9h0M228 336.4h0M228.1 343.7h0M228.1 343.1h0M228.1 349.4h0M228.2 352.4h0M228.2 355.2h0M228.2 358.7h0M228.3 363h0M228.3 366.4h0M228.3 365.6h0M228.3 374.3h0M231.9 377.1h0M231.9 374.8h0M232 363.7h0M232 356.1h0M232 351.1h0M232.1 350.2h0M232.1 344.7h0M232.1 343.2h0M232.2 339.2h0M232.2 335.6h0M232.2 330.1h0M232.2 326.7h0M232.3 323.5h0M232.3 323.4h0M232.3 318h0M232.4 313.6h0M232.4 310.1h0M232.4 306.3h0M232.5 304.7h0M232.5 297.9h0M232.5 296.4h0M232.5 296.7h0M232.6 293.8h0M232.6 293.9h0M232.6 292.5h0M232.7 291.2h0M232.7 291.3h0M232.7 290.8h0M232.8 290.5h0M232.8 293.6h0M232.8 295h0M232.9 294.8h0M232.9 293.5h0M232.9 297.8h0M232.9 298.6h0M233 302.8h0M233 309.9h0M233 310.6h0M233.1 311h0M233.1 315.7h0M233.1 322h0M233.2 324.9h0M233.2 324.9h0M233.2 330.4h0M233.2 333h0M233.3 338.4h0M233.3 339.9h0M233.3 343.3h0M233.4 347.4h0M233.4 348.1h0M233.4 357.9h0M233.5 361.4h0M233.5 366.3h0M233.5 370.4h0M233.6 375.1h0M249.6 359.8h0M249.7 368.9h0M249.8 364h0M249.8 356.5h0M249.8 348.6h0M249.9 347.7h0M249.9 344.8h0M249.9 343h0M250 342.8h0M250 342.7h0M250 345.2h0M250 343.8h0M250.1 347.1h0M250.1 352.2h0M250.1 358.3h0M250.2 366.9h0M250.2 372.4h0M250.2 369.4h0M250.3 358.8h0M250.3 340.4h0M251.6 357.2h0M251.7 375.5h0M251.7 377.5h0M251.8 375.9h0M251.8 367.6h0M251.8 361.6h0M251.9 356.9h0M251.9 352.4h0M251.9 351.7h0M252 350h0M252 349.5h0M252 351.4h0M252.1 348.5h0M252.1 354.8h0M252.1 355.3h0M252.1 360.1h0M252.2 369.2h0M252.2 373h0M252.2 373.8h0M252.3 370.5h0M252.4 375.6h0M252.4 374.8h0M252.4 360.1h0M252.5 363.8h0M265.3 367.8h0M265.3 364.9h0M265.3 360.8h0M265.4 357h0M265.4 350h0M265.4 344.1h0M265.5 342.4h0M265.5 338h0M265.5 335.1h0M265.6 330.9h0M265.6 328.9h0M265.6 326.3h0M265.7 321.3h0M265.7 318h0M265.7 316.3h0M265.7 309.5h0M265.8 310.2h0M265.8 305.7h0M265.8 304.2h0M265.9 302.7h0M265.9 300.2h0M265.9 293.3h0M266 291.7h0M266 289.8h0M266 289.6h0M266 288.2h0M266.1 286.6h0M266.1 284.4h0M266.1 286.4h0M266.2 279.8h0M266.2 283.9h0M266.2 286.5h0M266.3 285.6h0M266.3 283.1h0M266.3 287h0M266.4 286.5h0M266.4 288.9h0M266.4 290.6h0M266.4 295.6h0M266.5 296.2h0M266.5 300.4h0M266.5 300.1h0M266.6 305.9h0M266.6 307.7h0M266.6 309.8h0M266.7 312.9h0M266.7 319.4h0M266.7 322.7h0M266.7 326h0M266.8 327.4h0M266.8 330.5h0M266.8 335h0M266.9 339.1h0M266.9 340.9h0M266.9 342.6h0M267 347.9h0M267 356.5h0M267 356.9h0M267.1 362.2h0M267.1 368.5h0M267.1 372.2h0M267.1 375.9h0M270.1 367.2h0M270.2 348.6h0M270.2 337.1h0M270.2 324.7h0M270.2 309.6h0M270.3 291.3h0M270.3 278.8h0M270.3 268.2h0M270.4 259.6h0M270.4 251.5h0M270.4 248h0M270.5 240.5h0M270.5 228.9h0M270.5 226.9h0M270.5 223.7h0M270.6 214.3h0M270.6 208.5h0M270.6 202.2h0M270.7 201.8h0M270.7 195.1h0M270.7 186.8h0M270.8 185.2h0M270.8 176.9h0M270.8 175.1h0M270.9 172.7h0M270.9 166.5h0M270.9 163.9h0M270.9 161.5h0M271 154.8h0M271 150.8h0M271 147.6h0M271.1 144h0M271.1 136.9h0M271.1 138.6h0M271.2 136.8h0M271.2 136.5h0M271.2 134.5h0M271.2 129.9h0M271.3 133h0M271.3 134.4h0M271.3 137.1h0M271.4 138.2h0M271.4 137.2h0M271.4 143.3h0M271.5 146.7h0M271.5 149.2h0M271.5 153.6h0M271.6 158.9h0M271.6 160.1h0M271.6 169.9h0M271.6 169.4h0M271.7 172.5h0M271.7 177.6h0M271.7 182.6h0M271.8 185.1h0M271.8 185.5h0M271.8 194.2h0M271.9 199h0M271.9 206.1h0M271.9 210.5h0M271.9 218.6h0M272 223h0M272 232.9h0M272 239.6h0M272.1 242h0M272.1 248.8h0M272.1 257.1h0M272.2 266.8h0M272.2 273.4h0M272.2 284.3h0M272.3 298.2h0M272.3 308.7h0M272.3 328.3h0M272.3 341.6h0M272.4 357.4h0M272.4 371.8h0M277.7 374.7h0M277.7 369.1h0M277.8 366.5h0M277.8 361.8h0M277.8 362h0M277.9 361.1h0M277.9 356.6h0M277.9 352.5h0M277.9 347.3h0M278 345.1h0M278 339.9h0M278 340.1h0M278.1 335.1h0M278.1 334.9h0M278.1 332.1h0M278.2 329.2h0M278.2 326.8h0M278.2 324.9h0M278.2 324.9h0M278.3 324.7h0M278.3 323.8h0M278.3 324.1h0M278.4 325.5h0M278.4 324.5h0M278.4 323.2h0M278.5 325.5h0M278.5 326.4h0M278.5 326.9h0M278.6 328.6h0M278.6 329.7h0M278.6 333h0M278.6 336.4h0M278.7 337.5h0M278.7 339h0M278.7 346.7h0M278.8 347.4h0M278.8 350.7h0M278.8 353.6h0M278.9 356.8h0M278.9 360.6h0M278.9 362.3h0M278.9 367h0M279 372.1h0M279 374.2h0M282.8 376.6h0M282.8 372.8h0M282.8 369.3h0M282.9 367.5h0M282.9 361.9h0M282.9 360.4h0M283 355.3h0M283 357.3h0M283 353.6h0M283.1 347.2h0M283.1 344h0M283.1 339.4h0M283.1 339.7h0M283.2 336h0M283.2 331.6h0M283.2 328.9h0M283.3 332.8h0M283.3 330.8h0M283.3 329.4h0M283.4 327.4h0M283.4 325.2h0M283.4 325h0M283.5 328.2h0M283.5 325.8h0M283.5 329.8h0M283.5 329.4h0M283.6 332.6h0M283.6 328.7h0M283.6 331.4h0M283.7 331.6h0M283.7 335.5h0M283.7 340.8h0M283.8 339.9h0M283.8 345.1h0M283.8 350.6h0M283.8 354.2h0M283.9 353h0M283.9 359.8h0M283.9 362.1h0M284 362h0M284 366.3h0M284 367.2h0M284.1 374.6h0M284.1 376.4h0M297.3 370.2h0M297.4 375.8h0M297.4 371.3h0M297.4 365h0M297.4 357.3h0M297.5 352.5h0M297.5 347.7h0M297.5 344.2h0M297.6 345.1h0M297.6 337.6h0M297.6 337.8h0M297.7 336.1h0M297.7 341.5h0M297.7 346.5h0M297.8 347.3h0M297.8 350.7h0M297.8 356.4h0M297.8 364.2h0M297.9 372.2h0M297.9 372.8h0M298 374.8h0M315.9 370.6h0M316 358.8h0M316 344.9h0M316 335.4h0M316.1 327.3h0M316.1 318.4h0M316.1 309.6h0M316.2 304.3h0M316.2 301.7h0M316.2 295.2h0M316.2 289.1h0M316.3 284h0M316.3 280.1h0M316.3 270.5h0M316.4 265.5h0M316.4 261.5h0M316.4 256.3h0M316.5 254.3h0M316.5 247.4h0M316.5 245.8h0M316.6 240.7h0M316.6 237.3h0M316.6 234.2h0M316.6 229.9h0M316.7 228.4h0M316.7 221.5h0M316.7 219.2h0M316.8 215.1h0M316.8 211.1h0M316.8 205.1h0M316.9 204.3h0M316.9 199.7h0M316.9 201.8h0M316.9 200h0M317 197.8h0M317 193.9h0M317 189.8h0M317.1 192.8h0M317.1 195.6h0M317.1 198.4h0M317.2 198.6h0M317.2 196.7h0M317.2 201.3h0M317.3 200.1h0M317.3 205.5h0M317.3 207.1h0M317.3 211h0M317.4 216.5h0M317.4 218.9h0M317.4 221.9h0M317.5 226.3h0M317.5 225h0M317.5 232h0M317.6 235.7h0M317.6 243.9h0M317.6 242.1h0M317.6 246.4h0M317.7 253.4h0M317.7 256h0M317.7 261.9h0M317.8 267.6h0M317.8 271.7h0M317.8 277.3h0M317.9 281.2h0M317.9 287.3h0M317.9 295.6h0M318 299.5h0M318 307h0M318 312.1h0M318 317.3h0M318.1 325.6h0M318.1 335.3h0M318.1 345.9h0M318.2 358.5h0M318.2 369h0M321.7 368.7h0M321.7 372.8h0M321.8 369h0M321.8 359.4h0M321.8 357.1h0M321.8 350.5h0M321.9 347.3h0M321.9 344.2h0M321.9 344.1h0M322 340.2h0M322 341.5h0M322 346.7h0M322.1 347.7h0M322.1 348.5h0M322.1 357h0M322.2 363h0M322.2 369.8h0M322.2 375.5h0M322.2 353.3h0M322.3 369.3h0M328.7 370.3h0M328.9 377.3h0M328.9 371.9h0M328.9 363.4h0M329 360.9h0M329 356.5h0M329 357.4h0M329.1 354.3h0M329.1 356.4h0M329.1 359.2h0M329.2 359.8h0M329.2 362.6h0M329.2 367h0M329.2 364.5h0M329.3 369h0M329.4 374.2h0M329.5 369.9h0M334 350.3h0M334 363.1h0M334 358.8h0M334 356.1h0M334.1 352h0M334.1 350.6h0M334.1 347.5h0M334.2 349.7h0M334.2 353.5h0M334.2 354.6h0M334.3 356.6h0M334.3 364.3h0M334.3 368.2h0M334.4 373.5h0M334.5 371h0M334.5 372.1h0M349.2 368.5h0M349.2 364.1h0M349.2 359h0M349.3 352.6h0M349.3 353.2h0M349.3 351.5h0M349.4 348.4h0M349.4 350.9h0M349.4 353.2h0M349.4 357h0M349.5 359.1h0M349.5 365h0M349.5 370.5h0M349.6 374.9h0M349.8 368.6h0M366.6 375.7h0M366.6 372.2h0M366.7 366.2h0M366.7 366.9h0M366.7 360.5h0M366.8 356.8h0M366.8 356.9h0M366.8 353.5h0M366.8 348.6h0M366.9 349.7h0M366.9 345.8h0M366.9 343.3h0M367 340.3h0M367 337h0M367 334.9h0M367.1 335.6h0M367.1 332.8h0M367.1 325.6h0M367.2 321.5h0M367.2 323.3h0M367.2 319.6h0M367.2 317.5h0M367.3 314.4h0M367.3 312.2h0M367.3 307.8h0M367.4 309.2h0M367.4 306.6h0M367.4 307.5h0M367.5 304.6h0M367.5 304.2h0M367.5 305.1h0M367.5 302.1h0M367.6 303.5h0M367.6 301.5h0M367.6 299.7h0M367.7 300.3h0M367.7 304.5h0M367.7 306.9h0M367.8 304.8h0M367.8 304.7h0M367.8 307.2h0M367.9 307h0M367.9 311.5h0M367.9 308.6h0M367.9 315.4h0M368 317.2h0M368 318.4h0M368 323.2h0M368.1 320.8h0M368.1 327.6h0M368.1 332h0M368.2 334.7h0M368.2 333.3h0M368.2 338.4h0M368.2 338.2h0M368.3 341.5h0M368.3 345h0M368.3 348.3h0M368.4 348.8h0M368.4 355h0M368.4 354.8h0M368.5 357.9h0M368.5 361.2h0M368.5 363.2h0M368.6 369.7h0M368.6 371.5h0M379.4 371.1h0M379.5 371.7h0M379.5 377.2h0M379.6 371.2h0M379.6 367.9h0M379.6 360.9h0M379.7 355.1h0M379.7 351.6h0M379.7 347.9h0M379.7 345.9h0M379.8 345.7h0M379.8 347.1h0M379.8 348.1h0M379.9 352.6h0M379.9 355.2h0M379.9 359.1h0M380 361.8h0M380 371.1h0M380 375.6h0M380.2 369.4h0M418.1 371.9h0M418.1 364.8h0M418.1 358.7h0M418.2 350.7h0M418.2 347h0M418.2 344.9h0M418.3 341.5h0M418.3 340.6h0M418.3 341.6h0M418.4 343.1h0M418.4 346.7h0M418.4 347.2h0M418.5 352.3h0M418.5 358h0M418.5 365.1h0M418.5 371.5h0M418.6 377.2h0M418.8 363.4h0M429.6 376.9h0M429.7 376.2h0M429.7 371.5h0M429.8 364.5h0M429.8 363h0M429.8 360.9h0M429.9 359.5h0M429.9 359.2h0M429.9 353.8h0M430 354.7h0M430 349.8h0M430 346.6h0M430 347.9h0M430.1 345h0M430.1 343.6h0M430.1 339.9h0M430.2 337.8h0M430.2 336.6h0M430.2 332.8h0M430.3 331.7h0M430.3 332.4h0M430.3 334.4h0M430.3 329h0M430.4 332.2h0M430.4 329.4h0M430.4 330.1h0M430.5 328h0M430.5 330.3h0M430.5 327.3h0M430.6 330.3h0M430.6 328.4h0M430.6 333.2h0M430.7 331.2h0M430.7 331.9h0M430.7 334.8h0M430.7 337.5h0M430.8 334.7h0M430.8 337.2h0M430.8 338.9h0M430.9 340.2h0M430.9 345.5h0M430.9 345.9h0M431 348.2h0M431 350.8h0M431 356.1h0M431 352.5h0M431.1 358.6h0M431.1 360.2h0M431.1 360.3h0M431.2 366.2h0M431.2 367h0M431.2 369h0M431.3 372.4h0M431.3 374.2h0M451.6 373.8h0M451.7 365.8h0M451.7 363.7h0M451.7 363h0M451.8 361h0M451.8 359.9h0M451.8 363.8h0M451.9 365.5h0M451.9 367.4h0M451.9 372.6h0M451.9 375.4h0M452.1 377.3h0M452.2 364.6h0M467.6 374.1h0M467.7 371.3h0M467.7 364.1h0M467.7 358h0M467.8 353.1h0M467.8 346.2h0M467.8 344.1h0M467.9 338.3h0M467.9 334.4h0M467.9 330.5h0M468 327.3h0M468 320.3h0M468 316.2h0M468 311.7h0M468.1 309.2h0M468.1 302.8h0M468.1 299.9h0M468.2 296h0M468.2 289.5h0M468.2 290.6h0M468.3 285.8h0M468.3 281.3h0M468.3 280.1h0M468.3 279.2h0M468.4 275.2h0M468.4 269.6h0M468.4 270.5h0M468.5 268.6h0M468.5 263h0M468.5 260.8h0M468.6 257.2h0M468.6 254.5h0M468.6 253.2h0M468.7 249.6h0M468.7 248.6h0M468.7 243.9h0M468.7 242h0M468.8 237.3h0M468.8 237.9h0M468.8 234.9h0M468.9 232.6h0M468.9 234.7h0M468.9 232h0M469 233.5h0M469 231.1h0M469 229.7h0M469 232h0M469.1 233.1h0M469.1 230.2h0M469.1 233.8h0M469.2 232.4h0M469.2 237.8h0M469.2 235.4h0M469.3 235.9h0M469.3 233.2h0M469.3 242.1h0M469.4 244h0M469.4 248.7h0M469.4 250.2h0M469.4 254.2h0M469.5 255.1h0M469.5 258.2h0M469.5 260.4h0M469.6 263.7h0M469.6 269.5h0M469.6 271.3h0M469.7 270.4h0M469.7 275.6h0M469.7 275.3h0M469.7 280.9h0M469.8 282.9h0M469.8 285.8h0M469.8 288.9h0M469.9 294.1h0M469.9 296.2h0M469.9 304h0M470 305.8h0M470 312.2h0M470 313.8h0M470.1 316.4h0M470.1 323.8h0M470.1 327.3h0M470.1 330.4h0M470.2 334.9h0M470.2 339.1h0M470.2 342.9h0M470.3 348.7h0M470.3 354.6h0M470.3 361h0M470.4 365.9h0M470.4 371.6h0M480.1 375.1h0M480.1 372.9h0M480.1 370.8h0M480.2 370.4h0M480.2 365.3h0M480.2 363.4h0M480.2 360.9h0M480.3 359.8h0M480.3 355.7h0M480.3 357.5h0M480.4 353.9h0M480.4 351.9h0M480.4 349.6h0M480.5 348.9h0M480.5 346.7h0M480.5 344h0M480.6 341.7h0M480.6 338.9h0M480.6 335.9h0M480.6 336.5h0M480.7 331.4h0M480.7 332.7h0M480.7 329.1h0M480.8 326.8h0M480.8 325.5h0M480.8 322.6h0M480.9 320.5h0M480.9 320.5h0M480.9 320.6h0M480.9 317.8h0M481 315.7h0M481 316.4h0M481 317.8h0M481.1 314.7h0M481.1 314.3h0M481.1 314.7h0M481.2 312.1h0M481.2 312h0M481.2 313.5h0M481.2 313.6h0M481.3 316.2h0M481.3 315.3h0M481.3 315.6h0M481.4 318.4h0M481.4 318.1h0M481.4 315.2h0M481.5 316.6h0M481.5 318.8h0M481.5 321.4h0M481.6 320.3h0M481.6 322.6h0M481.6 326.4h0M481.6 326.4h0M481.7 328.6h0M481.7 331.3h0M481.7 332.9h0M481.8 338.3h0M481.8 338.1h0M481.8 340.5h0M481.9 342.8h0M481.9 342.9h0M481.9 346.5h0M481.9 348.1h0M482 351.6h0M482 352.5h0M482 353.4h0M482.1 359.3h0M482.1 359.7h0M482.1 361.4h0M482.2 359h0M482.2 363.3h0M482.2 367.1h0M482.3 370.3h0M482.3 374.5h0M482.3 373.5h0M504.2 371.1h0M504.3 372.3h0M504.3 364.5h0M504.3 358.9h0M504.4 357.1h0M504.4 346h0M504.4 344.1h0M504.5 339.6h0M504.5 339.8h0M504.5 335.8h0M504.6 338.8h0M504.6 342.2h0M504.6 345.4h0M504.6 346.1h0M504.7 352.1h0M504.7 358.4h0M504.7 365.9h0M504.8 370.5h0M504.8 376.3h0M504.9 372.8h0M518.3 374.3h0M518.3 366.4h0M518.4 364.4h0M518.4 362.4h0M518.4 356.5h0M518.5 356.6h0M518.5 350.4h0M518.5 348h0M518.6 347.2h0M518.6 343.3h0M518.6 339.7h0M518.6 342.9h0M518.7 334.9h0M518.7 335.3h0M518.7 332.4h0M518.8 332.1h0M518.8 329.3h0M518.8 325.6h0M518.9 328.7h0M518.9 324.7h0M518.9 321.9h0M518.9 319.7h0M519 319.2h0M519 313.4h0M519 315h0M519.1 311.1h0M519.1 307.9h0M519.1 306.4h0M519.2 304.6h0M519.2 302.3h0M519.2 302.5h0M519.3 299.9h0M519.3 296.9h0M519.3 293.7h0M519.3 291.4h0M519.4 291.1h0M519.4 290h0M519.4 288.6h0M519.5 290h0M519.5 287.3h0M519.5 285.3h0M519.6 287.2h0M519.6 286.8h0M519.6 284.6h0M519.6 284h0M519.7 284.5h0M519.7 284.2h0M519.7 284.1h0M519.8 282.1h0M519.8 285.1h0M519.8 286h0M519.9 284.4h0M519.9 287.7h0M519.9 288h0M520 287.5h0M520 287.8h0M520 290h0M520 287.2h0M520.1 290.9h0M520.1 292.1h0M520.1 292.9h0M520.2 295.4h0M520.2 295.7h0M520.2 299.3h0M520.3 298.2h0M520.3 301.5h0M520.3 307.5h0M520.3 307h0M520.4 308.4h0M520.4 315.2h0M520.4 311.2h0M520.5 314.5h0M520.5 317.5h0M520.5 319.6h0M520.6 322.7h0M520.6 325.3h0M520.6 324.5h0M520.7 331.3h0M520.7 327.4h0M520.7 333.6h0M520.7 331.8h0M520.8 336.3h0M520.8 338.8h0M520.8 340.6h0M520.9 342.6h0M520.9 343.3h0M520.9 347.7h0M521 349.9h0M521 354h0M521 353.4h0M521 357.3h0M521.1 362.8h0M521.1 363.3h0M521.1 364.3h0M521.2 369.1h0M521.2 374.6h0M521.2 374.7h0M540.7 376.3h0M540.9 369.7h0M540.9 368.6h0M540.9 361.9h0M541 362.3h0M541 360.6h0M541 356.4h0M541.1 359.9h0M541.1 361.1h0M541.1 363.3h0M541.2 367.4h0M541.2 372.2h0M541.2 377.5h0M541.3 364.1h0M556.6 371h0M556.7 364.5h0M556.7 358.4h0M556.7 353.9h0M556.8 347.1h0M556.8 341.2h0M556.8 337.7h0M556.9 331.6h0M556.9 328h0M556.9 324.8h0M556.9 321.1h0M557 318.3h0M557 315.5h0M557 311h0M557.1 305.9h0M557.1 300.6h0M557.1 300.7h0M557.2 296.3h0M557.2 291.1h0M557.2 290.1h0M557.3 281.8h0M557.3 280.4h0M557.3 275.9h0M557.3 273.5h0M557.4 270.8h0M557.4 267.9h0M557.4 266.4h0M557.5 263.2h0M557.5 263.2h0M557.5 258.3h0M557.6 255.6h0M557.6 254.3h0M557.6 252.2h0M557.6 249.1h0M557.7 248.4h0M557.7 242.5h0M557.7 238.9h0M557.8 239.8h0M557.8 233.7h0M557.8 233.3h0M557.9 231.6h0M557.9 228.6h0M557.9 226.7h0M558 221.3h0M558 219.1h0M558 221.8h0M558 221.6h0M558.1 215.7h0M558.1 215.3h0M558.1 215.9h0M558.2 216.1h0M558.2 212.2h0M558.2 213.2h0M558.3 212.3h0M558.3 212.9h0M558.3 214.8h0M558.3 216h0M558.4 216.5h0M558.4 216.2h0M558.4 217.1h0M558.5 218.5h0M558.5 218.6h0M558.5 220.3h0M558.6 221h0M558.6 221.9h0M558.6 225.8h0M558.7 228h0M558.7 227h0M558.7 233.1h0M558.7 236.9h0M558.8 236.4h0M558.8 239.8h0M558.8 243h0M558.9 247.9h0M558.9 248.3h0M558.9 251.3h0M559 253.5h0M559 253.2h0M559 255.8h0M559 255.8h0M559.1 261.9h0M559.1 263.9h0M559.1 268h0M559.2 269.7h0M559.2 273.6h0M559.2 274.2h0M559.3 280.9h0M559.3 282.8h0M559.3 286.9h0M559.4 287.5h0M559.4 293.4h0M559.4 297.2h0M559.4 300.5h0M559.5 303.7h0M559.5 308.1h0M559.5 312.7h0M559.6 315.8h0M559.6 319.2h0M559.6 325.5h0M559.7 329.7h0M559.7 332.1h0M559.7 337.3h0M559.7 341.3h0M559.8 346h0M559.8 348.4h0M559.8 358.7h0M559.9 360.4h0M559.9 371.4h0M671.5 376.7h0M671.7 374.7h0M671.7 368.2h0M671.7 363.3h0M671.8 357.3h0M671.8 357.2h0M671.8 355.8h0M671.9 352.3h0M671.9 355h0M671.9 356.5h0M672 360h0M672 361h0M672 368.5h0M672.1 368.5h0M80.6 332.8h0M80.9 317.3h0M80.3 300.1h0M80.6 342.6h0M80.7 357.1h0M80.6 348.6h0M80.3 354.1h0M80.6 338h0M80.3 316.3h0M80.3 314.7h0M80.5 357.2h0M80.4 353.7h0M80.6 340.9h0M80.9 309.7h0M80.4 332.9h0M80.9 329.4h0M80.5 345.4h0M80.8 328.7h0M80.6 325.1h0M80.8 342.5h0M80.8 325.4h0M80.8 315.5h0M80.4 341.3h0M80.8 334.7h0M80.4 355.8h0M80.7 347.4h0M80.3 361.5h0M80.5 360.5h0M80.4 358.7h0M80.7 306.2h0M80.5 316.9h0M80.6 326.4h0M80.4 312.7h0M80.5 352.8h0M80.8 341.5h0M80.6 326.6h0M100.1 351.8h0M99.8 334h0M99.7 354.6h0M99.8 349.4h0M99.7 334.2h0M99.6 350h0M100 340.4h0M99.7 358.7h0M100.1 356.6h0M100 328.7h0M100.1 357.2h0M100 358.2h0M100.1 363.6h0M100.2 361.4h0M99.5 349.7h0M99.7 341.9h0M100.1 332.2h0M99.9 328.4h0M100.1 351.3h0M99.8 346.2h0M119.1 336.5h0M119.1 329.4h0M119.3 353h0M119.1 320.6h0M119.3 324.6h0M119.3 323.1h0M119.1 304.1h0M119 359.3h0M118.9 330.6h0M119.2 361.2h0M119.3 340.5h0M119.2 322.7h0M119 311.7h0M119.2 346.3h0M119 306.3h0M119.3 304.7h0M119.4 304.7h0M119 335.9h0M119.2 323.8h0M119.1 333.4h0M119 359.8h0M119.3 346.5h0M119 310.1h0M119.3 352.5h0M119.3 335.5h0M118.9 320.6h0M119.3 337.6h0M119.1 326.5h0M119.1 327.7h0M119.1 355.9h0M119.1 361.6h0M119.1 330.4h0M119.3 323.2h0M119 328.2h0M118.9 301.2h0M119.3 354.3h0M125.9 336h0M126.5 345.3h0M126.5 356.5h0M126.6 346.6h0M126.5 351.7h0M126.2 358.9h0M126.3 359.7h0M126.3 341.9h0M126.3 351.7h0M126.2 351.4h0M126.5 353.8h0M126.4 346.4h0M125.9 346h0M126.5 341.1h0M126.2 355.4h0M126.4 346.7h0M131.3 353.1h0M131 350.5h0M131.6 339h0M131.4 360.8h0M131.3 359.4h0M131.3 354.8h0M131.3 351.6h0M131.2 342.3h0M131.3 352h0M131.5 341.9h0M131.2 357.1h0M131.5 353h0M130.9 340.2h0M131.2 350.7h0M131.5 348.4h0M131.4 351h0M131 361.3h0M143.5 338.4h0M143.1 338.7h0M143.2 340.6h0M143.6 346.5h0M143.7 330.8h0M143.8 340.9h0M143.7 336.2h0M143.4 328.6h0M143.2 332h0M143.2 355.3h0M143.3 318.8h0M143.8 355.6h0M143.4 336h0M143.5 318.4h0M143.5 315.1h0M143.2 346.4h0M143.6 336.5h0M143.1 331.8h0M143.6 352.5h0M143.3 343.5h0M143.8 334.1h0M143.6 353.8h0M143.5 326.4h0M143.2 314.4h0M143.3 364h0M143.3 314.5h0M143.8 339.7h0M150.7 299.8h0M150.6 315.4h0M150.6 314.8h0M150.3 333.9h0M150.4 344.9h0M150.3 301.4h0M150.6 338.7h0M150.7 301.9h0M150.5 316.1h0M150.8 342.9h0M150.8 350.9h0M150.4 317.8h0M150.5 321h0M150.4 327h0M150.4 329.2h0M150.7 346.4h0M150.7 305.2h0M150.9 331.3h0M150.6 305h0M150.5 312.2h0M150.8 316h0M150.3 353.5h0M150.6 355.1h0M150.4 340.5h0M150.7 302.7h0M150.5 355.8h0M150.3 360.3h0M150.8 351.3h0M150.8 347.8h0M150.8 326h0M150.4 356.2h0M150.5 315.1h0M150.5 326.6h0M150.5 325.5h0M150.6 310.9h0M150.8 342.3h0M165 317.2h0M164.7 356.5h0M164.9 352.5h0M164.9 361.6h0M164.7 313.1h0M165 316.4h0M164.5 342.8h0M164.8 353.2h0M164.8 347.3h0M164.5 325.9h0M164.8 355.5h0M165.1 361.9h0M164.9 345.6h0M164.7 299.7h0M164.8 355.2h0M164.9 320.9h0M164.9 303.9h0M164.9 306.9h0M165 322.5h0M164.7 334h0M164.9 316.6h0M164.8 307.8h0M164.7 339.4h0M164.7 328.2h0M165.1 329.7h0M164.9 363.4h0M164.8 308.2h0M165.1 309.7h0M164.9 307.8h0M164.8 353.2h0M164.9 348.9h0M164.7 332.1h0M164.5 344.9h0M164.7 353.9h0M164.6 363.7h0M165 353.1h0M169.6 321.9h0M169.8 301.2h0M170.1 352h0M169.6 332.1h0M169.5 344.5h0M170.1 333.7h0M169.5 314.9h0M169.6 312.7h0M170 334.9h0M169.9 358.4h0M169.8 352h0M170.1 323.4h0M169.6 321.7h0M169.9 313.2h0M170.1 339.5h0M170.1 325.7h0M169.6 345.4h0M169.9 315.9h0M169.7 356.3h0M169.8 337.9h0M169.6 306.9h0M169.6 320.2h0M170.1 331.1h0M169.7 332.6h0M169.8 356.8h0M170 360.8h0M170.1 307.3h0M170.1 349.8h0M169.9 326h0M170.1 350.3h0M169.7 302.7h0M170 327.9h0M169.6 346.5h0M170 323.8h0M170 341.8h0M170 351.2h0M181.8 348.6h0M181.9 307.4h0M182.3 329.4h0M182 345.9h0M182 307.3h0M182 340h0M181.7 353.4h0M182.3 350.3h0M182.1 345.9h0M181.9 316.5h0M182 346.5h0M182.2 304.6h0M182.1 356.3h0M181.9 337.3h0M181.8 318.3h0M182.3 301.2h0M182 310.9h0M182.1 340.9h0M182 343.6h0M181.9 362.6h0M181.8 352.8h0M182 357h0M182.2 321.4h0M181.7 360.8h0M182 361.3h0M182.1 314.8h0M181.8 361.1h0M181.7 326.2h0M182 361.4h0M182 336h0M182.2 300h0M182.1 344.6h0M181.9 300.6h0M182.1 325.6h0M182.1 313.6h0M181.9 346.2h0M201.3 358h0M201.1 346.9h0M201 324.9h0M201.6 324.9h0M201.7 363.2h0M201.2 305.1h0M201.1 345h0M201.5 306.6h0M200.9 309.5h0M201 304.6h0M200.9 352.4h0M201.4 325.1h0M201.7 350.4h0M201.3 319.5h0M200.9 311.3h0M201.3 336.9h0M201.6 346.9h0M201 363.3h0M201.2 302.9h0M201.2 362.3h0M201.2 320.9h0M201.7 309.1h0M201.5 341.8h0M201.4 352.4h0M200.9 341.2h0M201.1 320.3h0M201.2 305.8h0M201.3 344.4h0M201.3 333.8h0M201.2 333.1h0M201.5 352.7h0M201.2 358.2h0M201.2 319h0M200.9 343.8h0M201.7 361.1h0M201.4 341.9h0M215.2 351.9h0M215.2 349.1h0M215.2 363.7h0M215.6 331.9h0M215.3 346.6h0M215.3 357.4h0M215.7 318.8h0M215.4 322.2h0M215.6 335.1h0M215.7 323.6h0M215.1 336.5h0M215.8 353.3h0M215.7 312.9h0M215.8 335.7h0M215.5 361h0M215.6 357.3h0M215.2 344.6h0M215.3 323.8h0M215.1 318.6h0M215 312h0M215.2 329.4h0M215.2 318.1h0M215.2 329.6h0M215 315.6h0M215 313.1h0M215.9 339.3h0M215.7 349.4h0M215.3 339.7h0M215.2 340h0M220.3 327.7h0M220.8 302.6h0M220.8 316h0M220.3 319.4h0M220.5 335.3h0M220.5 332.4h0M220.2 328.2h0M220.2 301.7h0M220.6 309h0M220.4 356h0M220.7 355.7h0M220.7 316.7h0M220.4 345.1h0M220.6 340.7h0M220.5 353h0M220.7 361.1h0M220.4 350.8h0M220.8 315.8h0M220.7 325h0M220.5 334.6h0M220.4 317.4h0M220.6 320.9h0M220.8 351.2h0M220.3 361.4h0M220.9 362.5h0M220.7 362.5h0M220.4 327.6h0M220.2 352.5h0M220.6 320.2h0M220.2 361.1h0M220.9 324.3h0M220.5 339.9h0M220.5 343.5h0M220.2 309.8h0M220.6 315h0M220.7 325.7h0M228.1 333.6h0M227.9 322.9h0M227.2 321.4h0M227.7 340.4h0M227.7 329.7h0M227.7 328.6h0M227.9 349.1h0M227.4 330.4h0M227.8 337.4h0M228.1 338.9h0M227.3 345.5h0M227.9 343h0M227.8 344.7h0M227.6 332h0M228.1 338.1h0M227.2 336.5h0M227.4 353.5h0M227.9 330.3h0M228 342.5h0M228 359.6h0M227.5 345.5h0M227.6 353.8h0M227.4 329.5h0M228 358.1h0M228.1 360.9h0M227.8 347.1h0M227.3 359.7h0M232.8 299.9h0M232.3 324.1h0M232.3 317.6h0M232.5 358.9h0M232.5 326.3h0M232.4 341.7h0M232.9 327h0M233 345.8h0M232.7 345.6h0M232.8 321.6h0M232.4 336.7h0M233 327.1h0M232.3 314.3h0M232.5 361.2h0M232.8 353.4h0M232.3 343.9h0M232.8 361.2h0M232.9 356.6h0M232.6 310.4h0M233.1 355.8h0M232.6 332.1h0M232.6 335.1h0M233 330.2h0M233 355.5h0M233.2 344.6h0M232.3 318.5h0M232.8 353h0M232.2 337.4h0M232.7 317.9h0M232.9 347.4h0M233 357.4h0M232.4 363.5h0M232.7 300.4h0M232.4 362.7h0M232.8 350.4h0M232.7 315.5h0M265.8 347h0M265.7 329.4h0M266.5 322.3h0M266.7 314.8h0M266.7 339.7h0M266.4 341.3h0M266.2 304.6h0M266.3 335.7h0M266.5 360.3h0M266 328h0M266.4 333.3h0M266.3 361.9h0M265.7 344.3h0M266.5 344.9h0M266.3 312.1h0M265.9 319.4h0M266.5 303.8h0M265.9 307.4h0M266.1 305h0M266.4 323.3h0M266.1 351.7h0M266.2 336h0M266.6 331.4h0M266.5 302.8h0M266.1 309h0M266.3 319h0M266.2 309.8h0M266.6 358.8h0M265.7 337.5h0M266.3 332.4h0M266.6 331.2h0M266.7 355.8h0M265.9 341.3h0M265.7 313.5h0M266.6 317.1h0M265.9 313.8h0M271.2 344.6h0M271 315h0M271.2 307.8h0M271.6 334.3h0M271.1 360h0M271.1 317.1h0M271.4 308.5h0M271.2 344.5h0M271 315.8h0M271.2 319.5h0M271.5 340.1h0M271.5 352.2h0M271.2 341.9h0M270.9 346.2h0M271.5 318.4h0M271.3 327.5h0M271 316.2h0M270.9 303.1h0M271 310.3h0M270.9 315.3h0M271.2 330.5h0M271.1 320.7h0M271.5 341.6h0M271.3 334.2h0M271.4 355.7h0M271.2 347.3h0M271.3 328.8h0M271.5 352.2h0M271.6 305.2h0M270.9 336.1h0M271.5 324.3h0M271 341.4h0M271.4 323.1h0M271.3 302h0M271 328.7h0M271.4 343.9h0M278.9 355.4h0M278.9 361.8h0M278.5 332.3h0M278 335.2h0M277.9 355.8h0M278 340h0M278.5 360.2h0M278.3 358.2h0M278.5 346.8h0M278.4 337.4h0M278.5 362.9h0M278.3 332.7h0M277.8 356.5h0M278.3 357.2h0M278.8 332.9h0M278.5 356.8h0M278.1 355.2h0M278.2 330.7h0M278.2 358.7h0M283.1 349.4h0M283.2 363h0M283.4 352h0M283.4 355.2h0M283.2 349.8h0M283.4 355.4h0M283.1 336.6h0M283.4 339.7h0M283.6 335.5h0M283.8 354.8h0M282.9 346.5h0M283.2 344.8h0M283.5 361.5h0M283.9 359.4h0M283 350.5h0M283.6 348.4h0M283.4 361h0M317 348.9h0M316.7 304.5h0M316.7 300.2h0M317.3 343.6h0M317.2 311.3h0M317.4 351.2h0M317.3 357.4h0M317.3 321.7h0M317.2 299.7h0M316.7 327.1h0M317.3 317.6h0M316.7 343.9h0M317.3 303.5h0M317.5 357h0M317.4 348.3h0M317.4 313.4h0M316.9 304h0M317.1 307.9h0M317.1 316.5h0M317.2 350.1h0M317.5 341.8h0M316.7 327.3h0M317 324.3h0M317.1 329.6h0M317.1 316.3h0M316.8 349.4h0M317.1 343.9h0M317.5 362.7h0M316.8 362.3h0M316.7 317.7h0M317.1 333.7h0M317.2 352.1h0M317.5 359.1h0M317.3 330h0M317.1 300.6h0M317.3 305.8h0M367.9 336.3h0M368 330.4h0M367.4 360.3h0M367.1 312h0M367.5 331h0M368.2 358.4h0M367.4 336.3h0M368.2 311.6h0M367.8 312.9h0M368 331.1h0M367.3 352h0M367.4 328.9h0M367.2 342h0M367.6 334h0M367.1 319.4h0M368.1 323.6h0M367.3 338h0M367.3 311.6h0M367 321.8h0M368.1 348.9h0M367.2 314.1h0M367.3 361.4h0M367.9 360.2h0M367.6 324h0M367.3 339.2h0M368.1 324.5h0M367 362h0M368 361.3h0M367.9 336.6h0M367.9 350.2h0M367.3 333.3h0M430.5 335.5h0M430.5 363.1h0M431.1 338.2h0M430 354.1h0M430.8 342.7h0M430.7 349.5h0M430.7 360h0M430.1 361.4h0M430.9 340.9h0M431.1 336.3h0M431 339.3h0M430.6 344.4h0M431.2 356.1h0M431 341.9h0M430.4 335.5h0M430.7 341.3h0M469.4 346.1h0M468.6 327h0M469.2 346.3h0M469.4 300.4h0M469.5 328h0M469.5 336.7h0M469 341.4h0M468.6 361.5h0M468.6 341.8h0M469.6 312.5h0M468.9 351h0M468.6 335.8h0M469.1 324h0M469.5 335.3h0M468.5 332.7h0M468.5 337.8h0M468.6 323.1h0M469.1 324.7h0M468.9 332.7h0M468.5 308.9h0M469 340.4h0M469.3 315.7h0M468.6 342.5h0M469 356.9h0M468.5 334.5h0M469.5 355.5h0M469 303.9h0M469.1 304.3h0M469.2 355.7h0M469.3 311.2h0M468.7 358.8h0M469.3 339h0M469.1 347.5h0M468.8 358.7h0M469.2 356.9h0M468.8 302.3h0M480.6 359.6h0M481.9 360.4h0M480.8 346.2h0M481.4 363.8h0M480.5 362.1h0M481.6 337.7h0M480.4 333.6h0M481.6 339.1h0M480.6 337.7h0M481.4 348h0M481.1 347h0M482 336.1h0M480.6 337.3h0M480.7 349.8h0M481.6 332.5h0M481.8 357.2h0M480.4 329.2h0M481 356.2h0M480.5 322.7h0M481 342.5h0M480.6 347.6h0M481.9 339.7h0M481.6 321.5h0M481.9 318.9h0M481.4 361.4h0M520.3 315.6h0M520.1 331.2h0M520 312.8h0M519.1 324.4h0M519.5 357h0M519.2 353.5h0M519.9 348.9h0M519.1 302.5h0M519.3 356.5h0M520.4 343.9h0M519.4 337.1h0M518.9 327.2h0M520.4 361h0M519.8 333h0M519.1 350.8h0M520 300.4h0M520.3 342h0M518.9 353.3h0M520 335h0M519.3 344.3h0M519.2 316.5h0M519 322.7h0M520.2 326h0M519.4 319.1h0M519.7 320.6h0M519.1 327.6h0M520 358.5h0M520.5 361.2h0M519.9 305.6h0M519.4 347.9h0M520.2 302.2h0M519.9 341.3h0M519.9 359.1h0M519.3 327.6h0M519.5 343.3h0M519.1 342.7h0M558.6 345.5h0M558.7 308.8h0M557.7 305.4h0M559 355.8h0M558.9 357.6h0M557.8 358.6h0M558.1 321h0M558.4 350.5h0M557.9 333.5h0M558.7 322.4h0M558.1 307.4h0M558.1 328.1h0M558 354.8h0M558 303h0M557.9 305.7h0M557.9 342.2h0M559 352.6h0M557.7 334.9h0M557.9 333.9h0M558.1 343.3h0M558.2 345.1h0M558.5 328.4h0M557.7 302h0M558.6 324.2h0M558.4 327.5h0M558.5 304.5h0M557.8 306.1h0M557.8 331h0M558.7 311.8h0M558.1 345.8h0M558.5 311.8h0M558.8 311.4h0M558.4 328.8h0M558 328.7h0M558.8 326.1h0M557.7 300.4h0" stroke="#029E73" stroke-width="4.0" stroke-linecap="round" fill="none"/>
</g>
<path d="M51.4 47V377.8H682.7" stroke="#7f7f7f" stroke-width="1" fill="none"/>
<path d="M51.4 347.4h18M51.4 317.3h10M51.4 299.6h10M51.4 287.1h10M51.4 277.4h10M51.4 269.5h10M51.4 262.8h10M51.4 257h10M51.4 251.9h10M51.4 247.3h18M51.4 217.2h10M51.4 199.5h10M51.4 187h10M51.4 177.3h10M51.4 169.4h10M51.4 162.7h10M51.4 156.9h10M51.4 151.8h10M51.4 147.2h18M51.4 117.1h10M51.4 99.4h10M51.4 86.9h10M51.4 77.2h10M51.4 69.3h10M51.4 62.6h10M51.4 56.8h10M51.4 51.7h10M51.4 47.1h18M59.3 377.8v9M69.4 377.8v9M79.6 377.8v9M89.7 377.8v9M99.9 377.8v9M110 377.8v9M120.1 377.8v9M130.3 377.8v9M140.4 377.8v9M150.6 377.8v18M160.7 377.8v9M170.9 377.8v9M181 377.8v9M191.1 377.8v9M201.3 377.8v9M211.4 377.8v9M221.6 377.8v9M231.7 377.8v9M241.8 377.8v9M252 377.8v18M262.1 377.8v9M272.3 377.8v9M282.4 377.8v9M292.6 377.8v9M302.7 377.8v9M312.8 377.8v9M323 377.8v9M333.1 377.8v9M343.3 377.8v9M353.4 377.8v18M363.6 377.8v9M373.7 377.8v9M383.8 377.8v9M394 377.8v9M404.1 377.8v9M414.3 377.8v9M424.4 377.8v9M434.5 377.8v9M444.7 377.8v9M454.8 377.8v18M465 377.8v9M475.1 377.8v9M485.3 377.8v9M495.4 377.8v9M505.5 377.8v9M515.7 377.8v9M525.8 377.8v9M536 377.8v9M546.1 377.8v9M556.2 377.8v18M566.4 377.8v9M576.5 377.8v9M586.7 377.8v9M596.8 377.8v9M607 377.8v9M617.1 377.8v9M627.2 377.8v9M637.4 377.8v9M647.5 377.8v9M657.7 377.8v18M667.8 377.8v9M678 377.8v9" stroke="#7f7f7f" stroke-width="1" fill="none"/>
<text x="150.6" y="409.6" text-anchor="middle" textLength="24.8" lengthAdjust="spacingAndGlyphs">100</text>
<text x="252" y="409.6" text-anchor="middle" textLength="24.8" lengthAdjust="spacingAndGlyphs">200</text>
<text x="353.4" y="409.6" text-anchor="middle" textLength="24.8" lengthAdjust="spacingAndGlyphs">300</text>
<text x="454.8" y="409.6" text-anchor="middle" textLength="24.8" lengthAdjust="spacingAndGlyphs">400</text>
<text x="556.2" y="409.6" text-anchor="middle" textLength="24.8" lengthAdjust="spacingAndGlyphs">500</text>
<text x="657.7" y="409.6" text-anchor="middle" textLength="24.8" lengthAdjust="spacingAndGlyphs">600</text>
<text x="367.3" y="423" text-anchor="middle" textLength="25.4" lengthAdjust="spacingAndGlyphs">m/z</text>
<text x="22.7" y="353.5" style="font-size:13.3px" textLength="16.6" lengthAdjust="spacingAndGlyphs">10</text>
<text x="39.9" y="347" style="font-size:8.8px" textLength="4.6" lengthAdjust="spacingAndGlyphs">2</text>
<text x="22.7" y="253.4" style="font-size:13.3px" textLength="16.6" lengthAdjust="spacingAndGlyphs">10</text>
<text x="39.9" y="246.9" style="font-size:8.8px" textLength="4.6" lengthAdjust="spacingAndGlyphs">3</text>
<text x="22.7" y="153.3" style="font-size:13.3px" textLength="16.6" lengthAdjust="spacingAndGlyphs">10</text>
<text x="39.9" y="146.8" style="font-size:8.8px" textLength="4.6" lengthAdjust="spacingAndGlyphs">4</text>
<text x="22.7" y="53.2" style="font-size:13.3px" textLength="16.6" lengthAdjust="spacingAndGlyphs">10</text>
<text x="39.9" y="46.7" style="font-size:8.8px" textLength="4.6" lengthAdjust="spacingAndGlyphs">5</text>
<text transform="translate(13.1 262.6) rotate(-90)" style="font-size:13.2px" textLength="100.1" lengthAdjust="spacingAndGlyphs">Signal intensity</text>
<rect x="237.6" y="8.6" width="159.2" height="87.7" fill="#fff" stroke="#7f7f7f" stroke-width="1"/>
<path d="M237.6 95.9h2M396.8 95.9h-2M237.6 92.9h2M396.8 92.9h-2M237.6 90.4h2M396.8 90.4h-2M237.6 88.2h2M396.8 88.2h-2M237.6 86.2h2M396.8 86.2h-2M237.6 84.5h4M396.8 84.5h-4M237.6 73.1h2M396.8 73.1h-2M237.6 66.4h2M396.8 66.4h-2M237.6 61.7h2M396.8 61.7h-2M237.6 58h2M396.8 58h-2M237.6 55h2M396.8 55h-2M237.6 52.5h2M396.8 52.5h-2M237.6 50.3h2M396.8 50.3h-2M237.6 48.3h2M396.8 48.3h-2M237.6 46.6h4M396.8 46.6h-4M237.6 35.2h2M396.8 35.2h-2M237.6 28.5h2M396.8 28.5h-2M237.6 23.8h2M396.8 23.8h-2M237.6 20.1h2M396.8 20.1h-2M237.6 17.1h2M396.8 17.1h-2M237.6 14.6h2M396.8 14.6h-2M237.6 12.4h2M396.8 12.4h-2M237.6 10.4h2M396.8 10.4h-2M237.6 8.6v5M237.6 96.3v4.4M247.6 8.6v2.5M247.6 96.3v2.2M257.5 8.6v2.5M257.5 96.3v2.2M267.5 8.6v2.5M267.5 96.3v2.2M277.5 8.6v5M277.5 96.3v4.4M287.4 8.6v2.5M287.4 96.3v2.2M297.4 8.6v2.5M297.4 96.3v2.2M307.4 8.6v2.5M307.4 96.3v2.2M317.4 8.6v5M317.4 96.3v4.4M327.3 8.6v2.5M327.3 96.3v2.2M337.3 8.6v2.5M337.3 96.3v2.2M347.3 8.6v2.5M347.3 96.3v2.2M357.2 8.6v5M357.2 96.3v4.4M367.2 8.6v2.5M367.2 96.3v2.2M377.2 8.6v2.5M377.2 96.3v2.2M387.1 8.6v2.5M387.1 96.3v2.2M397.1 8.6v5M397.1 96.3v4.4" stroke="#7f7f7f" stroke-width="1" fill="none"/>
<clipPath id="ci"><rect x="237.6" y="8.6" width="159.2" height="87.7"/></clipPath><g clip-path="url(#ci)"><path d="M237.6 93 238 130 253.2 130 253.6 94.3 254 130 259.1 130 259.5 94.4 259.9 130 262.7 130 263.1 94.4 263.5 130 266.3 130 266.7 90.9 267.1 91.1 267.5 94.7 267.9 130 272.3 130 272.7 83.8 273.1 130 278.3 130 278.7 91.4 279.1 130 285.1 130 285.5 92.7 285.9 95.8 286.3 130 287.4 130 287.8 93.4 288.2 130 290.6 130 291 90.8 291.4 130 293.8 130 294.2 93 294.6 130 296.2 130 296.6 92.8 297 130 297.4 93.4 297.8 90.9 298.2 87.7 298.6 84.9 299 81.5 299.4 78.2 299.8 76.7 300.2 74.2 300.6 72.1 301 71.4 301.4 69.1 301.8 67.6 302.2 66.1 302.6 64.7 303 63.4 303.4 61.9 303.8 61.3 304.2 59.2 304.6 58.1 305 56.3 305.4 55.1 305.8 53.2 306.2 51.7 306.6 50.6 307 49.2 307.4 47.9 307.8 47.1 308.2 46 308.6 45.2 309 43.9 309.4 43.1 309.8 41.9 310.2 41.9 310.6 39.9 311 39.7 311.4 38.8 311.8 37.6 312.2 36.8 312.6 35.5 313 34.9 313.4 34.2 313.8 33.2 314.2 31.3 314.6 30.9 315 30.5 315.4 29.1 315.8 28.8 316.2 26.4 316.6 27.6 317 26.4 317.4 26 317.8 26.6 318.2 25.5 318.6 24.9 319 24.8 319.4 24.6 319.8 24 320.2 24.4 320.6 24.6 320.9 25.1 321.3 25.1 321.7 26.1 322.1 25.6 322.5 26.5 322.9 27.1 323.3 26.7 323.7 26.4 324.1 27.7 324.5 29.3 324.9 29.7 325.3 31.1 325.7 31.9 326.1 32.8 326.5 34.8 326.9 34.6 327.3 36.1 327.7 36.9 328.1 38.2 328.5 39.1 328.9 39.8 329.3 40 329.7 40.5 330.1 42.2 330.5 42.6 330.9 44.2 331.3 45.9 331.7 45.9 332.1 46.7 332.5 48.1 332.9 49.2 333.3 50.5 333.7 52.5 334.1 54.2 334.5 55 334.9 56.4 335.3 57.9 335.7 58.7 336.1 59.8 336.5 62.2 336.9 63.2 337.3 64.5 337.7 66 338.1 67.3 338.5 69.4 338.9 70.7 339.3 72.1 339.7 74.7 340.1 77.4 340.5 78.8 340.9 80.6 341.3 83.8 341.7 88.2 342.1 90.7 342.5 84 342.9 130 343.3 95.5 343.7 89.1 344.1 90.5 344.5 130 344.9 89.9 345.3 95.1 345.7 94.8 346.1 90.2 346.5 92.8 346.9 93.1 347.3 130 347.7 92.2 348.1 130 348.9 130 349.3 93.9 349.7 130 360 130 360.4 95.1 360.8 130 361.2 130 361.6 85.9 362 130 367.6 130 368 87.9 368.4 130 370.4 130 370.8 89.6 371.2 130 371.6 93.9 372 130 372.4 91.3 372.8 88 373.2 88.9 373.6 130 376 130 376.4 95.8 376.8 130 377.6 130 378 83.8 378.4 130 379.2 130 379.6 90.7 380 130 385.6 130 386 83.8 386.4 130 388.7 130 389.1 95.2 389.5 130 389.9 94.3 390.3 130 391.1 130 391.5 95.3 391.9 130 396.3 130 396.7 93.4 397.1 130" stroke="#9a9a9a" stroke-width="1" fill="none"/><path d="M237.6 93h0M253.6 94.3h0M259.5 94.4h0M263.1 94.4h0M266.7 90.9h0M267.1 91.1h0M267.5 94.7h0M272.7 83.8h0M278.7 91.4h0M285.5 92.7h0M285.9 95.8h0M287.8 93.4h0M291 90.8h0M294.2 93h0M296.6 92.8h0M297.4 93.4h0M297.8 90.9h0M298.2 87.7h0M298.6 84.9h0M299 81.5h0M299.4 78.2h0M299.8 76.7h0M300.2 74.2h0M300.6 72.1h0M301 71.4h0M301.4 69.1h0M301.8 67.6h0M302.2 66.1h0M302.6 64.7h0M303 63.4h0M303.4 61.9h0M303.8 61.3h0M304.2 59.2h0M304.6 58.1h0M305 56.3h0M305.4 55.1h0M305.8 53.2h0M306.2 51.7h0M306.6 50.6h0M307 49.2h0M307.4 47.9h0M307.8 47.1h0M308.2 46h0M308.6 45.2h0M309 43.9h0M309.4 43.1h0M309.8 41.9h0M310.2 41.9h0M310.6 39.9h0M311 39.7h0M311.4 38.8h0M311.8 37.6h0M312.2 36.8h0M312.6 35.5h0M313 34.9h0M313.4 34.2h0M313.8 33.2h0M314.2 31.3h0M314.6 30.9h0M315 30.5h0M315.4 29.1h0M315.8 28.8h0M316.2 26.4h0M316.6 27.6h0M317 26.4h0M317.4 26h0M317.8 26.6h0M318.2 25.5h0M318.6 24.9h0M319 24.8h0M319.4 24.6h0M319.8 24h0M320.2 24.4h0M320.6 24.6h0M320.9 25.1h0M321.3 25.1h0M321.7 26.1h0M322.1 25.6h0M322.5 26.5h0M322.9 27.1h0M323.3 26.7h0M323.7 26.4h0M324.1 27.7h0M324.5 29.3h0M324.9 29.7h0M325.3 31.1h0M325.7 31.9h0M326.1 32.8h0M326.5 34.8h0M326.9 34.6h0M327.3 36.1h0M327.7 36.9h0M328.1 38.2h0M328.5 39.1h0M328.9 39.8h0M329.3 40h0M329.7 40.5h0M330.1 42.2h0M330.5 42.6h0M330.9 44.2h0M331.3 45.9h0M331.7 45.9h0M332.1 46.7h0M332.5 48.1h0M332.9 49.2h0M333.3 50.5h0M333.7 52.5h0M334.1 54.2h0M334.5 55h0M334.9 56.4h0M335.3 57.9h0M335.7 58.7h0M336.1 59.8h0M336.5 62.2h0M336.9 63.2h0M337.3 64.5h0M337.7 66h0M338.1 67.3h0M338.5 69.4h0M338.9 70.7h0M339.3 72.1h0M339.7 74.7h0M340.1 77.4h0M340.5 78.8h0M340.9 80.6h0M341.3 83.8h0M341.7 88.2h0M342.1 90.7h0M342.5 84h0M343.3 95.5h0M343.7 89.1h0M344.1 90.5h0M344.9 89.9h0M345.3 95.1h0M345.7 94.8h0M346.1 90.2h0M346.5 92.8h0M346.9 93.1h0M347.7 92.2h0M349.3 93.9h0M360.4 95.1h0M361.6 85.9h0M368 87.9h0M370.8 89.6h0M371.6 93.9h0M372.4 91.3h0M372.8 88h0M373.2 88.9h0M376.4 95.8h0M378 83.8h0M379.6 90.7h0M386 83.8h0M389.1 95.2h0M389.9 94.3h0M391.5 95.3h0M396.7 93.4h0" stroke="#000" stroke-width="3" stroke-linecap="round" fill="none"/></g>
<line x1="317.4" y1="8.6" x2="317.4" y2="96.3" stroke="#d62728" stroke-width="2" stroke-dasharray="5 3" stroke-dashoffset="3.7"/>
<text x="237.6" y="115" text-anchor="middle" textLength="23.7" lengthAdjust="spacingAndGlyphs">260</text>
<text x="277.5" y="115" text-anchor="middle" textLength="23.7" lengthAdjust="spacingAndGlyphs">262</text>
<text x="317.4" y="115" text-anchor="middle" textLength="23.7" lengthAdjust="spacingAndGlyphs">264</text>
<text x="357.2" y="115" text-anchor="middle" textLength="23.7" lengthAdjust="spacingAndGlyphs">266</text>
<text x="397.1" y="115" text-anchor="middle" textLength="23.7" lengthAdjust="spacingAndGlyphs">268</text>
<text x="411.6" y="115.5" textLength="25.2" lengthAdjust="spacingAndGlyphs">m/z</text>
<text x="231.9" y="13.2" text-anchor="end" textLength="40.9" lengthAdjust="spacingAndGlyphs">10000</text>
<text x="231.9" y="51.1" text-anchor="end" textLength="33" lengthAdjust="spacingAndGlyphs">1000</text>
<text x="231.9" y="89" text-anchor="end" textLength="24.8" lengthAdjust="spacingAndGlyphs">100</text>
<text transform="translate(180.4 101.8) rotate(-90)" style="font-size:11.6px" textLength="88.5" lengthAdjust="spacingAndGlyphs">Signal intensity</text>
<line x1="317.5" y1="120.5" x2="317.5" y2="181" stroke="#000" stroke-width="2"/>
<rect x="497" y="4.6" width="117" height="106.6" fill="#fff" stroke="#999" stroke-width="1"/>
<circle cx="505.6" cy="19.3" r="2" fill="#56B4E9"/>
<text x="514.5" y="23.7" textLength="38.1" lengthAdjust="spacingAndGlyphs">Water</text>
<circle cx="505.6" cy="38.6" r="2" fill="#0173B2"/>
<text x="514.5" y="43" textLength="57" lengthAdjust="spacingAndGlyphs">Nitrogen</text>
<circle cx="505.6" cy="57.9" r="2" fill="#D55E00"/>
<text x="514.5" y="62.3" textLength="51" lengthAdjust="spacingAndGlyphs">Oxygen</text>
<circle cx="505.6" cy="77.2" r="2" fill="#E69F00"/>
<text x="514.5" y="81.6" textLength="91" lengthAdjust="spacingAndGlyphs">Hydrocarbons</text>
<circle cx="505.6" cy="96.5" r="2" fill="#029E73"/>
<text x="514.5" y="100.9" textLength="35.2" lengthAdjust="spacingAndGlyphs">FC43</text>
</svg>
</body></html>
